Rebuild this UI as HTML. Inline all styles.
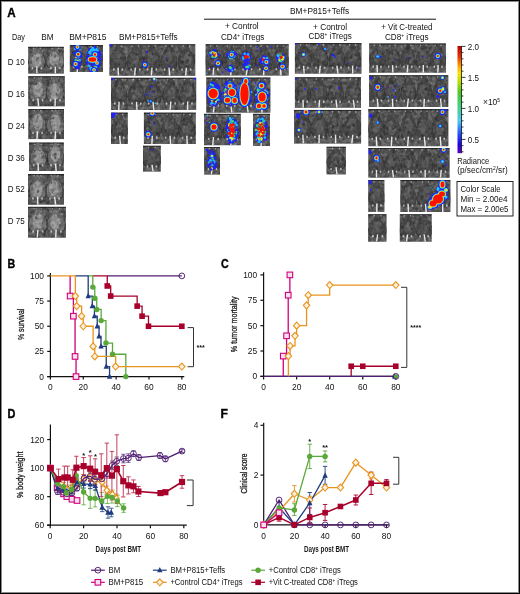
<!DOCTYPE html>
<html><head><meta charset="utf-8"><style>
html,body{margin:0;padding:0;background:#fff;}
#f{position:relative;width:520px;height:594px;overflow:hidden;}
svg{position:absolute;left:0;top:0;will-change:transform;}
#bd{position:absolute;left:0;top:0;width:520px;height:594px;box-sizing:border-box;border:1px solid #000;box-shadow:inset 0 0 0 1px rgba(0,0,0,0.45);}
</style></head><body><div id="f">
<svg width="520" height="594" viewBox="0 0 520 594" font-family="Liberation Sans, sans-serif">
<text x="7.20" y="17.30" font-size="12" textLength="8.40" lengthAdjust="spacingAndGlyphs" font-weight="bold" fill="#000" stroke="#000" stroke-width="0.35">A</text>
<text x="11.90" y="39.50" font-size="8.4" textLength="12.90" lengthAdjust="spacingAndGlyphs" fill="#111" >Day</text>
<text x="41.30" y="39.50" font-size="8.4" textLength="12.30" lengthAdjust="spacingAndGlyphs" fill="#111" >BM</text>
<text x="69.20" y="39.60" font-size="8.4" textLength="37.20" lengthAdjust="spacingAndGlyphs" fill="#111" >BM+P815</text>
<text x="118.90" y="39.50" font-size="8.4" textLength="58.80" lengthAdjust="spacingAndGlyphs" fill="#111" >BM+P815+Teffs</text>
<text x="290.00" y="14.40" font-size="8.4" textLength="59.20" lengthAdjust="spacingAndGlyphs" fill="#111" >BM+P815+Teffs</text>
<line x1="204" y1="19.2" x2="436" y2="19.2" stroke="#111" stroke-width="1"/>
<text x="225.00" y="29.40" font-size="8.4" textLength="33.70" lengthAdjust="spacingAndGlyphs" fill="#111" >+ Control</text>
<text x="221.00" y="39.50" font-size="8.4" textLength="43.40" lengthAdjust="spacingAndGlyphs" fill="#111" >CD4<tspan font-size="5" dy="-3">+</tspan><tspan dy="3"> iTregs</tspan></text>
<text x="313.00" y="29.60" font-size="8.4" textLength="34.00" lengthAdjust="spacingAndGlyphs" fill="#111" >+ Control</text>
<text x="308.50" y="39.40" font-size="8.4" textLength="43.20" lengthAdjust="spacingAndGlyphs" fill="#111" >CD8<tspan font-size="5" dy="-3">+</tspan><tspan dy="3"> iTregs</tspan></text>
<text x="381.20" y="29.80" font-size="8.4" textLength="51.30" lengthAdjust="spacingAndGlyphs" fill="#111" >+ Vit C-treated</text>
<text x="385.00" y="39.70" font-size="8.4" textLength="43.60" lengthAdjust="spacingAndGlyphs" fill="#111" >CD8<tspan font-size="5" dy="-3">+</tspan><tspan dy="3"> iTregs</tspan></text>
<text x="7.70" y="64.90" font-size="8.4" textLength="17.00" lengthAdjust="spacingAndGlyphs" fill="#111" >D 10</text>
<text x="7.70" y="96.70" font-size="8.4" textLength="17.00" lengthAdjust="spacingAndGlyphs" fill="#111" >D 16</text>
<text x="7.70" y="128.70" font-size="8.4" textLength="17.00" lengthAdjust="spacingAndGlyphs" fill="#111" >D 24</text>
<text x="7.70" y="160.90" font-size="8.4" textLength="17.00" lengthAdjust="spacingAndGlyphs" fill="#111" >D 36</text>
<text x="7.70" y="192.40" font-size="8.4" textLength="17.00" lengthAdjust="spacingAndGlyphs" fill="#111" >D 52</text>
<text x="7.70" y="224.20" font-size="8.4" textLength="17.00" lengthAdjust="spacingAndGlyphs" fill="#111" >D 75</text>
<defs><filter id="bl" color-interpolation-filters="sRGB" x="-20%" y="-20%" width="140%" height="140%"><feGaussianBlur stdDeviation="0.55"/></filter><filter id="noise" color-interpolation-filters="sRGB" x="0" y="0" width="100%" height="100%"><feTurbulence type="fractalNoise" baseFrequency="0.28" numOctaves="3" seed="4"/><feColorMatrix type="matrix" values="1.5 0 0 0 -0.25  1.5 0 0 0 -0.25  1.5 0 0 0 -0.25  0 0 0 0 0.25"/></filter><filter id="bl2" color-interpolation-filters="sRGB" x="-50%" y="-50%" width="200%" height="200%"><feGaussianBlur stdDeviation="0.7"/></filter><linearGradient id="cbar" x1="0" y1="0" x2="0" y2="1"><stop offset="0" stop-color="#b80000"/><stop offset="0.1" stop-color="#e83000"/><stop offset="0.2" stop-color="#ffb000"/><stop offset="0.25" stop-color="#f8e000"/><stop offset="0.33" stop-color="#b8e000"/><stop offset="0.43" stop-color="#50c820"/><stop offset="0.58" stop-color="#40d090"/><stop offset="0.7" stop-color="#50c8f0"/><stop offset="0.82" stop-color="#2050ff"/><stop offset="0.92" stop-color="#2000e8"/><stop offset="1" stop-color="#6000c0"/></linearGradient></defs>
<g><rect x="28.2" y="46.8" width="35.6" height="26.8" fill="#464646"/>
<clipPath id="cp0"><rect x="28.2" y="46.8" width="35.6" height="26.8"/></clipPath>
<g clip-path="url(#cp0)"><g filter="url(#bl)">
<rect x="28.2" y="46.8" width="35.6" height="1.2" fill="#2a2a2a"/>
<path d="M36.9,47.8 L38.7,48.4 L39.7,50.0 L40.7,52.1 L43.1,54.8 L44.7,58.0 L45.9,62.0 L45.1,65.3 L44.2,67.7 L41.2,68.7 L38.2,69.0 L35.6,69.0 L32.6,68.7 L29.6,67.7 L28.7,65.3 L27.9,62.0 L29.0,58.0 L30.7,54.8 L33.1,52.1 L34.1,50.0 L35.1,48.4 L36.9,47.8 Z" fill="#363636"/>
<path d="M36.9,47.3 L38.6,47.9 L39.5,49.5 L40.3,51.6 L42.5,54.3 L44.0,57.5 L45.1,61.5 L44.3,64.8 L43.5,67.2 L40.8,68.2 L38.1,68.5 L35.7,68.5 L33.0,68.2 L30.2,67.2 L29.5,64.8 L28.7,61.5 L29.8,57.5 L31.2,54.3 L33.4,51.6 L34.3,49.5 L35.2,47.9 L36.9,47.3 Z" fill="#6a6a6a"/>
<ellipse cx="36.7" cy="60.0" rx="4.9" ry="7.2" fill="#989898" opacity="0.85"/>
<ellipse cx="32.6" cy="53.4" rx="1.1" ry="1.3" fill="#5c5c5c"/>
<ellipse cx="42.3" cy="50.3" rx="0.9" ry="1.0" fill="#626262"/>
<ellipse cx="32.5" cy="54.9" rx="0.7" ry="1.5" fill="#626262"/>
<ellipse cx="33.3" cy="51.2" rx="1.1" ry="1.5" fill="#5c5c5c"/>
<ellipse cx="36.8" cy="58.7" rx="1.0" ry="1.9" fill="#767676"/>
<ellipse cx="35.3" cy="53.8" rx="1.2" ry="1.1" fill="#626262"/>
<ellipse cx="37.7" cy="58.6" rx="1.3" ry="1.1" fill="#767676"/>
<ellipse cx="42.4" cy="51.5" rx="0.7" ry="1.2" fill="#7c7c7c"/>
<ellipse cx="41.9" cy="56.8" rx="1.3" ry="1.5" fill="#5c5c5c"/>
<ellipse cx="41.2" cy="54.9" rx="1.1" ry="1.5" fill="#767676"/>
<circle cx="33.6" cy="48.4" r="0.8" fill="#9a9a9a"/>
<ellipse cx="32.4" cy="68.2" rx="0.9" ry="1.2" fill="#b8b8b8"/>
<circle cx="40.2" cy="48.4" r="0.8" fill="#9a9a9a"/>
<ellipse cx="41.4" cy="68.2" rx="0.9" ry="1.2" fill="#b8b8b8"/>
<line x1="36.9" y1="66.6" x2="36.8" y2="73.6" stroke="#e8e8e8" stroke-width="1.4"/>
<path d="M55.3,47.8 L57.1,48.4 L58.3,50.0 L58.9,52.1 L61.8,54.8 L63.7,58.0 L64.8,62.0 L64.3,65.3 L62.5,67.7 L59.7,68.7 L56.7,69.0 L53.9,69.0 L50.9,68.7 L48.1,67.7 L46.3,65.3 L45.8,62.0 L46.9,58.0 L48.9,54.8 L51.7,52.1 L52.3,50.0 L53.5,48.4 L55.3,47.8 Z" fill="#363636"/>
<path d="M55.3,47.3 L56.9,47.9 L58.1,49.5 L58.6,51.6 L61.2,54.3 L63.0,57.5 L64.0,61.5 L63.5,64.8 L61.8,67.2 L59.3,68.2 L56.6,68.5 L54.1,68.5 L51.3,68.2 L48.8,67.2 L47.1,64.8 L46.6,61.5 L47.6,57.5 L49.4,54.3 L52.1,51.6 L52.6,49.5 L53.7,47.9 L55.3,47.3 Z" fill="#6a6a6a"/>
<ellipse cx="54.2" cy="59.0" rx="4.9" ry="7.2" fill="#989898" opacity="0.85"/>
<ellipse cx="51.5" cy="51.5" rx="0.8" ry="1.1" fill="#5c5c5c"/>
<ellipse cx="58.0" cy="56.4" rx="0.7" ry="1.3" fill="#7c7c7c"/>
<ellipse cx="55.9" cy="64.9" rx="1.4" ry="1.1" fill="#7c7c7c"/>
<ellipse cx="54.3" cy="55.7" rx="1.5" ry="1.0" fill="#7c7c7c"/>
<ellipse cx="51.6" cy="53.5" rx="0.6" ry="1.8" fill="#626262"/>
<ellipse cx="51.7" cy="54.4" rx="1.0" ry="1.2" fill="#626262"/>
<ellipse cx="56.1" cy="66.1" rx="1.0" ry="1.8" fill="#5c5c5c"/>
<ellipse cx="60.5" cy="61.3" rx="1.0" ry="1.3" fill="#7c7c7c"/>
<ellipse cx="55.1" cy="56.5" rx="0.7" ry="1.1" fill="#626262"/>
<ellipse cx="51.4" cy="55.4" rx="0.7" ry="1.5" fill="#5c5c5c"/>
<circle cx="52.0" cy="48.4" r="0.8" fill="#9a9a9a"/>
<ellipse cx="50.8" cy="68.2" rx="0.9" ry="1.2" fill="#b8b8b8"/>
<circle cx="58.6" cy="48.4" r="0.8" fill="#9a9a9a"/>
<ellipse cx="59.8" cy="68.2" rx="0.9" ry="1.2" fill="#b8b8b8"/>
<line x1="55.3" y1="66.6" x2="55.4" y2="73.6" stroke="#e8e8e8" stroke-width="1.4"/>
</g>
<rect x="28.2" y="46.8" width="35.6" height="26.8" filter="url(#noise)" style="mix-blend-mode:overlay"/>
</g></g>
<g><rect x="28.2" y="76.2" width="36.6" height="30.1" fill="#464646"/>
<clipPath id="cp1"><rect x="28.2" y="76.2" width="36.6" height="30.1"/></clipPath>
<g clip-path="url(#cp1)"><g filter="url(#bl)">
<rect x="28.2" y="76.2" width="36.6" height="1.2" fill="#2a2a2a"/>
<path d="M37.9,77.3 L39.6,77.9 L40.8,79.7 L41.7,82.1 L44.5,85.1 L46.9,88.7 L47.3,93.3 L46.8,96.9 L45.1,99.6 L42.5,100.8 L39.4,101.1 L36.4,101.1 L33.3,100.8 L30.6,99.6 L29.0,96.9 L28.5,93.3 L28.9,88.7 L31.3,85.1 L34.1,82.1 L34.9,79.7 L36.1,77.9 L37.9,77.3 Z" fill="#363636"/>
<path d="M37.9,76.8 L39.5,77.4 L40.6,79.2 L41.4,81.6 L43.9,84.6 L46.1,88.2 L46.4,92.8 L45.9,96.4 L44.5,99.1 L42.1,100.3 L39.2,100.6 L36.6,100.6 L33.7,100.3 L31.3,99.1 L29.8,96.4 L29.4,92.8 L29.7,88.2 L31.9,84.6 L34.4,81.6 L35.2,79.2 L36.3,77.4 L37.9,76.8 Z" fill="#6a6a6a"/>
<ellipse cx="37.8" cy="89.5" rx="5.1" ry="8.1" fill="#989898" opacity="0.85"/>
<ellipse cx="33.7" cy="93.9" rx="1.0" ry="1.6" fill="#767676"/>
<ellipse cx="38.1" cy="83.2" rx="0.7" ry="1.5" fill="#767676"/>
<ellipse cx="32.3" cy="89.5" rx="1.2" ry="1.1" fill="#5c5c5c"/>
<ellipse cx="36.3" cy="82.5" rx="1.1" ry="1.7" fill="#626262"/>
<ellipse cx="35.9" cy="83.6" rx="1.3" ry="1.8" fill="#626262"/>
<ellipse cx="40.7" cy="83.6" rx="0.9" ry="0.8" fill="#7c7c7c"/>
<ellipse cx="32.3" cy="84.7" rx="0.8" ry="1.5" fill="#767676"/>
<ellipse cx="36.1" cy="95.0" rx="1.5" ry="1.2" fill="#767676"/>
<ellipse cx="34.6" cy="83.6" rx="0.9" ry="1.4" fill="#626262"/>
<ellipse cx="43.6" cy="91.1" rx="1.0" ry="1.6" fill="#5c5c5c"/>
<circle cx="34.5" cy="78.0" r="0.8" fill="#9a9a9a"/>
<ellipse cx="33.3" cy="100.3" rx="0.9" ry="1.2" fill="#b8b8b8"/>
<circle cx="41.3" cy="78.0" r="0.8" fill="#9a9a9a"/>
<ellipse cx="42.5" cy="100.3" rx="0.9" ry="1.2" fill="#b8b8b8"/>
<line x1="37.9" y1="98.5" x2="38.6" y2="106.3" stroke="#e8e8e8" stroke-width="1.4"/>
<path d="M55.2,77.3 L57.1,77.9 L58.3,79.7 L59.2,82.1 L61.6,85.1 L63.3,88.7 L64.7,93.3 L63.9,96.9 L63.0,99.6 L60.0,100.8 L56.5,101.1 L53.8,101.1 L50.3,100.8 L47.3,99.6 L46.4,96.9 L45.6,93.3 L47.0,88.7 L48.7,85.1 L51.1,82.1 L52.0,79.7 L53.2,77.9 L55.2,77.3 Z" fill="#363636"/>
<path d="M55.2,76.8 L56.9,77.4 L58.0,79.2 L58.8,81.6 L61.0,84.6 L62.6,88.2 L63.9,92.8 L63.1,96.4 L62.3,99.1 L59.6,100.3 L56.4,100.6 L53.9,100.6 L50.7,100.3 L48.0,99.1 L47.2,96.4 L46.4,92.8 L47.7,88.2 L49.3,84.6 L51.5,81.6 L52.3,79.2 L53.4,77.4 L55.2,76.8 Z" fill="#6a6a6a"/>
<ellipse cx="54.9" cy="91.4" rx="5.1" ry="8.1" fill="#989898" opacity="0.85"/>
<ellipse cx="57.8" cy="82.5" rx="0.6" ry="1.5" fill="#626262"/>
<ellipse cx="54.7" cy="92.0" rx="1.2" ry="1.2" fill="#7c7c7c"/>
<ellipse cx="55.7" cy="81.8" rx="1.3" ry="1.7" fill="#5c5c5c"/>
<ellipse cx="50.5" cy="93.9" rx="1.0" ry="1.8" fill="#626262"/>
<ellipse cx="59.0" cy="83.3" rx="0.8" ry="1.4" fill="#767676"/>
<ellipse cx="58.3" cy="85.6" rx="1.4" ry="0.9" fill="#7c7c7c"/>
<ellipse cx="58.0" cy="96.8" rx="1.3" ry="1.9" fill="#7c7c7c"/>
<ellipse cx="50.8" cy="82.2" rx="1.4" ry="1.7" fill="#5c5c5c"/>
<ellipse cx="56.4" cy="94.4" rx="0.8" ry="1.4" fill="#626262"/>
<ellipse cx="57.8" cy="90.1" rx="1.2" ry="1.4" fill="#767676"/>
<circle cx="51.8" cy="78.0" r="0.8" fill="#9a9a9a"/>
<ellipse cx="50.5" cy="100.3" rx="0.9" ry="1.2" fill="#b8b8b8"/>
<circle cx="58.5" cy="78.0" r="0.8" fill="#9a9a9a"/>
<ellipse cx="59.8" cy="100.3" rx="0.9" ry="1.2" fill="#b8b8b8"/>
<line x1="55.2" y1="98.5" x2="55.1" y2="106.3" stroke="#e8e8e8" stroke-width="1.4"/>
</g>
<rect x="28.2" y="76.2" width="36.6" height="30.1" filter="url(#noise)" style="mix-blend-mode:overlay"/>
</g></g>
<g><rect x="28.3" y="109.0" width="35.7" height="30.1" fill="#464646"/>
<clipPath id="cp2"><rect x="28.3" y="109.0" width="35.7" height="30.1"/></clipPath>
<g clip-path="url(#cp2)"><g filter="url(#bl)">
<rect x="28.3" y="109.0" width="35.7" height="1.2" fill="#2a2a2a"/>
<path d="M37.6,110.1 L39.3,110.7 L40.4,112.5 L41.1,114.9 L43.6,117.9 L45.8,121.5 L46.1,126.1 L46.6,129.7 L44.6,132.4 L42.0,133.6 L39.0,133.9 L36.1,133.9 L33.1,133.6 L30.5,132.4 L28.5,129.7 L29.0,126.1 L29.3,121.5 L31.5,117.9 L34.0,114.9 L34.7,112.5 L35.8,110.7 L37.6,110.1 Z" fill="#363636"/>
<path d="M37.6,109.6 L39.1,110.2 L40.2,112.0 L40.8,114.4 L43.0,117.4 L45.1,121.0 L45.3,125.6 L45.8,129.2 L43.9,131.9 L41.6,133.1 L38.9,133.4 L36.3,133.4 L33.5,133.1 L31.2,131.9 L29.3,129.2 L29.8,125.6 L30.0,121.0 L32.1,117.4 L34.3,114.4 L34.9,112.0 L36.0,110.2 L37.6,109.6 Z" fill="#6a6a6a"/>
<ellipse cx="37.8" cy="121.9" rx="4.9" ry="8.1" fill="#989898" opacity="0.85"/>
<ellipse cx="35.0" cy="122.0" rx="1.1" ry="1.1" fill="#7c7c7c"/>
<ellipse cx="37.8" cy="129.1" rx="1.4" ry="1.9" fill="#767676"/>
<ellipse cx="34.1" cy="120.8" rx="0.7" ry="1.3" fill="#7c7c7c"/>
<ellipse cx="32.6" cy="116.7" rx="0.8" ry="1.2" fill="#5c5c5c"/>
<ellipse cx="33.2" cy="127.2" rx="0.7" ry="1.9" fill="#767676"/>
<ellipse cx="42.9" cy="116.3" rx="1.0" ry="1.4" fill="#5c5c5c"/>
<ellipse cx="43.2" cy="128.3" rx="1.2" ry="2.0" fill="#626262"/>
<ellipse cx="36.5" cy="120.3" rx="0.9" ry="1.7" fill="#767676"/>
<ellipse cx="32.0" cy="122.8" rx="1.2" ry="1.3" fill="#7c7c7c"/>
<ellipse cx="37.8" cy="117.8" rx="0.7" ry="1.9" fill="#5c5c5c"/>
<circle cx="34.3" cy="110.8" r="0.8" fill="#9a9a9a"/>
<ellipse cx="33.0" cy="133.1" rx="0.9" ry="1.2" fill="#b8b8b8"/>
<circle cx="40.8" cy="110.8" r="0.8" fill="#9a9a9a"/>
<ellipse cx="42.1" cy="133.1" rx="0.9" ry="1.2" fill="#b8b8b8"/>
<line x1="37.6" y1="131.3" x2="36.9" y2="139.1" stroke="#e8e8e8" stroke-width="1.4"/>
<path d="M55.5,110.1 L57.3,110.7 L58.7,112.5 L59.2,114.9 L62.0,117.9 L64.2,121.5 L64.9,126.1 L64.4,129.7 L63.3,132.4 L60.0,133.6 L56.9,133.9 L54.2,133.9 L51.1,133.6 L47.7,132.4 L46.7,129.7 L46.1,126.1 L46.9,121.5 L49.0,117.9 L51.9,114.9 L52.4,112.5 L53.8,110.7 L55.5,110.1 Z" fill="#363636"/>
<path d="M55.5,109.6 L57.1,110.2 L58.4,112.0 L58.8,114.4 L61.5,117.4 L63.4,121.0 L64.1,125.6 L63.6,129.2 L62.6,131.9 L59.6,133.1 L56.8,133.4 L54.3,133.4 L51.5,133.1 L48.4,131.9 L47.5,129.2 L47.0,125.6 L47.7,121.0 L49.6,117.4 L52.2,114.4 L52.7,112.0 L53.9,110.2 L55.5,109.6 Z" fill="#6a6a6a"/>
<ellipse cx="55.6" cy="122.8" rx="4.9" ry="8.1" fill="#989898" opacity="0.85"/>
<ellipse cx="53.5" cy="117.5" rx="1.0" ry="0.9" fill="#626262"/>
<ellipse cx="60.6" cy="124.4" rx="0.7" ry="1.8" fill="#767676"/>
<ellipse cx="50.5" cy="128.9" rx="0.6" ry="2.0" fill="#7c7c7c"/>
<ellipse cx="54.6" cy="129.9" rx="0.6" ry="1.7" fill="#626262"/>
<ellipse cx="60.6" cy="131.0" rx="0.6" ry="1.0" fill="#767676"/>
<ellipse cx="53.4" cy="118.0" rx="0.9" ry="1.4" fill="#626262"/>
<ellipse cx="51.8" cy="118.8" rx="1.5" ry="0.8" fill="#5c5c5c"/>
<ellipse cx="50.0" cy="121.9" rx="1.1" ry="1.1" fill="#626262"/>
<ellipse cx="54.9" cy="124.9" rx="1.2" ry="1.5" fill="#7c7c7c"/>
<ellipse cx="60.0" cy="131.0" rx="1.2" ry="2.0" fill="#767676"/>
<circle cx="52.2" cy="110.8" r="0.8" fill="#9a9a9a"/>
<ellipse cx="51.0" cy="133.1" rx="0.9" ry="1.2" fill="#b8b8b8"/>
<circle cx="58.8" cy="110.8" r="0.8" fill="#9a9a9a"/>
<ellipse cx="60.0" cy="133.1" rx="0.9" ry="1.2" fill="#b8b8b8"/>
<line x1="55.5" y1="131.3" x2="55.1" y2="139.1" stroke="#e8e8e8" stroke-width="1.4"/>
</g>
<rect x="28.3" y="109.0" width="35.7" height="30.1" filter="url(#noise)" style="mix-blend-mode:overlay"/>
</g></g>
<g><rect x="29.0" y="142.5" width="34.8" height="28.5" fill="#464646"/>
<clipPath id="cp3"><rect x="29.0" y="142.5" width="34.8" height="28.5"/></clipPath>
<g clip-path="url(#cp3)"><g filter="url(#bl)">
<rect x="29.0" y="142.5" width="34.8" height="1.2" fill="#2a2a2a"/>
<path d="M38.1,143.6 L39.9,144.1 L41.0,145.8 L41.7,148.1 L43.9,151.0 L45.8,154.4 L46.4,158.7 L46.8,162.1 L45.1,164.7 L42.3,165.8 L39.4,166.1 L36.8,166.1 L33.9,165.8 L31.1,164.7 L29.4,162.1 L29.7,158.7 L30.4,154.4 L32.3,151.0 L34.5,148.1 L35.2,145.8 L36.3,144.1 L38.1,143.6 Z" fill="#363636"/>
<path d="M38.1,143.1 L39.7,143.6 L40.7,145.3 L41.4,147.6 L43.4,150.5 L45.1,153.9 L45.7,158.2 L46.0,161.6 L44.5,164.2 L41.9,165.3 L39.2,165.6 L37.0,165.6 L34.3,165.3 L31.7,164.2 L30.2,161.6 L30.5,158.2 L31.1,153.9 L32.8,150.5 L34.8,147.6 L35.5,145.3 L36.5,143.6 L38.1,143.1 Z" fill="#6a6a6a"/>
<ellipse cx="38.9" cy="156.7" rx="4.8" ry="7.7" fill="#989898" opacity="0.85"/>
<ellipse cx="40.0" cy="150.6" rx="1.2" ry="0.9" fill="#626262"/>
<ellipse cx="34.6" cy="150.3" rx="0.8" ry="2.0" fill="#5c5c5c"/>
<ellipse cx="43.4" cy="155.5" rx="0.6" ry="1.9" fill="#626262"/>
<ellipse cx="34.9" cy="148.7" rx="0.9" ry="1.4" fill="#767676"/>
<ellipse cx="38.1" cy="149.1" rx="0.7" ry="1.8" fill="#5c5c5c"/>
<ellipse cx="34.1" cy="156.2" rx="0.6" ry="1.2" fill="#7c7c7c"/>
<ellipse cx="35.1" cy="156.2" rx="1.2" ry="1.7" fill="#626262"/>
<ellipse cx="42.3" cy="152.6" rx="1.2" ry="1.4" fill="#767676"/>
<ellipse cx="35.7" cy="156.8" rx="0.6" ry="1.8" fill="#626262"/>
<ellipse cx="42.5" cy="157.0" rx="1.4" ry="1.7" fill="#626262"/>
<circle cx="34.9" cy="144.2" r="0.8" fill="#9a9a9a"/>
<ellipse cx="33.7" cy="165.3" rx="0.9" ry="1.2" fill="#b8b8b8"/>
<circle cx="41.3" cy="144.2" r="0.8" fill="#9a9a9a"/>
<ellipse cx="42.5" cy="165.3" rx="0.9" ry="1.2" fill="#b8b8b8"/>
<line x1="38.1" y1="163.6" x2="38.3" y2="171.0" stroke="#e8e8e8" stroke-width="1.4"/>
<path d="M55.5,143.6 L57.3,144.1 L58.5,145.8 L59.3,148.1 L62.0,151.0 L63.7,154.4 L63.8,158.7 L63.5,162.1 L62.8,164.7 L60.1,165.8 L56.8,166.1 L54.2,166.1 L50.8,165.8 L48.1,164.7 L47.5,162.1 L47.1,158.7 L47.2,154.4 L49.0,151.0 L51.7,148.1 L52.5,145.8 L53.7,144.1 L55.5,143.6 Z" fill="#363636"/>
<path d="M55.5,143.1 L57.1,143.6 L58.2,145.3 L58.9,147.6 L61.4,150.5 L63.0,153.9 L63.1,158.2 L62.7,161.6 L62.1,164.2 L59.7,165.3 L56.7,165.6 L54.3,165.6 L51.3,165.3 L48.8,164.2 L48.2,161.6 L47.9,158.2 L48.0,153.9 L49.6,150.5 L52.0,147.6 L52.7,145.3 L53.8,143.6 L55.5,143.1 Z" fill="#6a6a6a"/>
<ellipse cx="55.4" cy="154.3" rx="4.8" ry="7.7" fill="#989898" opacity="0.85"/>
<ellipse cx="50.1" cy="155.2" rx="1.0" ry="0.8" fill="#626262"/>
<ellipse cx="58.8" cy="159.2" rx="1.2" ry="0.9" fill="#5c5c5c"/>
<ellipse cx="58.1" cy="150.0" rx="1.4" ry="1.1" fill="#5c5c5c"/>
<ellipse cx="58.3" cy="149.6" rx="1.0" ry="1.3" fill="#7c7c7c"/>
<ellipse cx="55.2" cy="158.0" rx="1.2" ry="1.6" fill="#5c5c5c"/>
<ellipse cx="50.7" cy="148.1" rx="1.2" ry="1.6" fill="#767676"/>
<ellipse cx="56.8" cy="147.8" rx="0.7" ry="1.1" fill="#7c7c7c"/>
<ellipse cx="57.4" cy="158.2" rx="0.9" ry="1.4" fill="#7c7c7c"/>
<ellipse cx="55.1" cy="154.0" rx="1.5" ry="1.5" fill="#5c5c5c"/>
<ellipse cx="53.4" cy="146.9" rx="0.6" ry="1.4" fill="#7c7c7c"/>
<circle cx="52.3" cy="144.2" r="0.8" fill="#9a9a9a"/>
<ellipse cx="51.1" cy="165.3" rx="0.9" ry="1.2" fill="#b8b8b8"/>
<circle cx="58.7" cy="144.2" r="0.8" fill="#9a9a9a"/>
<ellipse cx="59.9" cy="165.3" rx="0.9" ry="1.2" fill="#b8b8b8"/>
<line x1="55.5" y1="163.6" x2="56.2" y2="171.0" stroke="#e8e8e8" stroke-width="1.4"/>
</g>
<rect x="29.0" y="142.5" width="34.8" height="28.5" filter="url(#noise)" style="mix-blend-mode:overlay"/>
</g></g>
<g><rect x="28.0" y="174.0" width="36.0" height="30.7" fill="#464646"/>
<clipPath id="cp4"><rect x="28.0" y="174.0" width="36.0" height="30.7"/></clipPath>
<g clip-path="url(#cp4)"><g filter="url(#bl)">
<rect x="28.0" y="174.0" width="36.0" height="1.2" fill="#2a2a2a"/>
<path d="M37.6,175.1 L39.3,175.7 L40.5,177.6 L41.6,180.0 L43.7,183.1 L46.0,186.8 L46.3,191.4 L46.3,195.1 L45.4,197.8 L41.9,199.1 L39.0,199.4 L36.1,199.4 L33.2,199.1 L29.7,197.8 L28.8,195.1 L28.8,191.4 L29.1,186.8 L31.4,183.1 L33.5,180.0 L34.7,177.6 L35.8,175.7 L37.6,175.1 Z" fill="#363636"/>
<path d="M37.6,174.6 L39.2,175.2 L40.2,177.1 L41.2,179.5 L43.2,182.6 L45.3,186.3 L45.5,190.9 L45.5,194.6 L44.7,197.3 L41.5,198.6 L38.9,198.9 L36.3,198.9 L33.6,198.6 L30.4,197.3 L29.6,194.6 L29.6,190.9 L29.9,186.3 L32.0,182.6 L33.9,179.5 L34.9,177.1 L36.0,175.2 L37.6,174.6 Z" fill="#6a6a6a"/>
<ellipse cx="37.6" cy="189.3" rx="5.0" ry="8.3" fill="#989898" opacity="0.85"/>
<ellipse cx="39.9" cy="181.7" rx="1.0" ry="1.0" fill="#7c7c7c"/>
<ellipse cx="42.8" cy="190.7" rx="0.9" ry="1.0" fill="#7c7c7c"/>
<ellipse cx="35.8" cy="183.4" rx="0.6" ry="1.7" fill="#767676"/>
<ellipse cx="41.5" cy="179.5" rx="1.2" ry="1.9" fill="#626262"/>
<ellipse cx="35.1" cy="184.5" rx="1.0" ry="1.8" fill="#7c7c7c"/>
<ellipse cx="32.7" cy="195.5" rx="1.4" ry="1.1" fill="#767676"/>
<ellipse cx="32.4" cy="190.3" rx="0.8" ry="1.1" fill="#626262"/>
<ellipse cx="37.7" cy="180.9" rx="1.3" ry="1.3" fill="#767676"/>
<ellipse cx="32.1" cy="192.3" rx="1.4" ry="1.9" fill="#7c7c7c"/>
<ellipse cx="38.1" cy="191.4" rx="1.4" ry="1.3" fill="#5c5c5c"/>
<circle cx="34.2" cy="175.8" r="0.8" fill="#9a9a9a"/>
<ellipse cx="33.0" cy="198.6" rx="0.9" ry="1.2" fill="#b8b8b8"/>
<circle cx="40.9" cy="175.8" r="0.8" fill="#9a9a9a"/>
<ellipse cx="42.1" cy="198.6" rx="0.9" ry="1.2" fill="#b8b8b8"/>
<line x1="37.6" y1="196.7" x2="37.8" y2="204.7" stroke="#e8e8e8" stroke-width="1.4"/>
<path d="M54.6,175.1 L56.4,175.7 L57.7,177.6 L58.4,180.0 L60.7,183.1 L62.9,186.8 L63.4,191.4 L63.1,195.1 L62.2,197.8 L59.2,199.1 L55.9,199.4 L53.2,199.4 L49.9,199.1 L46.9,197.8 L46.1,195.1 L45.7,191.4 L46.3,186.8 L48.4,183.1 L50.7,180.0 L51.4,177.6 L52.7,175.7 L54.6,175.1 Z" fill="#363636"/>
<path d="M54.6,174.6 L56.2,175.2 L57.4,177.1 L58.1,179.5 L60.1,182.6 L62.1,186.3 L62.6,190.9 L62.3,194.6 L61.6,197.3 L58.8,198.6 L55.8,198.9 L53.3,198.9 L50.4,198.6 L47.6,197.3 L46.9,194.6 L46.5,190.9 L47.0,186.3 L49.0,182.6 L51.1,179.5 L51.7,177.1 L52.9,175.2 L54.6,174.6 Z" fill="#6a6a6a"/>
<ellipse cx="53.9" cy="188.1" rx="5.0" ry="8.3" fill="#989898" opacity="0.85"/>
<ellipse cx="56.5" cy="179.5" rx="0.7" ry="1.4" fill="#626262"/>
<ellipse cx="58.2" cy="188.1" rx="1.4" ry="2.0" fill="#7c7c7c"/>
<ellipse cx="54.0" cy="179.9" rx="0.8" ry="1.0" fill="#626262"/>
<ellipse cx="55.2" cy="183.4" rx="0.8" ry="1.5" fill="#767676"/>
<ellipse cx="59.1" cy="192.0" rx="0.9" ry="1.7" fill="#7c7c7c"/>
<ellipse cx="51.2" cy="182.5" rx="1.0" ry="1.5" fill="#5c5c5c"/>
<ellipse cx="52.9" cy="190.8" rx="0.7" ry="1.9" fill="#626262"/>
<ellipse cx="53.2" cy="190.0" rx="1.5" ry="1.8" fill="#7c7c7c"/>
<ellipse cx="58.9" cy="177.5" rx="1.0" ry="1.7" fill="#5c5c5c"/>
<ellipse cx="58.1" cy="196.4" rx="0.6" ry="1.3" fill="#7c7c7c"/>
<circle cx="51.3" cy="175.8" r="0.8" fill="#9a9a9a"/>
<ellipse cx="50.0" cy="198.6" rx="0.9" ry="1.2" fill="#b8b8b8"/>
<circle cx="57.9" cy="175.8" r="0.8" fill="#9a9a9a"/>
<ellipse cx="59.1" cy="198.6" rx="0.9" ry="1.2" fill="#b8b8b8"/>
<line x1="54.6" y1="196.7" x2="55.6" y2="204.7" stroke="#e8e8e8" stroke-width="1.4"/>
</g>
<rect x="28.0" y="174.0" width="36.0" height="30.7" filter="url(#noise)" style="mix-blend-mode:overlay"/>
</g></g>
<g><rect x="28.0" y="206.8" width="37.9" height="30.9" fill="#464646"/>
<clipPath id="cp5"><rect x="28.0" y="206.8" width="37.9" height="30.9"/></clipPath>
<g clip-path="url(#cp5)"><g filter="url(#bl)">
<rect x="28.0" y="206.8" width="37.9" height="1.2" fill="#2a2a2a"/>
<path d="M37.9,207.9 L39.9,208.5 L40.9,210.4 L41.7,212.9 L44.3,216.0 L46.7,219.7 L47.7,224.3 L47.6,228.0 L45.9,230.8 L42.7,232.0 L39.3,232.3 L36.4,232.3 L33.0,232.0 L29.8,230.8 L28.2,228.0 L28.1,224.3 L29.0,219.7 L31.4,216.0 L34.0,212.9 L34.8,210.4 L35.8,208.5 L37.9,207.9 Z" fill="#363636"/>
<path d="M37.9,207.4 L39.7,208.0 L40.7,209.9 L41.4,212.4 L43.7,215.5 L45.9,219.2 L46.8,223.8 L46.7,227.5 L45.2,230.3 L42.3,231.5 L39.2,231.8 L36.5,231.8 L33.4,231.5 L30.5,230.3 L29.1,227.5 L29.0,223.8 L29.8,219.2 L32.0,215.5 L34.4,212.4 L35.1,209.9 L36.0,208.0 L37.9,207.4 Z" fill="#6a6a6a"/>
<ellipse cx="37.8" cy="221.2" rx="5.2" ry="8.3" fill="#989898" opacity="0.85"/>
<ellipse cx="32.2" cy="225.6" rx="1.1" ry="0.8" fill="#626262"/>
<ellipse cx="40.5" cy="229.2" rx="1.1" ry="1.3" fill="#767676"/>
<ellipse cx="41.1" cy="211.9" rx="1.1" ry="1.5" fill="#767676"/>
<ellipse cx="36.5" cy="214.4" rx="0.6" ry="1.2" fill="#5c5c5c"/>
<ellipse cx="37.4" cy="229.2" rx="1.0" ry="1.1" fill="#626262"/>
<ellipse cx="34.8" cy="229.2" rx="0.6" ry="1.0" fill="#767676"/>
<ellipse cx="42.6" cy="222.9" rx="0.8" ry="1.6" fill="#5c5c5c"/>
<ellipse cx="43.1" cy="214.4" rx="1.2" ry="1.7" fill="#5c5c5c"/>
<ellipse cx="36.2" cy="217.9" rx="1.3" ry="1.7" fill="#5c5c5c"/>
<ellipse cx="37.9" cy="214.0" rx="0.9" ry="1.8" fill="#626262"/>
<circle cx="34.4" cy="208.7" r="0.8" fill="#9a9a9a"/>
<ellipse cx="33.1" cy="231.5" rx="0.9" ry="1.2" fill="#b8b8b8"/>
<circle cx="41.4" cy="208.7" r="0.8" fill="#9a9a9a"/>
<ellipse cx="42.7" cy="231.5" rx="0.9" ry="1.2" fill="#b8b8b8"/>
<line x1="37.9" y1="229.7" x2="37.2" y2="237.7" stroke="#e8e8e8" stroke-width="1.4"/>
<path d="M56.1,207.9 L58.0,208.5 L59.4,210.4 L60.1,212.9 L62.6,216.0 L64.6,219.7 L65.6,224.3 L65.5,228.0 L64.4,230.8 L60.7,232.0 L57.5,232.3 L54.7,232.3 L51.5,232.0 L47.8,230.8 L46.7,228.0 L46.6,224.3 L47.6,219.7 L49.6,216.0 L52.1,212.9 L52.8,210.4 L54.2,208.5 L56.1,207.9 Z" fill="#363636"/>
<path d="M56.1,207.4 L57.8,208.0 L59.1,209.9 L59.8,212.4 L62.0,215.5 L63.8,219.2 L64.7,223.8 L64.6,227.5 L63.6,230.3 L60.3,231.5 L57.4,231.8 L54.8,231.8 L51.9,231.5 L48.6,230.3 L47.6,227.5 L47.5,223.8 L48.3,219.2 L50.2,215.5 L52.4,212.4 L53.1,209.9 L54.4,208.0 L56.1,207.4 Z" fill="#6a6a6a"/>
<ellipse cx="55.4" cy="222.5" rx="5.2" ry="8.3" fill="#989898" opacity="0.85"/>
<ellipse cx="51.7" cy="210.9" rx="0.8" ry="1.3" fill="#5c5c5c"/>
<ellipse cx="58.7" cy="216.2" rx="1.5" ry="1.9" fill="#5c5c5c"/>
<ellipse cx="54.0" cy="213.6" rx="0.6" ry="1.6" fill="#7c7c7c"/>
<ellipse cx="54.6" cy="217.4" rx="1.0" ry="0.9" fill="#767676"/>
<ellipse cx="50.9" cy="211.5" rx="1.5" ry="0.9" fill="#7c7c7c"/>
<ellipse cx="61.8" cy="214.1" rx="1.3" ry="1.2" fill="#767676"/>
<ellipse cx="59.8" cy="211.7" rx="0.8" ry="1.4" fill="#7c7c7c"/>
<ellipse cx="55.4" cy="216.4" rx="0.6" ry="1.3" fill="#7c7c7c"/>
<ellipse cx="59.9" cy="225.3" rx="0.9" ry="1.4" fill="#5c5c5c"/>
<ellipse cx="59.8" cy="211.1" rx="1.3" ry="1.9" fill="#626262"/>
<circle cx="52.6" cy="208.7" r="0.8" fill="#9a9a9a"/>
<ellipse cx="51.3" cy="231.5" rx="0.9" ry="1.2" fill="#b8b8b8"/>
<circle cx="59.6" cy="208.7" r="0.8" fill="#9a9a9a"/>
<ellipse cx="60.9" cy="231.5" rx="0.9" ry="1.2" fill="#b8b8b8"/>
<line x1="56.1" y1="229.7" x2="55.7" y2="237.7" stroke="#e8e8e8" stroke-width="1.4"/>
</g>
<rect x="28.0" y="206.8" width="37.9" height="30.9" filter="url(#noise)" style="mix-blend-mode:overlay"/>
</g></g>
<g><rect x="69.8" y="45.1" width="33.2" height="26.9" fill="#4c4c4c"/>
<clipPath id="cp6"><rect x="69.8" y="45.1" width="33.2" height="26.9"/></clipPath>
<g clip-path="url(#cp6)"><g filter="url(#bl)">
<rect x="69.8" y="45.1" width="33.2" height="1.2" fill="#2a2a2a"/>
<path d="M77.8,46.1 L79.5,46.7 L80.5,48.3 L81.4,50.4 L83.6,53.1 L85.3,56.4 L85.7,60.4 L86.1,63.6 L85.1,66.0 L82.1,67.1 L79.2,67.4 L76.5,67.4 L73.6,67.1 L70.6,66.0 L69.5,63.6 L69.9,60.4 L70.3,56.4 L72.1,53.1 L74.2,50.4 L75.1,48.3 L76.1,46.7 L77.8,46.1 Z" fill="#363636"/>
<path d="M77.8,45.6 L79.4,46.2 L80.3,47.8 L81.1,49.9 L83.1,52.6 L84.7,55.9 L85.0,59.9 L85.4,63.1 L84.4,65.5 L81.7,66.6 L79.0,66.9 L76.6,66.9 L73.9,66.6 L71.3,65.5 L70.3,63.1 L70.6,59.9 L71.0,55.9 L72.6,52.6 L74.5,49.9 L75.4,47.8 L76.3,46.2 L77.8,45.6 Z" fill="#474747"/>
<ellipse cx="76.7" cy="56.8" rx="4.2" ry="5.4" fill="#5c5c5c" opacity="0.85"/>
<ellipse cx="77.6" cy="64.5" rx="1.3" ry="1.9" fill="#595959"/>
<ellipse cx="81.2" cy="50.1" rx="0.8" ry="1.8" fill="#595959"/>
<ellipse cx="80.4" cy="62.2" rx="1.1" ry="1.2" fill="#3f3f3f"/>
<ellipse cx="75.9" cy="54.1" rx="1.1" ry="1.3" fill="#393939"/>
<ellipse cx="74.2" cy="54.9" rx="1.0" ry="1.5" fill="#393939"/>
<ellipse cx="74.2" cy="55.2" rx="1.5" ry="1.1" fill="#393939"/>
<ellipse cx="73.4" cy="49.5" rx="1.5" ry="2.0" fill="#595959"/>
<ellipse cx="74.3" cy="50.1" rx="1.2" ry="1.6" fill="#595959"/>
<ellipse cx="80.5" cy="62.6" rx="1.3" ry="1.2" fill="#393939"/>
<ellipse cx="75.5" cy="52.5" rx="1.3" ry="1.0" fill="#535353"/>
<circle cx="74.8" cy="46.7" r="0.8" fill="#9a9a9a"/>
<ellipse cx="73.6" cy="66.6" rx="0.9" ry="1.2" fill="#b8b8b8"/>
<circle cx="80.9" cy="46.7" r="0.8" fill="#9a9a9a"/>
<ellipse cx="82.0" cy="66.6" rx="0.9" ry="1.2" fill="#b8b8b8"/>
<line x1="77.8" y1="65.0" x2="77.2" y2="72.0" stroke="#e8e8e8" stroke-width="1.4"/>
<path d="M94.4,46.1 L96.2,46.7 L97.2,48.3 L97.8,50.4 L100.2,53.1 L102.6,56.4 L102.8,60.4 L102.2,63.6 L101.5,66.0 L98.7,67.1 L95.7,67.4 L93.1,67.4 L90.1,67.1 L87.3,66.0 L86.6,63.6 L86.0,60.4 L86.2,56.4 L88.6,53.1 L90.9,50.4 L91.6,48.3 L92.6,46.7 L94.4,46.1 Z" fill="#363636"/>
<path d="M94.4,45.6 L96.0,46.2 L96.9,47.8 L97.5,49.9 L99.7,52.6 L101.8,55.9 L102.0,59.9 L101.5,63.1 L100.9,65.5 L98.3,66.6 L95.6,66.9 L93.2,66.9 L90.5,66.6 L87.9,65.5 L87.3,63.1 L86.8,59.9 L87.0,55.9 L89.1,52.6 L91.3,49.9 L91.9,47.8 L92.8,46.2 L94.4,45.6 Z" fill="#474747"/>
<ellipse cx="93.4" cy="57.4" rx="4.2" ry="5.4" fill="#5c5c5c" opacity="0.85"/>
<ellipse cx="97.8" cy="62.5" rx="0.6" ry="1.2" fill="#535353"/>
<ellipse cx="90.3" cy="51.1" rx="1.4" ry="1.2" fill="#3f3f3f"/>
<ellipse cx="98.3" cy="55.6" rx="1.3" ry="1.6" fill="#535353"/>
<ellipse cx="89.1" cy="58.9" rx="0.8" ry="1.2" fill="#535353"/>
<ellipse cx="90.6" cy="51.4" rx="0.6" ry="1.7" fill="#535353"/>
<ellipse cx="98.8" cy="62.0" rx="1.0" ry="1.2" fill="#535353"/>
<ellipse cx="95.7" cy="49.2" rx="1.3" ry="1.5" fill="#393939"/>
<ellipse cx="89.7" cy="49.6" rx="1.2" ry="1.0" fill="#595959"/>
<ellipse cx="94.8" cy="59.2" rx="1.2" ry="1.3" fill="#595959"/>
<ellipse cx="92.1" cy="53.2" rx="0.9" ry="1.5" fill="#393939"/>
<circle cx="91.3" cy="46.7" r="0.8" fill="#9a9a9a"/>
<ellipse cx="90.2" cy="66.6" rx="0.9" ry="1.2" fill="#b8b8b8"/>
<circle cx="97.4" cy="46.7" r="0.8" fill="#9a9a9a"/>
<ellipse cx="98.6" cy="66.6" rx="0.9" ry="1.2" fill="#b8b8b8"/>
<line x1="94.4" y1="65.0" x2="94.1" y2="72.0" stroke="#e8e8e8" stroke-width="1.4"/>
</g>
<rect x="69.8" y="45.1" width="33.2" height="26.9" filter="url(#noise)" style="mix-blend-mode:overlay"/>
<g filter="url(#bl2)">
<circle cx="75.4" cy="47.7" r="1.4" fill="#2222f8"/>
<circle cx="80.9" cy="56.6" r="1.4" fill="#2222f8"/>
<circle cx="74.2" cy="60.3" r="1.3" fill="#2222f8"/>
<circle cx="89.5" cy="49.9" r="0.7" fill="#2222f8"/>
<circle cx="76.0" cy="47.4" r="1.3" fill="#2222f8"/>
<circle cx="76.6" cy="67.8" r="1.4" fill="#2222f8"/>
<circle cx="90.6" cy="69.3" r="1.3" fill="#2222f8"/>
<circle cx="89.5" cy="68.4" r="1.4" fill="#2222f8"/>
<circle cx="98.3" cy="50.0" r="0.9" fill="#2222f8"/>
<circle cx="75.2" cy="62.8" r="1.4" fill="#2222f8"/>
<circle cx="94.4" cy="47.0" r="1.3" fill="#2222f8"/>
<circle cx="80.6" cy="53.3" r="0.7" fill="#2222f8"/>
<circle cx="80.0" cy="64.9" r="0.9" fill="#2222f8"/>
<circle cx="99.3" cy="55.0" r="1.1" fill="#2222f8"/>
<circle cx="78.5" cy="68.2" r="1.4" fill="#2222f8"/>
<circle cx="77.9" cy="67.6" r="0.9" fill="#2222f8"/>
<circle cx="99.7" cy="53.4" r="1.3" fill="#2222f8"/>
<circle cx="91.3" cy="49.6" r="1.4" fill="#2222f8"/>
<circle cx="87.3" cy="58.1" r="1.1" fill="#2222f8"/>
<circle cx="89.6" cy="50.7" r="0.9" fill="#2222f8"/>
<circle cx="87.0" cy="62.7" r="1.2" fill="#2222f8"/>
<circle cx="75.1" cy="63.9" r="1.0" fill="#2222f8"/>
<circle cx="99.8" cy="63.1" r="0.8" fill="#2222f8"/>
<circle cx="87.9" cy="64.2" r="0.7" fill="#2222f8"/>
<circle cx="88.9" cy="52.2" r="1.2" fill="#2222f8"/>
<circle cx="75.9" cy="64.6" r="1.1" fill="#2222f8"/>
<circle cx="75.5" cy="60.7" r="0.7" fill="#2222f8"/>
<circle cx="80.3" cy="56.1" r="0.7" fill="#2222f8"/>
<circle cx="99.0" cy="63.4" r="1.1" fill="#2222f8"/>
<circle cx="88.2" cy="56.5" r="1.2" fill="#2222f8"/>
<circle cx="75.3" cy="62.5" r="0.7" fill="#2222f8"/>
<circle cx="87.3" cy="53.1" r="0.7" fill="#2222f8"/>
<circle cx="95.6" cy="67.3" r="0.9" fill="#2222f8"/>
<circle cx="80.0" cy="62.1" r="1.1" fill="#2222f8"/>
<circle cx="78.7" cy="52.5" r="0.7" fill="#2222f8"/>
<circle cx="79.5" cy="57.3" r="1.1" fill="#2222f8"/>
<circle cx="77.9" cy="63.2" r="1.4" fill="#2222f8"/>
<circle cx="89.4" cy="56.1" r="1.0" fill="#2222f8"/>
<circle cx="95.2" cy="46.8" r="1.0" fill="#2222f8"/>
<circle cx="76.3" cy="66.1" r="0.9" fill="#2222f8"/>
<circle cx="90.2" cy="52.1" r="1.1" fill="#2222f8"/>
<circle cx="76.5" cy="47.6" r="0.9" fill="#2222f8"/>
<circle cx="77.2" cy="50.4" r="0.9" fill="#2222f8"/>
<circle cx="98.1" cy="55.5" r="1.0" fill="#2222f8"/>
<circle cx="96.9" cy="69.6" r="1.2" fill="#2222f8"/>
<circle cx="94.7" cy="51.3" r="1.3" fill="#2222f8"/>
<circle cx="99.3" cy="63.0" r="1.4" fill="#2222f8"/>
<circle cx="75.2" cy="52.4" r="0.7" fill="#2222f8"/>
<circle cx="76.4" cy="63.1" r="1.4" fill="#2222f8"/>
<circle cx="91.0" cy="71.1" r="1.4" fill="#2222f8"/>
<circle cx="89.8" cy="51.0" r="1.3" fill="#2222f8"/>
<circle cx="87.4" cy="61.5" r="0.8" fill="#2222f8"/>
<circle cx="100.2" cy="59.3" r="1.4" fill="#2222f8"/>
<circle cx="89.9" cy="65.1" r="0.7" fill="#2222f8"/>
<circle cx="99.6" cy="56.1" r="1.4" fill="#2222f8"/>
<circle cx="98.9" cy="52.1" r="1.1" fill="#2222f8"/>
<circle cx="91.5" cy="68.1" r="1.0" fill="#2222f8"/>
<circle cx="90.3" cy="67.8" r="0.8" fill="#2222f8"/>
<circle cx="79.6" cy="47.8" r="1.2" fill="#2222f8"/>
<circle cx="79.5" cy="56.0" r="1.1" fill="#2222f8"/>
<circle cx="97.3" cy="64.5" r="0.8" fill="#2222f8"/>
<circle cx="98.7" cy="52.9" r="0.8" fill="#2222f8"/>
<circle cx="93.2" cy="68.7" r="0.8" fill="#2222f8"/>
<circle cx="91.0" cy="52.7" r="1.1" fill="#2222f8"/>
<circle cx="87.3" cy="64.6" r="0.8" fill="#2222f8"/>
<circle cx="76.7" cy="64.1" r="1.5" fill="#2222f8"/>
<circle cx="77.0" cy="47.2" r="1.1" fill="#2222f8"/>
<circle cx="79.2" cy="46.6" r="1.0" fill="#2222f8"/>
<circle cx="90.2" cy="69.4" r="1.0" fill="#2222f8"/>
<circle cx="80.0" cy="62.9" r="1.3" fill="#2222f8"/>
<circle cx="95.3" cy="48.5" r="1.3" fill="#2222f8"/>
<circle cx="90.5" cy="52.7" r="1.0" fill="#2222f8"/>
<circle cx="89.6" cy="60.9" r="0.8" fill="#2222f8"/>
<circle cx="94.6" cy="69.9" r="0.7" fill="#2222f8"/>
<circle cx="74.2" cy="61.6" r="1.3" fill="#2222f8"/>
<circle cx="92.9" cy="65.8" r="0.8" fill="#2222f8"/>
<circle cx="92.2" cy="64.8" r="1.3" fill="#2222f8"/>
<circle cx="96.9" cy="50.4" r="1.3" fill="#2222f8"/>
<circle cx="75.0" cy="59.8" r="1.1" fill="#2222f8"/>
<circle cx="87.5" cy="57.3" r="0.7" fill="#2222f8"/>
<circle cx="98.1" cy="61.6" r="1.0" fill="#2222f8"/>
<circle cx="90.6" cy="67.5" r="1.1" fill="#2222f8"/>
<circle cx="87.7" cy="61.8" r="0.9" fill="#2222f8"/>
<circle cx="88.7" cy="61.5" r="1.1" fill="#2222f8"/>
<circle cx="87.3" cy="55.6" r="1.1" fill="#2222f8"/>
<circle cx="96.6" cy="53.3" r="0.9" fill="#2222f8"/>
<circle cx="96.6" cy="69.0" r="0.7" fill="#2222f8"/>
<circle cx="100.0" cy="55.2" r="1.4" fill="#2222f8"/>
<circle cx="75.4" cy="52.7" r="0.7" fill="#2222f8"/>
<circle cx="97.6" cy="54.6" r="0.9" fill="#2222f8"/>
<circle cx="97.9" cy="58.2" r="1.1" fill="#2222f8"/>
<circle cx="94.5" cy="65.4" r="1.4" fill="#2222f8"/>
<circle cx="76.5" cy="66.0" r="1.2" fill="#2222f8"/>
<circle cx="74.7" cy="59.4" r="1.2" fill="#2222f8"/>
<circle cx="97.5" cy="60.6" r="0.9" fill="#2222f8"/>
<circle cx="94.6" cy="49.3" r="1.4" fill="#2222f8"/>
<circle cx="80.3" cy="63.8" r="0.7" fill="#2222f8"/>
<circle cx="98.3" cy="55.7" r="1.5" fill="#2222f8"/>
<circle cx="90.0" cy="57.1" r="0.7" fill="#2222f8"/>
<circle cx="76.7" cy="66.7" r="1.4" fill="#2222f8"/>
<circle cx="74.2" cy="53.1" r="1.3" fill="#2222f8"/>
<circle cx="97.5" cy="60.7" r="0.7" fill="#2222f8"/>
<circle cx="87.6" cy="62.6" r="0.7" fill="#2222f8"/>
<circle cx="97.0" cy="57.0" r="1.3" fill="#2222f8"/>
<circle cx="75.8" cy="57.1" r="0.7" fill="#2222f8"/>
<circle cx="91.2" cy="52.2" r="1.0" fill="#2222f8"/>
<circle cx="98.8" cy="66.1" r="1.4" fill="#2222f8"/>
<circle cx="88.2" cy="58.8" r="0.9" fill="#2222f8"/>
<circle cx="95.7" cy="66.2" r="1.1" fill="#2222f8"/>
<circle cx="98.2" cy="51.1" r="1.1" fill="#2222f8"/>
<circle cx="80.4" cy="60.1" r="1.2" fill="#2222f8"/>
<circle cx="93.8" cy="48.6" r="1.1" fill="#2222f8"/>
<circle cx="91.9" cy="71.6" r="1.3" fill="#2222f8"/>
<circle cx="96.5" cy="62.4" r="1.0" fill="#2222f8"/>
<circle cx="77.1" cy="67.5" r="0.9" fill="#2222f8"/>
<circle cx="91.7" cy="48.8" r="1.3" fill="#2222f8"/>
<circle cx="89.2" cy="50.7" r="1.0" fill="#2222f8"/>
<circle cx="97.6" cy="64.0" r="1.2" fill="#2222f8"/>
<circle cx="89.5" cy="49.4" r="1.3" fill="#2222f8"/>
<circle cx="93.9" cy="50.8" r="1.4" fill="#2222f8"/>
<circle cx="80.9" cy="56.3" r="1.3" fill="#2222f8"/>
<circle cx="87.7" cy="62.3" r="1.1" fill="#2222f8"/>
<circle cx="78.1" cy="59.1" r="1.2" fill="#2222f8"/>
<circle cx="77.0" cy="63.9" r="0.9" fill="#2222f8"/>
<circle cx="94.8" cy="63.7" r="1.2" fill="#2222f8"/>
<circle cx="92.5" cy="70.6" r="1.4" fill="#2222f8"/>
<circle cx="76.1" cy="50.1" r="0.8" fill="#2222f8"/>
<circle cx="93.5" cy="48.9" r="0.8" fill="#2222f8"/>
<circle cx="91.1" cy="59.6" r="1.0" fill="#2222f8"/>
<circle cx="98.9" cy="55.8" r="1.2" fill="#2222f8"/>
<circle cx="78.4" cy="56.7" r="1.3" fill="#2222f8"/>
<circle cx="88.5" cy="52.1" r="1.0" fill="#2222f8"/>
<circle cx="98.1" cy="54.6" r="1.5" fill="#2222f8"/>
<circle cx="98.3" cy="58.2" r="1.2" fill="#2222f8"/>
<circle cx="93.0" cy="49.7" r="1.0" fill="#2222f8"/>
<circle cx="97.7" cy="51.2" r="1.4" fill="#2222f8"/>
<circle cx="97.5" cy="49.7" r="1.2" fill="#2222f8"/>
<circle cx="77.7" cy="54.7" r="0.7" fill="#2222f8"/>
<circle cx="78.5" cy="58.5" r="1.2" fill="#2222f8"/>
<circle cx="78.5" cy="65.9" r="1.0" fill="#2222f8"/>
<circle cx="80.1" cy="55.5" r="1.2" fill="#2222f8"/>
<circle cx="79.8" cy="64.7" r="0.8" fill="#2222f8"/>
<circle cx="80.4" cy="55.2" r="1.0" fill="#2222f8"/>
<circle cx="97.1" cy="65.6" r="1.0" fill="#2222f8"/>
<circle cx="98.2" cy="67.1" r="1.2" fill="#2222f8"/>
<circle cx="91.6" cy="70.1" r="0.7" fill="#2222f8"/>
<circle cx="93.2" cy="62.3" r="0.9" fill="#2222f8"/>
<circle cx="99.6" cy="52.6" r="1.3" fill="#2222f8"/>
<circle cx="75.2" cy="48.9" r="1.2" fill="#20c0ff"/>
<circle cx="87.2" cy="60.5" r="1.1" fill="#20c0ff"/>
<circle cx="90.3" cy="68.1" r="1.2" fill="#20c0ff"/>
<circle cx="90.0" cy="59.5" r="1.5" fill="#20c0ff"/>
<circle cx="92.9" cy="48.3" r="1.3" fill="#20c0ff"/>
<circle cx="92.0" cy="57.7" r="1.5" fill="#20c0ff"/>
<circle cx="75.1" cy="63.9" r="0.8" fill="#20c0ff"/>
<circle cx="78.6" cy="55.7" r="0.7" fill="#20c0ff"/>
<circle cx="89.4" cy="52.6" r="1.3" fill="#20c0ff"/>
<circle cx="93.2" cy="56.7" r="1.2" fill="#20c0ff"/>
<circle cx="97.6" cy="50.4" r="1.2" fill="#20c0ff"/>
<circle cx="93.7" cy="70.9" r="0.9" fill="#20c0ff"/>
<circle cx="96.0" cy="49.8" r="1.0" fill="#20c0ff"/>
<circle cx="90.2" cy="51.8" r="1.5" fill="#20c0ff"/>
<circle cx="96.7" cy="48.6" r="0.8" fill="#20c0ff"/>
<circle cx="96.0" cy="62.7" r="1.0" fill="#20c0ff"/>
<circle cx="78.4" cy="53.9" r="0.8" fill="#20c0ff"/>
<circle cx="92.6" cy="51.1" r="0.8" fill="#20c0ff"/>
<circle cx="91.4" cy="69.5" r="1.4" fill="#20c0ff"/>
<circle cx="79.8" cy="49.6" r="1.1" fill="#20c0ff"/>
<circle cx="96.7" cy="50.3" r="1.1" fill="#20c0ff"/>
<circle cx="76.8" cy="57.4" r="0.8" fill="#20c0ff"/>
<circle cx="88.5" cy="65.6" r="1.2" fill="#20c0ff"/>
<circle cx="76.1" cy="55.1" r="1.0" fill="#20c0ff"/>
<circle cx="79.7" cy="60.2" r="1.2" fill="#20c0ff"/>
<circle cx="91.1" cy="50.0" r="1.2" fill="#20c0ff"/>
<circle cx="95.5" cy="62.4" r="1.0" fill="#20c0ff"/>
<circle cx="90.1" cy="53.3" r="1.0" fill="#20c0ff"/>
<circle cx="92.4" cy="54.3" r="1.2" fill="#20c0ff"/>
<circle cx="91.5" cy="56.4" r="1.4" fill="#20c0ff"/>
<circle cx="90.5" cy="53.9" r="0.8" fill="#20c0ff"/>
<circle cx="89.4" cy="61.9" r="1.3" fill="#20c0ff"/>
<circle cx="97.3" cy="55.0" r="1.1" fill="#20c0ff"/>
<circle cx="97.5" cy="64.1" r="1.2" fill="#20c0ff"/>
<circle cx="96.5" cy="67.2" r="1.0" fill="#20c0ff"/>
<circle cx="91.2" cy="67.9" r="1.1" fill="#20c0ff"/>
<circle cx="94.1" cy="50.2" r="1.5" fill="#20c0ff"/>
<circle cx="92.4" cy="62.4" r="1.1" fill="#20c0ff"/>
<circle cx="92.8" cy="48.5" r="1.4" fill="#20c0ff"/>
<circle cx="96.1" cy="49.2" r="0.8" fill="#20c0ff"/>
<circle cx="90.2" cy="57.0" r="1.4" fill="#20c0ff"/>
<circle cx="95.3" cy="57.8" r="1.4" fill="#20c0ff"/>
<circle cx="77.3" cy="48.2" r="0.9" fill="#20c0ff"/>
<circle cx="89.8" cy="61.8" r="1.1" fill="#20c0ff"/>
<circle cx="75.7" cy="62.4" r="0.7" fill="#20c0ff"/>
<circle cx="75.6" cy="62.9" r="1.3" fill="#20c0ff"/>
<circle cx="97.3" cy="64.6" r="1.3" fill="#20c0ff"/>
<circle cx="76.9" cy="65.7" r="1.0" fill="#20c0ff"/>
<circle cx="89.3" cy="65.8" r="0.7" fill="#20c0ff"/>
<circle cx="93.3" cy="60.7" r="1.3" fill="#40e060"/>
<circle cx="92.9" cy="62.2" r="1.2" fill="#40e060"/>
<circle cx="95.4" cy="67.0" r="1.4" fill="#40e060"/>
<circle cx="96.5" cy="59.3" r="1.4" fill="#40e060"/>
<circle cx="97.4" cy="63.4" r="1.3" fill="#40e060"/>
<circle cx="93.9" cy="51.7" r="1.0" fill="#40e060"/>
<circle cx="77.4" cy="64.3" r="0.9" fill="#40e060"/>
<circle cx="78.3" cy="57.2" r="1.4" fill="#40e060"/>
<circle cx="96.5" cy="55.9" r="0.7" fill="#40e060"/>
<circle cx="75.7" cy="60.3" r="1.2" fill="#40e060"/>
<circle cx="78.1" cy="53.6" r="1.1" fill="#40e060"/>
<circle cx="94.9" cy="61.0" r="1.3" fill="#40e060"/>
<circle cx="95.4" cy="58.2" r="0.9" fill="#40e060"/>
<circle cx="94.4" cy="56.5" r="0.8" fill="#40e060"/>
<circle cx="90.7" cy="61.4" r="0.8" fill="#f0e820"/>
<circle cx="95.1" cy="62.0" r="1.3" fill="#f0e820"/>
<circle cx="89.8" cy="61.1" r="1.4" fill="#f0e820"/>
<circle cx="96.1" cy="56.2" r="0.8" fill="#f0e820"/>
<circle cx="75.9" cy="57.5" r="0.8" fill="#f0e820"/>
<circle cx="96.9" cy="57.4" r="1.1" fill="#f0e820"/>
<circle cx="92.6" cy="57.0" r="1.4" fill="#f0e820"/>
<circle cx="95.0" cy="63.1" r="1.4" fill="#f0e820"/>
<circle cx="93.8" cy="57.6" r="0.8" fill="#f0e820"/>
<circle cx="77.9" cy="60.4" r="0.8" fill="#f0e820"/>
<circle cx="95.3" cy="54.8" r="1.0" fill="#f0e820"/>
<circle cx="90.3" cy="60.1" r="1.2" fill="#f0e820"/>
<circle cx="96.4" cy="62.8" r="0.7" fill="#f0e820"/>
<circle cx="94.7" cy="62.5" r="0.7" fill="#ff1000"/>
<circle cx="92.4" cy="56.9" r="1.0" fill="#ff1000"/>
<circle cx="95.0" cy="63.7" r="1.0" fill="#ff1000"/>
<circle cx="90.3" cy="59.2" r="1.2" fill="#ff1000"/>
<circle cx="93.2" cy="57.1" r="1.2" fill="#ff1000"/>
<circle cx="93.4" cy="55.0" r="0.9" fill="#ff1000"/>
<circle cx="93.4" cy="54.3" r="0.8" fill="#ff1000"/>
<circle cx="93.4" cy="59.3" r="1.1" fill="#ff1000"/>
<circle cx="93.8" cy="58.4" r="0.9" fill="#ff1000"/>
<circle cx="94.4" cy="62.7" r="1.2" fill="#ff1000"/>
<circle cx="91.9" cy="61.4" r="1.5" fill="#ff1000"/>
<circle cx="93.1" cy="59.7" r="0.9" fill="#ff1000"/>
<circle cx="93.9" cy="56.3" r="1.3" fill="#ff1000"/>
<circle cx="93.8" cy="56.7" r="0.9" fill="#ff1000"/>
<circle cx="93.4" cy="58.8" r="0.8" fill="#ff1000"/>
<circle cx="93.5" cy="60.0" r="0.7" fill="#ff1000"/>
<ellipse cx="77.5" cy="47.0" rx="3.0" ry="3.0" fill="#2222f8"/>
<ellipse cx="78.2" cy="54.3" rx="3.4" ry="3.4" fill="#2222f8"/>
<ellipse cx="75.6" cy="64.0" rx="3.3" ry="3.3" fill="#2222f8"/>
<ellipse cx="92.5" cy="59.5" rx="6.0" ry="4.4" fill="#2222f8"/>
<ellipse cx="95.0" cy="54.5" rx="3.4" ry="3.4" fill="#2222f8"/>
<ellipse cx="94.0" cy="70.0" rx="3.0" ry="3.0" fill="#2222f8"/>
<ellipse cx="97.0" cy="63.0" rx="3.0" ry="3.0" fill="#2222f8"/>
<ellipse cx="77.5" cy="47.0" rx="2.0" ry="2.0" fill="#20d0ff"/>
<ellipse cx="78.2" cy="54.3" rx="2.4" ry="2.4" fill="#20d0ff"/>
<ellipse cx="75.6" cy="64.0" rx="2.3" ry="2.3" fill="#20d0ff"/>
<ellipse cx="92.5" cy="59.5" rx="5.0" ry="3.4" fill="#20d0ff"/>
<ellipse cx="95.0" cy="54.5" rx="2.4" ry="2.4" fill="#20d0ff"/>
<ellipse cx="94.0" cy="70.0" rx="2.0" ry="2.0" fill="#20d0ff"/>
<ellipse cx="97.0" cy="63.0" rx="2.0" ry="2.0" fill="#20d0ff"/>
<ellipse cx="77.5" cy="47.0" rx="1.4" ry="1.4" fill="#f0e820"/>
<ellipse cx="78.2" cy="54.3" rx="1.8" ry="1.8" fill="#f0e820"/>
<ellipse cx="75.6" cy="64.0" rx="1.7" ry="1.7" fill="#f0e820"/>
<ellipse cx="92.5" cy="59.5" rx="4.4" ry="2.8" fill="#f0e820"/>
<ellipse cx="95.0" cy="54.5" rx="1.8" ry="1.8" fill="#f0e820"/>
<ellipse cx="94.0" cy="70.0" rx="1.4" ry="1.4" fill="#f0e820"/>
<ellipse cx="97.0" cy="63.0" rx="1.4" ry="1.4" fill="#f0e820"/>
<ellipse cx="77.5" cy="47.0" rx="0.8" ry="0.8" fill="#ff1000"/>
<ellipse cx="78.2" cy="54.3" rx="1.2" ry="1.2" fill="#ff1000"/>
<ellipse cx="75.6" cy="64.0" rx="1.1" ry="1.1" fill="#ff1000"/>
<ellipse cx="92.5" cy="59.5" rx="3.8" ry="2.2" fill="#ff1000"/>
<ellipse cx="95.0" cy="54.5" rx="1.2" ry="1.2" fill="#ff1000"/>
<ellipse cx="94.0" cy="70.0" rx="0.8" ry="0.8" fill="#ff1000"/>
<ellipse cx="97.0" cy="63.0" rx="0.8" ry="0.8" fill="#ff1000"/>
</g>
</g></g>
<g><rect x="109.4" y="44.2" width="85.9" height="31.6" fill="#4c4c4c"/>
<clipPath id="cp7"><rect x="109.4" y="44.2" width="85.9" height="31.6"/></clipPath>
<g clip-path="url(#cp7)"><g filter="url(#bl)">
<rect x="109.4" y="44.2" width="85.9" height="1.2" fill="#2a2a2a"/>
<path d="M118.1,45.3 L119.8,46.0 L120.9,47.9 L121.7,50.4 L124.2,53.5 L125.8,57.3 L126.4,62.1 L126.1,65.9 L125.1,68.7 L122.4,70.0 L119.4,70.3 L116.8,70.3 L113.8,70.0 L111.2,68.7 L110.1,65.9 L109.8,62.1 L110.4,57.3 L112.0,53.5 L114.5,50.4 L115.3,47.9 L116.4,46.0 L118.1,45.3 Z" fill="#363636"/>
<path d="M118.1,44.8 L119.7,45.5 L120.6,47.4 L121.4,49.9 L123.7,53.0 L125.1,56.8 L125.6,61.6 L125.4,65.4 L124.4,68.2 L122.0,69.5 L119.3,69.8 L116.9,69.8 L114.2,69.5 L111.8,68.2 L110.9,65.4 L110.6,61.6 L111.1,56.8 L112.5,53.0 L114.8,49.9 L115.6,47.4 L116.5,45.5 L118.1,44.8 Z" fill="#474747"/>
<ellipse cx="117.5" cy="57.4" rx="4.3" ry="6.3" fill="#5c5c5c" opacity="0.85"/>
<ellipse cx="118.6" cy="64.6" rx="1.2" ry="1.0" fill="#3f3f3f"/>
<ellipse cx="120.4" cy="56.8" rx="1.2" ry="1.4" fill="#535353"/>
<ellipse cx="116.0" cy="52.3" rx="0.8" ry="1.5" fill="#3f3f3f"/>
<ellipse cx="123.3" cy="55.5" rx="0.7" ry="1.9" fill="#535353"/>
<ellipse cx="116.2" cy="54.0" rx="0.9" ry="2.0" fill="#535353"/>
<ellipse cx="115.8" cy="63.2" rx="1.1" ry="1.5" fill="#3f3f3f"/>
<ellipse cx="116.4" cy="60.9" rx="1.4" ry="1.2" fill="#595959"/>
<ellipse cx="121.0" cy="58.1" rx="1.0" ry="1.6" fill="#3f3f3f"/>
<ellipse cx="114.1" cy="51.5" rx="1.3" ry="1.4" fill="#535353"/>
<ellipse cx="120.7" cy="62.6" rx="0.8" ry="1.6" fill="#595959"/>
<circle cx="114.9" cy="46.1" r="0.8" fill="#9a9a9a"/>
<ellipse cx="113.8" cy="69.5" rx="0.9" ry="1.2" fill="#b8b8b8"/>
<circle cx="121.3" cy="46.1" r="0.8" fill="#9a9a9a"/>
<ellipse cx="122.4" cy="69.5" rx="0.9" ry="1.2" fill="#b8b8b8"/>
<line x1="118.1" y1="67.6" x2="118.4" y2="75.8" stroke="#e8e8e8" stroke-width="1.4"/>
<path d="M135.4,45.3 L137.1,46.0 L138.3,47.9 L139.1,50.4 L141.2,53.5 L143.3,57.3 L144.6,62.1 L143.4,65.9 L142.8,68.7 L139.6,70.0 L136.7,70.3 L134.1,70.3 L131.2,70.0 L128.0,68.7 L127.4,65.9 L126.2,62.1 L127.5,57.3 L129.6,53.5 L131.7,50.4 L132.6,47.9 L133.8,46.0 L135.4,45.3 Z" fill="#363636"/>
<path d="M135.4,44.8 L136.9,45.5 L138.0,47.4 L138.8,49.9 L140.7,53.0 L142.6,56.8 L143.8,61.6 L142.7,65.4 L142.2,68.2 L139.3,69.5 L136.6,69.8 L134.2,69.8 L131.6,69.5 L128.7,68.2 L128.1,65.4 L127.0,61.6 L128.2,56.8 L130.1,53.0 L132.1,49.9 L132.8,47.4 L133.9,45.5 L135.4,44.8 Z" fill="#474747"/>
<ellipse cx="134.5" cy="59.8" rx="4.3" ry="6.3" fill="#5c5c5c" opacity="0.85"/>
<ellipse cx="137.5" cy="53.3" rx="0.9" ry="1.3" fill="#535353"/>
<ellipse cx="136.0" cy="55.3" rx="0.6" ry="1.7" fill="#535353"/>
<ellipse cx="140.8" cy="55.2" rx="0.8" ry="1.2" fill="#535353"/>
<ellipse cx="131.5" cy="59.2" rx="0.7" ry="1.9" fill="#3f3f3f"/>
<ellipse cx="133.5" cy="64.7" rx="1.5" ry="1.0" fill="#3f3f3f"/>
<ellipse cx="134.6" cy="66.1" rx="0.6" ry="1.1" fill="#393939"/>
<ellipse cx="139.8" cy="53.5" rx="1.1" ry="2.0" fill="#535353"/>
<ellipse cx="135.6" cy="58.0" rx="1.0" ry="1.2" fill="#595959"/>
<ellipse cx="136.5" cy="54.6" rx="1.2" ry="1.4" fill="#393939"/>
<ellipse cx="131.0" cy="55.1" rx="1.2" ry="1.9" fill="#595959"/>
<circle cx="132.3" cy="46.1" r="0.8" fill="#9a9a9a"/>
<ellipse cx="131.1" cy="69.5" rx="0.9" ry="1.2" fill="#b8b8b8"/>
<circle cx="138.6" cy="46.1" r="0.8" fill="#9a9a9a"/>
<ellipse cx="139.8" cy="69.5" rx="0.9" ry="1.2" fill="#b8b8b8"/>
<line x1="135.4" y1="67.6" x2="134.6" y2="75.8" stroke="#e8e8e8" stroke-width="1.4"/>
<path d="M152.0,45.3 L153.7,46.0 L154.9,47.9 L155.8,50.4 L158.1,53.5 L160.2,57.3 L160.9,62.1 L159.9,65.9 L159.0,68.7 L156.3,70.0 L153.2,70.3 L150.7,70.3 L147.7,70.0 L145.0,68.7 L144.0,65.9 L143.0,62.1 L143.8,57.3 L145.8,53.5 L148.1,50.4 L149.0,47.9 L150.3,46.0 L152.0,45.3 Z" fill="#363636"/>
<path d="M152.0,44.8 L153.5,45.5 L154.7,47.4 L155.5,49.9 L157.6,53.0 L159.4,56.8 L160.1,61.6 L159.2,65.4 L158.3,68.2 L155.9,69.5 L153.1,69.8 L150.9,69.8 L148.1,69.5 L145.6,68.2 L144.8,65.4 L143.8,61.6 L144.5,56.8 L146.4,53.0 L148.5,49.9 L149.3,47.4 L150.4,45.5 L152.0,44.8 Z" fill="#474747"/>
<ellipse cx="151.5" cy="57.7" rx="4.3" ry="6.3" fill="#5c5c5c" opacity="0.85"/>
<ellipse cx="153.7" cy="53.4" rx="1.3" ry="2.0" fill="#535353"/>
<ellipse cx="156.3" cy="56.0" rx="1.1" ry="1.8" fill="#3f3f3f"/>
<ellipse cx="148.7" cy="65.7" rx="0.8" ry="1.6" fill="#595959"/>
<ellipse cx="153.1" cy="54.6" rx="1.2" ry="0.8" fill="#393939"/>
<ellipse cx="146.5" cy="62.0" rx="1.4" ry="1.3" fill="#393939"/>
<ellipse cx="147.5" cy="47.7" rx="0.8" ry="1.4" fill="#393939"/>
<ellipse cx="152.6" cy="52.8" rx="1.1" ry="1.3" fill="#3f3f3f"/>
<ellipse cx="147.8" cy="50.6" rx="0.6" ry="0.9" fill="#393939"/>
<ellipse cx="156.9" cy="57.4" rx="1.2" ry="1.8" fill="#595959"/>
<ellipse cx="147.1" cy="47.6" rx="0.7" ry="1.1" fill="#535353"/>
<circle cx="148.8" cy="46.1" r="0.8" fill="#9a9a9a"/>
<ellipse cx="147.6" cy="69.5" rx="0.9" ry="1.2" fill="#b8b8b8"/>
<circle cx="155.1" cy="46.1" r="0.8" fill="#9a9a9a"/>
<ellipse cx="156.3" cy="69.5" rx="0.9" ry="1.2" fill="#b8b8b8"/>
<line x1="152.0" y1="67.6" x2="151.4" y2="75.8" stroke="#e8e8e8" stroke-width="1.4"/>
<path d="M169.0,45.3 L170.8,46.0 L172.0,47.9 L172.4,50.4 L174.8,53.5 L177.1,57.3 L177.2,62.1 L177.0,65.9 L176.0,68.7 L173.5,70.0 L170.2,70.3 L167.7,70.3 L164.5,70.0 L161.9,68.7 L160.9,65.9 L160.8,62.1 L160.9,57.3 L163.1,53.5 L165.5,50.4 L165.9,47.9 L167.2,46.0 L169.0,45.3 Z" fill="#363636"/>
<path d="M169.0,44.8 L170.6,45.5 L171.7,47.4 L172.1,49.9 L174.3,53.0 L176.3,56.8 L176.4,61.6 L176.3,65.4 L175.4,68.2 L173.0,69.5 L170.1,69.8 L167.8,69.8 L164.9,69.5 L162.6,68.2 L161.6,65.4 L161.5,61.6 L161.6,56.8 L163.6,53.0 L165.8,49.9 L166.2,47.4 L167.3,45.5 L169.0,44.8 Z" fill="#474747"/>
<ellipse cx="167.9" cy="57.9" rx="4.3" ry="6.3" fill="#5c5c5c" opacity="0.85"/>
<ellipse cx="165.9" cy="50.6" rx="0.9" ry="1.9" fill="#3f3f3f"/>
<ellipse cx="172.5" cy="53.6" rx="1.5" ry="1.4" fill="#535353"/>
<ellipse cx="173.9" cy="52.3" rx="1.2" ry="1.5" fill="#595959"/>
<ellipse cx="168.0" cy="55.5" rx="0.6" ry="1.8" fill="#595959"/>
<ellipse cx="164.4" cy="50.9" rx="0.8" ry="2.0" fill="#595959"/>
<ellipse cx="166.7" cy="58.9" rx="0.9" ry="1.8" fill="#393939"/>
<ellipse cx="167.2" cy="60.7" rx="1.0" ry="1.9" fill="#393939"/>
<ellipse cx="169.6" cy="55.3" rx="0.9" ry="1.1" fill="#595959"/>
<ellipse cx="163.8" cy="61.0" rx="1.3" ry="1.1" fill="#535353"/>
<ellipse cx="164.9" cy="51.4" rx="1.1" ry="1.4" fill="#3f3f3f"/>
<circle cx="165.8" cy="46.1" r="0.8" fill="#9a9a9a"/>
<ellipse cx="164.6" cy="69.5" rx="0.9" ry="1.2" fill="#b8b8b8"/>
<circle cx="172.1" cy="46.1" r="0.8" fill="#9a9a9a"/>
<ellipse cx="173.3" cy="69.5" rx="0.9" ry="1.2" fill="#b8b8b8"/>
<line x1="169.0" y1="67.6" x2="169.7" y2="75.8" stroke="#e8e8e8" stroke-width="1.4"/>
<path d="M186.4,45.3 L188.1,46.0 L189.2,47.9 L190.1,50.4 L192.5,53.5 L194.2,57.3 L195.1,62.1 L194.4,65.9 L193.8,68.7 L190.8,70.0 L187.8,70.3 L185.0,70.3 L182.0,70.0 L179.0,68.7 L178.3,65.9 L177.7,62.1 L178.6,57.3 L180.3,53.5 L182.7,50.4 L183.6,47.9 L184.7,46.0 L186.4,45.3 Z" fill="#363636"/>
<path d="M186.4,44.8 L187.9,45.5 L189.0,47.4 L189.8,49.9 L192.0,53.0 L193.5,56.8 L194.3,61.6 L193.7,65.4 L193.2,68.2 L190.4,69.5 L187.6,69.8 L185.1,69.8 L182.4,69.5 L179.6,68.2 L179.1,65.4 L178.5,61.6 L179.3,56.8 L180.8,53.0 L183.0,49.9 L183.8,47.4 L184.9,45.5 L186.4,44.8 Z" fill="#474747"/>
<ellipse cx="187.6" cy="59.0" rx="4.3" ry="6.3" fill="#5c5c5c" opacity="0.85"/>
<ellipse cx="185.7" cy="67.7" rx="1.0" ry="1.4" fill="#3f3f3f"/>
<ellipse cx="182.3" cy="62.8" rx="1.1" ry="1.1" fill="#393939"/>
<ellipse cx="189.4" cy="55.3" rx="0.9" ry="1.3" fill="#3f3f3f"/>
<ellipse cx="181.8" cy="51.0" rx="0.9" ry="1.6" fill="#3f3f3f"/>
<ellipse cx="182.1" cy="58.9" rx="1.3" ry="1.7" fill="#535353"/>
<ellipse cx="183.0" cy="62.1" rx="0.8" ry="1.0" fill="#393939"/>
<ellipse cx="188.8" cy="53.2" rx="1.4" ry="1.4" fill="#595959"/>
<ellipse cx="187.8" cy="60.3" rx="1.4" ry="1.0" fill="#3f3f3f"/>
<ellipse cx="184.9" cy="63.8" rx="1.4" ry="0.8" fill="#535353"/>
<ellipse cx="188.7" cy="56.9" rx="0.9" ry="1.6" fill="#595959"/>
<circle cx="183.2" cy="46.1" r="0.8" fill="#9a9a9a"/>
<ellipse cx="182.1" cy="69.5" rx="0.9" ry="1.2" fill="#b8b8b8"/>
<circle cx="189.6" cy="46.1" r="0.8" fill="#9a9a9a"/>
<ellipse cx="190.7" cy="69.5" rx="0.9" ry="1.2" fill="#b8b8b8"/>
<line x1="186.4" y1="67.6" x2="185.6" y2="75.8" stroke="#e8e8e8" stroke-width="1.4"/>
</g>
<rect x="109.4" y="44.2" width="85.9" height="31.6" filter="url(#noise)" style="mix-blend-mode:overlay"/>
<g filter="url(#bl2)">
<ellipse cx="147.2" cy="51.8" rx="1.0" ry="1.0" fill="#2222f8"/>
<ellipse cx="144.8" cy="64.8" rx="3.0" ry="3.0" fill="#2222f8"/>
<ellipse cx="143.6" cy="60.8" rx="0.8" ry="0.8" fill="#2222f8"/>
<ellipse cx="169.6" cy="66.4" rx="0.9" ry="0.9" fill="#2222f8"/>
<ellipse cx="166.0" cy="57.7" rx="0.7" ry="0.7" fill="#2222f8"/>
<ellipse cx="110.5" cy="45.0" rx="1.5" ry="1.5" fill="#2222f8"/>
<ellipse cx="144.8" cy="64.8" rx="2.0" ry="2.0" fill="#20d0ff"/>
<ellipse cx="144.8" cy="64.8" rx="1.4" ry="1.4" fill="#f0e820"/>
<ellipse cx="144.8" cy="64.8" rx="0.8" ry="0.8" fill="#ff1000"/>
</g>
</g></g>
<g><rect x="111.0" y="77.7" width="85.2" height="32.3" fill="#4c4c4c"/>
<clipPath id="cp8"><rect x="111.0" y="77.7" width="85.2" height="32.3"/></clipPath>
<g clip-path="url(#cp8)"><g filter="url(#bl)">
<rect x="111.0" y="77.7" width="85.2" height="1.2" fill="#2a2a2a"/>
<path d="M119.1,78.8 L120.8,79.5 L122.0,81.4 L122.5,84.0 L124.8,87.2 L126.7,91.1 L127.4,96.0 L127.1,99.8 L126.0,102.7 L123.1,104.0 L120.3,104.4 L117.8,104.4 L115.0,104.0 L112.1,102.7 L111.0,99.8 L110.7,96.0 L111.4,91.1 L113.4,87.2 L115.6,84.0 L116.1,81.4 L117.3,79.5 L119.1,78.8 Z" fill="#363636"/>
<path d="M119.1,78.3 L120.7,79.0 L121.7,80.9 L122.2,83.5 L124.2,86.7 L126.0,90.6 L126.6,95.5 L126.4,99.3 L125.4,102.2 L122.8,103.5 L120.2,103.9 L117.9,103.9 L115.4,103.5 L112.7,102.2 L111.7,99.3 L111.5,95.5 L112.1,90.6 L113.9,86.7 L115.9,83.5 L116.4,80.9 L117.4,79.0 L119.1,78.3 Z" fill="#474747"/>
<ellipse cx="119.4" cy="91.5" rx="4.3" ry="6.5" fill="#5c5c5c" opacity="0.85"/>
<ellipse cx="122.8" cy="92.9" rx="1.4" ry="1.6" fill="#535353"/>
<ellipse cx="119.9" cy="100.6" rx="1.4" ry="1.7" fill="#393939"/>
<ellipse cx="116.7" cy="81.8" rx="1.5" ry="1.6" fill="#393939"/>
<ellipse cx="114.0" cy="87.6" rx="1.3" ry="0.9" fill="#535353"/>
<ellipse cx="121.2" cy="89.2" rx="0.9" ry="0.9" fill="#3f3f3f"/>
<ellipse cx="124.0" cy="89.8" rx="1.2" ry="1.7" fill="#535353"/>
<ellipse cx="122.7" cy="94.1" rx="1.1" ry="1.6" fill="#595959"/>
<ellipse cx="115.8" cy="95.1" rx="1.0" ry="1.0" fill="#3f3f3f"/>
<ellipse cx="124.0" cy="98.3" rx="0.8" ry="1.0" fill="#535353"/>
<ellipse cx="122.1" cy="85.9" rx="0.8" ry="0.9" fill="#535353"/>
<circle cx="115.9" cy="79.6" r="0.8" fill="#9a9a9a"/>
<ellipse cx="114.7" cy="103.5" rx="0.9" ry="1.2" fill="#b8b8b8"/>
<circle cx="122.2" cy="79.6" r="0.8" fill="#9a9a9a"/>
<ellipse cx="123.4" cy="103.5" rx="0.9" ry="1.2" fill="#b8b8b8"/>
<line x1="119.1" y1="101.6" x2="118.7" y2="110.0" stroke="#e8e8e8" stroke-width="1.4"/>
<path d="M136.5,78.8 L138.1,79.5 L139.2,81.4 L140.2,84.0 L142.6,87.2 L144.1,91.1 L144.8,96.0 L144.7,99.8 L143.5,102.7 L141.0,104.0 L137.7,104.4 L135.2,104.4 L131.9,104.0 L129.4,102.7 L128.2,99.8 L128.1,96.0 L128.8,91.1 L130.3,87.2 L132.7,84.0 L133.7,81.4 L134.8,79.5 L136.5,78.8 Z" fill="#363636"/>
<path d="M136.5,78.3 L138.0,79.0 L138.9,80.9 L139.8,83.5 L142.1,86.7 L143.4,90.6 L144.0,95.5 L144.0,99.3 L142.8,102.2 L140.6,103.5 L137.6,103.9 L135.3,103.9 L132.3,103.5 L130.1,102.2 L128.9,99.3 L128.9,95.5 L129.5,90.6 L130.9,86.7 L133.1,83.5 L134.0,80.9 L134.9,79.0 L136.5,78.3 Z" fill="#474747"/>
<ellipse cx="136.0" cy="93.8" rx="4.3" ry="6.5" fill="#5c5c5c" opacity="0.85"/>
<ellipse cx="132.5" cy="92.8" rx="1.2" ry="0.9" fill="#535353"/>
<ellipse cx="135.6" cy="100.7" rx="1.1" ry="1.4" fill="#3f3f3f"/>
<ellipse cx="139.4" cy="98.4" rx="1.2" ry="0.8" fill="#393939"/>
<ellipse cx="136.3" cy="81.8" rx="0.9" ry="0.9" fill="#535353"/>
<ellipse cx="134.4" cy="101.1" rx="0.9" ry="1.4" fill="#3f3f3f"/>
<ellipse cx="135.0" cy="84.5" rx="0.6" ry="1.4" fill="#393939"/>
<ellipse cx="141.7" cy="91.1" rx="1.5" ry="1.5" fill="#535353"/>
<ellipse cx="132.2" cy="91.2" rx="1.0" ry="1.7" fill="#595959"/>
<ellipse cx="134.5" cy="88.5" rx="1.2" ry="1.6" fill="#393939"/>
<ellipse cx="141.2" cy="94.6" rx="1.2" ry="0.9" fill="#535353"/>
<circle cx="133.3" cy="79.6" r="0.8" fill="#9a9a9a"/>
<ellipse cx="132.1" cy="103.5" rx="0.9" ry="1.2" fill="#b8b8b8"/>
<circle cx="139.6" cy="79.6" r="0.8" fill="#9a9a9a"/>
<ellipse cx="140.8" cy="103.5" rx="0.9" ry="1.2" fill="#b8b8b8"/>
<line x1="136.5" y1="101.6" x2="137.0" y2="110.0" stroke="#e8e8e8" stroke-width="1.4"/>
<path d="M153.0,78.8 L154.7,79.5 L155.8,81.4 L156.9,84.0 L159.1,87.2 L161.3,91.1 L161.8,96.0 L160.9,99.8 L160.3,102.7 L157.2,104.0 L154.3,104.4 L151.7,104.4 L148.8,104.0 L145.8,102.7 L145.1,99.8 L144.2,96.0 L144.7,91.1 L147.0,87.2 L149.2,84.0 L150.2,81.4 L151.4,79.5 L153.0,78.8 Z" fill="#363636"/>
<path d="M153.0,78.3 L154.5,79.0 L155.6,80.9 L156.5,83.5 L158.5,86.7 L160.6,90.6 L161.0,95.5 L160.2,99.3 L159.6,102.2 L156.9,103.5 L154.2,103.9 L151.8,103.9 L149.2,103.5 L146.4,102.2 L145.9,99.3 L145.0,95.5 L145.5,90.6 L147.5,86.7 L149.6,83.5 L150.5,80.9 L151.5,79.0 L153.0,78.3 Z" fill="#474747"/>
<ellipse cx="152.7" cy="93.0" rx="4.3" ry="6.5" fill="#5c5c5c" opacity="0.85"/>
<ellipse cx="151.5" cy="85.8" rx="1.1" ry="1.2" fill="#3f3f3f"/>
<ellipse cx="156.7" cy="86.0" rx="0.7" ry="1.8" fill="#393939"/>
<ellipse cx="157.7" cy="101.9" rx="1.4" ry="1.9" fill="#595959"/>
<ellipse cx="153.0" cy="91.4" rx="1.5" ry="1.5" fill="#3f3f3f"/>
<ellipse cx="154.4" cy="83.9" rx="0.7" ry="1.3" fill="#3f3f3f"/>
<ellipse cx="158.2" cy="82.8" rx="1.4" ry="1.4" fill="#393939"/>
<ellipse cx="149.9" cy="88.8" rx="1.4" ry="1.8" fill="#393939"/>
<ellipse cx="156.2" cy="89.9" rx="0.7" ry="0.9" fill="#535353"/>
<ellipse cx="155.3" cy="99.6" rx="1.0" ry="1.6" fill="#393939"/>
<ellipse cx="156.6" cy="99.9" rx="0.9" ry="0.8" fill="#3f3f3f"/>
<circle cx="149.9" cy="79.6" r="0.8" fill="#9a9a9a"/>
<ellipse cx="148.7" cy="103.5" rx="0.9" ry="1.2" fill="#b8b8b8"/>
<circle cx="156.2" cy="79.6" r="0.8" fill="#9a9a9a"/>
<ellipse cx="157.3" cy="103.5" rx="0.9" ry="1.2" fill="#b8b8b8"/>
<line x1="153.0" y1="101.6" x2="153.8" y2="110.0" stroke="#e8e8e8" stroke-width="1.4"/>
<path d="M170.9,78.8 L172.6,79.5 L173.7,81.4 L174.5,84.0 L176.8,87.2 L178.8,91.1 L179.6,96.0 L178.8,99.8 L177.8,102.7 L175.2,104.0 L172.1,104.4 L169.6,104.4 L166.5,104.0 L163.9,102.7 L162.9,99.8 L162.1,96.0 L162.9,91.1 L164.9,87.2 L167.2,84.0 L168.0,81.4 L169.1,79.5 L170.9,78.8 Z" fill="#363636"/>
<path d="M170.9,78.3 L172.4,79.0 L173.5,80.9 L174.1,83.5 L176.3,86.7 L178.1,90.6 L178.8,95.5 L178.1,99.3 L177.2,102.2 L174.8,103.5 L172.0,103.9 L169.7,103.9 L166.9,103.5 L164.5,102.2 L163.6,99.3 L162.9,95.5 L163.6,90.6 L165.4,86.7 L167.6,83.5 L168.3,80.9 L169.3,79.0 L170.9,78.3 Z" fill="#474747"/>
<ellipse cx="171.6" cy="93.3" rx="4.3" ry="6.5" fill="#5c5c5c" opacity="0.85"/>
<ellipse cx="169.0" cy="94.8" rx="1.5" ry="1.4" fill="#595959"/>
<ellipse cx="172.5" cy="87.2" rx="1.1" ry="1.6" fill="#535353"/>
<ellipse cx="174.7" cy="85.6" rx="1.2" ry="1.0" fill="#595959"/>
<ellipse cx="171.7" cy="92.6" rx="0.9" ry="1.1" fill="#595959"/>
<ellipse cx="170.2" cy="86.4" rx="0.8" ry="1.9" fill="#3f3f3f"/>
<ellipse cx="171.4" cy="83.3" rx="1.2" ry="1.0" fill="#535353"/>
<ellipse cx="172.7" cy="95.8" rx="1.1" ry="1.1" fill="#3f3f3f"/>
<ellipse cx="171.6" cy="83.3" rx="1.4" ry="1.6" fill="#393939"/>
<ellipse cx="174.1" cy="83.7" rx="1.2" ry="2.0" fill="#393939"/>
<ellipse cx="171.0" cy="90.6" rx="1.1" ry="2.0" fill="#595959"/>
<circle cx="167.7" cy="79.6" r="0.8" fill="#9a9a9a"/>
<ellipse cx="166.5" cy="103.5" rx="0.9" ry="1.2" fill="#b8b8b8"/>
<circle cx="174.0" cy="79.6" r="0.8" fill="#9a9a9a"/>
<ellipse cx="175.2" cy="103.5" rx="0.9" ry="1.2" fill="#b8b8b8"/>
<line x1="170.9" y1="101.6" x2="170.1" y2="110.0" stroke="#e8e8e8" stroke-width="1.4"/>
<path d="M187.7,78.8 L189.3,79.5 L190.5,81.4 L191.2,84.0 L193.4,87.2 L195.1,91.1 L196.5,96.0 L196.4,99.8 L194.7,102.7 L191.8,104.0 L188.9,104.4 L186.4,104.4 L183.5,104.0 L180.6,102.7 L178.9,99.8 L178.8,96.0 L180.2,91.1 L181.9,87.2 L184.1,84.0 L184.8,81.4 L186.0,79.5 L187.7,78.8 Z" fill="#363636"/>
<path d="M187.7,78.3 L189.2,79.0 L190.3,80.9 L190.9,83.5 L192.8,86.7 L194.5,90.6 L195.7,95.5 L195.6,99.3 L194.0,102.2 L191.4,103.5 L188.8,103.9 L186.5,103.9 L183.9,103.5 L181.3,102.2 L179.7,99.3 L179.6,95.5 L180.8,90.6 L182.5,86.7 L184.4,83.5 L185.0,80.9 L186.1,79.0 L187.7,78.3 Z" fill="#474747"/>
<ellipse cx="188.6" cy="91.2" rx="4.3" ry="6.5" fill="#5c5c5c" opacity="0.85"/>
<ellipse cx="193.0" cy="85.2" rx="1.4" ry="1.8" fill="#393939"/>
<ellipse cx="184.0" cy="96.6" rx="1.3" ry="1.7" fill="#535353"/>
<ellipse cx="182.3" cy="86.3" rx="0.9" ry="1.7" fill="#3f3f3f"/>
<ellipse cx="192.6" cy="96.1" rx="1.3" ry="1.2" fill="#393939"/>
<ellipse cx="186.1" cy="87.8" rx="0.6" ry="1.9" fill="#393939"/>
<ellipse cx="184.8" cy="88.4" rx="0.6" ry="2.0" fill="#595959"/>
<ellipse cx="187.0" cy="97.5" rx="0.7" ry="1.8" fill="#595959"/>
<ellipse cx="184.2" cy="92.6" rx="1.4" ry="1.6" fill="#535353"/>
<ellipse cx="191.3" cy="93.3" rx="1.1" ry="1.6" fill="#535353"/>
<ellipse cx="191.0" cy="100.8" rx="0.6" ry="2.0" fill="#393939"/>
<circle cx="184.5" cy="79.6" r="0.8" fill="#9a9a9a"/>
<ellipse cx="183.3" cy="103.5" rx="0.9" ry="1.2" fill="#b8b8b8"/>
<circle cx="190.8" cy="79.6" r="0.8" fill="#9a9a9a"/>
<ellipse cx="192.0" cy="103.5" rx="0.9" ry="1.2" fill="#b8b8b8"/>
<line x1="187.7" y1="101.6" x2="187.6" y2="110.0" stroke="#e8e8e8" stroke-width="1.4"/>
</g>
<rect x="111.0" y="77.7" width="85.2" height="32.3" filter="url(#noise)" style="mix-blend-mode:overlay"/>
<g filter="url(#bl2)">
<circle cx="151.3" cy="86.6" r="0.9" fill="#2a2aff"/>
<circle cx="148.0" cy="100.7" r="0.8" fill="#30b8ff"/>
<circle cx="155.3" cy="103.4" r="0.8" fill="#30b8ff"/>
<circle cx="150.3" cy="101.7" r="0.8" fill="#2a2aff"/>
<circle cx="150.0" cy="95.5" r="0.7" fill="#2a2aff"/>
<circle cx="152.5" cy="86.8" r="0.6" fill="#2a2aff"/>
<circle cx="154.0" cy="92.0" r="0.7" fill="#2a2aff"/>
<circle cx="149.5" cy="92.0" r="0.7" fill="#2a2aff"/>
<circle cx="146.2" cy="94.3" r="1.0" fill="#2a2aff"/>
<ellipse cx="154.2" cy="79.0" rx="2.1" ry="2.1" fill="#2222f8"/>
<ellipse cx="150.7" cy="101.3" rx="1.6" ry="1.6" fill="#2222f8"/>
<ellipse cx="112.0" cy="79.0" rx="1.5" ry="1.5" fill="#2222f8"/>
<ellipse cx="195.0" cy="78.5" rx="1.2" ry="1.2" fill="#2222f8"/>
<ellipse cx="154.2" cy="79.0" rx="1.5" ry="1.5" fill="#20d0ff"/>
<ellipse cx="150.7" cy="101.3" rx="1.0" ry="1.0" fill="#20d0ff"/>
<ellipse cx="154.2" cy="79.0" rx="0.9" ry="0.9" fill="#f0e820"/>
</g>
</g></g>
<g><rect x="111.0" y="112.6" width="16.8" height="31.4" fill="#4c4c4c"/>
<clipPath id="cp9"><rect x="111.0" y="112.6" width="16.8" height="31.4"/></clipPath>
<g clip-path="url(#cp9)"><g filter="url(#bl)">
<rect x="111.0" y="112.6" width="16.8" height="1.2" fill="#2a2a2a"/>
<path d="M119.6,113.7 L121.2,114.4 L122.3,116.2 L122.9,118.8 L125.9,121.9 L127.2,125.7 L128.1,130.4 L127.8,134.1 L126.2,137.0 L123.9,138.2 L120.9,138.5 L118.2,138.5 L115.2,138.2 L112.9,137.0 L111.3,134.1 L111.0,130.4 L111.9,125.7 L113.3,121.9 L116.2,118.8 L116.8,116.2 L117.9,114.4 L119.6,113.7 Z" fill="#363636"/>
<path d="M119.6,113.2 L121.0,113.9 L122.1,115.7 L122.6,118.3 L125.3,121.4 L126.5,125.2 L127.4,129.9 L127.1,133.6 L125.6,136.5 L123.5,137.7 L120.8,138.0 L118.3,138.0 L115.6,137.7 L113.5,136.5 L112.1,133.6 L111.8,129.9 L112.6,125.2 L113.8,121.4 L116.5,118.3 L117.0,115.7 L118.1,113.9 L119.6,113.2 Z" fill="#474747"/>
<ellipse cx="120.5" cy="125.8" rx="4.3" ry="6.3" fill="#5c5c5c" opacity="0.85"/>
<ellipse cx="116.3" cy="124.4" rx="0.9" ry="1.1" fill="#393939"/>
<ellipse cx="122.8" cy="133.6" rx="1.2" ry="1.2" fill="#3f3f3f"/>
<ellipse cx="122.4" cy="130.8" rx="0.9" ry="1.5" fill="#3f3f3f"/>
<ellipse cx="118.5" cy="117.0" rx="1.2" ry="1.9" fill="#535353"/>
<ellipse cx="122.6" cy="126.0" rx="1.3" ry="2.0" fill="#3f3f3f"/>
<ellipse cx="115.8" cy="119.9" rx="1.0" ry="1.3" fill="#595959"/>
<ellipse cx="122.5" cy="134.7" rx="0.7" ry="1.7" fill="#393939"/>
<ellipse cx="116.9" cy="127.4" rx="0.7" ry="1.0" fill="#535353"/>
<ellipse cx="124.2" cy="127.7" rx="1.1" ry="2.0" fill="#535353"/>
<ellipse cx="118.0" cy="131.5" rx="1.2" ry="1.9" fill="#595959"/>
<circle cx="116.5" cy="114.5" r="0.8" fill="#9a9a9a"/>
<ellipse cx="115.3" cy="137.7" rx="0.9" ry="1.2" fill="#b8b8b8"/>
<circle cx="122.6" cy="114.5" r="0.8" fill="#9a9a9a"/>
<ellipse cx="123.8" cy="137.7" rx="0.9" ry="1.2" fill="#b8b8b8"/>
<line x1="119.6" y1="135.8" x2="120.4" y2="144.0" stroke="#e8e8e8" stroke-width="1.4"/>
</g>
<rect x="111.0" y="112.6" width="16.8" height="31.4" filter="url(#noise)" style="mix-blend-mode:overlay"/>
<g filter="url(#bl2)">
<ellipse cx="113.0" cy="115.0" rx="2.0" ry="3.0" fill="#2222f8"/>
<ellipse cx="116.0" cy="113.5" rx="1.5" ry="1.0" fill="#2222f8"/>
</g>
</g></g>
<g><rect x="143.9" y="112.6" width="51.9" height="31.4" fill="#4c4c4c"/>
<clipPath id="cp10"><rect x="143.9" y="112.6" width="51.9" height="31.4"/></clipPath>
<g clip-path="url(#cp10)"><g filter="url(#bl)">
<rect x="143.9" y="112.6" width="51.9" height="1.2" fill="#2a2a2a"/>
<path d="M152.3,113.7 L154.2,114.4 L155.2,116.2 L156.1,118.8 L158.6,121.9 L160.1,125.7 L160.6,130.4 L160.3,134.1 L159.5,137.0 L156.9,138.2 L153.6,138.5 L151.1,138.5 L147.7,138.2 L145.2,137.0 L144.4,134.1 L144.1,130.4 L144.5,125.7 L146.1,121.9 L148.5,118.8 L149.4,116.2 L150.5,114.4 L152.3,113.7 Z" fill="#363636"/>
<path d="M152.3,113.2 L154.0,113.9 L155.0,115.7 L155.8,118.3 L158.0,121.4 L159.4,125.2 L159.8,129.9 L159.6,133.6 L158.8,136.5 L156.5,137.7 L153.5,138.0 L151.2,138.0 L148.2,137.7 L145.8,136.5 L145.1,133.6 L144.8,129.9 L145.2,125.2 L146.7,121.4 L148.9,118.3 L149.7,115.7 L150.7,113.9 L152.3,113.2 Z" fill="#474747"/>
<ellipse cx="152.3" cy="125.8" rx="4.4" ry="6.3" fill="#5c5c5c" opacity="0.85"/>
<ellipse cx="149.5" cy="116.9" rx="1.1" ry="0.9" fill="#3f3f3f"/>
<ellipse cx="155.8" cy="133.6" rx="1.2" ry="0.8" fill="#535353"/>
<ellipse cx="149.8" cy="128.9" rx="1.2" ry="1.9" fill="#393939"/>
<ellipse cx="149.1" cy="122.4" rx="1.2" ry="1.3" fill="#393939"/>
<ellipse cx="154.3" cy="122.6" rx="1.4" ry="1.8" fill="#393939"/>
<ellipse cx="147.7" cy="128.2" rx="1.5" ry="1.3" fill="#595959"/>
<ellipse cx="157.2" cy="133.6" rx="1.4" ry="1.5" fill="#393939"/>
<ellipse cx="157.8" cy="116.9" rx="0.7" ry="0.8" fill="#535353"/>
<ellipse cx="149.1" cy="126.5" rx="0.9" ry="1.2" fill="#393939"/>
<ellipse cx="150.6" cy="129.6" rx="1.2" ry="1.5" fill="#3f3f3f"/>
<circle cx="149.1" cy="114.5" r="0.8" fill="#9a9a9a"/>
<ellipse cx="148.0" cy="137.7" rx="0.9" ry="1.2" fill="#b8b8b8"/>
<circle cx="155.5" cy="114.5" r="0.8" fill="#9a9a9a"/>
<ellipse cx="156.7" cy="137.7" rx="0.9" ry="1.2" fill="#b8b8b8"/>
<line x1="152.3" y1="135.8" x2="151.9" y2="144.0" stroke="#e8e8e8" stroke-width="1.4"/>
<path d="M170.1,113.7 L171.9,114.4 L173.1,116.2 L173.9,118.8 L176.1,121.9 L178.5,125.7 L179.4,130.4 L178.5,134.1 L177.1,137.0 L174.5,138.2 L171.5,138.5 L168.8,138.5 L165.8,138.2 L163.2,137.0 L161.8,134.1 L160.9,130.4 L161.8,125.7 L164.2,121.9 L166.3,118.8 L167.2,116.2 L168.3,114.4 L170.1,113.7 Z" fill="#363636"/>
<path d="M170.1,113.2 L171.8,113.9 L172.8,115.7 L173.6,118.3 L175.6,121.4 L177.7,125.2 L178.6,129.9 L177.7,133.6 L176.5,136.5 L174.1,137.7 L171.4,138.0 L168.9,138.0 L166.1,137.7 L163.8,136.5 L162.5,133.6 L161.7,129.9 L162.6,125.2 L164.7,121.4 L166.7,118.3 L167.4,115.7 L168.5,113.9 L170.1,113.2 Z" fill="#474747"/>
<ellipse cx="169.3" cy="125.5" rx="4.4" ry="6.3" fill="#5c5c5c" opacity="0.85"/>
<ellipse cx="169.9" cy="129.1" rx="0.7" ry="1.6" fill="#535353"/>
<ellipse cx="169.0" cy="135.7" rx="1.2" ry="0.9" fill="#393939"/>
<ellipse cx="170.6" cy="119.9" rx="0.8" ry="1.5" fill="#3f3f3f"/>
<ellipse cx="172.8" cy="134.2" rx="1.1" ry="1.2" fill="#3f3f3f"/>
<ellipse cx="172.5" cy="124.8" rx="0.8" ry="1.9" fill="#595959"/>
<ellipse cx="174.6" cy="123.7" rx="0.9" ry="1.9" fill="#3f3f3f"/>
<ellipse cx="165.8" cy="130.7" rx="1.3" ry="1.9" fill="#393939"/>
<ellipse cx="172.1" cy="122.9" rx="1.1" ry="1.3" fill="#3f3f3f"/>
<ellipse cx="174.8" cy="135.0" rx="0.6" ry="0.8" fill="#3f3f3f"/>
<ellipse cx="172.5" cy="120.7" rx="0.8" ry="1.7" fill="#535353"/>
<circle cx="167.0" cy="114.5" r="0.8" fill="#9a9a9a"/>
<ellipse cx="165.8" cy="137.7" rx="0.9" ry="1.2" fill="#b8b8b8"/>
<circle cx="173.3" cy="114.5" r="0.8" fill="#9a9a9a"/>
<ellipse cx="174.5" cy="137.7" rx="0.9" ry="1.2" fill="#b8b8b8"/>
<line x1="170.1" y1="135.8" x2="170.5" y2="144.0" stroke="#e8e8e8" stroke-width="1.4"/>
<path d="M186.9,113.7 L188.6,114.4 L189.8,116.2 L190.4,118.8 L193.3,121.9 L195.3,125.7 L195.4,130.4 L195.6,134.1 L194.4,137.0 L191.2,138.2 L188.2,138.5 L185.6,138.5 L182.6,138.2 L179.5,137.0 L178.3,134.1 L178.4,130.4 L178.5,125.7 L180.5,121.9 L183.4,118.8 L184.0,116.2 L185.2,114.4 L186.9,113.7 Z" fill="#363636"/>
<path d="M186.9,113.2 L188.4,113.9 L189.6,115.7 L190.1,118.3 L192.7,121.4 L194.6,125.2 L194.6,129.9 L194.8,133.6 L193.7,136.5 L190.8,137.7 L188.1,138.0 L185.7,138.0 L183.0,137.7 L180.1,136.5 L179.0,133.6 L179.2,129.9 L179.3,125.2 L181.1,121.4 L183.7,118.3 L184.3,115.7 L185.4,113.9 L186.9,113.2 Z" fill="#474747"/>
<ellipse cx="186.9" cy="128.3" rx="4.4" ry="6.3" fill="#5c5c5c" opacity="0.85"/>
<ellipse cx="183.1" cy="129.7" rx="0.8" ry="0.9" fill="#595959"/>
<ellipse cx="190.1" cy="133.1" rx="0.6" ry="1.7" fill="#535353"/>
<ellipse cx="186.2" cy="124.6" rx="1.5" ry="1.2" fill="#3f3f3f"/>
<ellipse cx="181.6" cy="118.0" rx="0.7" ry="1.2" fill="#393939"/>
<ellipse cx="186.9" cy="122.9" rx="1.0" ry="1.3" fill="#3f3f3f"/>
<ellipse cx="186.0" cy="128.8" rx="1.4" ry="2.0" fill="#595959"/>
<ellipse cx="181.7" cy="120.5" rx="0.6" ry="1.4" fill="#393939"/>
<ellipse cx="183.9" cy="124.5" rx="1.3" ry="0.9" fill="#393939"/>
<ellipse cx="191.3" cy="117.1" rx="0.7" ry="1.4" fill="#393939"/>
<ellipse cx="182.9" cy="124.5" rx="0.8" ry="1.4" fill="#3f3f3f"/>
<circle cx="183.7" cy="114.5" r="0.8" fill="#9a9a9a"/>
<ellipse cx="182.5" cy="137.7" rx="0.9" ry="1.2" fill="#b8b8b8"/>
<circle cx="190.1" cy="114.5" r="0.8" fill="#9a9a9a"/>
<ellipse cx="191.3" cy="137.7" rx="0.9" ry="1.2" fill="#b8b8b8"/>
<line x1="186.9" y1="135.8" x2="187.2" y2="144.0" stroke="#e8e8e8" stroke-width="1.4"/>
</g>
<rect x="143.9" y="112.6" width="51.9" height="31.4" filter="url(#noise)" style="mix-blend-mode:overlay"/>
<g filter="url(#bl2)">
<ellipse cx="152.4" cy="113.3" rx="3.2" ry="3.2" fill="#2222f8"/>
<ellipse cx="154.2" cy="123.7" rx="0.9" ry="0.9" fill="#2222f8"/>
<ellipse cx="148.3" cy="134.3" rx="3.3" ry="3.3" fill="#2222f8"/>
<ellipse cx="146.5" cy="131.0" rx="0.8" ry="0.8" fill="#2222f8"/>
<ellipse cx="151.0" cy="120.0" rx="0.7" ry="0.7" fill="#2222f8"/>
<ellipse cx="152.4" cy="113.3" rx="2.2" ry="2.2" fill="#20d0ff"/>
<ellipse cx="148.3" cy="134.3" rx="2.3" ry="2.3" fill="#20d0ff"/>
<ellipse cx="152.4" cy="113.3" rx="1.6" ry="1.6" fill="#f0e820"/>
<ellipse cx="148.3" cy="134.3" rx="1.7" ry="1.7" fill="#f0e820"/>
<ellipse cx="152.4" cy="113.3" rx="1.0" ry="1.0" fill="#ff1000"/>
<ellipse cx="148.3" cy="134.3" rx="1.1" ry="1.1" fill="#ff1000"/>
</g>
</g></g>
<g><rect x="143.0" y="145.7" width="17.8" height="25.9" fill="#4c4c4c"/>
<clipPath id="cp11"><rect x="143.0" y="145.7" width="17.8" height="25.9"/></clipPath>
<g clip-path="url(#cp11)"><g filter="url(#bl)">
<rect x="143.0" y="145.7" width="17.8" height="1.2" fill="#2a2a2a"/>
<path d="M152.0,146.7 L153.8,147.2 L155.0,148.8 L155.9,150.9 L157.9,153.5 L160.7,156.6 L161.3,160.4 L161.1,163.6 L159.1,165.9 L156.2,166.9 L153.3,167.2 L150.6,167.2 L147.7,166.9 L144.8,165.9 L142.8,163.6 L142.6,160.4 L143.2,156.6 L146.0,153.5 L148.0,150.9 L148.9,148.8 L150.1,147.2 L152.0,146.7 Z" fill="#363636"/>
<path d="M152.0,146.2 L153.6,146.7 L154.8,148.3 L155.6,150.4 L157.4,153.0 L159.9,156.1 L160.5,159.9 L160.3,163.1 L158.4,165.4 L155.8,166.4 L153.2,166.7 L150.7,166.7 L148.1,166.4 L145.5,165.4 L143.6,163.1 L143.4,159.9 L144.0,156.1 L146.5,153.0 L148.3,150.4 L149.1,148.3 L150.3,146.7 L152.0,146.2 Z" fill="#474747"/>
<ellipse cx="150.8" cy="157.0" rx="4.5" ry="5.2" fill="#5c5c5c" opacity="0.85"/>
<ellipse cx="157.3" cy="151.6" rx="1.0" ry="1.5" fill="#393939"/>
<ellipse cx="150.4" cy="148.5" rx="1.2" ry="1.5" fill="#393939"/>
<ellipse cx="152.5" cy="159.9" rx="1.0" ry="1.2" fill="#535353"/>
<ellipse cx="151.0" cy="164.7" rx="1.3" ry="1.9" fill="#595959"/>
<ellipse cx="155.4" cy="163.4" rx="0.8" ry="1.4" fill="#393939"/>
<ellipse cx="157.6" cy="160.0" rx="1.5" ry="1.8" fill="#595959"/>
<ellipse cx="153.8" cy="149.8" rx="1.4" ry="0.9" fill="#393939"/>
<ellipse cx="154.2" cy="153.8" rx="1.1" ry="1.2" fill="#595959"/>
<ellipse cx="157.4" cy="148.3" rx="1.1" ry="1.5" fill="#595959"/>
<ellipse cx="157.6" cy="152.2" rx="0.9" ry="0.9" fill="#595959"/>
<circle cx="148.7" cy="147.3" r="0.8" fill="#9a9a9a"/>
<ellipse cx="147.5" cy="166.4" rx="0.9" ry="1.2" fill="#b8b8b8"/>
<circle cx="155.2" cy="147.3" r="0.8" fill="#9a9a9a"/>
<ellipse cx="156.5" cy="166.4" rx="0.9" ry="1.2" fill="#b8b8b8"/>
<line x1="152.0" y1="164.9" x2="153.1" y2="171.6" stroke="#e8e8e8" stroke-width="1.4"/>
</g>
<rect x="143.0" y="145.7" width="17.8" height="25.9" filter="url(#noise)" style="mix-blend-mode:overlay"/>
<g filter="url(#bl2)">
<ellipse cx="152.4" cy="149.7" rx="1.0" ry="1.0" fill="#2222f8"/>
</g>
</g></g>
<g><rect x="205.6" y="44.2" width="83.1" height="31.4" fill="#4c4c4c"/>
<clipPath id="cp12"><rect x="205.6" y="44.2" width="83.1" height="31.4"/></clipPath>
<g clip-path="url(#cp12)"><g filter="url(#bl)">
<rect x="205.6" y="44.2" width="83.1" height="1.2" fill="#2a2a2a"/>
<path d="M213.6,45.3 L215.4,46.0 L216.3,47.8 L217.3,50.4 L219.6,53.5 L221.8,57.3 L222.3,62.0 L221.5,65.7 L220.8,68.6 L218.0,69.8 L214.9,70.1 L212.4,70.1 L209.2,69.8 L206.5,68.6 L205.8,65.7 L205.0,62.0 L205.5,57.3 L207.6,53.5 L210.0,50.4 L211.0,47.8 L211.9,46.0 L213.6,45.3 Z" fill="#363636"/>
<path d="M213.6,44.8 L215.2,45.5 L216.0,47.3 L217.0,49.9 L219.1,53.0 L221.0,56.8 L221.5,61.5 L220.8,65.2 L220.2,68.1 L217.6,69.3 L214.8,69.6 L212.5,69.6 L209.6,69.3 L207.1,68.1 L206.5,65.2 L205.7,61.5 L206.2,56.8 L208.2,53.0 L210.3,49.9 L211.2,47.3 L212.0,45.5 L213.6,44.8 Z" fill="#474747"/>
<ellipse cx="213.8" cy="58.9" rx="4.2" ry="6.3" fill="#5c5c5c" opacity="0.85"/>
<ellipse cx="219.0" cy="48.7" rx="1.1" ry="1.4" fill="#535353"/>
<ellipse cx="217.0" cy="52.2" rx="0.7" ry="1.6" fill="#3f3f3f"/>
<ellipse cx="210.2" cy="66.7" rx="0.9" ry="1.2" fill="#393939"/>
<ellipse cx="217.5" cy="56.1" rx="0.7" ry="1.1" fill="#595959"/>
<ellipse cx="209.4" cy="54.6" rx="1.0" ry="0.9" fill="#535353"/>
<ellipse cx="212.5" cy="67.7" rx="1.0" ry="1.4" fill="#393939"/>
<ellipse cx="216.8" cy="62.8" rx="0.6" ry="1.0" fill="#3f3f3f"/>
<ellipse cx="213.5" cy="60.8" rx="1.1" ry="1.8" fill="#535353"/>
<ellipse cx="211.0" cy="58.7" rx="1.1" ry="0.9" fill="#393939"/>
<ellipse cx="210.2" cy="62.0" rx="1.4" ry="1.1" fill="#535353"/>
<circle cx="210.6" cy="46.1" r="0.8" fill="#9a9a9a"/>
<ellipse cx="209.4" cy="69.3" rx="0.9" ry="1.2" fill="#b8b8b8"/>
<circle cx="216.7" cy="46.1" r="0.8" fill="#9a9a9a"/>
<ellipse cx="217.8" cy="69.3" rx="0.9" ry="1.2" fill="#b8b8b8"/>
<line x1="213.6" y1="67.4" x2="213.1" y2="75.6" stroke="#e8e8e8" stroke-width="1.4"/>
<path d="M230.5,45.3 L232.1,46.0 L233.1,47.8 L233.8,50.4 L236.7,53.5 L238.0,57.3 L239.1,62.0 L238.9,65.7 L237.5,68.6 L234.6,69.8 L231.6,70.1 L229.3,70.1 L226.3,69.8 L223.4,68.6 L222.0,65.7 L221.8,62.0 L222.9,57.3 L224.2,53.5 L227.1,50.4 L227.8,47.8 L228.8,46.0 L230.5,45.3 Z" fill="#363636"/>
<path d="M230.5,44.8 L232.0,45.5 L232.9,47.3 L233.5,49.9 L236.1,53.0 L237.3,56.8 L238.4,61.5 L238.2,65.2 L236.9,68.1 L234.2,69.3 L231.5,69.6 L229.4,69.6 L226.7,69.3 L224.0,68.1 L222.7,65.2 L222.6,61.5 L223.6,56.8 L224.8,53.0 L227.4,49.9 L228.1,47.3 L228.9,45.5 L230.5,44.8 Z" fill="#474747"/>
<ellipse cx="231.1" cy="60.1" rx="4.2" ry="6.3" fill="#5c5c5c" opacity="0.85"/>
<ellipse cx="229.7" cy="59.7" rx="0.9" ry="1.3" fill="#535353"/>
<ellipse cx="231.3" cy="66.2" rx="1.5" ry="1.8" fill="#3f3f3f"/>
<ellipse cx="231.3" cy="48.6" rx="0.9" ry="0.9" fill="#3f3f3f"/>
<ellipse cx="233.2" cy="55.1" rx="1.0" ry="1.9" fill="#595959"/>
<ellipse cx="233.2" cy="47.9" rx="1.4" ry="1.6" fill="#595959"/>
<ellipse cx="229.8" cy="67.6" rx="1.4" ry="1.3" fill="#3f3f3f"/>
<ellipse cx="230.4" cy="57.8" rx="1.2" ry="1.7" fill="#393939"/>
<ellipse cx="229.4" cy="48.2" rx="1.1" ry="1.7" fill="#535353"/>
<ellipse cx="233.3" cy="49.8" rx="1.4" ry="1.5" fill="#3f3f3f"/>
<ellipse cx="225.3" cy="57.5" rx="1.1" ry="0.9" fill="#3f3f3f"/>
<circle cx="227.4" cy="46.1" r="0.8" fill="#9a9a9a"/>
<ellipse cx="226.3" cy="69.3" rx="0.9" ry="1.2" fill="#b8b8b8"/>
<circle cx="233.5" cy="46.1" r="0.8" fill="#9a9a9a"/>
<ellipse cx="234.7" cy="69.3" rx="0.9" ry="1.2" fill="#b8b8b8"/>
<line x1="230.5" y1="67.4" x2="230.9" y2="75.6" stroke="#e8e8e8" stroke-width="1.4"/>
<path d="M247.4,45.3 L249.0,46.0 L250.2,47.8 L250.9,50.4 L253.3,53.5 L255.6,57.3 L256.1,62.0 L255.8,65.7 L254.0,68.6 L251.5,69.8 L248.7,70.1 L246.1,70.1 L243.3,69.8 L240.8,68.6 L239.0,65.7 L238.7,62.0 L239.2,57.3 L241.5,53.5 L243.9,50.4 L244.6,47.8 L245.8,46.0 L247.4,45.3 Z" fill="#363636"/>
<path d="M247.4,44.8 L248.9,45.5 L250.0,47.3 L250.6,49.9 L252.8,53.0 L254.9,56.8 L255.3,61.5 L255.1,65.2 L253.4,68.1 L251.1,69.3 L248.6,69.6 L246.3,69.6 L243.7,69.3 L241.4,68.1 L239.7,65.2 L239.5,61.5 L239.9,56.8 L242.0,53.0 L244.2,49.9 L244.8,47.3 L246.0,45.5 L247.4,44.8 Z" fill="#474747"/>
<ellipse cx="246.2" cy="60.2" rx="4.2" ry="6.3" fill="#5c5c5c" opacity="0.85"/>
<ellipse cx="245.0" cy="52.7" rx="0.9" ry="1.6" fill="#535353"/>
<ellipse cx="245.2" cy="55.4" rx="1.2" ry="1.2" fill="#595959"/>
<ellipse cx="244.7" cy="55.1" rx="1.4" ry="1.1" fill="#595959"/>
<ellipse cx="244.2" cy="48.4" rx="1.4" ry="1.6" fill="#535353"/>
<ellipse cx="249.6" cy="50.2" rx="0.8" ry="1.9" fill="#535353"/>
<ellipse cx="248.0" cy="48.4" rx="0.6" ry="0.9" fill="#535353"/>
<ellipse cx="252.2" cy="64.1" rx="0.8" ry="1.8" fill="#393939"/>
<ellipse cx="245.2" cy="61.8" rx="1.0" ry="1.7" fill="#595959"/>
<ellipse cx="244.2" cy="51.5" rx="1.0" ry="1.6" fill="#3f3f3f"/>
<ellipse cx="242.6" cy="64.9" rx="1.3" ry="1.4" fill="#393939"/>
<circle cx="244.3" cy="46.1" r="0.8" fill="#9a9a9a"/>
<ellipse cx="243.2" cy="69.3" rx="0.9" ry="1.2" fill="#b8b8b8"/>
<circle cx="250.5" cy="46.1" r="0.8" fill="#9a9a9a"/>
<ellipse cx="251.6" cy="69.3" rx="0.9" ry="1.2" fill="#b8b8b8"/>
<line x1="247.4" y1="67.4" x2="246.2" y2="75.6" stroke="#e8e8e8" stroke-width="1.4"/>
<path d="M264.0,45.3 L265.6,46.0 L266.7,47.8 L267.7,50.4 L270.1,53.5 L272.1,57.3 L272.5,62.0 L271.8,65.7 L271.2,68.6 L268.3,69.8 L265.3,70.1 L262.8,70.1 L259.7,69.8 L256.9,68.6 L256.3,65.7 L255.6,62.0 L256.0,57.3 L258.0,53.5 L260.4,50.4 L261.4,47.8 L262.4,46.0 L264.0,45.3 Z" fill="#363636"/>
<path d="M264.0,44.8 L265.5,45.5 L266.5,47.3 L267.3,49.9 L269.5,53.0 L271.3,56.8 L271.7,61.5 L271.1,65.2 L270.5,68.1 L268.0,69.3 L265.2,69.6 L262.9,69.6 L260.1,69.3 L257.6,68.1 L257.0,65.2 L256.4,61.5 L256.7,56.8 L258.5,53.0 L260.7,49.9 L261.6,47.3 L262.6,45.5 L264.0,44.8 Z" fill="#474747"/>
<ellipse cx="264.0" cy="57.7" rx="4.2" ry="6.3" fill="#5c5c5c" opacity="0.85"/>
<ellipse cx="259.7" cy="48.4" rx="1.2" ry="1.1" fill="#3f3f3f"/>
<ellipse cx="268.4" cy="61.3" rx="1.4" ry="1.9" fill="#3f3f3f"/>
<ellipse cx="260.1" cy="50.6" rx="0.9" ry="1.1" fill="#595959"/>
<ellipse cx="264.9" cy="53.8" rx="0.9" ry="1.1" fill="#3f3f3f"/>
<ellipse cx="264.6" cy="51.7" rx="1.0" ry="0.8" fill="#3f3f3f"/>
<ellipse cx="262.8" cy="60.4" rx="1.2" ry="1.6" fill="#3f3f3f"/>
<ellipse cx="260.8" cy="50.4" rx="1.0" ry="1.6" fill="#3f3f3f"/>
<ellipse cx="259.9" cy="64.2" rx="1.2" ry="1.1" fill="#393939"/>
<ellipse cx="265.7" cy="58.0" rx="0.9" ry="1.2" fill="#393939"/>
<ellipse cx="266.7" cy="57.5" rx="0.8" ry="1.1" fill="#393939"/>
<circle cx="261.0" cy="46.1" r="0.8" fill="#9a9a9a"/>
<ellipse cx="259.8" cy="69.3" rx="0.9" ry="1.2" fill="#b8b8b8"/>
<circle cx="267.1" cy="46.1" r="0.8" fill="#9a9a9a"/>
<ellipse cx="268.2" cy="69.3" rx="0.9" ry="1.2" fill="#b8b8b8"/>
<line x1="264.0" y1="67.4" x2="263.6" y2="75.6" stroke="#e8e8e8" stroke-width="1.4"/>
<path d="M280.5,45.3 L282.1,46.0 L283.3,47.8 L284.1,50.4 L286.6,53.5 L288.6,57.3 L289.0,62.0 L288.4,65.7 L287.5,68.6 L284.5,69.8 L281.7,70.1 L279.3,70.1 L276.5,69.8 L273.5,68.6 L272.6,65.7 L272.0,62.0 L272.4,57.3 L274.4,53.5 L276.8,50.4 L277.7,47.8 L278.9,46.0 L280.5,45.3 Z" fill="#363636"/>
<path d="M280.5,44.8 L282.0,45.5 L283.0,47.3 L283.8,49.9 L286.0,53.0 L287.9,56.8 L288.2,61.5 L287.7,65.2 L286.8,68.1 L284.1,69.3 L281.6,69.6 L279.4,69.6 L276.9,69.3 L274.2,68.1 L273.3,65.2 L272.8,61.5 L273.1,56.8 L275.0,53.0 L277.2,49.9 L278.0,47.3 L279.0,45.5 L280.5,44.8 Z" fill="#474747"/>
<ellipse cx="279.8" cy="57.6" rx="4.2" ry="6.3" fill="#5c5c5c" opacity="0.85"/>
<ellipse cx="278.4" cy="50.9" rx="1.0" ry="1.1" fill="#535353"/>
<ellipse cx="283.1" cy="51.0" rx="1.3" ry="1.7" fill="#535353"/>
<ellipse cx="280.0" cy="62.6" rx="1.3" ry="1.5" fill="#393939"/>
<ellipse cx="280.1" cy="48.0" rx="1.0" ry="1.6" fill="#393939"/>
<ellipse cx="279.6" cy="64.4" rx="0.9" ry="1.6" fill="#393939"/>
<ellipse cx="276.9" cy="50.8" rx="0.9" ry="1.8" fill="#393939"/>
<ellipse cx="284.5" cy="57.1" rx="0.8" ry="0.9" fill="#3f3f3f"/>
<ellipse cx="277.7" cy="50.5" rx="1.1" ry="0.9" fill="#535353"/>
<ellipse cx="280.1" cy="50.7" rx="1.1" ry="1.2" fill="#393939"/>
<ellipse cx="277.3" cy="55.6" rx="1.5" ry="1.9" fill="#3f3f3f"/>
<circle cx="277.4" cy="46.1" r="0.8" fill="#9a9a9a"/>
<ellipse cx="276.3" cy="69.3" rx="0.9" ry="1.2" fill="#b8b8b8"/>
<circle cx="283.5" cy="46.1" r="0.8" fill="#9a9a9a"/>
<ellipse cx="284.7" cy="69.3" rx="0.9" ry="1.2" fill="#b8b8b8"/>
<line x1="280.5" y1="67.4" x2="281.0" y2="75.6" stroke="#e8e8e8" stroke-width="1.4"/>
</g>
<rect x="205.6" y="44.2" width="83.1" height="31.4" filter="url(#noise)" style="mix-blend-mode:overlay"/>
<g filter="url(#bl2)">
<circle cx="249.9" cy="51.4" r="0.5" fill="#2a2aff"/>
<circle cx="283.4" cy="59.1" r="0.9" fill="#7000e0"/>
<circle cx="223.3" cy="67.1" r="0.5" fill="#2a2aff"/>
<circle cx="218.6" cy="52.2" r="0.5" fill="#30b8ff"/>
<circle cx="257.2" cy="47.4" r="0.8" fill="#2a2aff"/>
<circle cx="212.9" cy="61.9" r="0.6" fill="#7000e0"/>
<circle cx="269.5" cy="59.9" r="0.9" fill="#2a2aff"/>
<circle cx="212.0" cy="54.5" r="0.5" fill="#2a2aff"/>
<circle cx="256.7" cy="65.4" r="0.9" fill="#2a2aff"/>
<circle cx="212.9" cy="67.5" r="0.8" fill="#2a2aff"/>
<circle cx="206.9" cy="73.1" r="0.7" fill="#30b8ff"/>
<circle cx="208.6" cy="68.4" r="0.6" fill="#7000e0"/>
<circle cx="261.7" cy="48.7" r="0.7" fill="#2a2aff"/>
<circle cx="222.7" cy="72.7" r="0.8" fill="#2a2aff"/>
<circle cx="287.8" cy="68.5" r="0.7" fill="#30b8ff"/>
<circle cx="249.1" cy="54.2" r="0.5" fill="#7000e0"/>
<circle cx="258.2" cy="50.2" r="0.8" fill="#2a2aff"/>
<circle cx="270.5" cy="46.9" r="0.9" fill="#2a2aff"/>
<circle cx="233.5" cy="68.6" r="1.2" fill="#2222f8"/>
<circle cx="248.7" cy="60.1" r="1.2" fill="#2222f8"/>
<circle cx="249.0" cy="68.8" r="1.0" fill="#2222f8"/>
<circle cx="248.4" cy="60.2" r="0.9" fill="#2222f8"/>
<circle cx="244.0" cy="65.1" r="1.3" fill="#2222f8"/>
<circle cx="250.3" cy="57.9" r="1.1" fill="#2222f8"/>
<circle cx="247.2" cy="62.6" r="1.1" fill="#2222f8"/>
<circle cx="244.1" cy="66.7" r="0.9" fill="#2222f8"/>
<circle cx="231.7" cy="70.4" r="1.4" fill="#2222f8"/>
<circle cx="214.1" cy="58.0" r="1.2" fill="#2222f8"/>
<circle cx="231.0" cy="65.5" r="1.0" fill="#2222f8"/>
<circle cx="249.0" cy="62.9" r="1.0" fill="#2222f8"/>
<circle cx="231.8" cy="66.1" r="1.3" fill="#2222f8"/>
<circle cx="277.1" cy="60.0" r="0.8" fill="#2222f8"/>
<circle cx="245.8" cy="68.4" r="1.1" fill="#2222f8"/>
<circle cx="229.5" cy="51.7" r="1.0" fill="#2222f8"/>
<circle cx="234.3" cy="57.8" r="1.1" fill="#2222f8"/>
<circle cx="211.3" cy="56.5" r="0.9" fill="#2222f8"/>
<circle cx="218.3" cy="55.0" r="1.3" fill="#2222f8"/>
<circle cx="283.7" cy="60.7" r="0.9" fill="#2222f8"/>
<circle cx="263.4" cy="56.5" r="0.9" fill="#2222f8"/>
<circle cx="261.9" cy="62.7" r="1.3" fill="#2222f8"/>
<circle cx="246.9" cy="68.7" r="0.9" fill="#2222f8"/>
<circle cx="243.7" cy="60.3" r="0.7" fill="#2222f8"/>
<circle cx="277.1" cy="57.8" r="0.8" fill="#2222f8"/>
<circle cx="235.3" cy="53.3" r="1.2" fill="#2222f8"/>
<circle cx="262.2" cy="62.3" r="1.3" fill="#2222f8"/>
<circle cx="228.5" cy="57.1" r="1.4" fill="#2222f8"/>
<circle cx="284.8" cy="56.1" r="0.8" fill="#2222f8"/>
<circle cx="229.8" cy="66.1" r="1.2" fill="#2222f8"/>
<circle cx="246.7" cy="63.7" r="1.2" fill="#2222f8"/>
<circle cx="245.2" cy="64.7" r="0.8" fill="#2222f8"/>
<circle cx="231.0" cy="67.4" r="1.3" fill="#2222f8"/>
<circle cx="280.2" cy="61.7" r="1.4" fill="#2222f8"/>
<circle cx="232.5" cy="51.1" r="1.0" fill="#2222f8"/>
<circle cx="244.7" cy="60.0" r="1.4" fill="#2222f8"/>
<circle cx="247.6" cy="53.7" r="1.4" fill="#2222f8"/>
<circle cx="248.0" cy="59.9" r="1.2" fill="#2222f8"/>
<circle cx="229.0" cy="57.8" r="0.8" fill="#2222f8"/>
<circle cx="232.5" cy="70.6" r="0.9" fill="#2222f8"/>
<circle cx="231.8" cy="66.9" r="0.8" fill="#2222f8"/>
<circle cx="216.3" cy="56.8" r="1.2" fill="#2222f8"/>
<circle cx="228.7" cy="68.2" r="1.3" fill="#2222f8"/>
<circle cx="209.7" cy="54.4" r="0.8" fill="#2222f8"/>
<circle cx="266.2" cy="61.3" r="1.0" fill="#2222f8"/>
<circle cx="277.2" cy="57.0" r="1.2" fill="#2222f8"/>
<circle cx="263.1" cy="63.1" r="0.7" fill="#2222f8"/>
<circle cx="263.0" cy="56.5" r="0.7" fill="#2222f8"/>
<circle cx="265.7" cy="56.8" r="1.4" fill="#2222f8"/>
<circle cx="285.2" cy="58.3" r="0.8" fill="#2222f8"/>
<circle cx="232.5" cy="69.0" r="0.9" fill="#2222f8"/>
<circle cx="212.7" cy="57.2" r="1.4" fill="#2222f8"/>
<circle cx="265.1" cy="61.5" r="1.2" fill="#2222f8"/>
<circle cx="246.1" cy="60.7" r="1.4" fill="#2222f8"/>
<circle cx="277.1" cy="57.7" r="1.3" fill="#2222f8"/>
<circle cx="246.5" cy="64.7" r="0.8" fill="#2222f8"/>
<circle cx="233.8" cy="57.7" r="1.3" fill="#2222f8"/>
<circle cx="210.6" cy="53.0" r="1.1" fill="#2222f8"/>
<circle cx="218.1" cy="55.1" r="1.5" fill="#2222f8"/>
<circle cx="246.3" cy="67.6" r="1.5" fill="#2222f8"/>
<circle cx="233.1" cy="67.6" r="0.8" fill="#2222f8"/>
<circle cx="277.6" cy="59.0" r="1.1" fill="#2222f8"/>
<circle cx="245.9" cy="53.7" r="1.0" fill="#2222f8"/>
<circle cx="214.4" cy="50.7" r="1.1" fill="#2222f8"/>
<circle cx="279.5" cy="61.4" r="1.0" fill="#2222f8"/>
<circle cx="244.1" cy="68.3" r="0.9" fill="#2222f8"/>
<circle cx="262.4" cy="58.5" r="0.8" fill="#2222f8"/>
<circle cx="216.3" cy="55.3" r="1.3" fill="#2222f8"/>
<circle cx="210.4" cy="52.0" r="1.2" fill="#2222f8"/>
<circle cx="278.4" cy="60.7" r="1.3" fill="#2222f8"/>
<circle cx="261.1" cy="62.5" r="0.8" fill="#2222f8"/>
<circle cx="214.0" cy="50.4" r="1.4" fill="#2222f8"/>
<circle cx="227.5" cy="54.0" r="1.2" fill="#2222f8"/>
<circle cx="235.8" cy="55.7" r="0.7" fill="#2222f8"/>
<circle cx="284.5" cy="57.7" r="1.5" fill="#2222f8"/>
<circle cx="278.3" cy="57.8" r="1.0" fill="#2222f8"/>
<circle cx="283.3" cy="60.7" r="0.9" fill="#2222f8"/>
<circle cx="247.8" cy="66.9" r="1.5" fill="#2222f8"/>
<circle cx="246.7" cy="64.6" r="1.0" fill="#2222f8"/>
<circle cx="262.0" cy="60.6" r="0.8" fill="#2222f8"/>
<circle cx="264.3" cy="57.4" r="1.3" fill="#2222f8"/>
<circle cx="244.6" cy="59.9" r="1.4" fill="#2222f8"/>
<circle cx="249.1" cy="57.2" r="1.0" fill="#2222f8"/>
<circle cx="245.5" cy="65.1" r="1.5" fill="#2222f8"/>
<circle cx="234.3" cy="53.1" r="1.5" fill="#2222f8"/>
<circle cx="260.1" cy="59.7" r="1.1" fill="#2222f8"/>
<circle cx="248.8" cy="69.1" r="1.0" fill="#2222f8"/>
<circle cx="243.4" cy="54.5" r="1.4" fill="#2222f8"/>
<circle cx="250.0" cy="56.5" r="1.4" fill="#2222f8"/>
<circle cx="282.8" cy="54.5" r="0.9" fill="#2222f8"/>
<circle cx="263.9" cy="56.9" r="1.1" fill="#2222f8"/>
<circle cx="242.6" cy="57.0" r="1.3" fill="#2222f8"/>
<circle cx="262.1" cy="60.5" r="1.0" fill="#2222f8"/>
<circle cx="262.9" cy="59.9" r="1.0" fill="#2222f8"/>
<circle cx="227.1" cy="55.3" r="0.9" fill="#2222f8"/>
<circle cx="247.3" cy="53.7" r="1.2" fill="#2222f8"/>
<circle cx="229.3" cy="70.1" r="1.3" fill="#2222f8"/>
<circle cx="263.6" cy="57.9" r="0.7" fill="#2222f8"/>
<circle cx="248.1" cy="58.4" r="1.4" fill="#2222f8"/>
<circle cx="226.3" cy="69.6" r="1.2" fill="#2222f8"/>
<circle cx="211.9" cy="52.4" r="1.3" fill="#2222f8"/>
<circle cx="266.8" cy="61.9" r="0.9" fill="#2222f8"/>
<circle cx="217.5" cy="53.3" r="0.9" fill="#2222f8"/>
<circle cx="235.6" cy="54.3" r="1.4" fill="#2222f8"/>
<circle cx="245.3" cy="53.2" r="1.3" fill="#2222f8"/>
<circle cx="210.9" cy="54.9" r="1.5" fill="#2222f8"/>
<circle cx="241.9" cy="58.5" r="0.9" fill="#2222f8"/>
<circle cx="229.1" cy="71.1" r="1.0" fill="#2222f8"/>
<circle cx="230.1" cy="71.1" r="1.5" fill="#2222f8"/>
<circle cx="248.1" cy="57.3" r="1.4" fill="#2222f8"/>
<circle cx="248.6" cy="67.2" r="1.4" fill="#2222f8"/>
<circle cx="266.9" cy="61.3" r="1.3" fill="#2222f8"/>
<circle cx="245.9" cy="66.4" r="1.4" fill="#2222f8"/>
<circle cx="211.4" cy="55.0" r="1.4" fill="#2222f8"/>
<circle cx="248.5" cy="54.6" r="1.4" fill="#2222f8"/>
<circle cx="232.9" cy="68.1" r="0.7" fill="#2222f8"/>
<circle cx="277.1" cy="57.6" r="1.3" fill="#2222f8"/>
<circle cx="215.7" cy="57.5" r="0.7" fill="#2222f8"/>
<circle cx="244.0" cy="59.5" r="1.3" fill="#2222f8"/>
<circle cx="260.2" cy="61.2" r="1.3" fill="#2222f8"/>
<circle cx="214.6" cy="57.0" r="1.4" fill="#2222f8"/>
<circle cx="249.2" cy="55.7" r="1.1" fill="#2222f8"/>
<circle cx="263.0" cy="59.0" r="1.1" fill="#2222f8"/>
<circle cx="229.1" cy="54.5" r="1.3" fill="#2222f8"/>
<circle cx="245.2" cy="69.3" r="1.1" fill="#2222f8"/>
<circle cx="244.0" cy="55.5" r="1.1" fill="#2222f8"/>
<circle cx="215.2" cy="50.5" r="1.3" fill="#2222f8"/>
<circle cx="213.0" cy="52.7" r="0.8" fill="#2222f8"/>
<circle cx="279.6" cy="60.1" r="1.3" fill="#2222f8"/>
<circle cx="261.1" cy="58.6" r="0.8" fill="#2222f8"/>
<circle cx="248.9" cy="67.1" r="0.9" fill="#2222f8"/>
<circle cx="263.0" cy="57.3" r="1.4" fill="#2222f8"/>
<circle cx="247.7" cy="60.3" r="1.2" fill="#2222f8"/>
<circle cx="279.1" cy="56.6" r="0.8" fill="#2222f8"/>
<circle cx="227.7" cy="54.1" r="1.0" fill="#2222f8"/>
<circle cx="210.0" cy="53.7" r="1.2" fill="#2222f8"/>
<circle cx="262.1" cy="63.4" r="1.0" fill="#2222f8"/>
<circle cx="212.7" cy="55.5" r="1.4" fill="#2222f8"/>
<circle cx="282.1" cy="60.6" r="1.0" fill="#2222f8"/>
<circle cx="244.6" cy="63.3" r="1.2" fill="#2222f8"/>
<circle cx="278.3" cy="56.0" r="1.3" fill="#2222f8"/>
<circle cx="263.4" cy="56.6" r="1.3" fill="#2222f8"/>
<circle cx="232.3" cy="70.2" r="1.2" fill="#2222f8"/>
<circle cx="245.0" cy="60.9" r="1.2" fill="#2222f8"/>
<circle cx="213.8" cy="50.1" r="0.9" fill="#2222f8"/>
<circle cx="214.7" cy="56.4" r="1.3" fill="#20c0ff"/>
<circle cx="232.3" cy="70.5" r="1.1" fill="#20c0ff"/>
<circle cx="281.1" cy="61.1" r="1.2" fill="#20c0ff"/>
<circle cx="231.4" cy="68.3" r="1.0" fill="#20c0ff"/>
<circle cx="249.9" cy="65.6" r="0.9" fill="#20c0ff"/>
<circle cx="230.5" cy="58.2" r="1.3" fill="#20c0ff"/>
<circle cx="266.8" cy="57.9" r="0.9" fill="#20c0ff"/>
<circle cx="263.8" cy="58.1" r="1.2" fill="#20c0ff"/>
<circle cx="244.7" cy="53.8" r="1.3" fill="#20c0ff"/>
<circle cx="233.4" cy="52.1" r="1.0" fill="#20c0ff"/>
<circle cx="209.8" cy="52.7" r="0.8" fill="#20c0ff"/>
<circle cx="211.0" cy="53.1" r="1.5" fill="#20c0ff"/>
<circle cx="247.1" cy="55.3" r="0.8" fill="#20c0ff"/>
<circle cx="232.2" cy="56.7" r="0.8" fill="#20c0ff"/>
<circle cx="279.8" cy="60.8" r="0.8" fill="#20c0ff"/>
<circle cx="278.1" cy="55.4" r="1.3" fill="#20c0ff"/>
<circle cx="213.3" cy="52.4" r="1.2" fill="#20c0ff"/>
<circle cx="242.8" cy="57.2" r="1.0" fill="#20c0ff"/>
<circle cx="215.5" cy="56.3" r="1.4" fill="#20c0ff"/>
<circle cx="228.6" cy="56.8" r="0.8" fill="#20c0ff"/>
<circle cx="283.6" cy="57.6" r="1.4" fill="#20c0ff"/>
<circle cx="263.3" cy="61.7" r="1.3" fill="#20c0ff"/>
<circle cx="243.4" cy="59.1" r="0.8" fill="#20c0ff"/>
<circle cx="279.5" cy="58.0" r="1.2" fill="#20c0ff"/>
<circle cx="248.0" cy="66.9" r="1.3" fill="#20c0ff"/>
<circle cx="211.8" cy="53.3" r="1.0" fill="#20c0ff"/>
<circle cx="266.8" cy="58.3" r="1.4" fill="#20c0ff"/>
<circle cx="233.1" cy="53.9" r="1.3" fill="#20c0ff"/>
<circle cx="232.6" cy="52.5" r="0.8" fill="#20c0ff"/>
<circle cx="246.7" cy="55.7" r="0.8" fill="#20c0ff"/>
<circle cx="248.2" cy="54.8" r="1.2" fill="#20c0ff"/>
<circle cx="231.1" cy="57.1" r="1.1" fill="#20c0ff"/>
<circle cx="264.1" cy="59.9" r="1.2" fill="#20c0ff"/>
<circle cx="234.1" cy="56.9" r="0.9" fill="#20c0ff"/>
<circle cx="234.5" cy="56.1" r="1.1" fill="#20c0ff"/>
<circle cx="243.4" cy="58.7" r="1.2" fill="#20c0ff"/>
<circle cx="278.2" cy="55.5" r="1.5" fill="#20c0ff"/>
<circle cx="248.0" cy="54.3" r="1.0" fill="#20c0ff"/>
<circle cx="229.3" cy="56.1" r="1.0" fill="#40e060"/>
<circle cx="230.6" cy="57.7" r="1.4" fill="#40e060"/>
<circle cx="214.1" cy="56.0" r="1.2" fill="#40e060"/>
<circle cx="264.2" cy="60.1" r="0.8" fill="#40e060"/>
<circle cx="231.8" cy="52.8" r="1.4" fill="#40e060"/>
<circle cx="230.1" cy="67.5" r="1.5" fill="#40e060"/>
<circle cx="212.7" cy="56.5" r="1.5" fill="#40e060"/>
<circle cx="231.3" cy="51.9" r="1.2" fill="#40e060"/>
<circle cx="282.9" cy="58.7" r="1.1" fill="#40e060"/>
<circle cx="245.8" cy="67.0" r="0.8" fill="#40e060"/>
<circle cx="215.0" cy="56.9" r="1.0" fill="#40e060"/>
<circle cx="264.9" cy="59.8" r="1.0" fill="#40e060"/>
<circle cx="232.4" cy="57.6" r="1.3" fill="#40e060"/>
<circle cx="281.3" cy="59.4" r="1.1" fill="#40e060"/>
<circle cx="246.8" cy="67.0" r="1.3" fill="#40e060"/>
<circle cx="248.6" cy="57.3" r="1.2" fill="#40e060"/>
<circle cx="231.7" cy="52.0" r="0.9" fill="#40e060"/>
<circle cx="213.8" cy="53.3" r="0.8" fill="#40e060"/>
<circle cx="279.9" cy="60.9" r="1.2" fill="#40e060"/>
<circle cx="234.1" cy="56.4" r="0.8" fill="#40e060"/>
<circle cx="281.1" cy="55.7" r="1.1" fill="#40e060"/>
<circle cx="214.0" cy="52.1" r="0.9" fill="#40e060"/>
<circle cx="229.8" cy="53.9" r="1.4" fill="#40e060"/>
<circle cx="231.5" cy="54.3" r="1.4" fill="#40e060"/>
<circle cx="263.8" cy="58.5" r="0.9" fill="#f0e820"/>
<circle cx="283.2" cy="57.0" r="1.0" fill="#f0e820"/>
<circle cx="215.5" cy="53.2" r="1.3" fill="#f0e820"/>
<circle cx="279.1" cy="60.0" r="1.0" fill="#f0e820"/>
<circle cx="230.4" cy="53.3" r="1.4" fill="#f0e820"/>
<circle cx="212.3" cy="52.5" r="1.3" fill="#f0e820"/>
<circle cx="282.6" cy="59.6" r="1.0" fill="#f0e820"/>
<circle cx="282.7" cy="59.4" r="1.0" fill="#f0e820"/>
<circle cx="216.1" cy="55.4" r="1.3" fill="#f0e820"/>
<circle cx="230.6" cy="55.0" r="1.4" fill="#f0e820"/>
<circle cx="215.4" cy="53.9" r="0.7" fill="#ff1000"/>
<circle cx="246.5" cy="57.6" r="0.7" fill="#ff1000"/>
<circle cx="232.0" cy="56.0" r="1.0" fill="#ff1000"/>
<circle cx="280.7" cy="57.6" r="1.1" fill="#ff1000"/>
<circle cx="281.9" cy="57.3" r="0.7" fill="#ff1000"/>
<circle cx="281.2" cy="56.5" r="1.0" fill="#ff1000"/>
<circle cx="263.2" cy="59.9" r="1.4" fill="#ff1000"/>
<circle cx="214.2" cy="55.5" r="1.2" fill="#ff1000"/>
<circle cx="212.6" cy="53.0" r="0.9" fill="#ff1000"/>
<circle cx="248.0" cy="56.8" r="1.2" fill="#ff1000"/>
<circle cx="281.0" cy="58.2" r="0.7" fill="#ff1000"/>
<circle cx="232.4" cy="55.1" r="1.4" fill="#ff1000"/>
<circle cx="247.0" cy="56.7" r="1.1" fill="#ff1000"/>
<circle cx="244.7" cy="58.3" r="0.9" fill="#ff1000"/>
<circle cx="231.8" cy="54.7" r="0.9" fill="#ff1000"/>
<circle cx="281.5" cy="57.5" r="0.9" fill="#ff1000"/>
<circle cx="263.8" cy="59.7" r="1.3" fill="#ff1000"/>
<circle cx="231.8" cy="56.3" r="1.0" fill="#ff1000"/>
<circle cx="232.4" cy="53.9" r="1.4" fill="#ff1000"/>
<circle cx="231.3" cy="56.0" r="1.0" fill="#ff1000"/>
<circle cx="280.9" cy="56.9" r="1.2" fill="#ff1000"/>
<circle cx="245.7" cy="56.2" r="1.5" fill="#ff1000"/>
<circle cx="245.7" cy="56.8" r="1.3" fill="#ff1000"/>
<ellipse cx="218.0" cy="63.2" rx="3.2" ry="3.2" fill="#2222f8"/>
<ellipse cx="231.7" cy="54.7" rx="3.2" ry="3.2" fill="#2222f8"/>
<ellipse cx="266.4" cy="62.0" rx="3.2" ry="3.2" fill="#2222f8"/>
<ellipse cx="266.0" cy="68.3" rx="3.1" ry="3.1" fill="#2222f8"/>
<ellipse cx="282.5" cy="66.6" rx="3.4" ry="3.2" fill="#2222f8"/>
<ellipse cx="218.0" cy="63.2" rx="2.2" ry="2.2" fill="#20d0ff"/>
<ellipse cx="231.7" cy="54.7" rx="2.2" ry="2.2" fill="#20d0ff"/>
<ellipse cx="266.4" cy="62.0" rx="2.2" ry="2.2" fill="#20d0ff"/>
<ellipse cx="266.0" cy="68.3" rx="2.1" ry="2.1" fill="#20d0ff"/>
<ellipse cx="282.5" cy="66.6" rx="2.4" ry="2.2" fill="#20d0ff"/>
<ellipse cx="218.0" cy="63.2" rx="1.6" ry="1.6" fill="#f0e820"/>
<ellipse cx="231.7" cy="54.7" rx="1.6" ry="1.6" fill="#f0e820"/>
<ellipse cx="266.4" cy="62.0" rx="1.6" ry="1.6" fill="#f0e820"/>
<ellipse cx="266.0" cy="68.3" rx="1.5" ry="1.5" fill="#f0e820"/>
<ellipse cx="282.5" cy="66.6" rx="1.8" ry="1.6" fill="#f0e820"/>
<ellipse cx="218.0" cy="63.2" rx="1.0" ry="1.0" fill="#ff1000"/>
<ellipse cx="231.7" cy="54.7" rx="1.0" ry="1.0" fill="#ff1000"/>
<ellipse cx="266.4" cy="62.0" rx="1.0" ry="1.0" fill="#ff1000"/>
<ellipse cx="266.0" cy="68.3" rx="0.9" ry="0.9" fill="#ff1000"/>
<ellipse cx="282.5" cy="66.6" rx="1.2" ry="1.0" fill="#ff1000"/>
</g>
</g></g>
<g><rect x="206.2" y="77.5" width="64.2" height="35.2" fill="#4c4c4c"/>
<clipPath id="cp13"><rect x="206.2" y="77.5" width="64.2" height="35.2"/></clipPath>
<g clip-path="url(#cp13)"><g filter="url(#bl)">
<rect x="206.2" y="77.5" width="64.2" height="1.2" fill="#2a2a2a"/>
<path d="M214.4,78.7 L216.0,79.4 L217.2,81.5 L217.8,84.3 L220.2,87.9 L221.4,92.1 L222.0,97.4 L221.9,101.6 L220.9,104.8 L218.6,106.2 L215.5,106.5 L213.2,106.5 L210.2,106.2 L207.8,104.8 L206.8,101.6 L206.7,97.4 L207.3,92.1 L208.6,87.9 L210.9,84.3 L211.6,81.5 L212.7,79.4 L214.4,78.7 Z" fill="#363636"/>
<path d="M214.4,78.2 L215.9,78.9 L216.9,81.0 L217.5,83.8 L219.6,87.4 L220.8,91.6 L221.3,96.9 L221.2,101.1 L220.3,104.3 L218.2,105.7 L215.4,106.0 L213.3,106.0 L210.5,105.7 L208.4,104.3 L207.5,101.1 L207.4,96.9 L207.9,91.6 L209.1,87.4 L211.2,83.8 L211.8,81.0 L212.8,78.9 L214.4,78.2 Z" fill="#474747"/>
<ellipse cx="213.3" cy="92.1" rx="4.1" ry="7.0" fill="#5c5c5c" opacity="0.85"/>
<ellipse cx="219.5" cy="86.2" rx="1.3" ry="1.1" fill="#535353"/>
<ellipse cx="213.0" cy="89.6" rx="1.0" ry="1.1" fill="#535353"/>
<ellipse cx="218.9" cy="81.3" rx="1.3" ry="1.7" fill="#595959"/>
<ellipse cx="215.1" cy="101.9" rx="1.5" ry="1.7" fill="#393939"/>
<ellipse cx="217.0" cy="99.6" rx="1.1" ry="1.2" fill="#535353"/>
<ellipse cx="213.7" cy="88.0" rx="1.1" ry="1.2" fill="#3f3f3f"/>
<ellipse cx="217.7" cy="88.9" rx="1.4" ry="1.9" fill="#3f3f3f"/>
<ellipse cx="210.6" cy="102.5" rx="1.3" ry="1.8" fill="#393939"/>
<ellipse cx="219.3" cy="102.7" rx="1.3" ry="1.7" fill="#595959"/>
<ellipse cx="218.2" cy="85.9" rx="0.9" ry="0.9" fill="#535353"/>
<circle cx="211.4" cy="79.6" r="0.8" fill="#9a9a9a"/>
<ellipse cx="210.3" cy="105.7" rx="0.9" ry="1.2" fill="#b8b8b8"/>
<circle cx="217.3" cy="79.6" r="0.8" fill="#9a9a9a"/>
<ellipse cx="218.4" cy="105.7" rx="0.9" ry="1.2" fill="#b8b8b8"/>
<line x1="214.4" y1="103.5" x2="213.4" y2="112.7" stroke="#e8e8e8" stroke-width="1.4"/>
<path d="M230.7,78.7 L232.3,79.4 L233.4,81.5 L234.2,84.3 L236.4,87.9 L237.8,92.1 L239.2,97.4 L238.7,101.6 L237.2,104.8 L234.8,106.2 L231.9,106.5 L229.5,106.5 L226.7,106.2 L224.2,104.8 L222.8,101.6 L222.3,97.4 L223.7,92.1 L225.1,87.9 L227.3,84.3 L228.1,81.5 L229.2,79.4 L230.7,78.7 Z" fill="#363636"/>
<path d="M230.7,78.2 L232.1,78.9 L233.1,81.0 L233.9,83.8 L235.9,87.4 L237.2,91.6 L238.4,96.9 L237.9,101.1 L236.7,104.3 L234.4,105.7 L231.8,106.0 L229.6,106.0 L227.1,105.7 L224.8,104.3 L223.5,101.1 L223.0,96.9 L224.3,91.6 L225.6,87.4 L227.6,83.8 L228.3,81.0 L229.3,78.9 L230.7,78.2 Z" fill="#474747"/>
<ellipse cx="231.1" cy="95.1" rx="4.1" ry="7.0" fill="#5c5c5c" opacity="0.85"/>
<ellipse cx="231.5" cy="88.3" rx="1.3" ry="1.2" fill="#535353"/>
<ellipse cx="234.6" cy="94.1" rx="1.1" ry="2.0" fill="#393939"/>
<ellipse cx="234.8" cy="82.6" rx="1.0" ry="1.9" fill="#595959"/>
<ellipse cx="232.4" cy="85.8" rx="1.1" ry="1.9" fill="#535353"/>
<ellipse cx="232.4" cy="100.8" rx="1.0" ry="1.5" fill="#393939"/>
<ellipse cx="225.8" cy="84.0" rx="0.8" ry="1.1" fill="#393939"/>
<ellipse cx="230.9" cy="98.1" rx="0.8" ry="1.7" fill="#393939"/>
<ellipse cx="233.9" cy="86.0" rx="0.7" ry="1.6" fill="#595959"/>
<ellipse cx="226.4" cy="90.6" rx="0.9" ry="1.2" fill="#535353"/>
<ellipse cx="233.1" cy="85.3" rx="1.2" ry="1.0" fill="#393939"/>
<circle cx="227.8" cy="79.6" r="0.8" fill="#9a9a9a"/>
<ellipse cx="226.7" cy="105.7" rx="0.9" ry="1.2" fill="#b8b8b8"/>
<circle cx="233.7" cy="79.6" r="0.8" fill="#9a9a9a"/>
<ellipse cx="234.8" cy="105.7" rx="0.9" ry="1.2" fill="#b8b8b8"/>
<line x1="230.7" y1="103.5" x2="231.8" y2="112.7" stroke="#e8e8e8" stroke-width="1.4"/>
<path d="M246.9,78.7 L248.6,79.4 L249.5,81.5 L250.5,84.3 L252.6,87.9 L254.6,92.1 L255.4,97.4 L254.6,101.6 L253.9,104.8 L250.8,106.2 L248.1,106.5 L245.8,106.5 L243.0,106.2 L239.9,104.8 L239.3,101.6 L238.4,97.4 L239.2,92.1 L241.2,87.9 L243.3,84.3 L244.3,81.5 L245.2,79.4 L246.9,78.7 Z" fill="#363636"/>
<path d="M246.9,78.2 L248.5,78.9 L249.3,81.0 L250.2,83.8 L252.1,87.4 L253.9,91.6 L254.6,96.9 L253.9,101.1 L253.3,104.3 L250.5,105.7 L248.0,106.0 L245.9,106.0 L243.4,105.7 L240.6,104.3 L240.0,101.1 L239.2,96.9 L239.9,91.6 L241.7,87.4 L243.7,83.8 L244.6,81.0 L245.4,78.9 L246.9,78.2 Z" fill="#474747"/>
<ellipse cx="246.9" cy="95.1" rx="4.1" ry="7.0" fill="#5c5c5c" opacity="0.85"/>
<ellipse cx="251.1" cy="102.9" rx="1.4" ry="1.5" fill="#595959"/>
<ellipse cx="243.2" cy="95.5" rx="1.0" ry="1.5" fill="#393939"/>
<ellipse cx="244.4" cy="87.3" rx="0.8" ry="1.6" fill="#595959"/>
<ellipse cx="242.3" cy="98.7" rx="1.4" ry="1.0" fill="#535353"/>
<ellipse cx="249.8" cy="93.3" rx="1.1" ry="1.0" fill="#3f3f3f"/>
<ellipse cx="248.0" cy="101.7" rx="1.5" ry="1.7" fill="#3f3f3f"/>
<ellipse cx="242.9" cy="91.6" rx="0.8" ry="1.8" fill="#3f3f3f"/>
<ellipse cx="251.3" cy="82.2" rx="1.0" ry="0.9" fill="#393939"/>
<ellipse cx="242.5" cy="99.3" rx="0.7" ry="1.4" fill="#595959"/>
<ellipse cx="248.4" cy="103.8" rx="1.0" ry="1.7" fill="#535353"/>
<circle cx="244.0" cy="79.6" r="0.8" fill="#9a9a9a"/>
<ellipse cx="242.9" cy="105.7" rx="0.9" ry="1.2" fill="#b8b8b8"/>
<circle cx="249.9" cy="79.6" r="0.8" fill="#9a9a9a"/>
<ellipse cx="251.0" cy="105.7" rx="0.9" ry="1.2" fill="#b8b8b8"/>
<line x1="246.9" y1="103.5" x2="248.1" y2="112.7" stroke="#e8e8e8" stroke-width="1.4"/>
<path d="M262.0,78.7 L263.6,79.4 L264.7,81.5 L265.4,84.3 L267.8,87.9 L269.5,92.1 L269.8,97.4 L269.9,101.6 L268.4,104.8 L266.0,106.2 L263.3,106.5 L260.8,106.5 L258.1,106.2 L255.7,104.8 L254.2,101.6 L254.3,97.4 L254.6,92.1 L256.3,87.9 L258.7,84.3 L259.4,81.5 L260.5,79.4 L262.0,78.7 Z" fill="#363636"/>
<path d="M262.0,78.2 L263.5,78.9 L264.5,81.0 L265.1,83.8 L267.3,87.4 L268.8,91.6 L269.1,96.9 L269.2,101.1 L267.8,104.3 L265.6,105.7 L263.1,106.0 L261.0,106.0 L258.4,105.7 L256.3,104.3 L254.9,101.1 L255.0,96.9 L255.3,91.6 L256.8,87.4 L259.0,83.8 L259.6,81.0 L260.6,78.9 L262.0,78.2 Z" fill="#474747"/>
<ellipse cx="262.9" cy="94.6" rx="4.1" ry="7.0" fill="#5c5c5c" opacity="0.85"/>
<ellipse cx="263.0" cy="91.8" rx="1.0" ry="1.0" fill="#535353"/>
<ellipse cx="263.0" cy="84.3" rx="0.8" ry="1.2" fill="#3f3f3f"/>
<ellipse cx="260.8" cy="82.6" rx="0.9" ry="1.3" fill="#393939"/>
<ellipse cx="260.5" cy="96.8" rx="1.2" ry="1.4" fill="#595959"/>
<ellipse cx="265.5" cy="93.6" rx="1.4" ry="1.7" fill="#393939"/>
<ellipse cx="260.5" cy="95.4" rx="1.5" ry="1.5" fill="#595959"/>
<ellipse cx="258.5" cy="95.9" rx="1.5" ry="1.0" fill="#393939"/>
<ellipse cx="260.7" cy="100.5" rx="1.1" ry="1.6" fill="#535353"/>
<ellipse cx="260.4" cy="102.6" rx="1.2" ry="1.1" fill="#595959"/>
<ellipse cx="258.3" cy="101.7" rx="1.2" ry="1.8" fill="#393939"/>
<circle cx="259.1" cy="79.6" r="0.8" fill="#9a9a9a"/>
<ellipse cx="258.0" cy="105.7" rx="0.9" ry="1.2" fill="#b8b8b8"/>
<circle cx="265.0" cy="79.6" r="0.8" fill="#9a9a9a"/>
<ellipse cx="266.1" cy="105.7" rx="0.9" ry="1.2" fill="#b8b8b8"/>
<line x1="262.0" y1="103.5" x2="261.9" y2="112.7" stroke="#e8e8e8" stroke-width="1.4"/>
</g>
<rect x="206.2" y="77.5" width="64.2" height="35.2" filter="url(#noise)" style="mix-blend-mode:overlay"/>
<g filter="url(#bl2)">
<circle cx="223.6" cy="95.7" r="0.5" fill="#7000e0"/>
<circle cx="240.0" cy="109.6" r="0.8" fill="#30b8ff"/>
<circle cx="213.4" cy="86.7" r="0.8" fill="#7000e0"/>
<circle cx="256.3" cy="86.9" r="0.7" fill="#30b8ff"/>
<circle cx="210.3" cy="105.6" r="0.8" fill="#2a2aff"/>
<circle cx="223.7" cy="89.3" r="0.9" fill="#2a2aff"/>
<circle cx="266.1" cy="90.8" r="0.5" fill="#2a2aff"/>
<circle cx="209.8" cy="105.4" r="0.6" fill="#2a2aff"/>
<circle cx="220.0" cy="92.8" r="0.6" fill="#2a2aff"/>
<circle cx="266.6" cy="96.7" r="1.0" fill="#2a2aff"/>
<circle cx="255.5" cy="83.1" r="0.9" fill="#2a2aff"/>
<circle cx="253.9" cy="107.2" r="0.7" fill="#2a2aff"/>
<circle cx="246.3" cy="102.1" r="0.6" fill="#2a2aff"/>
<circle cx="268.5" cy="79.3" r="0.5" fill="#2a2aff"/>
<circle cx="235.2" cy="85.8" r="1.5" fill="#2222f8"/>
<circle cx="267.6" cy="89.2" r="0.8" fill="#2222f8"/>
<circle cx="236.4" cy="93.2" r="1.2" fill="#2222f8"/>
<circle cx="208.7" cy="87.3" r="1.4" fill="#2222f8"/>
<circle cx="239.1" cy="88.6" r="1.0" fill="#2222f8"/>
<circle cx="225.4" cy="101.0" r="1.4" fill="#2222f8"/>
<circle cx="224.6" cy="97.8" r="1.1" fill="#2222f8"/>
<circle cx="239.3" cy="95.1" r="1.4" fill="#2222f8"/>
<circle cx="250.2" cy="100.3" r="1.3" fill="#2222f8"/>
<circle cx="241.5" cy="82.9" r="1.0" fill="#2222f8"/>
<circle cx="267.6" cy="91.5" r="1.4" fill="#2222f8"/>
<circle cx="257.2" cy="100.1" r="1.0" fill="#2222f8"/>
<circle cx="234.2" cy="85.5" r="0.9" fill="#2222f8"/>
<circle cx="242.5" cy="104.3" r="1.4" fill="#2222f8"/>
<circle cx="268.1" cy="95.2" r="1.4" fill="#2222f8"/>
<circle cx="256.7" cy="88.0" r="0.7" fill="#2222f8"/>
<circle cx="239.3" cy="91.5" r="0.7" fill="#2222f8"/>
<circle cx="213.1" cy="104.4" r="1.1" fill="#2222f8"/>
<circle cx="216.1" cy="85.1" r="1.0" fill="#2222f8"/>
<circle cx="235.2" cy="91.2" r="0.9" fill="#2222f8"/>
<circle cx="211.4" cy="83.6" r="1.3" fill="#2222f8"/>
<circle cx="241.9" cy="104.2" r="1.1" fill="#2222f8"/>
<circle cx="211.2" cy="84.4" r="1.2" fill="#2222f8"/>
<circle cx="266.1" cy="103.6" r="0.8" fill="#2222f8"/>
<circle cx="217.8" cy="101.0" r="1.3" fill="#2222f8"/>
<circle cx="231.2" cy="104.4" r="1.0" fill="#2222f8"/>
<circle cx="208.7" cy="91.1" r="1.5" fill="#2222f8"/>
<circle cx="214.6" cy="103.2" r="1.1" fill="#2222f8"/>
<circle cx="256.1" cy="96.4" r="1.0" fill="#2222f8"/>
<circle cx="225.7" cy="83.9" r="1.4" fill="#2222f8"/>
<circle cx="267.1" cy="96.4" r="1.0" fill="#2222f8"/>
<circle cx="211.3" cy="101.9" r="0.9" fill="#2222f8"/>
<circle cx="230.8" cy="105.4" r="1.2" fill="#2222f8"/>
<circle cx="258.2" cy="104.4" r="0.7" fill="#2222f8"/>
<circle cx="242.4" cy="81.2" r="1.1" fill="#2222f8"/>
<circle cx="210.4" cy="102.6" r="0.9" fill="#2222f8"/>
<circle cx="235.6" cy="90.4" r="1.2" fill="#2222f8"/>
<circle cx="225.0" cy="88.3" r="0.7" fill="#2222f8"/>
<circle cx="243.7" cy="79.6" r="1.4" fill="#2222f8"/>
<circle cx="217.9" cy="85.0" r="1.2" fill="#2222f8"/>
<circle cx="235.5" cy="89.9" r="1.1" fill="#2222f8"/>
<circle cx="215.3" cy="83.0" r="0.8" fill="#2222f8"/>
<circle cx="223.8" cy="91.9" r="1.1" fill="#2222f8"/>
<circle cx="240.5" cy="98.5" r="1.4" fill="#2222f8"/>
<circle cx="263.7" cy="83.7" r="1.1" fill="#2222f8"/>
<circle cx="225.4" cy="90.2" r="0.9" fill="#2222f8"/>
<circle cx="267.4" cy="96.0" r="0.9" fill="#2222f8"/>
<circle cx="214.0" cy="105.4" r="1.0" fill="#2222f8"/>
<circle cx="217.1" cy="86.5" r="0.9" fill="#2222f8"/>
<circle cx="218.4" cy="88.2" r="1.4" fill="#2222f8"/>
<circle cx="249.1" cy="100.4" r="0.9" fill="#2222f8"/>
<circle cx="218.4" cy="101.5" r="1.2" fill="#2222f8"/>
<circle cx="219.9" cy="98.2" r="1.5" fill="#2222f8"/>
<circle cx="268.0" cy="95.4" r="1.2" fill="#2222f8"/>
<circle cx="250.3" cy="90.2" r="1.1" fill="#2222f8"/>
<circle cx="239.6" cy="90.0" r="1.0" fill="#2222f8"/>
<circle cx="211.3" cy="85.7" r="1.2" fill="#2222f8"/>
<circle cx="264.0" cy="103.8" r="0.7" fill="#2222f8"/>
<circle cx="211.8" cy="82.9" r="1.4" fill="#2222f8"/>
<circle cx="257.8" cy="103.3" r="1.4" fill="#2222f8"/>
<circle cx="256.6" cy="92.4" r="1.2" fill="#2222f8"/>
<circle cx="219.9" cy="92.9" r="1.3" fill="#2222f8"/>
<circle cx="264.3" cy="106.8" r="1.2" fill="#2222f8"/>
<circle cx="225.7" cy="97.5" r="1.5" fill="#2222f8"/>
<circle cx="213.5" cy="84.6" r="1.0" fill="#2222f8"/>
<circle cx="209.7" cy="101.9" r="1.4" fill="#2222f8"/>
<circle cx="262.8" cy="85.9" r="1.3" fill="#2222f8"/>
<circle cx="224.7" cy="92.0" r="1.1" fill="#2222f8"/>
<circle cx="225.7" cy="98.3" r="1.4" fill="#2222f8"/>
<circle cx="241.1" cy="87.6" r="1.0" fill="#2222f8"/>
<circle cx="217.0" cy="85.0" r="1.1" fill="#2222f8"/>
<circle cx="219.7" cy="98.7" r="1.4" fill="#2222f8"/>
<circle cx="261.3" cy="85.0" r="1.3" fill="#2222f8"/>
<circle cx="257.3" cy="90.4" r="1.0" fill="#2222f8"/>
<circle cx="248.5" cy="102.7" r="1.2" fill="#2222f8"/>
<circle cx="259.1" cy="85.2" r="1.2" fill="#2222f8"/>
<circle cx="263.7" cy="104.5" r="1.1" fill="#2222f8"/>
<circle cx="209.8" cy="100.5" r="1.1" fill="#2222f8"/>
<circle cx="262.1" cy="107.6" r="1.2" fill="#2222f8"/>
<circle cx="226.7" cy="102.8" r="1.3" fill="#2222f8"/>
<circle cx="241.0" cy="83.1" r="0.9" fill="#2222f8"/>
<circle cx="267.3" cy="101.0" r="0.8" fill="#2222f8"/>
<circle cx="256.2" cy="100.5" r="1.2" fill="#2222f8"/>
<circle cx="247.5" cy="83.9" r="1.3" fill="#2222f8"/>
<circle cx="250.0" cy="92.6" r="1.0" fill="#2222f8"/>
<circle cx="245.0" cy="104.5" r="0.9" fill="#2222f8"/>
<circle cx="248.0" cy="83.8" r="0.8" fill="#2222f8"/>
<circle cx="217.0" cy="87.7" r="1.4" fill="#2222f8"/>
<circle cx="216.1" cy="86.2" r="0.9" fill="#2222f8"/>
<circle cx="238.8" cy="92.8" r="0.9" fill="#2222f8"/>
<circle cx="234.7" cy="97.6" r="1.2" fill="#2222f8"/>
<circle cx="229.4" cy="103.9" r="1.0" fill="#2222f8"/>
<circle cx="267.4" cy="99.8" r="1.3" fill="#2222f8"/>
<circle cx="216.1" cy="84.4" r="1.1" fill="#2222f8"/>
<circle cx="214.6" cy="85.9" r="0.8" fill="#2222f8"/>
<circle cx="229.2" cy="102.0" r="0.8" fill="#2222f8"/>
<circle cx="228.4" cy="103.1" r="1.0" fill="#2222f8"/>
<circle cx="242.4" cy="104.2" r="0.8" fill="#2222f8"/>
<circle cx="227.4" cy="100.8" r="1.2" fill="#2222f8"/>
<circle cx="256.9" cy="96.1" r="1.2" fill="#2222f8"/>
<circle cx="209.6" cy="92.5" r="0.8" fill="#2222f8"/>
<circle cx="230.6" cy="84.6" r="1.4" fill="#2222f8"/>
<circle cx="213.1" cy="84.0" r="0.9" fill="#2222f8"/>
<circle cx="233.9" cy="83.5" r="0.8" fill="#2222f8"/>
<circle cx="258.2" cy="104.5" r="0.8" fill="#2222f8"/>
<circle cx="213.0" cy="87.0" r="1.1" fill="#2222f8"/>
<circle cx="219.1" cy="101.0" r="1.2" fill="#2222f8"/>
<circle cx="210.2" cy="84.9" r="1.3" fill="#2222f8"/>
<circle cx="239.3" cy="91.4" r="1.1" fill="#2222f8"/>
<circle cx="225.6" cy="95.2" r="1.2" fill="#2222f8"/>
<circle cx="261.9" cy="86.5" r="0.7" fill="#2222f8"/>
<circle cx="219.0" cy="87.2" r="1.4" fill="#2222f8"/>
<circle cx="239.0" cy="93.0" r="1.2" fill="#2222f8"/>
<circle cx="224.9" cy="87.1" r="1.5" fill="#2222f8"/>
<circle cx="207.8" cy="97.2" r="1.1" fill="#2222f8"/>
<circle cx="247.2" cy="81.5" r="0.9" fill="#2222f8"/>
<circle cx="242.6" cy="105.8" r="1.0" fill="#2222f8"/>
<circle cx="219.6" cy="96.1" r="1.5" fill="#2222f8"/>
<circle cx="236.1" cy="91.5" r="1.0" fill="#2222f8"/>
<circle cx="232.8" cy="82.6" r="0.8" fill="#2222f8"/>
<circle cx="229.8" cy="84.1" r="1.4" fill="#2222f8"/>
<circle cx="260.2" cy="105.3" r="1.3" fill="#2222f8"/>
<circle cx="245.1" cy="84.3" r="1.4" fill="#2222f8"/>
<circle cx="225.9" cy="101.1" r="1.3" fill="#2222f8"/>
<circle cx="250.0" cy="99.8" r="0.8" fill="#2222f8"/>
<circle cx="256.9" cy="89.7" r="1.2" fill="#2222f8"/>
<circle cx="251.0" cy="93.0" r="0.8" fill="#2222f8"/>
<circle cx="209.2" cy="90.1" r="1.5" fill="#2222f8"/>
<circle cx="265.0" cy="83.7" r="1.1" fill="#2222f8"/>
<circle cx="208.6" cy="89.3" r="1.4" fill="#2222f8"/>
<circle cx="229.6" cy="80.4" r="1.1" fill="#2222f8"/>
<circle cx="208.0" cy="89.9" r="0.8" fill="#2222f8"/>
<circle cx="250.7" cy="97.5" r="1.2" fill="#2222f8"/>
<circle cx="262.2" cy="85.8" r="0.9" fill="#2222f8"/>
<circle cx="230.1" cy="83.5" r="0.7" fill="#2222f8"/>
<circle cx="231.5" cy="86.0" r="1.4" fill="#2222f8"/>
<circle cx="267.6" cy="97.1" r="1.1" fill="#2222f8"/>
<circle cx="250.0" cy="101.4" r="1.0" fill="#2222f8"/>
<circle cx="250.1" cy="92.0" r="0.8" fill="#2222f8"/>
<circle cx="244.7" cy="104.1" r="1.1" fill="#2222f8"/>
<circle cx="216.1" cy="88.3" r="1.3" fill="#2222f8"/>
<circle cx="223.9" cy="93.1" r="1.4" fill="#2222f8"/>
<circle cx="265.4" cy="90.8" r="0.9" fill="#2222f8"/>
<circle cx="208.7" cy="93.9" r="1.3" fill="#2222f8"/>
<circle cx="216.7" cy="86.5" r="1.2" fill="#2222f8"/>
<circle cx="207.8" cy="96.3" r="1.0" fill="#2222f8"/>
<circle cx="249.8" cy="100.7" r="1.2" fill="#2222f8"/>
<circle cx="213.6" cy="104.4" r="0.8" fill="#2222f8"/>
<circle cx="258.6" cy="88.2" r="1.0" fill="#2222f8"/>
<circle cx="216.8" cy="90.5" r="1.2" fill="#2222f8"/>
<circle cx="246.6" cy="82.3" r="0.9" fill="#2222f8"/>
<circle cx="239.8" cy="97.4" r="1.0" fill="#2222f8"/>
<circle cx="216.7" cy="102.9" r="1.1" fill="#2222f8"/>
<circle cx="248.1" cy="104.8" r="1.3" fill="#2222f8"/>
<circle cx="213.3" cy="83.5" r="1.4" fill="#2222f8"/>
<circle cx="259.5" cy="100.4" r="1.0" fill="#2222f8"/>
<circle cx="218.4" cy="94.8" r="0.9" fill="#2222f8"/>
<circle cx="226.5" cy="82.6" r="1.4" fill="#2222f8"/>
<circle cx="231.2" cy="101.9" r="1.3" fill="#2222f8"/>
<circle cx="257.4" cy="99.7" r="1.1" fill="#2222f8"/>
<circle cx="240.2" cy="84.2" r="1.0" fill="#2222f8"/>
<circle cx="256.6" cy="91.9" r="1.2" fill="#2222f8"/>
<circle cx="250.1" cy="100.4" r="1.4" fill="#2222f8"/>
<circle cx="246.6" cy="83.9" r="1.1" fill="#2222f8"/>
<circle cx="226.9" cy="89.1" r="0.9" fill="#2222f8"/>
<circle cx="240.3" cy="88.1" r="0.8" fill="#2222f8"/>
<circle cx="216.1" cy="100.1" r="0.8" fill="#2222f8"/>
<circle cx="219.9" cy="97.5" r="1.2" fill="#2222f8"/>
<circle cx="245.0" cy="106.2" r="1.1" fill="#2222f8"/>
<circle cx="227.1" cy="87.8" r="1.5" fill="#2222f8"/>
<circle cx="212.8" cy="87.5" r="0.9" fill="#2222f8"/>
<circle cx="217.1" cy="88.1" r="0.7" fill="#2222f8"/>
<circle cx="211.1" cy="103.5" r="1.1" fill="#2222f8"/>
<circle cx="241.1" cy="93.7" r="1.2" fill="#2222f8"/>
<circle cx="233.9" cy="98.4" r="0.8" fill="#2222f8"/>
<circle cx="240.4" cy="97.9" r="1.3" fill="#2222f8"/>
<circle cx="232.0" cy="87.9" r="0.8" fill="#2222f8"/>
<circle cx="249.5" cy="87.0" r="0.8" fill="#2222f8"/>
<circle cx="265.2" cy="84.5" r="1.1" fill="#2222f8"/>
<circle cx="210.0" cy="88.2" r="0.8" fill="#2222f8"/>
<circle cx="247.6" cy="100.4" r="1.4" fill="#2222f8"/>
<circle cx="245.1" cy="79.7" r="1.1" fill="#2222f8"/>
<circle cx="235.2" cy="88.3" r="1.0" fill="#2222f8"/>
<circle cx="214.1" cy="98.9" r="1.2" fill="#2222f8"/>
<circle cx="263.0" cy="86.3" r="0.8" fill="#2222f8"/>
<circle cx="227.1" cy="82.6" r="1.4" fill="#2222f8"/>
<circle cx="220.4" cy="93.8" r="0.7" fill="#2222f8"/>
<circle cx="247.2" cy="84.3" r="1.3" fill="#2222f8"/>
<circle cx="209.5" cy="97.5" r="1.4" fill="#2222f8"/>
<circle cx="266.0" cy="94.0" r="1.0" fill="#2222f8"/>
<circle cx="259.3" cy="100.2" r="1.2" fill="#2222f8"/>
<circle cx="248.6" cy="98.5" r="1.3" fill="#2222f8"/>
<circle cx="247.5" cy="85.6" r="0.9" fill="#2222f8"/>
<circle cx="225.1" cy="94.9" r="1.4" fill="#2222f8"/>
<circle cx="224.6" cy="96.0" r="1.3" fill="#2222f8"/>
<circle cx="244.9" cy="103.1" r="0.7" fill="#2222f8"/>
<circle cx="257.1" cy="95.7" r="1.5" fill="#2222f8"/>
<circle cx="233.4" cy="91.1" r="1.5" fill="#2222f8"/>
<circle cx="208.1" cy="94.5" r="0.9" fill="#2222f8"/>
<circle cx="267.5" cy="93.9" r="0.7" fill="#2222f8"/>
<circle cx="216.6" cy="104.5" r="1.0" fill="#2222f8"/>
<circle cx="211.9" cy="83.9" r="0.8" fill="#2222f8"/>
<circle cx="226.4" cy="89.1" r="1.0" fill="#2222f8"/>
<circle cx="216.7" cy="92.9" r="1.0" fill="#2222f8"/>
<circle cx="229.4" cy="86.2" r="1.0" fill="#2222f8"/>
<circle cx="247.6" cy="98.1" r="1.2" fill="#2222f8"/>
<circle cx="265.8" cy="91.5" r="1.4" fill="#2222f8"/>
<circle cx="262.5" cy="105.9" r="0.9" fill="#2222f8"/>
<circle cx="263.7" cy="104.6" r="1.2" fill="#2222f8"/>
<circle cx="249.4" cy="102.9" r="1.1" fill="#2222f8"/>
<circle cx="239.8" cy="96.6" r="0.7" fill="#2222f8"/>
<circle cx="227.3" cy="88.0" r="1.4" fill="#2222f8"/>
<circle cx="260.2" cy="83.3" r="1.2" fill="#2222f8"/>
<circle cx="215.0" cy="105.7" r="0.9" fill="#2222f8"/>
<circle cx="208.5" cy="89.0" r="1.2" fill="#2222f8"/>
<circle cx="226.8" cy="98.3" r="1.3" fill="#2222f8"/>
<circle cx="261.7" cy="103.5" r="1.2" fill="#2222f8"/>
<circle cx="255.8" cy="96.7" r="0.8" fill="#2222f8"/>
<circle cx="250.0" cy="96.8" r="0.8" fill="#2222f8"/>
<circle cx="224.0" cy="94.2" r="1.1" fill="#2222f8"/>
<circle cx="262.0" cy="103.9" r="1.0" fill="#2222f8"/>
<circle cx="217.8" cy="90.2" r="1.3" fill="#20c0ff"/>
<circle cx="248.7" cy="97.6" r="1.0" fill="#20c0ff"/>
<circle cx="227.5" cy="102.7" r="0.8" fill="#20c0ff"/>
<circle cx="245.9" cy="85.2" r="1.2" fill="#20c0ff"/>
<circle cx="211.2" cy="90.7" r="1.2" fill="#20c0ff"/>
<circle cx="244.7" cy="101.0" r="1.3" fill="#20c0ff"/>
<circle cx="213.2" cy="97.8" r="0.8" fill="#20c0ff"/>
<circle cx="242.3" cy="97.7" r="1.3" fill="#20c0ff"/>
<circle cx="226.1" cy="93.8" r="0.9" fill="#20c0ff"/>
<circle cx="251.3" cy="92.1" r="1.0" fill="#20c0ff"/>
<circle cx="229.3" cy="103.1" r="0.8" fill="#20c0ff"/>
<circle cx="248.7" cy="81.6" r="1.0" fill="#20c0ff"/>
<circle cx="234.5" cy="95.7" r="0.9" fill="#20c0ff"/>
<circle cx="248.9" cy="86.7" r="1.1" fill="#20c0ff"/>
<circle cx="261.2" cy="85.3" r="0.8" fill="#20c0ff"/>
<circle cx="232.8" cy="85.4" r="1.2" fill="#20c0ff"/>
<circle cx="259.1" cy="97.9" r="1.3" fill="#20c0ff"/>
<circle cx="210.8" cy="84.4" r="1.2" fill="#20c0ff"/>
<circle cx="255.9" cy="94.8" r="1.1" fill="#20c0ff"/>
<circle cx="234.9" cy="91.3" r="1.4" fill="#20c0ff"/>
<circle cx="240.3" cy="100.2" r="1.2" fill="#20c0ff"/>
<circle cx="242.5" cy="82.2" r="1.3" fill="#20c0ff"/>
<circle cx="247.3" cy="98.8" r="0.9" fill="#20c0ff"/>
<circle cx="260.9" cy="105.9" r="1.0" fill="#20c0ff"/>
<circle cx="231.8" cy="83.6" r="0.8" fill="#20c0ff"/>
<circle cx="244.8" cy="80.3" r="1.4" fill="#20c0ff"/>
<circle cx="258.6" cy="99.4" r="1.4" fill="#20c0ff"/>
<circle cx="217.9" cy="90.1" r="1.1" fill="#20c0ff"/>
<circle cx="232.6" cy="97.5" r="1.3" fill="#20c0ff"/>
<circle cx="235.3" cy="91.4" r="0.8" fill="#20c0ff"/>
<circle cx="242.4" cy="96.4" r="0.8" fill="#20c0ff"/>
<circle cx="266.8" cy="98.3" r="1.2" fill="#20c0ff"/>
<circle cx="239.5" cy="88.1" r="1.0" fill="#20c0ff"/>
<circle cx="241.9" cy="86.7" r="1.1" fill="#20c0ff"/>
<circle cx="234.8" cy="87.9" r="0.8" fill="#20c0ff"/>
<circle cx="261.1" cy="83.0" r="0.9" fill="#20c0ff"/>
<circle cx="210.9" cy="97.1" r="1.2" fill="#20c0ff"/>
<circle cx="262.6" cy="103.0" r="1.4" fill="#20c0ff"/>
<circle cx="265.0" cy="101.8" r="1.2" fill="#20c0ff"/>
<circle cx="267.6" cy="91.8" r="0.8" fill="#20c0ff"/>
<circle cx="236.0" cy="95.7" r="1.1" fill="#20c0ff"/>
<circle cx="261.7" cy="104.6" r="1.4" fill="#20c0ff"/>
<circle cx="240.6" cy="86.4" r="1.4" fill="#20c0ff"/>
<circle cx="213.3" cy="90.8" r="1.4" fill="#20c0ff"/>
<circle cx="243.2" cy="86.7" r="1.3" fill="#20c0ff"/>
<circle cx="224.3" cy="94.9" r="0.9" fill="#20c0ff"/>
<circle cx="244.1" cy="79.6" r="1.3" fill="#20c0ff"/>
<circle cx="224.7" cy="91.4" r="1.1" fill="#20c0ff"/>
<circle cx="228.6" cy="97.8" r="1.2" fill="#20c0ff"/>
<circle cx="262.5" cy="86.8" r="0.8" fill="#20c0ff"/>
<circle cx="236.0" cy="94.6" r="1.1" fill="#20c0ff"/>
<circle cx="233.9" cy="90.5" r="1.4" fill="#20c0ff"/>
<circle cx="210.2" cy="94.2" r="1.1" fill="#20c0ff"/>
<circle cx="243.9" cy="87.2" r="1.0" fill="#20c0ff"/>
<circle cx="210.2" cy="97.9" r="0.7" fill="#20c0ff"/>
<circle cx="258.2" cy="91.0" r="0.9" fill="#20c0ff"/>
<circle cx="231.3" cy="84.6" r="1.1" fill="#20c0ff"/>
<circle cx="258.6" cy="87.9" r="1.3" fill="#20c0ff"/>
<circle cx="210.1" cy="88.2" r="1.3" fill="#20c0ff"/>
<circle cx="258.5" cy="90.2" r="1.3" fill="#20c0ff"/>
<circle cx="227.3" cy="94.1" r="1.0" fill="#20c0ff"/>
<circle cx="217.7" cy="94.4" r="1.3" fill="#20c0ff"/>
<circle cx="211.6" cy="103.3" r="1.4" fill="#20c0ff"/>
<circle cx="263.0" cy="85.9" r="0.7" fill="#20c0ff"/>
<circle cx="218.7" cy="99.7" r="1.0" fill="#20c0ff"/>
<circle cx="266.6" cy="97.7" r="1.0" fill="#20c0ff"/>
<circle cx="227.3" cy="100.7" r="0.8" fill="#20c0ff"/>
<circle cx="267.7" cy="93.0" r="0.9" fill="#20c0ff"/>
<circle cx="213.2" cy="103.2" r="0.8" fill="#20c0ff"/>
<circle cx="263.8" cy="99.5" r="1.1" fill="#20c0ff"/>
<circle cx="217.5" cy="98.6" r="0.9" fill="#20c0ff"/>
<circle cx="234.3" cy="97.5" r="1.0" fill="#20c0ff"/>
<circle cx="234.3" cy="95.2" r="0.9" fill="#20c0ff"/>
<circle cx="215.4" cy="103.4" r="0.9" fill="#20c0ff"/>
<circle cx="214.0" cy="88.8" r="1.2" fill="#20c0ff"/>
<circle cx="213.4" cy="87.8" r="1.3" fill="#20c0ff"/>
<circle cx="239.4" cy="89.6" r="1.1" fill="#20c0ff"/>
<circle cx="265.2" cy="90.7" r="1.5" fill="#20c0ff"/>
<circle cx="241.0" cy="87.1" r="0.7" fill="#20c0ff"/>
<circle cx="231.7" cy="95.7" r="1.0" fill="#20c0ff"/>
<circle cx="263.5" cy="104.0" r="1.1" fill="#20c0ff"/>
<circle cx="260.8" cy="85.5" r="0.8" fill="#20c0ff"/>
<circle cx="240.2" cy="88.1" r="0.9" fill="#20c0ff"/>
<circle cx="247.1" cy="85.5" r="1.1" fill="#20c0ff"/>
<circle cx="249.4" cy="98.1" r="1.0" fill="#40e060"/>
<circle cx="240.8" cy="84.8" r="0.7" fill="#40e060"/>
<circle cx="210.9" cy="94.2" r="0.7" fill="#40e060"/>
<circle cx="241.4" cy="85.4" r="1.3" fill="#40e060"/>
<circle cx="266.8" cy="99.5" r="1.4" fill="#40e060"/>
<circle cx="213.0" cy="85.7" r="1.1" fill="#40e060"/>
<circle cx="209.2" cy="91.0" r="1.2" fill="#40e060"/>
<circle cx="226.2" cy="86.6" r="0.9" fill="#40e060"/>
<circle cx="265.7" cy="99.6" r="0.7" fill="#40e060"/>
<circle cx="231.8" cy="93.2" r="1.1" fill="#40e060"/>
<circle cx="232.0" cy="86.5" r="1.4" fill="#40e060"/>
<circle cx="230.0" cy="103.7" r="0.8" fill="#40e060"/>
<circle cx="224.7" cy="96.7" r="0.9" fill="#40e060"/>
<circle cx="246.4" cy="84.1" r="1.0" fill="#40e060"/>
<circle cx="241.4" cy="92.1" r="1.2" fill="#40e060"/>
<circle cx="249.8" cy="95.1" r="1.2" fill="#40e060"/>
<circle cx="257.5" cy="90.5" r="0.7" fill="#40e060"/>
<circle cx="257.9" cy="89.9" r="1.4" fill="#40e060"/>
<circle cx="227.9" cy="89.6" r="1.4" fill="#40e060"/>
<circle cx="212.1" cy="99.0" r="0.8" fill="#40e060"/>
<circle cx="244.1" cy="81.4" r="1.1" fill="#40e060"/>
<circle cx="227.8" cy="86.3" r="1.1" fill="#40e060"/>
<circle cx="225.7" cy="89.3" r="1.4" fill="#40e060"/>
<circle cx="212.3" cy="85.2" r="1.0" fill="#40e060"/>
<circle cx="239.8" cy="91.3" r="1.5" fill="#40e060"/>
<circle cx="233.2" cy="91.8" r="0.7" fill="#40e060"/>
<circle cx="230.7" cy="95.7" r="0.9" fill="#40e060"/>
<circle cx="263.0" cy="92.9" r="1.0" fill="#40e060"/>
<circle cx="241.6" cy="96.6" r="1.5" fill="#40e060"/>
<circle cx="265.8" cy="95.8" r="1.1" fill="#40e060"/>
<circle cx="241.6" cy="95.6" r="1.0" fill="#40e060"/>
<circle cx="246.5" cy="83.0" r="1.4" fill="#40e060"/>
<circle cx="213.1" cy="93.4" r="1.5" fill="#40e060"/>
<circle cx="249.6" cy="91.9" r="1.1" fill="#40e060"/>
<circle cx="231.5" cy="101.0" r="1.2" fill="#40e060"/>
<circle cx="217.1" cy="99.8" r="1.3" fill="#40e060"/>
<circle cx="232.0" cy="93.9" r="1.0" fill="#40e060"/>
<circle cx="210.6" cy="87.3" r="0.9" fill="#40e060"/>
<circle cx="263.3" cy="99.2" r="1.2" fill="#40e060"/>
<circle cx="229.8" cy="82.6" r="1.4" fill="#40e060"/>
<circle cx="241.1" cy="89.4" r="1.2" fill="#40e060"/>
<circle cx="228.5" cy="98.7" r="0.9" fill="#40e060"/>
<circle cx="240.5" cy="93.8" r="1.0" fill="#40e060"/>
<circle cx="211.3" cy="99.0" r="1.2" fill="#40e060"/>
<circle cx="234.0" cy="89.5" r="0.8" fill="#40e060"/>
<circle cx="259.9" cy="89.0" r="1.4" fill="#40e060"/>
<circle cx="228.6" cy="84.8" r="1.3" fill="#40e060"/>
<circle cx="217.6" cy="92.7" r="0.8" fill="#40e060"/>
<circle cx="232.8" cy="89.8" r="1.1" fill="#40e060"/>
<circle cx="211.7" cy="91.8" r="1.1" fill="#40e060"/>
<circle cx="243.2" cy="102.8" r="0.8" fill="#40e060"/>
<circle cx="244.6" cy="83.5" r="1.5" fill="#40e060"/>
<circle cx="242.4" cy="95.3" r="0.8" fill="#f0e820"/>
<circle cx="263.9" cy="96.1" r="0.8" fill="#f0e820"/>
<circle cx="258.2" cy="92.6" r="1.2" fill="#f0e820"/>
<circle cx="259.7" cy="98.5" r="0.7" fill="#f0e820"/>
<circle cx="261.0" cy="87.6" r="1.1" fill="#f0e820"/>
<circle cx="212.5" cy="97.7" r="1.1" fill="#f0e820"/>
<circle cx="214.6" cy="90.2" r="1.0" fill="#f0e820"/>
<circle cx="262.2" cy="85.5" r="1.0" fill="#f0e820"/>
<circle cx="257.7" cy="93.8" r="1.0" fill="#f0e820"/>
<circle cx="262.2" cy="97.5" r="1.2" fill="#f0e820"/>
<circle cx="233.4" cy="96.1" r="1.4" fill="#f0e820"/>
<circle cx="264.7" cy="102.4" r="1.5" fill="#f0e820"/>
<circle cx="233.4" cy="99.4" r="1.4" fill="#f0e820"/>
<circle cx="216.0" cy="101.8" r="1.0" fill="#f0e820"/>
<circle cx="240.5" cy="91.6" r="1.5" fill="#f0e820"/>
<circle cx="212.1" cy="100.6" r="1.2" fill="#f0e820"/>
<circle cx="230.7" cy="87.9" r="1.3" fill="#f0e820"/>
<circle cx="227.5" cy="86.6" r="1.3" fill="#f0e820"/>
<circle cx="258.9" cy="99.5" r="0.8" fill="#f0e820"/>
<circle cx="244.9" cy="89.5" r="1.0" fill="#f0e820"/>
<circle cx="248.4" cy="95.5" r="1.2" fill="#f0e820"/>
<circle cx="215.7" cy="92.7" r="1.1" fill="#f0e820"/>
<circle cx="225.4" cy="94.3" r="1.3" fill="#f0e820"/>
<circle cx="242.3" cy="89.4" r="1.3" fill="#f0e820"/>
<circle cx="265.2" cy="96.7" r="1.2" fill="#f0e820"/>
<circle cx="243.2" cy="96.9" r="1.1" fill="#f0e820"/>
<circle cx="228.6" cy="95.8" r="1.2" fill="#f0e820"/>
<circle cx="262.8" cy="98.7" r="0.8" fill="#f0e820"/>
<circle cx="211.7" cy="98.4" r="1.4" fill="#f0e820"/>
<circle cx="246.7" cy="93.5" r="1.0" fill="#f0e820"/>
<circle cx="229.2" cy="102.1" r="1.2" fill="#f0e820"/>
<circle cx="214.6" cy="92.3" r="1.4" fill="#f0e820"/>
<circle cx="264.7" cy="96.3" r="0.7" fill="#f0e820"/>
<circle cx="229.1" cy="94.9" r="1.4" fill="#f0e820"/>
<circle cx="242.5" cy="85.6" r="1.0" fill="#f0e820"/>
<circle cx="265.5" cy="92.3" r="1.3" fill="#f0e820"/>
<circle cx="248.4" cy="90.6" r="1.1" fill="#f0e820"/>
<circle cx="242.9" cy="96.7" r="0.7" fill="#f0e820"/>
<circle cx="233.5" cy="97.1" r="0.9" fill="#f0e820"/>
<circle cx="243.6" cy="85.5" r="1.2" fill="#f0e820"/>
<circle cx="215.9" cy="89.6" r="1.3" fill="#f0e820"/>
<circle cx="232.7" cy="96.0" r="1.3" fill="#f0e820"/>
<circle cx="261.8" cy="104.1" r="0.9" fill="#f0e820"/>
<circle cx="263.4" cy="93.5" r="0.8" fill="#f0e820"/>
<circle cx="228.7" cy="90.3" r="0.8" fill="#f0e820"/>
<circle cx="259.8" cy="87.4" r="1.4" fill="#f0e820"/>
<circle cx="261.3" cy="93.6" r="0.9" fill="#f0e820"/>
<circle cx="241.9" cy="88.6" r="1.2" fill="#f0e820"/>
<circle cx="212.9" cy="93.3" r="0.7" fill="#f0e820"/>
<circle cx="244.0" cy="96.4" r="0.8" fill="#ff1000"/>
<circle cx="226.6" cy="92.3" r="1.4" fill="#ff1000"/>
<circle cx="265.6" cy="92.5" r="1.1" fill="#ff1000"/>
<circle cx="244.3" cy="84.3" r="1.3" fill="#ff1000"/>
<circle cx="215.0" cy="89.8" r="1.1" fill="#ff1000"/>
<circle cx="211.8" cy="93.5" r="1.5" fill="#ff1000"/>
<circle cx="261.2" cy="87.7" r="0.8" fill="#ff1000"/>
<circle cx="229.9" cy="94.3" r="0.7" fill="#ff1000"/>
<circle cx="264.1" cy="88.6" r="1.0" fill="#ff1000"/>
<circle cx="263.0" cy="102.5" r="1.3" fill="#ff1000"/>
<circle cx="243.0" cy="97.0" r="1.3" fill="#ff1000"/>
<circle cx="216.2" cy="88.4" r="0.8" fill="#ff1000"/>
<circle cx="247.5" cy="96.7" r="1.1" fill="#ff1000"/>
<circle cx="262.9" cy="95.7" r="1.1" fill="#ff1000"/>
<circle cx="245.5" cy="91.4" r="1.0" fill="#ff1000"/>
<circle cx="227.8" cy="90.4" r="1.0" fill="#ff1000"/>
<circle cx="248.2" cy="99.1" r="1.3" fill="#ff1000"/>
<circle cx="263.9" cy="93.6" r="1.4" fill="#ff1000"/>
<circle cx="213.1" cy="94.8" r="1.0" fill="#ff1000"/>
<circle cx="230.2" cy="88.8" r="0.7" fill="#ff1000"/>
<circle cx="248.0" cy="87.5" r="0.7" fill="#ff1000"/>
<circle cx="244.1" cy="96.7" r="1.1" fill="#ff1000"/>
<circle cx="230.4" cy="98.6" r="0.8" fill="#ff1000"/>
<circle cx="227.2" cy="88.0" r="1.2" fill="#ff1000"/>
<circle cx="229.5" cy="88.6" r="1.5" fill="#ff1000"/>
<circle cx="262.7" cy="100.4" r="1.5" fill="#ff1000"/>
<circle cx="217.2" cy="95.4" r="1.1" fill="#ff1000"/>
<circle cx="260.1" cy="96.4" r="1.1" fill="#ff1000"/>
<circle cx="245.3" cy="101.6" r="1.5" fill="#ff1000"/>
<circle cx="265.4" cy="97.0" r="1.3" fill="#ff1000"/>
<circle cx="228.0" cy="92.6" r="1.3" fill="#ff1000"/>
<circle cx="261.1" cy="92.7" r="1.3" fill="#ff1000"/>
<circle cx="246.1" cy="91.2" r="1.1" fill="#ff1000"/>
<circle cx="244.1" cy="85.2" r="0.7" fill="#ff1000"/>
<circle cx="245.0" cy="93.2" r="0.9" fill="#ff1000"/>
<circle cx="231.6" cy="95.4" r="1.1" fill="#ff1000"/>
<circle cx="244.2" cy="97.2" r="0.9" fill="#ff1000"/>
<circle cx="247.9" cy="89.4" r="0.9" fill="#ff1000"/>
<circle cx="230.2" cy="95.5" r="0.9" fill="#ff1000"/>
<circle cx="244.4" cy="91.1" r="0.9" fill="#ff1000"/>
<circle cx="229.5" cy="92.7" r="0.8" fill="#ff1000"/>
<circle cx="262.0" cy="100.7" r="1.2" fill="#ff1000"/>
<circle cx="245.8" cy="92.4" r="1.3" fill="#ff1000"/>
<circle cx="212.5" cy="97.0" r="0.9" fill="#ff1000"/>
<circle cx="245.7" cy="89.7" r="1.0" fill="#ff1000"/>
<circle cx="242.2" cy="93.4" r="0.8" fill="#ff1000"/>
<circle cx="230.6" cy="89.8" r="1.4" fill="#ff1000"/>
<circle cx="243.0" cy="97.4" r="1.3" fill="#ff1000"/>
<circle cx="213.3" cy="96.9" r="1.3" fill="#ff1000"/>
<circle cx="244.0" cy="95.7" r="0.7" fill="#ff1000"/>
<circle cx="231.1" cy="93.8" r="0.9" fill="#ff1000"/>
<circle cx="242.8" cy="89.8" r="1.3" fill="#ff1000"/>
<circle cx="263.1" cy="93.5" r="1.3" fill="#ff1000"/>
<circle cx="214.2" cy="92.3" r="0.7" fill="#ff1000"/>
<circle cx="243.3" cy="93.5" r="0.7" fill="#ff1000"/>
<circle cx="244.3" cy="92.1" r="1.4" fill="#ff1000"/>
<circle cx="229.8" cy="95.6" r="1.0" fill="#ff1000"/>
<circle cx="229.2" cy="92.1" r="1.3" fill="#ff1000"/>
<circle cx="243.4" cy="95.5" r="0.9" fill="#ff1000"/>
<circle cx="230.4" cy="90.9" r="1.5" fill="#ff1000"/>
<circle cx="230.7" cy="94.6" r="1.3" fill="#ff1000"/>
<circle cx="229.1" cy="92.1" r="1.4" fill="#ff1000"/>
<circle cx="230.4" cy="92.4" r="1.1" fill="#ff1000"/>
<circle cx="244.8" cy="93.4" r="1.5" fill="#ff1000"/>
<ellipse cx="213.2" cy="93.6" rx="6.8" ry="7.0" fill="#2222f8"/>
<ellipse cx="232.0" cy="92.5" rx="5.4" ry="5.7" fill="#2222f8"/>
<ellipse cx="230.0" cy="86.0" rx="3.7" ry="3.7" fill="#2222f8"/>
<ellipse cx="227.5" cy="100.2" rx="4.8" ry="4.6" fill="#2222f8"/>
<ellipse cx="234.7" cy="100.5" rx="4.4" ry="4.6" fill="#2222f8"/>
<ellipse cx="244.5" cy="94.0" rx="6.4" ry="13.2" fill="#2222f8"/>
<ellipse cx="245.8" cy="81.2" rx="3.8" ry="4.4" fill="#2222f8"/>
<ellipse cx="262.2" cy="97.0" rx="5.8" ry="6.8" fill="#2222f8"/>
<ellipse cx="261.5" cy="85.8" rx="4.0" ry="4.0" fill="#2222f8"/>
<ellipse cx="259.0" cy="106.0" rx="4.4" ry="4.4" fill="#2222f8"/>
<ellipse cx="264.1" cy="106.0" rx="4.0" ry="4.0" fill="#2222f8"/>
<ellipse cx="213.2" cy="93.6" rx="5.8" ry="6.0" fill="#20d0ff"/>
<ellipse cx="232.0" cy="92.5" rx="4.4" ry="4.7" fill="#20d0ff"/>
<ellipse cx="230.0" cy="86.0" rx="2.7" ry="2.7" fill="#20d0ff"/>
<ellipse cx="227.5" cy="100.2" rx="3.8" ry="3.6" fill="#20d0ff"/>
<ellipse cx="234.7" cy="100.5" rx="3.4" ry="3.6" fill="#20d0ff"/>
<ellipse cx="244.5" cy="94.0" rx="5.4" ry="12.2" fill="#20d0ff"/>
<ellipse cx="245.8" cy="81.2" rx="2.8" ry="3.4" fill="#20d0ff"/>
<ellipse cx="262.2" cy="97.0" rx="4.8" ry="5.8" fill="#20d0ff"/>
<ellipse cx="261.5" cy="85.8" rx="3.0" ry="3.0" fill="#20d0ff"/>
<ellipse cx="259.0" cy="106.0" rx="3.4" ry="3.4" fill="#20d0ff"/>
<ellipse cx="264.1" cy="106.0" rx="3.0" ry="3.0" fill="#20d0ff"/>
<ellipse cx="213.2" cy="93.6" rx="5.2" ry="5.4" fill="#f0e820"/>
<ellipse cx="232.0" cy="92.5" rx="3.8" ry="4.1" fill="#f0e820"/>
<ellipse cx="230.0" cy="86.0" rx="2.1" ry="2.1" fill="#f0e820"/>
<ellipse cx="227.5" cy="100.2" rx="3.2" ry="3.0" fill="#f0e820"/>
<ellipse cx="234.7" cy="100.5" rx="2.8" ry="3.0" fill="#f0e820"/>
<ellipse cx="244.5" cy="94.0" rx="4.8" ry="11.6" fill="#f0e820"/>
<ellipse cx="245.8" cy="81.2" rx="2.2" ry="2.8" fill="#f0e820"/>
<ellipse cx="262.2" cy="97.0" rx="4.2" ry="5.2" fill="#f0e820"/>
<ellipse cx="261.5" cy="85.8" rx="2.4" ry="2.4" fill="#f0e820"/>
<ellipse cx="259.0" cy="106.0" rx="2.8" ry="2.8" fill="#f0e820"/>
<ellipse cx="264.1" cy="106.0" rx="2.4" ry="2.4" fill="#f0e820"/>
<ellipse cx="213.2" cy="93.6" rx="4.6" ry="4.8" fill="#ff1000"/>
<ellipse cx="232.0" cy="92.5" rx="3.2" ry="3.5" fill="#ff1000"/>
<ellipse cx="230.0" cy="86.0" rx="1.5" ry="1.5" fill="#ff1000"/>
<ellipse cx="227.5" cy="100.2" rx="2.6" ry="2.4" fill="#ff1000"/>
<ellipse cx="234.7" cy="100.5" rx="2.2" ry="2.4" fill="#ff1000"/>
<ellipse cx="244.5" cy="94.0" rx="4.2" ry="11.0" fill="#ff1000"/>
<ellipse cx="245.8" cy="81.2" rx="1.6" ry="2.2" fill="#ff1000"/>
<ellipse cx="262.2" cy="97.0" rx="3.6" ry="4.6" fill="#ff1000"/>
<ellipse cx="261.5" cy="85.8" rx="1.8" ry="1.8" fill="#ff1000"/>
<ellipse cx="259.0" cy="106.0" rx="2.2" ry="2.2" fill="#ff1000"/>
<ellipse cx="264.1" cy="106.0" rx="1.8" ry="1.8" fill="#ff1000"/>
</g>
</g></g>
<g><rect x="204.0" y="113.8" width="36.8" height="31.4" fill="#4c4c4c"/>
<clipPath id="cp14"><rect x="204.0" y="113.8" width="36.8" height="31.4"/></clipPath>
<g clip-path="url(#cp14)"><g filter="url(#bl)">
<rect x="204.0" y="113.8" width="36.8" height="1.2" fill="#2a2a2a"/>
<path d="M213.5,114.9 L215.4,115.6 L216.4,117.4 L217.3,120.0 L220.1,123.1 L222.1,126.9 L222.6,131.6 L222.5,135.3 L221.5,138.2 L218.1,139.4 L214.9,139.7 L212.0,139.7 L208.9,139.4 L205.5,138.2 L204.4,135.3 L204.3,131.6 L204.8,126.9 L206.9,123.1 L209.6,120.0 L210.5,117.4 L211.5,115.6 L213.5,114.9 Z" fill="#363636"/>
<path d="M213.5,114.4 L215.2,115.1 L216.2,116.9 L217.0,119.5 L219.5,122.6 L221.3,126.4 L221.8,131.1 L221.7,134.8 L220.8,137.7 L217.6,138.9 L214.8,139.2 L212.2,139.2 L209.3,138.9 L206.2,137.7 L205.3,134.8 L205.2,131.1 L205.6,126.4 L207.5,122.6 L210.0,119.5 L210.8,116.9 L211.7,115.1 L213.5,114.4 Z" fill="#474747"/>
<ellipse cx="214.5" cy="129.4" rx="4.7" ry="6.3" fill="#5c5c5c" opacity="0.85"/>
<ellipse cx="211.5" cy="131.6" rx="0.7" ry="1.7" fill="#535353"/>
<ellipse cx="207.8" cy="134.2" rx="1.0" ry="2.0" fill="#393939"/>
<ellipse cx="211.3" cy="121.4" rx="0.6" ry="1.1" fill="#393939"/>
<ellipse cx="212.4" cy="122.2" rx="0.8" ry="0.8" fill="#535353"/>
<ellipse cx="218.8" cy="122.3" rx="0.7" ry="1.5" fill="#535353"/>
<ellipse cx="216.0" cy="124.7" rx="1.4" ry="1.7" fill="#535353"/>
<ellipse cx="211.6" cy="117.4" rx="0.8" ry="1.2" fill="#535353"/>
<ellipse cx="214.4" cy="121.8" rx="0.7" ry="1.9" fill="#595959"/>
<ellipse cx="208.4" cy="131.2" rx="0.7" ry="1.9" fill="#535353"/>
<ellipse cx="216.3" cy="132.9" rx="1.0" ry="1.1" fill="#595959"/>
<circle cx="210.1" cy="115.7" r="0.8" fill="#9a9a9a"/>
<ellipse cx="208.8" cy="138.9" rx="0.9" ry="1.2" fill="#b8b8b8"/>
<circle cx="216.9" cy="115.7" r="0.8" fill="#9a9a9a"/>
<ellipse cx="218.1" cy="138.9" rx="0.9" ry="1.2" fill="#b8b8b8"/>
<line x1="213.5" y1="137.0" x2="212.7" y2="145.2" stroke="#e8e8e8" stroke-width="1.4"/>
<path d="M231.9,114.9 L233.8,115.6 L234.9,117.4 L235.9,120.0 L238.4,123.1 L240.7,126.9 L240.9,131.6 L240.9,135.3 L239.6,138.2 L236.7,139.4 L233.2,139.7 L230.5,139.7 L227.0,139.4 L224.2,138.2 L222.8,135.3 L222.8,131.6 L223.0,126.9 L225.4,123.1 L227.8,120.0 L228.8,117.4 L229.9,115.6 L231.9,114.9 Z" fill="#363636"/>
<path d="M231.9,114.4 L233.6,115.1 L234.6,116.9 L235.5,119.5 L237.8,122.6 L239.9,126.4 L240.1,131.1 L240.1,134.8 L238.9,137.7 L236.3,138.9 L233.1,139.2 L230.7,139.2 L227.5,138.9 L224.9,137.7 L223.6,134.8 L223.6,131.1 L223.8,126.4 L226.0,122.6 L228.2,119.5 L229.1,116.9 L230.1,115.1 L231.9,114.4 Z" fill="#474747"/>
<ellipse cx="233.0" cy="128.4" rx="4.7" ry="6.3" fill="#5c5c5c" opacity="0.85"/>
<ellipse cx="236.1" cy="118.1" rx="0.9" ry="1.3" fill="#595959"/>
<ellipse cx="236.0" cy="123.0" rx="0.6" ry="0.9" fill="#3f3f3f"/>
<ellipse cx="234.4" cy="119.6" rx="1.0" ry="1.5" fill="#535353"/>
<ellipse cx="234.0" cy="131.6" rx="1.5" ry="0.8" fill="#393939"/>
<ellipse cx="236.0" cy="123.5" rx="1.0" ry="1.1" fill="#393939"/>
<ellipse cx="232.9" cy="137.0" rx="1.4" ry="1.6" fill="#3f3f3f"/>
<ellipse cx="228.7" cy="121.6" rx="1.0" ry="2.0" fill="#393939"/>
<ellipse cx="229.8" cy="123.4" rx="1.4" ry="1.8" fill="#595959"/>
<ellipse cx="231.5" cy="120.2" rx="1.3" ry="1.0" fill="#595959"/>
<ellipse cx="227.1" cy="129.7" rx="1.1" ry="1.4" fill="#595959"/>
<circle cx="228.5" cy="115.7" r="0.8" fill="#9a9a9a"/>
<ellipse cx="227.2" cy="138.9" rx="0.9" ry="1.2" fill="#b8b8b8"/>
<circle cx="235.2" cy="115.7" r="0.8" fill="#9a9a9a"/>
<ellipse cx="236.5" cy="138.9" rx="0.9" ry="1.2" fill="#b8b8b8"/>
<line x1="231.9" y1="137.0" x2="230.8" y2="145.2" stroke="#e8e8e8" stroke-width="1.4"/>
</g>
<rect x="204.0" y="113.8" width="36.8" height="31.4" filter="url(#noise)" style="mix-blend-mode:overlay"/>
<g filter="url(#bl2)">
<circle cx="206.7" cy="122.8" r="0.9" fill="#2a2aff"/>
<circle cx="209.3" cy="122.3" r="0.7" fill="#30b8ff"/>
<circle cx="207.6" cy="115.5" r="0.9" fill="#30b8ff"/>
<circle cx="206.3" cy="119.1" r="0.8" fill="#7000e0"/>
<circle cx="212.0" cy="120.1" r="0.7" fill="#2a2aff"/>
<circle cx="234.3" cy="138.8" r="0.6" fill="#30b8ff"/>
<circle cx="235.7" cy="144.0" r="0.7" fill="#30b8ff"/>
<circle cx="232.1" cy="134.3" r="0.9" fill="#2a2aff"/>
<circle cx="229.2" cy="139.4" r="0.7" fill="#2a2aff"/>
<circle cx="230.3" cy="129.3" r="0.9" fill="#30b8ff"/>
<circle cx="226.0" cy="118.0" r="0.5" fill="#30b8ff"/>
<circle cx="228.6" cy="143.6" r="1.0" fill="#2a2aff"/>
<circle cx="228.8" cy="140.0" r="0.7" fill="#2a2aff"/>
<circle cx="231.8" cy="142.5" r="0.9" fill="#2222f8"/>
<circle cx="235.5" cy="120.3" r="0.9" fill="#2222f8"/>
<circle cx="234.9" cy="140.5" r="1.1" fill="#2222f8"/>
<circle cx="227.4" cy="125.4" r="1.5" fill="#2222f8"/>
<circle cx="236.4" cy="135.3" r="0.8" fill="#2222f8"/>
<circle cx="237.1" cy="130.8" r="1.0" fill="#2222f8"/>
<circle cx="227.0" cy="136.5" r="1.0" fill="#2222f8"/>
<circle cx="227.2" cy="125.1" r="0.7" fill="#2222f8"/>
<circle cx="226.7" cy="128.3" r="1.5" fill="#2222f8"/>
<circle cx="233.9" cy="120.4" r="1.1" fill="#2222f8"/>
<circle cx="228.7" cy="139.8" r="0.7" fill="#2222f8"/>
<circle cx="237.6" cy="132.1" r="1.2" fill="#2222f8"/>
<circle cx="228.2" cy="120.5" r="1.2" fill="#2222f8"/>
<circle cx="234.3" cy="120.1" r="0.7" fill="#2222f8"/>
<circle cx="229.3" cy="140.2" r="0.9" fill="#2222f8"/>
<circle cx="230.7" cy="120.5" r="1.1" fill="#2222f8"/>
<circle cx="235.5" cy="137.6" r="0.7" fill="#2222f8"/>
<circle cx="230.7" cy="142.3" r="1.3" fill="#2222f8"/>
<circle cx="227.6" cy="122.4" r="1.0" fill="#2222f8"/>
<circle cx="230.1" cy="141.6" r="1.0" fill="#2222f8"/>
<circle cx="227.1" cy="136.5" r="1.4" fill="#2222f8"/>
<circle cx="230.6" cy="142.1" r="1.2" fill="#2222f8"/>
<circle cx="235.4" cy="121.8" r="1.5" fill="#2222f8"/>
<circle cx="228.8" cy="140.4" r="0.9" fill="#2222f8"/>
<circle cx="233.2" cy="120.1" r="0.8" fill="#2222f8"/>
<circle cx="230.6" cy="122.3" r="0.9" fill="#2222f8"/>
<circle cx="235.2" cy="121.5" r="0.9" fill="#2222f8"/>
<circle cx="237.1" cy="135.8" r="1.2" fill="#2222f8"/>
<circle cx="237.2" cy="123.8" r="1.2" fill="#2222f8"/>
<circle cx="235.5" cy="140.3" r="1.2" fill="#2222f8"/>
<circle cx="226.8" cy="127.1" r="0.9" fill="#2222f8"/>
<circle cx="233.3" cy="138.0" r="1.3" fill="#2222f8"/>
<circle cx="229.0" cy="118.9" r="0.7" fill="#2222f8"/>
<circle cx="228.7" cy="134.0" r="0.8" fill="#2222f8"/>
<circle cx="237.6" cy="133.7" r="1.4" fill="#2222f8"/>
<circle cx="226.4" cy="130.4" r="0.8" fill="#2222f8"/>
<circle cx="236.3" cy="134.7" r="1.1" fill="#2222f8"/>
<circle cx="228.9" cy="120.6" r="1.2" fill="#2222f8"/>
<circle cx="231.6" cy="141.4" r="0.7" fill="#2222f8"/>
<circle cx="234.2" cy="121.2" r="1.3" fill="#2222f8"/>
<circle cx="228.8" cy="126.9" r="1.3" fill="#2222f8"/>
<circle cx="232.7" cy="141.8" r="1.4" fill="#2222f8"/>
<circle cx="236.0" cy="130.4" r="1.4" fill="#2222f8"/>
<circle cx="236.0" cy="136.2" r="0.7" fill="#2222f8"/>
<circle cx="237.0" cy="136.1" r="0.8" fill="#2222f8"/>
<circle cx="237.0" cy="129.2" r="0.9" fill="#2222f8"/>
<circle cx="231.4" cy="119.7" r="1.1" fill="#2222f8"/>
<circle cx="235.5" cy="136.8" r="1.5" fill="#2222f8"/>
<circle cx="236.3" cy="126.6" r="1.2" fill="#2222f8"/>
<circle cx="228.5" cy="130.9" r="0.9" fill="#2222f8"/>
<circle cx="228.2" cy="132.1" r="1.1" fill="#2222f8"/>
<circle cx="229.2" cy="130.2" r="0.9" fill="#2222f8"/>
<circle cx="227.1" cy="131.7" r="0.8" fill="#2222f8"/>
<circle cx="236.3" cy="138.3" r="1.0" fill="#2222f8"/>
<circle cx="229.0" cy="137.7" r="1.0" fill="#2222f8"/>
<circle cx="236.1" cy="139.5" r="0.8" fill="#2222f8"/>
<circle cx="231.6" cy="138.1" r="0.8" fill="#2222f8"/>
<circle cx="230.2" cy="140.0" r="0.8" fill="#2222f8"/>
<circle cx="233.0" cy="118.7" r="1.0" fill="#2222f8"/>
<circle cx="227.5" cy="130.0" r="0.8" fill="#20c0ff"/>
<circle cx="231.7" cy="123.7" r="1.1" fill="#20c0ff"/>
<circle cx="234.7" cy="138.5" r="0.9" fill="#20c0ff"/>
<circle cx="230.3" cy="138.2" r="1.4" fill="#20c0ff"/>
<circle cx="235.3" cy="123.2" r="1.1" fill="#20c0ff"/>
<circle cx="230.0" cy="117.9" r="1.1" fill="#20c0ff"/>
<circle cx="231.7" cy="141.1" r="0.8" fill="#20c0ff"/>
<circle cx="228.9" cy="125.4" r="1.0" fill="#20c0ff"/>
<circle cx="233.1" cy="118.3" r="0.8" fill="#20c0ff"/>
<circle cx="234.2" cy="132.2" r="0.9" fill="#20c0ff"/>
<circle cx="235.4" cy="122.7" r="1.1" fill="#20c0ff"/>
<circle cx="232.4" cy="125.0" r="1.1" fill="#20c0ff"/>
<circle cx="231.0" cy="119.9" r="1.3" fill="#20c0ff"/>
<circle cx="236.7" cy="125.0" r="1.3" fill="#20c0ff"/>
<circle cx="233.4" cy="126.8" r="0.7" fill="#20c0ff"/>
<circle cx="228.6" cy="131.8" r="0.9" fill="#20c0ff"/>
<circle cx="231.4" cy="126.3" r="1.1" fill="#20c0ff"/>
<circle cx="231.4" cy="138.7" r="0.7" fill="#20c0ff"/>
<circle cx="230.2" cy="118.8" r="1.4" fill="#20c0ff"/>
<circle cx="230.2" cy="122.1" r="1.1" fill="#20c0ff"/>
<circle cx="236.4" cy="133.8" r="0.8" fill="#20c0ff"/>
<circle cx="229.2" cy="134.4" r="1.5" fill="#20c0ff"/>
<circle cx="233.4" cy="137.0" r="0.8" fill="#20c0ff"/>
<circle cx="228.6" cy="132.4" r="0.7" fill="#20c0ff"/>
<circle cx="234.6" cy="136.0" r="0.9" fill="#40e060"/>
<circle cx="234.1" cy="133.4" r="0.9" fill="#40e060"/>
<circle cx="232.5" cy="121.3" r="1.4" fill="#40e060"/>
<circle cx="236.5" cy="131.9" r="0.8" fill="#40e060"/>
<circle cx="236.4" cy="133.4" r="0.8" fill="#40e060"/>
<circle cx="231.0" cy="137.4" r="1.3" fill="#f0e820"/>
<circle cx="232.0" cy="126.2" r="1.4" fill="#f0e820"/>
<circle cx="229.1" cy="123.9" r="0.8" fill="#f0e820"/>
<circle cx="231.6" cy="133.4" r="0.9" fill="#f0e820"/>
<circle cx="232.8" cy="127.3" r="0.8" fill="#f0e820"/>
<circle cx="232.0" cy="135.2" r="1.3" fill="#f0e820"/>
<circle cx="231.0" cy="137.0" r="1.2" fill="#f0e820"/>
<circle cx="229.0" cy="125.3" r="1.1" fill="#f0e820"/>
<circle cx="232.5" cy="138.8" r="1.3" fill="#f0e820"/>
<circle cx="233.2" cy="134.0" r="0.7" fill="#f0e820"/>
<circle cx="232.5" cy="135.6" r="1.5" fill="#ff1000"/>
<circle cx="230.3" cy="133.1" r="0.9" fill="#ff1000"/>
<circle cx="231.5" cy="129.2" r="1.3" fill="#ff1000"/>
<circle cx="231.8" cy="129.2" r="0.9" fill="#ff1000"/>
<circle cx="231.3" cy="126.1" r="1.1" fill="#ff1000"/>
<circle cx="229.8" cy="133.1" r="1.2" fill="#ff1000"/>
<circle cx="230.2" cy="125.3" r="1.1" fill="#ff1000"/>
<circle cx="232.1" cy="125.2" r="1.4" fill="#ff1000"/>
<circle cx="233.0" cy="128.6" r="1.4" fill="#ff1000"/>
<circle cx="231.1" cy="135.4" r="1.5" fill="#ff1000"/>
<circle cx="230.7" cy="130.6" r="1.1" fill="#ff1000"/>
<circle cx="232.1" cy="130.8" r="1.3" fill="#ff1000"/>
<circle cx="233.7" cy="124.4" r="1.0" fill="#ff1000"/>
<circle cx="229.2" cy="133.6" r="1.5" fill="#ff1000"/>
<circle cx="230.0" cy="127.7" r="1.3" fill="#ff1000"/>
<circle cx="232.9" cy="127.6" r="0.8" fill="#ff1000"/>
<circle cx="232.5" cy="125.0" r="1.5" fill="#ff1000"/>
<circle cx="233.7" cy="132.2" r="1.0" fill="#ff1000"/>
<circle cx="233.3" cy="133.2" r="0.7" fill="#ff1000"/>
<circle cx="233.6" cy="130.6" r="1.3" fill="#ff1000"/>
<circle cx="233.7" cy="131.9" r="1.1" fill="#ff1000"/>
<circle cx="232.5" cy="129.5" r="1.2" fill="#ff1000"/>
<ellipse cx="214.0" cy="127.0" rx="4.8" ry="4.8" fill="#2222f8"/>
<ellipse cx="214.0" cy="127.0" rx="3.8" ry="3.8" fill="#20d0ff"/>
<ellipse cx="214.0" cy="127.0" rx="3.2" ry="3.2" fill="#f0e820"/>
<ellipse cx="214.0" cy="127.0" rx="2.6" ry="2.6" fill="#ff1000"/>
</g>
</g></g>
<g><rect x="253.0" y="113.8" width="17.0" height="32.2" fill="#4c4c4c"/>
<clipPath id="cp15"><rect x="253.0" y="113.8" width="17.0" height="32.2"/></clipPath>
<g clip-path="url(#cp15)"><g filter="url(#bl)">
<rect x="253.0" y="113.8" width="17.0" height="1.2" fill="#2a2a2a"/>
<path d="M261.0,114.9 L262.7,115.6 L263.8,117.5 L264.5,120.1 L267.0,123.3 L268.5,127.2 L269.8,132.0 L269.4,135.9 L268.4,138.8 L265.5,140.1 L262.3,140.4 L259.8,140.4 L256.6,140.1 L253.6,138.8 L252.6,135.9 L252.3,132.0 L253.5,127.2 L255.0,123.3 L257.6,120.1 L258.2,117.5 L259.4,115.6 L261.0,114.9 Z" fill="#363636"/>
<path d="M261.0,114.4 L262.5,115.1 L263.6,117.0 L264.2,119.6 L266.5,122.8 L267.8,126.7 L269.0,131.5 L268.7,135.4 L267.8,138.3 L265.1,139.6 L262.1,139.9 L259.9,139.9 L257.0,139.6 L254.3,138.3 L253.4,135.4 L253.1,131.5 L254.2,126.7 L255.6,122.8 L257.9,119.6 L258.5,117.0 L259.5,115.1 L261.0,114.4 Z" fill="#474747"/>
<ellipse cx="261.9" cy="128.8" rx="4.3" ry="6.4" fill="#5c5c5c" opacity="0.85"/>
<ellipse cx="265.8" cy="127.3" rx="0.9" ry="1.9" fill="#393939"/>
<ellipse cx="264.2" cy="134.5" rx="1.0" ry="1.2" fill="#3f3f3f"/>
<ellipse cx="262.8" cy="131.9" rx="1.1" ry="1.9" fill="#595959"/>
<ellipse cx="258.9" cy="128.3" rx="0.7" ry="1.4" fill="#3f3f3f"/>
<ellipse cx="262.8" cy="118.4" rx="1.0" ry="0.9" fill="#535353"/>
<ellipse cx="265.1" cy="130.3" rx="0.7" ry="1.4" fill="#393939"/>
<ellipse cx="265.1" cy="133.3" rx="1.5" ry="1.9" fill="#393939"/>
<ellipse cx="260.2" cy="133.8" rx="1.1" ry="1.0" fill="#3f3f3f"/>
<ellipse cx="263.2" cy="119.7" rx="0.9" ry="0.9" fill="#535353"/>
<ellipse cx="264.5" cy="134.5" rx="1.0" ry="1.3" fill="#595959"/>
<circle cx="257.9" cy="115.7" r="0.8" fill="#9a9a9a"/>
<ellipse cx="256.7" cy="139.6" rx="0.9" ry="1.2" fill="#b8b8b8"/>
<circle cx="264.2" cy="115.7" r="0.8" fill="#9a9a9a"/>
<ellipse cx="265.3" cy="139.6" rx="0.9" ry="1.2" fill="#b8b8b8"/>
<line x1="261.0" y1="137.6" x2="261.2" y2="146.0" stroke="#e8e8e8" stroke-width="1.4"/>
</g>
<rect x="253.0" y="113.8" width="17.0" height="32.2" filter="url(#noise)" style="mix-blend-mode:overlay"/>
<g filter="url(#bl2)">
<circle cx="255.3" cy="125.8" r="0.5" fill="#7000e0"/>
<circle cx="267.7" cy="134.3" r="0.6" fill="#2a2aff"/>
<circle cx="259.0" cy="138.5" r="0.8" fill="#7000e0"/>
<circle cx="268.8" cy="134.3" r="0.6" fill="#7000e0"/>
<circle cx="266.7" cy="139.7" r="0.6" fill="#2a2aff"/>
<circle cx="260.7" cy="126.1" r="0.5" fill="#7000e0"/>
<circle cx="265.1" cy="139.3" r="1.5" fill="#2222f8"/>
<circle cx="262.6" cy="117.8" r="1.3" fill="#2222f8"/>
<circle cx="266.5" cy="134.6" r="1.3" fill="#2222f8"/>
<circle cx="265.6" cy="122.9" r="1.3" fill="#2222f8"/>
<circle cx="256.9" cy="136.6" r="0.8" fill="#2222f8"/>
<circle cx="256.8" cy="121.8" r="1.2" fill="#2222f8"/>
<circle cx="266.2" cy="133.4" r="1.1" fill="#2222f8"/>
<circle cx="260.3" cy="142.2" r="1.1" fill="#2222f8"/>
<circle cx="261.5" cy="141.9" r="0.8" fill="#2222f8"/>
<circle cx="255.5" cy="134.6" r="1.4" fill="#2222f8"/>
<circle cx="265.3" cy="137.3" r="1.5" fill="#2222f8"/>
<circle cx="259.1" cy="140.6" r="0.9" fill="#2222f8"/>
<circle cx="257.8" cy="140.3" r="1.4" fill="#2222f8"/>
<circle cx="259.4" cy="141.6" r="1.2" fill="#2222f8"/>
<circle cx="260.9" cy="139.3" r="1.4" fill="#2222f8"/>
<circle cx="257.0" cy="131.7" r="0.7" fill="#2222f8"/>
<circle cx="258.6" cy="136.6" r="1.2" fill="#2222f8"/>
<circle cx="257.3" cy="133.5" r="1.1" fill="#2222f8"/>
<circle cx="265.1" cy="137.9" r="1.0" fill="#2222f8"/>
<circle cx="266.2" cy="126.7" r="1.5" fill="#2222f8"/>
<circle cx="262.8" cy="120.8" r="1.0" fill="#2222f8"/>
<circle cx="259.3" cy="119.2" r="1.0" fill="#2222f8"/>
<circle cx="266.4" cy="130.2" r="1.1" fill="#2222f8"/>
<circle cx="262.3" cy="121.8" r="1.3" fill="#2222f8"/>
<circle cx="265.8" cy="126.5" r="1.5" fill="#2222f8"/>
<circle cx="265.1" cy="139.0" r="1.3" fill="#2222f8"/>
<circle cx="256.7" cy="131.3" r="0.8" fill="#2222f8"/>
<circle cx="258.9" cy="122.7" r="1.2" fill="#2222f8"/>
<circle cx="257.2" cy="120.8" r="1.2" fill="#2222f8"/>
<circle cx="256.6" cy="131.3" r="1.3" fill="#2222f8"/>
<circle cx="263.0" cy="121.6" r="1.0" fill="#2222f8"/>
<circle cx="256.5" cy="134.9" r="1.5" fill="#2222f8"/>
<circle cx="264.0" cy="138.0" r="1.4" fill="#2222f8"/>
<circle cx="261.0" cy="119.9" r="1.5" fill="#2222f8"/>
<circle cx="255.8" cy="126.3" r="1.1" fill="#2222f8"/>
<circle cx="265.7" cy="131.7" r="0.8" fill="#2222f8"/>
<circle cx="255.9" cy="123.6" r="0.7" fill="#2222f8"/>
<circle cx="264.9" cy="136.9" r="0.9" fill="#2222f8"/>
<circle cx="261.1" cy="121.5" r="1.4" fill="#2222f8"/>
<circle cx="260.7" cy="136.5" r="1.1" fill="#2222f8"/>
<circle cx="256.1" cy="137.1" r="1.0" fill="#2222f8"/>
<circle cx="266.4" cy="125.8" r="1.2" fill="#2222f8"/>
<circle cx="259.7" cy="139.2" r="1.2" fill="#20c0ff"/>
<circle cx="258.2" cy="119.7" r="0.9" fill="#20c0ff"/>
<circle cx="257.2" cy="125.7" r="1.3" fill="#20c0ff"/>
<circle cx="257.5" cy="121.0" r="1.1" fill="#20c0ff"/>
<circle cx="262.5" cy="118.9" r="1.4" fill="#20c0ff"/>
<circle cx="258.3" cy="130.4" r="1.0" fill="#20c0ff"/>
<circle cx="262.8" cy="134.0" r="0.8" fill="#20c0ff"/>
<circle cx="258.0" cy="138.1" r="1.0" fill="#20c0ff"/>
<circle cx="259.1" cy="141.4" r="1.5" fill="#20c0ff"/>
<circle cx="263.9" cy="121.1" r="1.5" fill="#20c0ff"/>
<circle cx="258.0" cy="137.8" r="1.1" fill="#20c0ff"/>
<circle cx="257.0" cy="134.0" r="1.5" fill="#20c0ff"/>
<circle cx="258.1" cy="132.3" r="0.9" fill="#20c0ff"/>
<circle cx="259.9" cy="134.9" r="1.3" fill="#20c0ff"/>
<circle cx="261.0" cy="123.7" r="1.2" fill="#20c0ff"/>
<circle cx="264.5" cy="134.0" r="1.4" fill="#20c0ff"/>
<circle cx="261.1" cy="137.8" r="0.7" fill="#20c0ff"/>
<circle cx="258.9" cy="119.0" r="1.0" fill="#20c0ff"/>
<circle cx="258.8" cy="130.7" r="1.4" fill="#20c0ff"/>
<circle cx="260.7" cy="122.6" r="0.8" fill="#20c0ff"/>
<circle cx="263.8" cy="124.0" r="0.7" fill="#20c0ff"/>
<circle cx="262.9" cy="130.6" r="1.5" fill="#20c0ff"/>
<circle cx="264.6" cy="137.7" r="0.9" fill="#20c0ff"/>
<circle cx="261.5" cy="134.7" r="0.7" fill="#20c0ff"/>
<circle cx="258.5" cy="134.8" r="1.4" fill="#20c0ff"/>
<circle cx="258.4" cy="134.4" r="1.3" fill="#20c0ff"/>
<circle cx="264.9" cy="137.6" r="1.3" fill="#20c0ff"/>
<circle cx="260.6" cy="119.5" r="0.8" fill="#20c0ff"/>
<circle cx="258.9" cy="137.0" r="1.4" fill="#20c0ff"/>
<circle cx="262.8" cy="128.2" r="0.8" fill="#40e060"/>
<circle cx="260.0" cy="122.8" r="1.3" fill="#40e060"/>
<circle cx="264.1" cy="128.3" r="1.0" fill="#40e060"/>
<circle cx="255.9" cy="130.0" r="1.3" fill="#40e060"/>
<circle cx="261.5" cy="126.2" r="0.8" fill="#40e060"/>
<circle cx="257.2" cy="124.9" r="0.9" fill="#40e060"/>
<circle cx="261.2" cy="133.8" r="1.1" fill="#40e060"/>
<circle cx="258.7" cy="136.4" r="1.4" fill="#40e060"/>
<circle cx="261.5" cy="135.6" r="1.1" fill="#40e060"/>
<circle cx="261.5" cy="139.9" r="0.8" fill="#40e060"/>
<circle cx="258.6" cy="128.3" r="1.1" fill="#40e060"/>
<circle cx="263.0" cy="121.4" r="0.8" fill="#40e060"/>
<circle cx="265.4" cy="131.9" r="0.9" fill="#40e060"/>
<circle cx="261.3" cy="139.6" r="1.0" fill="#f0e820"/>
<circle cx="258.8" cy="139.1" r="1.0" fill="#f0e820"/>
<circle cx="260.0" cy="124.4" r="1.4" fill="#f0e820"/>
<circle cx="260.3" cy="123.1" r="0.8" fill="#f0e820"/>
<circle cx="262.0" cy="126.0" r="0.8" fill="#f0e820"/>
<circle cx="260.9" cy="134.4" r="1.4" fill="#f0e820"/>
<circle cx="261.6" cy="138.4" r="1.2" fill="#f0e820"/>
<circle cx="262.0" cy="122.7" r="0.8" fill="#f0e820"/>
<circle cx="259.3" cy="134.2" r="0.7" fill="#f0e820"/>
<circle cx="259.9" cy="135.8" r="0.8" fill="#f0e820"/>
<circle cx="261.1" cy="133.4" r="1.3" fill="#f0e820"/>
<circle cx="262.8" cy="131.4" r="0.8" fill="#f0e820"/>
<circle cx="262.3" cy="134.1" r="0.8" fill="#f0e820"/>
<circle cx="262.8" cy="127.1" r="1.2" fill="#f0e820"/>
<circle cx="259.5" cy="130.3" r="0.9" fill="#f0e820"/>
<circle cx="258.5" cy="128.9" r="1.3" fill="#ff1000"/>
<circle cx="261.9" cy="136.1" r="1.0" fill="#ff1000"/>
<circle cx="262.4" cy="133.1" r="1.0" fill="#ff1000"/>
<circle cx="262.4" cy="126.8" r="1.1" fill="#ff1000"/>
<circle cx="258.7" cy="135.5" r="1.4" fill="#ff1000"/>
<circle cx="263.2" cy="129.7" r="1.4" fill="#ff1000"/>
<circle cx="261.7" cy="136.3" r="0.9" fill="#ff1000"/>
<circle cx="263.1" cy="127.7" r="1.1" fill="#ff1000"/>
<circle cx="263.3" cy="133.1" r="1.5" fill="#ff1000"/>
<circle cx="259.7" cy="131.5" r="1.1" fill="#ff1000"/>
<circle cx="261.3" cy="129.4" r="0.8" fill="#ff1000"/>
<circle cx="259.5" cy="132.7" r="0.9" fill="#ff1000"/>
<circle cx="261.9" cy="124.2" r="0.9" fill="#ff1000"/>
<circle cx="259.4" cy="124.2" r="0.7" fill="#ff1000"/>
<circle cx="261.0" cy="130.2" r="0.9" fill="#ff1000"/>
<circle cx="263.9" cy="129.8" r="1.4" fill="#ff1000"/>
<circle cx="260.4" cy="124.9" r="1.0" fill="#ff1000"/>
<circle cx="261.2" cy="124.3" r="0.9" fill="#ff1000"/>
<circle cx="261.1" cy="131.9" r="0.7" fill="#ff1000"/>
<circle cx="260.3" cy="129.0" r="0.9" fill="#ff1000"/>
<circle cx="260.8" cy="130.6" r="0.9" fill="#ff1000"/>
</g>
</g></g>
<g><rect x="204.0" y="147.0" width="16.0" height="27.6" fill="#4c4c4c"/>
<clipPath id="cp16"><rect x="204.0" y="147.0" width="16.0" height="27.6"/></clipPath>
<g clip-path="url(#cp16)"><g filter="url(#bl)">
<rect x="204.0" y="147.0" width="16.0" height="1.2" fill="#2a2a2a"/>
<path d="M212.3,148.1 L214.0,148.6 L215.0,150.3 L215.6,152.5 L217.9,155.2 L220.0,158.5 L220.5,162.7 L219.8,166.0 L218.8,168.5 L216.4,169.6 L213.5,169.9 L211.2,169.9 L208.3,169.6 L205.9,168.5 L204.9,166.0 L204.2,162.7 L204.7,158.5 L206.8,155.2 L209.1,152.5 L209.7,150.3 L210.7,148.6 L212.3,148.1 Z" fill="#363636"/>
<path d="M212.3,147.6 L213.9,148.1 L214.7,149.8 L215.3,152.0 L217.4,154.7 L219.3,158.0 L219.8,162.2 L219.1,165.5 L218.2,168.0 L216.0,169.1 L213.4,169.4 L211.3,169.4 L208.7,169.1 L206.5,168.0 L205.6,165.5 L204.9,162.2 L205.4,158.0 L207.3,154.7 L209.4,152.0 L210.0,149.8 L210.8,148.1 L212.3,147.6 Z" fill="#474747"/>
<ellipse cx="211.3" cy="159.6" rx="4.0" ry="5.5" fill="#5c5c5c" opacity="0.85"/>
<ellipse cx="208.6" cy="165.7" rx="0.9" ry="1.7" fill="#3f3f3f"/>
<ellipse cx="216.0" cy="163.3" rx="1.2" ry="1.3" fill="#393939"/>
<ellipse cx="217.2" cy="154.4" rx="1.2" ry="1.8" fill="#535353"/>
<ellipse cx="217.2" cy="165.7" rx="0.8" ry="2.0" fill="#393939"/>
<ellipse cx="214.6" cy="158.8" rx="0.9" ry="1.2" fill="#393939"/>
<ellipse cx="214.7" cy="156.2" rx="0.7" ry="1.9" fill="#393939"/>
<ellipse cx="213.1" cy="166.9" rx="1.0" ry="1.4" fill="#535353"/>
<ellipse cx="213.3" cy="165.7" rx="0.9" ry="1.9" fill="#535353"/>
<ellipse cx="213.8" cy="159.4" rx="1.4" ry="1.0" fill="#393939"/>
<ellipse cx="210.9" cy="166.0" rx="1.5" ry="1.2" fill="#535353"/>
<circle cx="209.4" cy="148.7" r="0.8" fill="#9a9a9a"/>
<ellipse cx="208.3" cy="169.1" rx="0.9" ry="1.2" fill="#b8b8b8"/>
<circle cx="215.3" cy="148.7" r="0.8" fill="#9a9a9a"/>
<ellipse cx="216.4" cy="169.1" rx="0.9" ry="1.2" fill="#b8b8b8"/>
<line x1="212.3" y1="167.4" x2="211.3" y2="174.6" stroke="#e8e8e8" stroke-width="1.4"/>
</g>
<rect x="204.0" y="147.0" width="16.0" height="27.6" filter="url(#noise)" style="mix-blend-mode:overlay"/>
<g filter="url(#bl2)">
<circle cx="216.2" cy="165.1" r="0.8" fill="#2222f8"/>
<circle cx="215.0" cy="167.6" r="1.3" fill="#2222f8"/>
<circle cx="210.4" cy="150.8" r="1.3" fill="#2222f8"/>
<circle cx="211.2" cy="169.6" r="1.2" fill="#2222f8"/>
<circle cx="210.3" cy="151.8" r="0.8" fill="#2222f8"/>
<circle cx="208.8" cy="157.4" r="0.9" fill="#2222f8"/>
<circle cx="213.8" cy="153.9" r="1.2" fill="#2222f8"/>
<circle cx="212.5" cy="151.6" r="0.8" fill="#2222f8"/>
<circle cx="212.2" cy="154.3" r="1.1" fill="#2222f8"/>
<circle cx="215.7" cy="164.4" r="1.1" fill="#2222f8"/>
<circle cx="213.0" cy="153.8" r="1.3" fill="#2222f8"/>
<circle cx="215.8" cy="166.1" r="0.8" fill="#2222f8"/>
<circle cx="209.5" cy="160.0" r="0.9" fill="#2222f8"/>
<circle cx="213.8" cy="152.4" r="1.0" fill="#2222f8"/>
<circle cx="208.6" cy="152.8" r="1.3" fill="#2222f8"/>
<circle cx="209.6" cy="163.9" r="1.5" fill="#2222f8"/>
<circle cx="207.3" cy="160.9" r="1.0" fill="#2222f8"/>
<circle cx="215.4" cy="163.0" r="1.4" fill="#2222f8"/>
<circle cx="213.5" cy="161.0" r="0.9" fill="#2222f8"/>
<circle cx="212.1" cy="165.3" r="0.9" fill="#2222f8"/>
<circle cx="209.3" cy="159.5" r="1.4" fill="#2222f8"/>
<circle cx="215.9" cy="165.6" r="1.2" fill="#2222f8"/>
<circle cx="208.0" cy="165.8" r="1.3" fill="#2222f8"/>
<circle cx="214.3" cy="163.3" r="1.1" fill="#2222f8"/>
<circle cx="211.7" cy="163.6" r="0.8" fill="#2222f8"/>
<circle cx="210.9" cy="154.4" r="1.3" fill="#2222f8"/>
<circle cx="215.1" cy="158.3" r="1.1" fill="#2222f8"/>
<circle cx="213.9" cy="167.6" r="1.3" fill="#2222f8"/>
<circle cx="210.4" cy="153.5" r="0.8" fill="#2222f8"/>
<circle cx="213.5" cy="158.2" r="1.2" fill="#2222f8"/>
<circle cx="209.1" cy="167.0" r="0.8" fill="#2222f8"/>
<circle cx="213.1" cy="163.1" r="0.8" fill="#2222f8"/>
<circle cx="210.5" cy="159.8" r="1.5" fill="#2222f8"/>
<circle cx="213.5" cy="152.9" r="1.2" fill="#2222f8"/>
<circle cx="211.9" cy="165.1" r="0.9" fill="#2222f8"/>
<circle cx="214.5" cy="166.2" r="0.8" fill="#2222f8"/>
<circle cx="214.3" cy="167.9" r="1.3" fill="#2222f8"/>
<circle cx="215.4" cy="165.1" r="0.9" fill="#2222f8"/>
<circle cx="212.8" cy="161.6" r="1.1" fill="#2222f8"/>
<circle cx="213.3" cy="163.8" r="0.7" fill="#2222f8"/>
<circle cx="215.9" cy="159.1" r="0.8" fill="#2222f8"/>
<circle cx="214.3" cy="157.4" r="1.4" fill="#2222f8"/>
<circle cx="214.6" cy="161.4" r="0.8" fill="#20c0ff"/>
<circle cx="211.7" cy="155.1" r="1.3" fill="#20c0ff"/>
<circle cx="212.2" cy="164.9" r="1.0" fill="#20c0ff"/>
<circle cx="210.6" cy="160.4" r="1.4" fill="#20c0ff"/>
<circle cx="208.6" cy="162.6" r="1.0" fill="#20c0ff"/>
<circle cx="214.7" cy="162.8" r="0.8" fill="#20c0ff"/>
<circle cx="213.5" cy="160.3" r="1.1" fill="#20c0ff"/>
<circle cx="212.7" cy="158.1" r="1.2" fill="#40e060"/>
<ellipse cx="207.0" cy="150.0" rx="1.2" ry="1.2" fill="#2222f8"/>
<ellipse cx="212.0" cy="156.0" rx="2.2" ry="2.2" fill="#2222f8"/>
<ellipse cx="212.0" cy="156.0" rx="1.6" ry="1.6" fill="#20d0ff"/>
<ellipse cx="212.0" cy="156.0" rx="1.0" ry="1.0" fill="#f0e820"/>
</g>
</g></g>
<g><rect x="294.9" y="43.1" width="66.6" height="30.6" fill="#4c4c4c"/>
<clipPath id="cp17"><rect x="294.9" y="43.1" width="66.6" height="30.6"/></clipPath>
<g clip-path="url(#cp17)"><g filter="url(#bl)">
<rect x="294.9" y="43.1" width="66.6" height="1.2" fill="#2a2a2a"/>
<path d="M303.6,44.2 L305.3,44.8 L306.3,46.7 L306.9,49.1 L309.4,52.2 L311.5,55.8 L312.4,60.4 L311.2,64.1 L310.5,66.9 L307.9,68.1 L304.8,68.4 L302.3,68.4 L299.2,68.1 L296.6,66.9 L295.9,64.1 L294.8,60.4 L295.6,55.8 L297.7,52.2 L300.2,49.1 L300.8,46.7 L301.8,44.8 L303.6,44.2 Z" fill="#363636"/>
<path d="M303.6,43.7 L305.1,44.3 L306.1,46.2 L306.6,48.6 L308.9,51.7 L310.7,55.3 L311.6,59.9 L310.5,63.6 L309.8,66.4 L307.5,67.6 L304.7,67.9 L302.5,67.9 L299.6,67.6 L297.3,66.4 L296.6,63.6 L295.6,59.9 L296.4,55.3 L298.2,51.7 L300.5,48.6 L301.0,46.2 L302.0,44.3 L303.6,43.7 Z" fill="#474747"/>
<ellipse cx="304.5" cy="58.5" rx="4.2" ry="6.1" fill="#5c5c5c" opacity="0.85"/>
<ellipse cx="301.9" cy="50.3" rx="0.8" ry="1.8" fill="#3f3f3f"/>
<ellipse cx="299.7" cy="53.1" rx="1.5" ry="1.3" fill="#3f3f3f"/>
<ellipse cx="305.2" cy="46.2" rx="0.7" ry="0.9" fill="#595959"/>
<ellipse cx="308.2" cy="49.9" rx="1.1" ry="1.2" fill="#535353"/>
<ellipse cx="300.8" cy="56.5" rx="1.2" ry="1.3" fill="#3f3f3f"/>
<ellipse cx="299.2" cy="55.7" rx="1.3" ry="1.8" fill="#535353"/>
<ellipse cx="304.7" cy="47.7" rx="1.3" ry="0.9" fill="#393939"/>
<ellipse cx="304.0" cy="53.3" rx="1.2" ry="1.5" fill="#535353"/>
<ellipse cx="300.9" cy="54.8" rx="0.7" ry="1.3" fill="#595959"/>
<ellipse cx="307.1" cy="48.8" rx="1.0" ry="1.4" fill="#393939"/>
<circle cx="300.5" cy="44.9" r="0.8" fill="#9a9a9a"/>
<ellipse cx="299.3" cy="67.6" rx="0.9" ry="1.2" fill="#b8b8b8"/>
<circle cx="306.6" cy="44.9" r="0.8" fill="#9a9a9a"/>
<ellipse cx="307.8" cy="67.6" rx="0.9" ry="1.2" fill="#b8b8b8"/>
<line x1="303.6" y1="65.7" x2="304.2" y2="73.7" stroke="#e8e8e8" stroke-width="1.4"/>
<path d="M320.2,44.2 L321.9,44.8 L323.1,46.7 L323.7,49.1 L326.2,52.2 L327.6,55.8 L328.4,60.4 L328.0,64.1 L327.0,66.9 L324.6,68.1 L321.4,68.4 L319.1,68.4 L315.9,68.1 L313.5,66.9 L312.5,64.1 L312.1,60.4 L312.9,55.8 L314.3,52.2 L316.8,49.1 L317.4,46.7 L318.6,44.8 L320.2,44.2 Z" fill="#363636"/>
<path d="M320.2,43.7 L321.8,44.3 L322.8,46.2 L323.4,48.6 L325.7,51.7 L326.9,55.3 L327.6,59.9 L327.3,63.6 L326.4,66.4 L324.2,67.6 L321.3,67.9 L319.2,67.9 L316.3,67.6 L314.1,66.4 L313.2,63.6 L312.9,59.9 L313.6,55.3 L314.8,51.7 L317.1,48.6 L317.7,46.2 L318.7,44.3 L320.2,43.7 Z" fill="#474747"/>
<ellipse cx="321.2" cy="55.9" rx="4.2" ry="6.1" fill="#5c5c5c" opacity="0.85"/>
<ellipse cx="325.1" cy="65.0" rx="1.4" ry="1.3" fill="#393939"/>
<ellipse cx="324.1" cy="46.9" rx="1.3" ry="1.0" fill="#535353"/>
<ellipse cx="315.8" cy="56.6" rx="0.8" ry="1.5" fill="#595959"/>
<ellipse cx="325.3" cy="51.2" rx="1.5" ry="1.6" fill="#535353"/>
<ellipse cx="319.6" cy="54.5" rx="1.2" ry="1.1" fill="#595959"/>
<ellipse cx="321.0" cy="61.7" rx="0.9" ry="1.9" fill="#595959"/>
<ellipse cx="320.9" cy="64.0" rx="1.0" ry="0.8" fill="#595959"/>
<ellipse cx="324.5" cy="50.2" rx="1.0" ry="1.9" fill="#393939"/>
<ellipse cx="317.7" cy="60.8" rx="1.5" ry="2.0" fill="#3f3f3f"/>
<ellipse cx="318.7" cy="65.2" rx="1.1" ry="1.5" fill="#3f3f3f"/>
<circle cx="317.2" cy="44.9" r="0.8" fill="#9a9a9a"/>
<ellipse cx="316.0" cy="67.6" rx="0.9" ry="1.2" fill="#b8b8b8"/>
<circle cx="323.3" cy="44.9" r="0.8" fill="#9a9a9a"/>
<ellipse cx="324.5" cy="67.6" rx="0.9" ry="1.2" fill="#b8b8b8"/>
<line x1="320.2" y1="65.7" x2="319.5" y2="73.7" stroke="#e8e8e8" stroke-width="1.4"/>
<path d="M336.9,44.2 L338.6,44.8 L339.8,46.7 L340.5,49.1 L342.9,52.2 L344.7,55.8 L344.9,60.4 L344.9,64.1 L343.4,66.9 L340.9,68.1 L338.2,68.4 L335.5,68.4 L332.8,68.1 L330.3,66.9 L328.8,64.1 L328.8,60.4 L329.1,55.8 L330.8,52.2 L333.3,49.1 L334.0,46.7 L335.1,44.8 L336.9,44.2 Z" fill="#363636"/>
<path d="M336.9,43.7 L338.5,44.3 L339.5,46.2 L340.1,48.6 L342.4,51.7 L344.0,55.3 L344.2,59.9 L344.2,63.6 L342.8,66.4 L340.6,67.6 L338.1,67.9 L335.7,67.9 L333.2,67.6 L330.9,66.4 L329.6,63.6 L329.6,59.9 L329.8,55.3 L331.4,51.7 L333.6,48.6 L334.2,46.2 L335.3,44.3 L336.9,43.7 Z" fill="#474747"/>
<ellipse cx="336.6" cy="56.1" rx="4.2" ry="6.1" fill="#5c5c5c" opacity="0.85"/>
<ellipse cx="336.2" cy="47.4" rx="0.8" ry="1.1" fill="#535353"/>
<ellipse cx="338.3" cy="64.6" rx="1.1" ry="1.8" fill="#393939"/>
<ellipse cx="332.6" cy="61.3" rx="0.6" ry="1.2" fill="#535353"/>
<ellipse cx="337.1" cy="52.8" rx="1.2" ry="1.0" fill="#535353"/>
<ellipse cx="334.0" cy="52.5" rx="1.0" ry="1.8" fill="#535353"/>
<ellipse cx="332.8" cy="50.6" rx="1.2" ry="0.9" fill="#393939"/>
<ellipse cx="338.3" cy="58.1" rx="1.1" ry="0.9" fill="#595959"/>
<ellipse cx="339.0" cy="53.3" rx="1.2" ry="1.9" fill="#3f3f3f"/>
<ellipse cx="336.2" cy="51.6" rx="1.5" ry="1.0" fill="#535353"/>
<ellipse cx="334.4" cy="61.9" rx="1.1" ry="1.2" fill="#535353"/>
<circle cx="333.8" cy="44.9" r="0.8" fill="#9a9a9a"/>
<ellipse cx="332.7" cy="67.6" rx="0.9" ry="1.2" fill="#b8b8b8"/>
<circle cx="339.9" cy="44.9" r="0.8" fill="#9a9a9a"/>
<ellipse cx="341.1" cy="67.6" rx="0.9" ry="1.2" fill="#b8b8b8"/>
<line x1="336.9" y1="65.7" x2="338.0" y2="73.7" stroke="#e8e8e8" stroke-width="1.4"/>
<path d="M352.7,44.2 L354.3,44.8 L355.4,46.7 L356.2,49.1 L358.8,52.2 L360.2,55.8 L361.4,60.4 L361.0,64.1 L359.5,66.9 L356.7,68.1 L353.9,68.4 L351.4,68.4 L348.6,68.1 L345.8,66.9 L344.3,64.1 L344.0,60.4 L345.2,55.8 L346.6,52.2 L349.1,49.1 L350.0,46.7 L351.0,44.8 L352.7,44.2 Z" fill="#363636"/>
<path d="M352.7,43.7 L354.2,44.3 L355.1,46.2 L355.9,48.6 L358.2,51.7 L359.5,55.3 L360.6,59.9 L360.3,63.6 L358.9,66.4 L356.4,67.6 L353.8,67.9 L351.5,67.9 L349.0,67.6 L346.5,66.4 L345.1,63.6 L344.7,59.9 L345.8,55.3 L347.1,51.7 L349.4,48.6 L350.2,46.2 L351.2,44.3 L352.7,43.7 Z" fill="#474747"/>
<ellipse cx="352.5" cy="58.2" rx="4.2" ry="6.1" fill="#5c5c5c" opacity="0.85"/>
<ellipse cx="353.6" cy="48.0" rx="0.7" ry="1.9" fill="#3f3f3f"/>
<ellipse cx="355.4" cy="55.6" rx="1.5" ry="1.0" fill="#3f3f3f"/>
<ellipse cx="350.0" cy="50.0" rx="1.1" ry="1.4" fill="#595959"/>
<ellipse cx="355.6" cy="56.7" rx="1.4" ry="1.9" fill="#535353"/>
<ellipse cx="347.4" cy="63.7" rx="0.7" ry="1.7" fill="#393939"/>
<ellipse cx="351.9" cy="62.8" rx="1.5" ry="1.5" fill="#535353"/>
<ellipse cx="353.7" cy="65.5" rx="0.9" ry="1.1" fill="#535353"/>
<ellipse cx="351.0" cy="56.9" rx="1.2" ry="1.9" fill="#393939"/>
<ellipse cx="353.8" cy="61.0" rx="0.8" ry="0.9" fill="#535353"/>
<ellipse cx="355.3" cy="55.1" rx="0.6" ry="0.9" fill="#393939"/>
<circle cx="349.6" cy="44.9" r="0.8" fill="#9a9a9a"/>
<ellipse cx="348.5" cy="67.6" rx="0.9" ry="1.2" fill="#b8b8b8"/>
<circle cx="355.7" cy="44.9" r="0.8" fill="#9a9a9a"/>
<ellipse cx="356.9" cy="67.6" rx="0.9" ry="1.2" fill="#b8b8b8"/>
<line x1="352.7" y1="65.7" x2="352.6" y2="73.7" stroke="#e8e8e8" stroke-width="1.4"/>
</g>
<rect x="294.9" y="43.1" width="66.6" height="30.6" filter="url(#noise)" style="mix-blend-mode:overlay"/>
<g filter="url(#bl2)">
<ellipse cx="303.5" cy="54.5" rx="2.2" ry="2.2" fill="#2222f8"/>
<ellipse cx="303.5" cy="54.5" rx="2.1" ry="1.8" fill="#2222f8"/>
<ellipse cx="325.0" cy="49.0" rx="1.6" ry="1.6" fill="#2222f8"/>
<ellipse cx="333.0" cy="55.0" rx="1.5" ry="1.2" fill="#2222f8"/>
<ellipse cx="335.0" cy="57.0" rx="1.0" ry="1.0" fill="#2222f8"/>
<ellipse cx="348.0" cy="63.0" rx="0.8" ry="0.8" fill="#2222f8"/>
<ellipse cx="358.0" cy="68.0" rx="0.8" ry="0.8" fill="#2222f8"/>
<ellipse cx="296.0" cy="44.0" rx="1.0" ry="1.0" fill="#2222f8"/>
<ellipse cx="319.0" cy="44.0" rx="1.0" ry="1.0" fill="#2222f8"/>
<ellipse cx="303.5" cy="54.5" rx="1.6" ry="1.6" fill="#20d0ff"/>
<ellipse cx="303.5" cy="54.5" rx="1.5" ry="1.2" fill="#20d0ff"/>
<ellipse cx="325.0" cy="49.0" rx="1.0" ry="1.0" fill="#20d0ff"/>
<ellipse cx="303.5" cy="54.5" rx="1.0" ry="1.0" fill="#f0e820"/>
</g>
</g></g>
<g><rect x="294.9" y="77.2" width="66.1" height="30.6" fill="#4c4c4c"/>
<clipPath id="cp18"><rect x="294.9" y="77.2" width="66.1" height="30.6"/></clipPath>
<g clip-path="url(#cp18)"><g filter="url(#bl)">
<rect x="294.9" y="77.2" width="66.1" height="1.2" fill="#2a2a2a"/>
<path d="M303.0,78.3 L304.7,78.9 L305.8,80.8 L306.5,83.2 L308.7,86.3 L310.9,89.9 L311.1,94.5 L310.8,98.2 L309.5,101.0 L307.1,102.2 L304.3,102.5 L301.7,102.5 L298.8,102.2 L296.5,101.0 L295.1,98.2 L294.9,94.5 L295.1,89.9 L297.3,86.3 L299.4,83.2 L300.1,80.8 L301.3,78.9 L303.0,78.3 Z" fill="#363636"/>
<path d="M303.0,77.8 L304.5,78.4 L305.6,80.3 L306.2,82.7 L308.1,85.8 L310.1,89.4 L310.3,94.0 L310.1,97.7 L308.9,100.5 L306.7,101.7 L304.1,102.0 L301.8,102.0 L299.2,101.7 L297.1,100.5 L295.8,97.7 L295.6,94.0 L295.8,89.4 L297.8,85.8 L299.8,82.7 L300.4,80.3 L301.4,78.4 L303.0,77.8 Z" fill="#474747"/>
<ellipse cx="303.4" cy="90.4" rx="4.2" ry="6.1" fill="#5c5c5c" opacity="0.85"/>
<ellipse cx="299.5" cy="85.7" rx="0.9" ry="2.0" fill="#3f3f3f"/>
<ellipse cx="305.3" cy="86.6" rx="1.0" ry="1.0" fill="#3f3f3f"/>
<ellipse cx="308.1" cy="93.2" rx="1.1" ry="1.2" fill="#3f3f3f"/>
<ellipse cx="298.3" cy="92.8" rx="1.0" ry="1.8" fill="#393939"/>
<ellipse cx="297.8" cy="82.8" rx="0.8" ry="1.1" fill="#393939"/>
<ellipse cx="299.5" cy="99.5" rx="0.6" ry="0.8" fill="#595959"/>
<ellipse cx="307.9" cy="97.9" rx="1.0" ry="1.5" fill="#393939"/>
<ellipse cx="301.2" cy="84.9" rx="1.2" ry="1.9" fill="#3f3f3f"/>
<ellipse cx="298.9" cy="96.6" rx="0.8" ry="1.3" fill="#535353"/>
<ellipse cx="308.1" cy="94.1" rx="0.6" ry="1.1" fill="#595959"/>
<circle cx="299.9" cy="79.0" r="0.8" fill="#9a9a9a"/>
<ellipse cx="298.8" cy="101.7" rx="0.9" ry="1.2" fill="#b8b8b8"/>
<circle cx="306.0" cy="79.0" r="0.8" fill="#9a9a9a"/>
<ellipse cx="307.2" cy="101.7" rx="0.9" ry="1.2" fill="#b8b8b8"/>
<line x1="303.0" y1="99.8" x2="303.3" y2="107.8" stroke="#e8e8e8" stroke-width="1.4"/>
<path d="M319.5,78.3 L321.1,78.9 L322.4,80.8 L323.0,83.2 L325.5,86.3 L327.0,89.9 L327.6,94.5 L327.7,98.2 L325.9,101.0 L323.5,102.2 L320.7,102.5 L318.2,102.5 L315.5,102.2 L313.0,101.0 L311.3,98.2 L311.3,94.5 L311.9,89.9 L313.5,86.3 L315.9,83.2 L316.6,80.8 L317.9,78.9 L319.5,78.3 Z" fill="#363636"/>
<path d="M319.5,77.8 L320.9,78.4 L322.1,80.3 L322.7,82.7 L324.9,85.8 L326.3,89.4 L326.9,94.0 L326.9,97.7 L325.3,100.5 L323.1,101.7 L320.6,102.0 L318.3,102.0 L315.8,101.7 L313.6,100.5 L312.0,97.7 L312.1,94.0 L312.6,89.4 L314.0,85.8 L316.3,82.7 L316.9,80.3 L318.0,78.4 L319.5,77.8 Z" fill="#474747"/>
<ellipse cx="319.2" cy="92.1" rx="4.2" ry="6.1" fill="#5c5c5c" opacity="0.85"/>
<ellipse cx="322.2" cy="88.1" rx="0.7" ry="2.0" fill="#595959"/>
<ellipse cx="319.5" cy="94.8" rx="1.4" ry="1.1" fill="#595959"/>
<ellipse cx="320.9" cy="96.5" rx="1.5" ry="1.5" fill="#535353"/>
<ellipse cx="319.0" cy="80.8" rx="1.2" ry="1.9" fill="#3f3f3f"/>
<ellipse cx="315.7" cy="84.8" rx="0.8" ry="1.5" fill="#3f3f3f"/>
<ellipse cx="321.5" cy="90.6" rx="1.2" ry="0.9" fill="#535353"/>
<ellipse cx="321.1" cy="89.9" rx="1.4" ry="1.2" fill="#535353"/>
<ellipse cx="323.2" cy="84.8" rx="1.0" ry="1.0" fill="#393939"/>
<ellipse cx="320.4" cy="94.6" rx="0.7" ry="1.4" fill="#535353"/>
<ellipse cx="316.4" cy="86.8" rx="0.8" ry="1.9" fill="#535353"/>
<circle cx="316.4" cy="79.0" r="0.8" fill="#9a9a9a"/>
<ellipse cx="315.3" cy="101.7" rx="0.9" ry="1.2" fill="#b8b8b8"/>
<circle cx="322.5" cy="79.0" r="0.8" fill="#9a9a9a"/>
<ellipse cx="323.7" cy="101.7" rx="0.9" ry="1.2" fill="#b8b8b8"/>
<line x1="319.5" y1="99.8" x2="319.0" y2="107.8" stroke="#e8e8e8" stroke-width="1.4"/>
<path d="M336.0,78.3 L337.6,78.9 L338.9,80.8 L339.7,83.2 L341.6,86.3 L343.4,89.9 L344.0,94.5 L343.9,98.2 L342.6,101.0 L340.2,102.2 L337.3,102.5 L334.7,102.5 L331.7,102.2 L329.3,101.0 L328.0,98.2 L327.9,94.5 L328.5,89.9 L330.4,86.3 L332.2,83.2 L333.1,80.8 L334.3,78.9 L336.0,78.3 Z" fill="#363636"/>
<path d="M336.0,77.8 L337.5,78.4 L338.6,80.3 L339.3,82.7 L341.0,85.8 L342.7,89.4 L343.3,94.0 L343.2,97.7 L342.0,100.5 L339.8,101.7 L337.2,102.0 L334.8,102.0 L332.1,101.7 L329.9,100.5 L328.7,97.7 L328.7,94.0 L329.2,89.4 L330.9,85.8 L332.6,82.7 L333.3,80.3 L334.5,78.4 L336.0,77.8 Z" fill="#474747"/>
<ellipse cx="334.9" cy="89.8" rx="4.2" ry="6.1" fill="#5c5c5c" opacity="0.85"/>
<ellipse cx="331.8" cy="86.4" rx="0.7" ry="1.1" fill="#3f3f3f"/>
<ellipse cx="335.6" cy="94.3" rx="1.0" ry="1.6" fill="#393939"/>
<ellipse cx="332.1" cy="92.4" rx="1.4" ry="1.0" fill="#393939"/>
<ellipse cx="332.4" cy="98.2" rx="1.3" ry="0.9" fill="#393939"/>
<ellipse cx="337.2" cy="80.7" rx="1.3" ry="1.2" fill="#535353"/>
<ellipse cx="330.7" cy="94.8" rx="0.9" ry="1.2" fill="#535353"/>
<ellipse cx="339.3" cy="99.5" rx="1.3" ry="1.0" fill="#535353"/>
<ellipse cx="338.3" cy="92.0" rx="0.9" ry="1.7" fill="#595959"/>
<ellipse cx="341.1" cy="89.6" rx="1.0" ry="1.3" fill="#393939"/>
<ellipse cx="339.2" cy="99.6" rx="1.2" ry="1.8" fill="#535353"/>
<circle cx="332.9" cy="79.0" r="0.8" fill="#9a9a9a"/>
<ellipse cx="331.8" cy="101.7" rx="0.9" ry="1.2" fill="#b8b8b8"/>
<circle cx="339.0" cy="79.0" r="0.8" fill="#9a9a9a"/>
<ellipse cx="340.1" cy="101.7" rx="0.9" ry="1.2" fill="#b8b8b8"/>
<line x1="336.0" y1="99.8" x2="337.0" y2="107.8" stroke="#e8e8e8" stroke-width="1.4"/>
<path d="M353.3,78.3 L354.9,78.9 L355.9,80.8 L356.8,83.2 L359.0,86.3 L360.5,89.9 L362.1,94.5 L361.1,98.2 L360.5,101.0 L357.2,102.2 L354.5,102.5 L352.0,102.5 L349.3,102.2 L346.1,101.0 L345.4,98.2 L344.4,94.5 L346.1,89.9 L347.5,86.3 L349.8,83.2 L350.7,80.8 L351.6,78.9 L353.3,78.3 Z" fill="#363636"/>
<path d="M353.3,77.8 L354.8,78.4 L355.6,80.3 L356.5,82.7 L358.5,85.8 L359.9,89.4 L361.3,94.0 L360.4,97.7 L359.8,100.5 L356.9,101.7 L354.4,102.0 L352.2,102.0 L349.7,101.7 L346.7,100.5 L346.2,97.7 L345.2,94.0 L346.7,89.4 L348.1,85.8 L350.1,82.7 L350.9,80.3 L351.8,78.4 L353.3,77.8 Z" fill="#474747"/>
<ellipse cx="354.0" cy="91.8" rx="4.2" ry="6.1" fill="#5c5c5c" opacity="0.85"/>
<ellipse cx="355.1" cy="90.0" rx="0.7" ry="1.5" fill="#393939"/>
<ellipse cx="355.3" cy="95.3" rx="1.3" ry="1.4" fill="#3f3f3f"/>
<ellipse cx="353.0" cy="89.9" rx="0.9" ry="1.7" fill="#595959"/>
<ellipse cx="352.0" cy="93.7" rx="0.6" ry="1.6" fill="#595959"/>
<ellipse cx="355.9" cy="82.4" rx="1.4" ry="1.9" fill="#535353"/>
<ellipse cx="354.0" cy="95.3" rx="1.4" ry="0.9" fill="#535353"/>
<ellipse cx="357.4" cy="91.6" rx="1.3" ry="1.7" fill="#535353"/>
<ellipse cx="356.0" cy="88.6" rx="0.8" ry="1.5" fill="#393939"/>
<ellipse cx="349.6" cy="97.5" rx="1.0" ry="2.0" fill="#595959"/>
<ellipse cx="356.3" cy="96.3" rx="1.5" ry="1.6" fill="#595959"/>
<circle cx="350.2" cy="79.0" r="0.8" fill="#9a9a9a"/>
<ellipse cx="349.1" cy="101.7" rx="0.9" ry="1.2" fill="#b8b8b8"/>
<circle cx="356.3" cy="79.0" r="0.8" fill="#9a9a9a"/>
<ellipse cx="357.5" cy="101.7" rx="0.9" ry="1.2" fill="#b8b8b8"/>
<line x1="353.3" y1="99.8" x2="354.4" y2="107.8" stroke="#e8e8e8" stroke-width="1.4"/>
</g>
<rect x="294.9" y="77.2" width="66.1" height="30.6" filter="url(#noise)" style="mix-blend-mode:overlay"/>
<g filter="url(#bl2)">
<ellipse cx="305.0" cy="89.0" rx="0.9" ry="0.9" fill="#2222f8"/>
<ellipse cx="316.0" cy="89.0" rx="0.9" ry="0.9" fill="#2222f8"/>
<ellipse cx="339.0" cy="88.0" rx="1.0" ry="1.2" fill="#2222f8"/>
<ellipse cx="296.0" cy="79.0" rx="1.0" ry="1.0" fill="#2222f8"/>
</g>
</g></g>
<g><rect x="294.0" y="109.9" width="67.1" height="33.7" fill="#4c4c4c"/>
<clipPath id="cp19"><rect x="294.0" y="109.9" width="67.1" height="33.7"/></clipPath>
<g clip-path="url(#cp19)"><g filter="url(#bl)">
<rect x="294.0" y="109.9" width="67.1" height="1.2" fill="#2a2a2a"/>
<path d="M302.9,111.1 L304.6,111.7 L305.6,113.8 L306.5,116.5 L308.9,119.8 L310.9,123.9 L311.2,128.9 L311.2,133.0 L309.7,136.0 L307.3,137.4 L304.1,137.7 L301.6,137.7 L298.5,137.4 L296.0,136.0 L294.6,133.0 L294.6,128.9 L294.8,123.9 L296.9,119.8 L299.3,116.5 L300.1,113.8 L301.1,111.7 L302.9,111.1 Z" fill="#363636"/>
<path d="M302.9,110.6 L304.5,111.2 L305.4,113.3 L306.2,116.0 L308.3,119.3 L310.2,123.4 L310.4,128.4 L310.4,132.5 L309.1,135.5 L306.9,136.9 L304.0,137.2 L301.7,137.2 L298.9,136.9 L296.6,135.5 L295.3,132.5 L295.3,128.4 L295.6,123.4 L297.4,119.3 L299.6,116.0 L300.4,113.3 L301.3,111.2 L302.9,110.6 Z" fill="#474747"/>
<ellipse cx="303.2" cy="127.1" rx="4.2" ry="6.7" fill="#5c5c5c" opacity="0.85"/>
<ellipse cx="300.5" cy="113.4" rx="1.1" ry="1.6" fill="#393939"/>
<ellipse cx="306.4" cy="132.8" rx="1.0" ry="1.3" fill="#595959"/>
<ellipse cx="302.3" cy="133.9" rx="0.9" ry="1.3" fill="#3f3f3f"/>
<ellipse cx="301.4" cy="120.8" rx="0.8" ry="1.6" fill="#595959"/>
<ellipse cx="299.4" cy="115.0" rx="1.4" ry="1.0" fill="#535353"/>
<ellipse cx="306.2" cy="133.1" rx="1.3" ry="0.9" fill="#3f3f3f"/>
<ellipse cx="303.2" cy="124.2" rx="1.5" ry="1.7" fill="#3f3f3f"/>
<ellipse cx="305.1" cy="119.4" rx="1.1" ry="1.2" fill="#393939"/>
<ellipse cx="300.3" cy="129.5" rx="1.4" ry="1.0" fill="#535353"/>
<ellipse cx="304.4" cy="117.6" rx="1.1" ry="1.5" fill="#393939"/>
<circle cx="299.8" cy="111.9" r="0.8" fill="#9a9a9a"/>
<ellipse cx="298.6" cy="136.9" rx="0.9" ry="1.2" fill="#b8b8b8"/>
<circle cx="306.0" cy="111.9" r="0.8" fill="#9a9a9a"/>
<ellipse cx="307.1" cy="136.9" rx="0.9" ry="1.2" fill="#b8b8b8"/>
<line x1="302.9" y1="134.8" x2="303.3" y2="143.6" stroke="#e8e8e8" stroke-width="1.4"/>
<path d="M319.2,111.1 L320.8,111.7 L322.2,113.8 L322.8,116.5 L325.1,119.8 L327.4,123.9 L328.1,128.9 L327.5,133.0 L325.8,136.0 L323.5,137.4 L320.5,137.7 L318.0,137.7 L314.9,137.4 L312.7,136.0 L311.0,133.0 L310.3,128.9 L311.0,123.9 L313.3,119.8 L315.6,116.5 L316.3,113.8 L317.6,111.7 L319.2,111.1 Z" fill="#363636"/>
<path d="M319.2,110.6 L320.7,111.2 L321.9,113.3 L322.5,116.0 L324.6,119.3 L326.7,123.4 L327.3,128.4 L326.7,132.5 L325.2,135.5 L323.1,136.9 L320.4,137.2 L318.1,137.2 L315.3,136.9 L313.3,135.5 L311.7,132.5 L311.1,128.4 L311.8,123.4 L313.9,119.3 L315.9,116.0 L316.5,113.3 L317.8,111.2 L319.2,110.6 Z" fill="#474747"/>
<ellipse cx="319.4" cy="126.5" rx="4.2" ry="6.7" fill="#5c5c5c" opacity="0.85"/>
<ellipse cx="315.2" cy="131.8" rx="0.8" ry="0.9" fill="#535353"/>
<ellipse cx="322.4" cy="119.9" rx="1.1" ry="1.9" fill="#535353"/>
<ellipse cx="315.7" cy="119.6" rx="0.7" ry="1.2" fill="#535353"/>
<ellipse cx="322.3" cy="125.0" rx="0.6" ry="1.5" fill="#535353"/>
<ellipse cx="321.6" cy="116.2" rx="0.9" ry="1.2" fill="#393939"/>
<ellipse cx="316.8" cy="116.7" rx="0.7" ry="1.3" fill="#393939"/>
<ellipse cx="314.4" cy="115.2" rx="1.4" ry="0.8" fill="#535353"/>
<ellipse cx="323.9" cy="134.5" rx="1.1" ry="1.4" fill="#595959"/>
<ellipse cx="320.9" cy="124.1" rx="1.4" ry="1.8" fill="#595959"/>
<ellipse cx="323.5" cy="125.6" rx="0.9" ry="1.3" fill="#535353"/>
<circle cx="316.1" cy="111.9" r="0.8" fill="#9a9a9a"/>
<ellipse cx="315.0" cy="136.9" rx="0.9" ry="1.2" fill="#b8b8b8"/>
<circle cx="322.3" cy="111.9" r="0.8" fill="#9a9a9a"/>
<ellipse cx="323.5" cy="136.9" rx="0.9" ry="1.2" fill="#b8b8b8"/>
<line x1="319.2" y1="134.8" x2="319.0" y2="143.6" stroke="#e8e8e8" stroke-width="1.4"/>
<path d="M335.6,111.1 L337.3,111.7 L338.3,113.8 L339.1,116.5 L341.4,119.8 L343.5,123.9 L344.4,128.9 L343.4,133.0 L342.5,136.0 L339.7,137.4 L336.9,137.7 L334.3,137.7 L331.5,137.4 L328.6,136.0 L327.8,133.0 L326.8,128.9 L327.7,123.9 L329.8,119.8 L332.0,116.5 L332.9,113.8 L333.8,111.7 L335.6,111.1 Z" fill="#363636"/>
<path d="M335.6,110.6 L337.2,111.2 L338.0,113.3 L338.8,116.0 L340.9,119.3 L342.8,123.4 L343.6,128.4 L342.7,132.5 L341.9,135.5 L339.3,136.9 L336.8,137.2 L334.4,137.2 L331.9,136.9 L329.3,135.5 L328.5,132.5 L327.6,128.4 L328.4,123.4 L330.3,119.3 L332.4,116.0 L333.1,113.3 L334.0,111.2 L335.6,110.6 Z" fill="#474747"/>
<ellipse cx="336.0" cy="124.5" rx="4.2" ry="6.7" fill="#5c5c5c" opacity="0.85"/>
<ellipse cx="332.7" cy="119.9" rx="1.5" ry="1.8" fill="#535353"/>
<ellipse cx="340.4" cy="119.4" rx="1.2" ry="1.7" fill="#595959"/>
<ellipse cx="336.9" cy="124.0" rx="1.1" ry="1.7" fill="#595959"/>
<ellipse cx="337.7" cy="124.8" rx="0.8" ry="1.6" fill="#393939"/>
<ellipse cx="334.5" cy="134.7" rx="1.3" ry="1.1" fill="#595959"/>
<ellipse cx="332.9" cy="126.4" rx="1.5" ry="1.9" fill="#393939"/>
<ellipse cx="332.9" cy="132.3" rx="1.5" ry="1.9" fill="#393939"/>
<ellipse cx="331.0" cy="126.3" rx="1.3" ry="1.3" fill="#595959"/>
<ellipse cx="340.8" cy="115.5" rx="0.8" ry="1.8" fill="#535353"/>
<ellipse cx="331.1" cy="132.4" rx="1.3" ry="1.1" fill="#393939"/>
<circle cx="332.5" cy="111.9" r="0.8" fill="#9a9a9a"/>
<ellipse cx="331.3" cy="136.9" rx="0.9" ry="1.2" fill="#b8b8b8"/>
<circle cx="338.7" cy="111.9" r="0.8" fill="#9a9a9a"/>
<ellipse cx="339.8" cy="136.9" rx="0.9" ry="1.2" fill="#b8b8b8"/>
<line x1="335.6" y1="134.8" x2="335.6" y2="143.6" stroke="#e8e8e8" stroke-width="1.4"/>
<path d="M352.8,111.1 L354.4,111.7 L355.7,113.8 L356.3,116.5 L358.5,119.8 L360.9,123.9 L361.3,128.9 L361.1,133.0 L359.9,136.0 L357.1,137.4 L354.1,137.7 L351.4,137.7 L348.5,137.4 L345.6,136.0 L344.4,133.0 L344.2,128.9 L344.6,123.9 L347.1,119.8 L349.2,116.5 L349.9,113.8 L351.2,111.7 L352.8,111.1 Z" fill="#363636"/>
<path d="M352.8,110.6 L354.2,111.2 L355.4,113.3 L356.0,116.0 L357.9,119.3 L360.2,123.4 L360.5,128.4 L360.4,132.5 L359.3,135.5 L356.7,136.9 L354.0,137.2 L351.5,137.2 L348.8,136.9 L346.3,135.5 L345.1,132.5 L345.0,128.4 L345.4,123.4 L347.6,119.3 L349.5,116.0 L350.1,113.3 L351.3,111.2 L352.8,110.6 Z" fill="#474747"/>
<ellipse cx="351.7" cy="124.8" rx="4.2" ry="6.7" fill="#5c5c5c" opacity="0.85"/>
<ellipse cx="349.1" cy="127.2" rx="1.3" ry="0.9" fill="#3f3f3f"/>
<ellipse cx="356.6" cy="134.7" rx="1.0" ry="1.4" fill="#535353"/>
<ellipse cx="347.5" cy="124.8" rx="0.9" ry="1.8" fill="#535353"/>
<ellipse cx="347.4" cy="131.8" rx="1.5" ry="1.8" fill="#3f3f3f"/>
<ellipse cx="348.6" cy="124.5" rx="1.2" ry="1.9" fill="#535353"/>
<ellipse cx="357.7" cy="116.3" rx="1.5" ry="2.0" fill="#595959"/>
<ellipse cx="353.8" cy="125.4" rx="1.4" ry="1.8" fill="#393939"/>
<ellipse cx="352.1" cy="124.5" rx="0.9" ry="1.1" fill="#3f3f3f"/>
<ellipse cx="347.7" cy="117.7" rx="1.4" ry="1.0" fill="#3f3f3f"/>
<ellipse cx="349.6" cy="127.7" rx="1.2" ry="1.3" fill="#3f3f3f"/>
<circle cx="349.7" cy="111.9" r="0.8" fill="#9a9a9a"/>
<ellipse cx="348.5" cy="136.9" rx="0.9" ry="1.2" fill="#b8b8b8"/>
<circle cx="355.9" cy="111.9" r="0.8" fill="#9a9a9a"/>
<ellipse cx="357.0" cy="136.9" rx="0.9" ry="1.2" fill="#b8b8b8"/>
<line x1="352.8" y1="134.8" x2="351.8" y2="143.6" stroke="#e8e8e8" stroke-width="1.4"/>
</g>
<rect x="294.0" y="109.9" width="67.1" height="33.7" filter="url(#noise)" style="mix-blend-mode:overlay"/>
<g filter="url(#bl2)">
<ellipse cx="306.0" cy="112.0" rx="3.6" ry="3.6" fill="#2222f8"/>
<ellipse cx="319.0" cy="112.0" rx="2.2" ry="2.2" fill="#2222f8"/>
<ellipse cx="299.0" cy="130.0" rx="2.2" ry="2.2" fill="#2222f8"/>
<ellipse cx="298.0" cy="116.0" rx="2.0" ry="3.0" fill="#2222f8"/>
<ellipse cx="303.0" cy="122.0" rx="0.8" ry="0.8" fill="#2222f8"/>
<ellipse cx="306.0" cy="112.0" rx="2.6" ry="2.6" fill="#20d0ff"/>
<ellipse cx="319.0" cy="112.0" rx="1.6" ry="1.6" fill="#20d0ff"/>
<ellipse cx="299.0" cy="130.0" rx="1.6" ry="1.6" fill="#20d0ff"/>
<ellipse cx="306.0" cy="112.0" rx="2.0" ry="2.0" fill="#f0e820"/>
<ellipse cx="319.0" cy="112.0" rx="1.0" ry="1.0" fill="#f0e820"/>
<ellipse cx="299.0" cy="130.0" rx="1.0" ry="1.0" fill="#f0e820"/>
<ellipse cx="306.0" cy="112.0" rx="1.4" ry="1.4" fill="#ff1000"/>
</g>
</g></g>
<g><rect x="326.5" y="146.7" width="19.4" height="27.7" fill="#4c4c4c"/>
<clipPath id="cp20"><rect x="326.5" y="146.7" width="19.4" height="27.7"/></clipPath>
<g clip-path="url(#cp20)"><g filter="url(#bl)">
<rect x="326.5" y="146.7" width="19.4" height="1.2" fill="#2a2a2a"/>
<path d="M336.0,147.8 L338.1,148.3 L339.2,150.0 L340.4,152.2 L342.7,155.0 L344.6,158.3 L346.3,162.4 L345.0,165.8 L344.4,168.3 L341.0,169.4 L337.5,169.6 L334.6,169.6 L331.1,169.4 L327.7,168.3 L327.1,165.8 L325.8,162.4 L327.5,158.3 L329.4,155.0 L331.7,152.2 L332.8,150.0 L334.0,148.3 L336.0,147.8 Z" fill="#363636"/>
<path d="M336.0,147.3 L337.9,147.8 L339.0,149.5 L340.0,151.7 L342.1,154.5 L343.8,157.8 L345.4,161.9 L344.2,165.3 L343.6,167.8 L340.6,168.9 L337.3,169.1 L334.7,169.1 L331.5,168.9 L328.5,167.8 L327.9,165.3 L326.7,161.9 L328.3,157.8 L330.0,154.5 L332.1,151.7 L333.1,149.5 L334.2,147.8 L336.0,147.3 Z" fill="#474747"/>
<ellipse cx="336.8" cy="159.2" rx="4.9" ry="5.5" fill="#5c5c5c" opacity="0.85"/>
<ellipse cx="342.1" cy="159.5" rx="1.4" ry="1.3" fill="#393939"/>
<ellipse cx="338.4" cy="162.6" rx="1.4" ry="1.3" fill="#393939"/>
<ellipse cx="332.0" cy="163.9" rx="0.7" ry="1.5" fill="#595959"/>
<ellipse cx="331.1" cy="164.7" rx="0.8" ry="1.7" fill="#595959"/>
<ellipse cx="340.6" cy="149.8" rx="1.4" ry="1.5" fill="#595959"/>
<ellipse cx="334.1" cy="160.3" rx="0.6" ry="1.6" fill="#393939"/>
<ellipse cx="338.4" cy="161.1" rx="1.2" ry="1.8" fill="#3f3f3f"/>
<ellipse cx="331.4" cy="166.5" rx="0.9" ry="1.8" fill="#393939"/>
<ellipse cx="330.9" cy="165.7" rx="1.0" ry="1.5" fill="#535353"/>
<ellipse cx="335.5" cy="150.4" rx="1.1" ry="1.9" fill="#595959"/>
<circle cx="332.5" cy="148.4" r="0.8" fill="#9a9a9a"/>
<ellipse cx="331.1" cy="168.9" rx="0.9" ry="1.2" fill="#b8b8b8"/>
<circle cx="339.6" cy="148.4" r="0.8" fill="#9a9a9a"/>
<ellipse cx="340.9" cy="168.9" rx="0.9" ry="1.2" fill="#b8b8b8"/>
<line x1="336.0" y1="167.2" x2="337.0" y2="174.4" stroke="#e8e8e8" stroke-width="1.4"/>
</g>
<rect x="326.5" y="146.7" width="19.4" height="27.7" filter="url(#noise)" style="mix-blend-mode:overlay"/>
<g filter="url(#bl2)">
</g>
</g></g>
<g><rect x="369.1" y="43.4" width="76.8" height="29.3" fill="#4c4c4c"/>
<clipPath id="cp21"><rect x="369.1" y="43.4" width="76.8" height="29.3"/></clipPath>
<g clip-path="url(#cp21)"><g filter="url(#bl)">
<rect x="369.1" y="43.4" width="76.8" height="1.2" fill="#2a2a2a"/>
<path d="M377.1,44.5 L378.5,45.1 L379.6,46.8 L380.4,49.2 L382.3,52.1 L384.4,55.6 L384.7,60.0 L384.4,63.5 L383.7,66.2 L381.1,67.3 L378.3,67.6 L375.9,67.6 L373.0,67.3 L370.5,66.2 L369.7,63.5 L369.4,60.0 L369.8,55.6 L371.9,52.1 L373.8,49.2 L374.6,46.8 L375.6,45.1 L377.1,44.5 Z" fill="#363636"/>
<path d="M377.1,44.0 L378.4,44.6 L379.3,46.3 L380.1,48.7 L381.8,51.6 L383.7,55.1 L384.0,59.5 L383.8,63.0 L383.1,65.7 L380.8,66.8 L378.2,67.1 L376.0,67.1 L373.4,66.8 L371.1,65.7 L370.4,63.0 L370.1,59.5 L370.5,55.1 L372.4,51.6 L374.1,48.7 L374.8,46.3 L375.7,44.6 L377.1,44.0 Z" fill="#474747"/>
<ellipse cx="377.0" cy="57.0" rx="3.9" ry="5.9" fill="#5c5c5c" opacity="0.85"/>
<ellipse cx="381.9" cy="64.0" rx="1.1" ry="1.7" fill="#393939"/>
<ellipse cx="379.4" cy="60.0" rx="0.8" ry="1.7" fill="#535353"/>
<ellipse cx="378.9" cy="49.5" rx="1.0" ry="1.8" fill="#535353"/>
<ellipse cx="381.4" cy="59.6" rx="1.1" ry="1.3" fill="#393939"/>
<ellipse cx="373.4" cy="47.8" rx="1.5" ry="1.5" fill="#595959"/>
<ellipse cx="377.5" cy="52.7" rx="0.8" ry="1.9" fill="#393939"/>
<ellipse cx="373.2" cy="58.4" rx="0.8" ry="1.6" fill="#3f3f3f"/>
<ellipse cx="377.6" cy="58.1" rx="1.2" ry="1.3" fill="#3f3f3f"/>
<ellipse cx="380.7" cy="59.3" rx="1.0" ry="1.8" fill="#535353"/>
<ellipse cx="378.0" cy="56.3" rx="1.5" ry="1.9" fill="#595959"/>
<circle cx="374.3" cy="45.2" r="0.8" fill="#9a9a9a"/>
<ellipse cx="373.2" cy="66.8" rx="0.9" ry="1.2" fill="#b8b8b8"/>
<circle cx="379.9" cy="45.2" r="0.8" fill="#9a9a9a"/>
<ellipse cx="381.0" cy="66.8" rx="0.9" ry="1.2" fill="#b8b8b8"/>
<line x1="377.1" y1="65.1" x2="377.4" y2="72.7" stroke="#e8e8e8" stroke-width="1.4"/>
<path d="M392.5,44.5 L394.0,45.1 L395.0,46.8 L395.7,49.2 L398.2,52.1 L399.5,55.6 L400.1,60.0 L400.2,63.5 L398.6,66.2 L396.3,67.3 L393.6,67.6 L391.3,67.6 L388.7,67.3 L386.4,66.2 L384.8,63.5 L384.9,60.0 L385.4,55.6 L386.8,52.1 L389.2,49.2 L389.9,46.8 L390.9,45.1 L392.5,44.5 Z" fill="#363636"/>
<path d="M392.5,44.0 L393.9,44.6 L394.8,46.3 L395.4,48.7 L397.7,51.6 L398.9,55.1 L399.4,59.5 L399.5,63.0 L398.0,65.7 L395.9,66.8 L393.5,67.1 L391.4,67.1 L389.0,66.8 L386.9,65.7 L385.5,63.0 L385.6,59.5 L386.1,55.1 L387.3,51.6 L389.5,48.7 L390.1,46.3 L391.1,44.6 L392.5,44.0 Z" fill="#474747"/>
<ellipse cx="393.7" cy="56.9" rx="3.9" ry="5.9" fill="#5c5c5c" opacity="0.85"/>
<ellipse cx="389.5" cy="52.5" rx="1.1" ry="1.6" fill="#393939"/>
<ellipse cx="392.4" cy="53.8" rx="1.1" ry="1.7" fill="#393939"/>
<ellipse cx="390.3" cy="49.9" rx="0.7" ry="1.2" fill="#535353"/>
<ellipse cx="391.2" cy="60.4" rx="1.2" ry="1.0" fill="#535353"/>
<ellipse cx="392.1" cy="63.8" rx="0.7" ry="2.0" fill="#3f3f3f"/>
<ellipse cx="396.6" cy="59.8" rx="1.2" ry="1.4" fill="#535353"/>
<ellipse cx="392.8" cy="62.3" rx="1.4" ry="1.3" fill="#393939"/>
<ellipse cx="391.7" cy="57.4" rx="1.0" ry="1.0" fill="#595959"/>
<ellipse cx="395.1" cy="59.7" rx="1.3" ry="1.9" fill="#3f3f3f"/>
<ellipse cx="389.9" cy="59.5" rx="1.3" ry="1.7" fill="#535353"/>
<circle cx="389.7" cy="45.2" r="0.8" fill="#9a9a9a"/>
<ellipse cx="388.6" cy="66.8" rx="0.9" ry="1.2" fill="#b8b8b8"/>
<circle cx="395.3" cy="45.2" r="0.8" fill="#9a9a9a"/>
<ellipse cx="396.4" cy="66.8" rx="0.9" ry="1.2" fill="#b8b8b8"/>
<line x1="392.5" y1="65.1" x2="392.9" y2="72.7" stroke="#e8e8e8" stroke-width="1.4"/>
<path d="M407.9,44.5 L409.5,45.1 L410.5,46.8 L411.3,49.2 L413.2,52.1 L414.9,55.6 L415.5,60.0 L415.8,63.5 L414.0,66.2 L411.7,67.3 L409.1,67.6 L406.8,67.6 L404.2,67.3 L401.8,66.2 L400.1,63.5 L400.4,60.0 L400.9,55.6 L402.6,52.1 L404.6,49.2 L405.3,46.8 L406.3,45.1 L407.9,44.5 Z" fill="#363636"/>
<path d="M407.9,44.0 L409.4,44.6 L410.3,46.3 L411.0,48.7 L412.7,51.6 L414.3,55.1 L414.8,59.5 L415.0,63.0 L413.5,65.7 L411.3,66.8 L409.0,67.1 L406.9,67.1 L404.5,66.8 L402.4,65.7 L400.8,63.0 L401.1,59.5 L401.6,55.1 L403.1,51.6 L404.9,48.7 L405.6,46.3 L406.5,44.6 L407.9,44.0 Z" fill="#474747"/>
<ellipse cx="408.8" cy="58.3" rx="3.9" ry="5.9" fill="#5c5c5c" opacity="0.85"/>
<ellipse cx="404.7" cy="46.6" rx="1.0" ry="1.8" fill="#595959"/>
<ellipse cx="408.4" cy="59.3" rx="1.0" ry="1.9" fill="#393939"/>
<ellipse cx="410.6" cy="56.9" rx="0.7" ry="1.5" fill="#535353"/>
<ellipse cx="406.7" cy="59.1" rx="1.5" ry="2.0" fill="#393939"/>
<ellipse cx="406.9" cy="65.1" rx="0.9" ry="1.2" fill="#595959"/>
<ellipse cx="408.2" cy="62.4" rx="0.8" ry="1.5" fill="#393939"/>
<ellipse cx="404.1" cy="46.5" rx="1.2" ry="2.0" fill="#595959"/>
<ellipse cx="407.4" cy="48.2" rx="1.5" ry="1.2" fill="#393939"/>
<ellipse cx="406.0" cy="49.1" rx="1.0" ry="1.1" fill="#393939"/>
<ellipse cx="403.1" cy="54.5" rx="0.7" ry="1.5" fill="#393939"/>
<circle cx="405.1" cy="45.2" r="0.8" fill="#9a9a9a"/>
<ellipse cx="404.0" cy="66.8" rx="0.9" ry="1.2" fill="#b8b8b8"/>
<circle cx="410.8" cy="45.2" r="0.8" fill="#9a9a9a"/>
<ellipse cx="411.8" cy="66.8" rx="0.9" ry="1.2" fill="#b8b8b8"/>
<line x1="407.9" y1="65.1" x2="407.2" y2="72.7" stroke="#e8e8e8" stroke-width="1.4"/>
<path d="M423.3,44.5 L424.9,45.1 L425.8,46.8 L426.6,49.2 L428.6,52.1 L430.6,55.6 L431.1,60.0 L431.0,63.5 L429.9,66.2 L427.1,67.3 L424.5,67.6 L422.1,67.6 L419.6,67.3 L416.8,66.2 L415.7,63.5 L415.6,60.0 L416.1,55.6 L418.1,52.1 L420.0,49.2 L420.9,46.8 L421.8,45.1 L423.3,44.5 Z" fill="#363636"/>
<path d="M423.3,44.0 L424.7,44.6 L425.6,46.3 L426.3,48.7 L428.1,51.6 L430.0,55.1 L430.4,59.5 L430.3,63.0 L429.3,65.7 L426.8,66.8 L424.4,67.1 L422.3,67.1 L419.9,66.8 L417.4,65.7 L416.4,63.0 L416.3,59.5 L416.7,55.1 L418.6,51.6 L420.3,48.7 L421.1,46.3 L421.9,44.6 L423.3,44.0 Z" fill="#474747"/>
<ellipse cx="422.6" cy="55.9" rx="3.9" ry="5.9" fill="#5c5c5c" opacity="0.85"/>
<ellipse cx="427.4" cy="47.2" rx="1.0" ry="0.8" fill="#595959"/>
<ellipse cx="419.6" cy="59.8" rx="0.7" ry="1.9" fill="#3f3f3f"/>
<ellipse cx="419.3" cy="56.9" rx="1.0" ry="1.6" fill="#3f3f3f"/>
<ellipse cx="427.1" cy="52.4" rx="0.9" ry="0.9" fill="#393939"/>
<ellipse cx="428.2" cy="58.9" rx="1.0" ry="1.2" fill="#535353"/>
<ellipse cx="425.2" cy="57.1" rx="0.7" ry="1.2" fill="#535353"/>
<ellipse cx="425.2" cy="63.6" rx="1.1" ry="1.3" fill="#595959"/>
<ellipse cx="426.6" cy="60.3" rx="1.2" ry="1.2" fill="#595959"/>
<ellipse cx="420.2" cy="51.5" rx="1.2" ry="1.9" fill="#595959"/>
<ellipse cx="422.5" cy="47.6" rx="0.8" ry="1.7" fill="#3f3f3f"/>
<circle cx="420.5" cy="45.2" r="0.8" fill="#9a9a9a"/>
<ellipse cx="419.5" cy="66.8" rx="0.9" ry="1.2" fill="#b8b8b8"/>
<circle cx="426.2" cy="45.2" r="0.8" fill="#9a9a9a"/>
<ellipse cx="427.2" cy="66.8" rx="0.9" ry="1.2" fill="#b8b8b8"/>
<line x1="423.3" y1="65.1" x2="423.3" y2="72.7" stroke="#e8e8e8" stroke-width="1.4"/>
<path d="M438.2,44.5 L439.7,45.1 L440.8,46.8 L441.4,49.2 L443.8,52.1 L445.6,55.6 L446.0,60.0 L446.0,63.5 L444.1,66.2 L442.0,67.3 L439.3,67.6 L437.0,67.6 L434.3,67.3 L432.2,66.2 L430.3,63.5 L430.3,60.0 L430.7,55.6 L432.5,52.1 L434.9,49.2 L435.5,46.8 L436.6,45.1 L438.2,44.5 Z" fill="#363636"/>
<path d="M438.2,44.0 L439.5,44.6 L440.6,46.3 L441.1,48.7 L443.3,51.6 L444.9,55.1 L445.2,59.5 L445.3,63.0 L443.6,65.7 L441.6,66.8 L439.2,67.1 L437.1,67.1 L434.7,66.8 L432.7,65.7 L431.0,63.0 L431.1,59.5 L431.4,55.1 L433.0,51.6 L435.2,48.7 L435.8,46.3 L436.8,44.6 L438.2,44.0 Z" fill="#474747"/>
<ellipse cx="437.1" cy="58.0" rx="3.9" ry="5.9" fill="#5c5c5c" opacity="0.85"/>
<ellipse cx="434.7" cy="57.4" rx="1.1" ry="1.7" fill="#535353"/>
<ellipse cx="441.6" cy="54.7" rx="1.2" ry="1.6" fill="#595959"/>
<ellipse cx="434.0" cy="64.9" rx="1.4" ry="0.8" fill="#393939"/>
<ellipse cx="433.2" cy="60.5" rx="0.7" ry="1.5" fill="#535353"/>
<ellipse cx="439.4" cy="51.2" rx="0.7" ry="1.3" fill="#535353"/>
<ellipse cx="440.5" cy="48.2" rx="0.7" ry="1.2" fill="#535353"/>
<ellipse cx="441.3" cy="54.6" rx="1.3" ry="0.9" fill="#595959"/>
<ellipse cx="441.4" cy="48.8" rx="0.8" ry="1.6" fill="#393939"/>
<ellipse cx="436.4" cy="47.1" rx="0.9" ry="1.5" fill="#535353"/>
<ellipse cx="437.1" cy="52.9" rx="0.9" ry="1.4" fill="#595959"/>
<circle cx="435.3" cy="45.2" r="0.8" fill="#9a9a9a"/>
<ellipse cx="434.3" cy="66.8" rx="0.9" ry="1.2" fill="#b8b8b8"/>
<circle cx="441.0" cy="45.2" r="0.8" fill="#9a9a9a"/>
<ellipse cx="442.0" cy="66.8" rx="0.9" ry="1.2" fill="#b8b8b8"/>
<line x1="438.2" y1="65.1" x2="437.8" y2="72.7" stroke="#e8e8e8" stroke-width="1.4"/>
</g>
<rect x="369.1" y="43.4" width="76.8" height="29.3" filter="url(#noise)" style="mix-blend-mode:overlay"/>
<g filter="url(#bl2)">
<ellipse cx="377.7" cy="56.5" rx="2.1" ry="1.8" fill="#2222f8"/>
<ellipse cx="381.0" cy="57.0" rx="1.0" ry="1.0" fill="#2222f8"/>
<ellipse cx="437.8" cy="56.0" rx="3.2" ry="3.2" fill="#2222f8"/>
<ellipse cx="409.5" cy="57.7" rx="0.8" ry="0.8" fill="#2222f8"/>
<ellipse cx="422.5" cy="56.5" rx="0.8" ry="0.8" fill="#2222f8"/>
<ellipse cx="395.0" cy="60.0" rx="0.7" ry="0.7" fill="#2222f8"/>
<ellipse cx="377.7" cy="56.5" rx="1.5" ry="1.2" fill="#20d0ff"/>
<ellipse cx="437.8" cy="56.0" rx="2.2" ry="2.2" fill="#20d0ff"/>
<ellipse cx="437.8" cy="56.0" rx="1.6" ry="1.6" fill="#f0e820"/>
<ellipse cx="437.8" cy="56.0" rx="1.0" ry="1.0" fill="#ff1000"/>
</g>
</g></g>
<g><rect x="369.0" y="75.2" width="79.3" height="31.8" fill="#4c4c4c"/>
<clipPath id="cp22"><rect x="369.0" y="75.2" width="79.3" height="31.8"/></clipPath>
<g clip-path="url(#cp22)"><g filter="url(#bl)">
<rect x="369.0" y="75.2" width="79.3" height="1.2" fill="#2a2a2a"/>
<path d="M377.4,76.3 L379.0,77.0 L379.9,78.9 L380.8,81.4 L382.8,84.6 L385.1,88.4 L385.3,93.2 L385.5,97.0 L384.0,99.9 L381.3,101.1 L378.6,101.5 L376.2,101.5 L373.4,101.1 L370.7,99.9 L369.2,97.0 L369.5,93.2 L369.6,88.4 L371.9,84.6 L374.0,81.4 L374.8,78.9 L375.7,77.0 L377.4,76.3 Z" fill="#363636"/>
<path d="M377.4,75.8 L378.9,76.5 L379.7,78.4 L380.5,80.9 L382.3,84.1 L384.4,87.9 L384.5,92.7 L384.8,96.5 L383.4,99.4 L380.9,100.6 L378.5,101.0 L376.3,101.0 L373.8,100.6 L371.3,99.4 L370.0,96.5 L370.2,92.7 L370.3,87.9 L372.4,84.1 L374.3,80.9 L375.1,78.4 L375.9,76.5 L377.4,75.8 Z" fill="#474747"/>
<ellipse cx="378.4" cy="90.4" rx="4.0" ry="6.4" fill="#5c5c5c" opacity="0.85"/>
<ellipse cx="380.7" cy="90.1" rx="0.7" ry="1.8" fill="#3f3f3f"/>
<ellipse cx="378.8" cy="91.8" rx="1.0" ry="1.1" fill="#535353"/>
<ellipse cx="379.5" cy="86.0" rx="1.4" ry="1.6" fill="#393939"/>
<ellipse cx="376.2" cy="98.1" rx="1.2" ry="1.3" fill="#595959"/>
<ellipse cx="377.4" cy="79.3" rx="1.3" ry="1.5" fill="#3f3f3f"/>
<ellipse cx="377.0" cy="95.0" rx="1.0" ry="2.0" fill="#393939"/>
<ellipse cx="376.7" cy="91.1" rx="1.1" ry="1.9" fill="#535353"/>
<ellipse cx="376.5" cy="80.8" rx="1.0" ry="1.4" fill="#393939"/>
<ellipse cx="378.7" cy="84.4" rx="1.2" ry="1.4" fill="#393939"/>
<ellipse cx="380.0" cy="88.5" rx="0.7" ry="1.4" fill="#595959"/>
<circle cx="374.5" cy="77.1" r="0.8" fill="#9a9a9a"/>
<ellipse cx="373.4" cy="100.6" rx="0.9" ry="1.2" fill="#b8b8b8"/>
<circle cx="380.3" cy="77.1" r="0.8" fill="#9a9a9a"/>
<ellipse cx="381.4" cy="100.6" rx="0.9" ry="1.2" fill="#b8b8b8"/>
<line x1="377.4" y1="98.7" x2="378.0" y2="107.0" stroke="#e8e8e8" stroke-width="1.4"/>
<path d="M392.5,76.3 L394.1,77.0 L395.4,78.9 L396.0,81.4 L398.1,84.6 L399.7,88.4 L400.9,93.2 L400.4,97.0 L399.0,99.9 L396.8,101.1 L393.7,101.5 L391.3,101.5 L388.3,101.1 L386.1,99.9 L384.7,97.0 L384.2,93.2 L385.4,88.4 L387.0,84.6 L389.1,81.4 L389.7,78.9 L391.0,77.0 L392.5,76.3 Z" fill="#363636"/>
<path d="M392.5,75.8 L394.0,76.5 L395.1,78.4 L395.7,80.9 L397.6,84.1 L399.0,87.9 L400.1,92.7 L399.7,96.5 L398.4,99.4 L396.4,100.6 L393.6,101.0 L391.5,101.0 L388.7,100.6 L386.7,99.4 L385.4,96.5 L385.0,92.7 L386.1,87.9 L387.5,84.1 L389.4,80.9 L390.0,78.4 L391.1,76.5 L392.5,75.8 Z" fill="#474747"/>
<ellipse cx="391.8" cy="90.6" rx="4.0" ry="6.4" fill="#5c5c5c" opacity="0.85"/>
<ellipse cx="394.3" cy="79.5" rx="1.2" ry="1.5" fill="#595959"/>
<ellipse cx="391.8" cy="95.4" rx="0.9" ry="1.4" fill="#393939"/>
<ellipse cx="392.3" cy="82.2" rx="1.4" ry="1.6" fill="#393939"/>
<ellipse cx="387.5" cy="86.8" rx="0.7" ry="1.4" fill="#595959"/>
<ellipse cx="394.4" cy="89.4" rx="0.7" ry="1.8" fill="#535353"/>
<ellipse cx="389.3" cy="96.6" rx="1.1" ry="1.7" fill="#393939"/>
<ellipse cx="388.6" cy="98.5" rx="1.4" ry="1.0" fill="#535353"/>
<ellipse cx="394.8" cy="86.2" rx="1.2" ry="1.3" fill="#393939"/>
<ellipse cx="397.1" cy="87.4" rx="0.7" ry="1.8" fill="#595959"/>
<ellipse cx="394.9" cy="85.9" rx="0.7" ry="0.9" fill="#3f3f3f"/>
<circle cx="389.6" cy="77.1" r="0.8" fill="#9a9a9a"/>
<ellipse cx="388.5" cy="100.6" rx="0.9" ry="1.2" fill="#b8b8b8"/>
<circle cx="395.5" cy="77.1" r="0.8" fill="#9a9a9a"/>
<ellipse cx="396.6" cy="100.6" rx="0.9" ry="1.2" fill="#b8b8b8"/>
<line x1="392.5" y1="98.7" x2="392.8" y2="107.0" stroke="#e8e8e8" stroke-width="1.4"/>
<path d="M408.3,76.3 L409.9,77.0 L411.1,78.9 L411.8,81.4 L414.1,84.6 L415.4,88.4 L415.9,93.2 L416.1,97.0 L414.6,99.9 L412.5,101.1 L409.5,101.5 L407.1,101.5 L404.2,101.1 L402.1,99.9 L400.6,97.0 L400.7,93.2 L401.3,88.4 L402.6,84.6 L404.9,81.4 L405.6,78.9 L406.8,77.0 L408.3,76.3 Z" fill="#363636"/>
<path d="M408.3,75.8 L409.7,76.5 L410.8,78.4 L411.5,80.9 L413.6,84.1 L414.8,87.9 L415.2,92.7 L415.4,96.5 L414.0,99.4 L412.1,100.6 L409.4,101.0 L407.2,101.0 L404.6,100.6 L402.7,99.4 L401.3,96.5 L401.4,92.7 L401.9,87.9 L403.1,84.1 L405.2,80.9 L405.9,78.4 L406.9,76.5 L408.3,75.8 Z" fill="#474747"/>
<ellipse cx="409.4" cy="90.8" rx="4.0" ry="6.4" fill="#5c5c5c" opacity="0.85"/>
<ellipse cx="409.9" cy="95.5" rx="0.9" ry="0.9" fill="#3f3f3f"/>
<ellipse cx="410.4" cy="92.1" rx="1.0" ry="1.9" fill="#393939"/>
<ellipse cx="407.1" cy="81.3" rx="1.5" ry="1.3" fill="#535353"/>
<ellipse cx="404.8" cy="88.6" rx="1.3" ry="1.9" fill="#595959"/>
<ellipse cx="406.2" cy="87.4" rx="0.8" ry="1.3" fill="#3f3f3f"/>
<ellipse cx="409.6" cy="84.8" rx="1.1" ry="1.2" fill="#535353"/>
<ellipse cx="413.2" cy="85.0" rx="1.4" ry="1.0" fill="#535353"/>
<ellipse cx="403.5" cy="87.5" rx="1.2" ry="1.1" fill="#3f3f3f"/>
<ellipse cx="407.3" cy="79.7" rx="1.0" ry="1.2" fill="#595959"/>
<ellipse cx="412.7" cy="98.9" rx="1.4" ry="1.6" fill="#595959"/>
<circle cx="405.4" cy="77.1" r="0.8" fill="#9a9a9a"/>
<ellipse cx="404.3" cy="100.6" rx="0.9" ry="1.2" fill="#b8b8b8"/>
<circle cx="411.3" cy="77.1" r="0.8" fill="#9a9a9a"/>
<ellipse cx="412.4" cy="100.6" rx="0.9" ry="1.2" fill="#b8b8b8"/>
<line x1="408.3" y1="98.7" x2="407.4" y2="107.0" stroke="#e8e8e8" stroke-width="1.4"/>
<path d="M424.4,76.3 L426.1,77.0 L427.1,78.9 L427.8,81.4 L430.3,84.6 L431.6,88.4 L432.4,93.2 L432.6,97.0 L430.9,99.9 L428.5,101.1 L425.7,101.5 L423.2,101.5 L420.4,101.1 L418.0,99.9 L416.3,97.0 L416.5,93.2 L417.2,88.4 L418.6,84.6 L421.1,81.4 L421.8,78.9 L422.8,77.0 L424.4,76.3 Z" fill="#363636"/>
<path d="M424.4,75.8 L425.9,76.5 L426.8,78.4 L427.5,80.9 L429.8,84.1 L431.0,87.9 L431.7,92.7 L431.8,96.5 L430.3,99.4 L428.1,100.6 L425.5,101.0 L423.3,101.0 L420.8,100.6 L418.6,99.4 L417.0,96.5 L417.2,92.7 L417.9,87.9 L419.1,84.1 L421.4,80.9 L422.0,78.4 L422.9,76.5 L424.4,75.8 Z" fill="#474747"/>
<ellipse cx="424.0" cy="90.2" rx="4.0" ry="6.4" fill="#5c5c5c" opacity="0.85"/>
<ellipse cx="423.6" cy="95.6" rx="1.3" ry="1.5" fill="#595959"/>
<ellipse cx="426.4" cy="86.4" rx="0.9" ry="1.3" fill="#3f3f3f"/>
<ellipse cx="426.5" cy="87.9" rx="1.1" ry="1.4" fill="#595959"/>
<ellipse cx="426.5" cy="79.8" rx="1.1" ry="1.4" fill="#3f3f3f"/>
<ellipse cx="426.8" cy="87.6" rx="1.5" ry="1.8" fill="#595959"/>
<ellipse cx="423.5" cy="85.5" rx="0.9" ry="1.1" fill="#595959"/>
<ellipse cx="425.7" cy="89.1" rx="1.3" ry="1.4" fill="#393939"/>
<ellipse cx="426.9" cy="88.6" rx="1.0" ry="1.9" fill="#3f3f3f"/>
<ellipse cx="429.4" cy="90.1" rx="1.3" ry="1.6" fill="#393939"/>
<ellipse cx="428.3" cy="94.1" rx="0.8" ry="1.7" fill="#3f3f3f"/>
<circle cx="421.5" cy="77.1" r="0.8" fill="#9a9a9a"/>
<ellipse cx="420.4" cy="100.6" rx="0.9" ry="1.2" fill="#b8b8b8"/>
<circle cx="427.3" cy="77.1" r="0.8" fill="#9a9a9a"/>
<ellipse cx="428.4" cy="100.6" rx="0.9" ry="1.2" fill="#b8b8b8"/>
<line x1="424.4" y1="98.7" x2="423.9" y2="107.0" stroke="#e8e8e8" stroke-width="1.4"/>
<path d="M440.5,76.3 L442.0,77.0 L443.2,78.9 L443.9,81.4 L445.9,84.6 L447.7,88.4 L448.6,93.2 L448.4,97.0 L446.8,99.9 L444.3,101.1 L441.6,101.5 L439.3,101.5 L436.7,101.1 L434.2,99.9 L432.6,97.0 L432.4,93.2 L433.3,88.4 L435.0,84.6 L437.1,81.4 L437.7,78.9 L439.0,77.0 L440.5,76.3 Z" fill="#363636"/>
<path d="M440.5,75.8 L441.9,76.5 L443.0,78.4 L443.6,80.9 L445.4,84.1 L447.0,87.9 L447.8,92.7 L447.7,96.5 L446.2,99.4 L443.9,100.6 L441.5,101.0 L439.4,101.0 L437.0,100.6 L434.7,99.4 L433.3,96.5 L433.1,92.7 L433.9,87.9 L435.5,84.1 L437.4,80.9 L438.0,78.4 L439.1,76.5 L440.5,75.8 Z" fill="#474747"/>
<ellipse cx="440.8" cy="89.5" rx="4.0" ry="6.4" fill="#5c5c5c" opacity="0.85"/>
<ellipse cx="443.2" cy="93.4" rx="1.2" ry="1.0" fill="#535353"/>
<ellipse cx="439.7" cy="83.1" rx="0.8" ry="1.6" fill="#535353"/>
<ellipse cx="436.8" cy="98.5" rx="1.4" ry="1.6" fill="#3f3f3f"/>
<ellipse cx="437.6" cy="93.5" rx="0.7" ry="1.8" fill="#595959"/>
<ellipse cx="441.1" cy="92.0" rx="1.0" ry="1.9" fill="#535353"/>
<ellipse cx="445.5" cy="85.5" rx="1.1" ry="1.0" fill="#3f3f3f"/>
<ellipse cx="439.9" cy="84.3" rx="1.3" ry="0.8" fill="#393939"/>
<ellipse cx="441.6" cy="86.8" rx="0.8" ry="1.4" fill="#595959"/>
<ellipse cx="437.6" cy="78.7" rx="0.9" ry="1.2" fill="#535353"/>
<ellipse cx="444.9" cy="86.0" rx="0.7" ry="1.3" fill="#3f3f3f"/>
<circle cx="437.6" cy="77.1" r="0.8" fill="#9a9a9a"/>
<ellipse cx="436.5" cy="100.6" rx="0.9" ry="1.2" fill="#b8b8b8"/>
<circle cx="443.4" cy="77.1" r="0.8" fill="#9a9a9a"/>
<ellipse cx="444.5" cy="100.6" rx="0.9" ry="1.2" fill="#b8b8b8"/>
<line x1="440.5" y1="98.7" x2="441.4" y2="107.0" stroke="#e8e8e8" stroke-width="1.4"/>
</g>
<rect x="369.0" y="75.2" width="79.3" height="31.8" filter="url(#noise)" style="mix-blend-mode:overlay"/>
<g filter="url(#bl2)">
<circle cx="395.1" cy="97.1" r="1.0" fill="#2a2aff"/>
<circle cx="388.1" cy="87.6" r="0.7" fill="#7000e0"/>
<circle cx="391.8" cy="87.6" r="0.5" fill="#7000e0"/>
<circle cx="392.7" cy="90.7" r="0.6" fill="#2a2aff"/>
<circle cx="388.0" cy="96.8" r="0.9" fill="#30b8ff"/>
<circle cx="396.1" cy="84.9" r="0.8" fill="#2a2aff"/>
<circle cx="393.7" cy="89.9" r="0.8" fill="#2a2aff"/>
<circle cx="395.4" cy="90.6" r="0.6" fill="#30b8ff"/>
<ellipse cx="377.7" cy="87.2" rx="3.4" ry="3.8" fill="#2222f8"/>
<ellipse cx="440.2" cy="90.7" rx="3.4" ry="3.4" fill="#2222f8"/>
<ellipse cx="443.0" cy="89.0" rx="2.2" ry="2.7" fill="#2222f8"/>
<ellipse cx="442.5" cy="77.7" rx="2.2" ry="2.2" fill="#2222f8"/>
<ellipse cx="437.8" cy="96.6" rx="1.5" ry="1.5" fill="#2222f8"/>
<ellipse cx="445.0" cy="92.0" rx="1.6" ry="1.6" fill="#2222f8"/>
<ellipse cx="371.0" cy="78.0" rx="1.5" ry="1.5" fill="#2222f8"/>
<ellipse cx="377.7" cy="87.2" rx="2.4" ry="2.8" fill="#20d0ff"/>
<ellipse cx="440.2" cy="90.7" rx="2.4" ry="2.4" fill="#20d0ff"/>
<ellipse cx="443.0" cy="89.0" rx="1.6" ry="2.1" fill="#20d0ff"/>
<ellipse cx="442.5" cy="77.7" rx="1.6" ry="1.6" fill="#20d0ff"/>
<ellipse cx="445.0" cy="92.0" rx="1.0" ry="1.0" fill="#20d0ff"/>
<ellipse cx="377.7" cy="87.2" rx="1.8" ry="2.2" fill="#f0e820"/>
<ellipse cx="440.2" cy="90.7" rx="1.8" ry="1.8" fill="#f0e820"/>
<ellipse cx="443.0" cy="89.0" rx="1.0" ry="1.5" fill="#f0e820"/>
<ellipse cx="442.5" cy="77.7" rx="1.0" ry="1.0" fill="#f0e820"/>
<ellipse cx="377.7" cy="87.2" rx="1.2" ry="1.6" fill="#ff1000"/>
<ellipse cx="440.2" cy="90.7" rx="1.2" ry="1.2" fill="#ff1000"/>
</g>
</g></g>
<g><rect x="368.3" y="109.1" width="80.1" height="37.1" fill="#4c4c4c"/>
<clipPath id="cp23"><rect x="368.3" y="109.1" width="80.1" height="37.1"/></clipPath>
<g clip-path="url(#cp23)"><g filter="url(#bl)">
<rect x="368.3" y="109.1" width="80.1" height="1.2" fill="#2a2a2a"/>
<path d="M376.2,110.3 L377.9,111.1 L378.8,113.3 L379.5,116.3 L381.7,120.0 L383.7,124.4 L384.6,130.0 L383.6,134.5 L383.2,137.8 L380.4,139.3 L377.5,139.7 L375.0,139.7 L372.1,139.3 L369.2,137.8 L368.9,134.5 L367.9,130.0 L368.7,124.4 L370.8,120.0 L372.9,116.3 L373.7,113.3 L374.5,111.1 L376.2,110.3 Z" fill="#363636"/>
<path d="M376.2,109.8 L377.8,110.6 L378.6,112.8 L379.2,115.8 L381.2,119.5 L383.1,123.9 L383.8,129.5 L382.9,134.0 L382.6,137.3 L380.0,138.8 L377.4,139.2 L375.1,139.2 L372.5,138.8 L369.9,137.3 L369.6,134.0 L368.6,129.5 L369.4,123.9 L371.3,119.5 L373.2,115.8 L373.9,112.8 L374.7,110.6 L376.2,109.8 Z" fill="#474747"/>
<ellipse cx="376.0" cy="125.9" rx="4.1" ry="7.4" fill="#5c5c5c" opacity="0.85"/>
<ellipse cx="372.0" cy="119.1" rx="0.9" ry="1.9" fill="#3f3f3f"/>
<ellipse cx="379.7" cy="135.0" rx="1.4" ry="1.0" fill="#3f3f3f"/>
<ellipse cx="378.9" cy="119.3" rx="1.1" ry="1.7" fill="#393939"/>
<ellipse cx="372.1" cy="122.9" rx="0.8" ry="1.7" fill="#535353"/>
<ellipse cx="380.1" cy="122.9" rx="1.0" ry="1.6" fill="#3f3f3f"/>
<ellipse cx="378.2" cy="114.8" rx="0.8" ry="1.1" fill="#595959"/>
<ellipse cx="378.5" cy="134.9" rx="1.1" ry="1.6" fill="#535353"/>
<ellipse cx="381.0" cy="135.8" rx="0.9" ry="1.5" fill="#393939"/>
<ellipse cx="376.7" cy="113.9" rx="0.9" ry="1.8" fill="#393939"/>
<ellipse cx="378.5" cy="124.8" rx="1.4" ry="1.5" fill="#535353"/>
<circle cx="373.3" cy="111.3" r="0.8" fill="#9a9a9a"/>
<ellipse cx="372.2" cy="138.8" rx="0.9" ry="1.2" fill="#b8b8b8"/>
<circle cx="379.2" cy="111.3" r="0.8" fill="#9a9a9a"/>
<ellipse cx="380.3" cy="138.8" rx="0.9" ry="1.2" fill="#b8b8b8"/>
<line x1="376.2" y1="136.6" x2="376.9" y2="146.2" stroke="#e8e8e8" stroke-width="1.4"/>
<path d="M391.9,110.3 L393.6,111.1 L394.6,113.3 L395.4,116.3 L397.6,120.0 L399.3,124.4 L399.6,130.0 L399.6,134.5 L398.7,137.8 L396.1,139.3 L393.1,139.7 L390.6,139.7 L387.7,139.3 L385.1,137.8 L384.1,134.5 L384.1,130.0 L384.5,124.4 L386.2,120.0 L388.3,116.3 L389.2,113.3 L390.2,111.1 L391.9,110.3 Z" fill="#363636"/>
<path d="M391.9,109.8 L393.4,110.6 L394.3,112.8 L395.1,115.8 L397.1,119.5 L398.6,123.9 L398.9,129.5 L398.9,134.0 L398.1,137.3 L395.7,138.8 L393.0,139.2 L390.7,139.2 L388.1,138.8 L385.7,137.3 L384.8,134.0 L384.8,129.5 L385.1,123.9 L386.7,119.5 L388.7,115.8 L389.4,112.8 L390.3,110.6 L391.9,109.8 Z" fill="#474747"/>
<ellipse cx="391.9" cy="127.8" rx="4.1" ry="7.4" fill="#5c5c5c" opacity="0.85"/>
<ellipse cx="390.5" cy="113.3" rx="1.2" ry="1.3" fill="#595959"/>
<ellipse cx="395.1" cy="125.0" rx="1.3" ry="1.0" fill="#595959"/>
<ellipse cx="395.5" cy="126.5" rx="0.9" ry="1.4" fill="#3f3f3f"/>
<ellipse cx="397.0" cy="134.1" rx="0.7" ry="1.0" fill="#595959"/>
<ellipse cx="392.8" cy="129.1" rx="1.4" ry="1.0" fill="#3f3f3f"/>
<ellipse cx="387.2" cy="125.8" rx="1.2" ry="1.5" fill="#535353"/>
<ellipse cx="396.4" cy="121.4" rx="0.9" ry="1.9" fill="#535353"/>
<ellipse cx="389.3" cy="120.1" rx="1.0" ry="1.9" fill="#3f3f3f"/>
<ellipse cx="386.9" cy="128.2" rx="1.1" ry="1.2" fill="#393939"/>
<ellipse cx="392.4" cy="128.6" rx="0.7" ry="1.2" fill="#393939"/>
<circle cx="388.9" cy="111.3" r="0.8" fill="#9a9a9a"/>
<ellipse cx="387.8" cy="138.8" rx="0.9" ry="1.2" fill="#b8b8b8"/>
<circle cx="394.8" cy="111.3" r="0.8" fill="#9a9a9a"/>
<ellipse cx="395.9" cy="138.8" rx="0.9" ry="1.2" fill="#b8b8b8"/>
<line x1="391.9" y1="136.6" x2="391.3" y2="146.2" stroke="#e8e8e8" stroke-width="1.4"/>
<path d="M408.4,110.3 L410.0,111.1 L411.0,113.3 L411.6,116.3 L414.3,120.0 L415.8,124.4 L416.9,130.0 L415.7,134.5 L415.3,137.8 L412.5,139.3 L409.6,139.7 L407.1,139.7 L404.2,139.3 L401.4,137.8 L401.0,134.5 L399.9,130.0 L400.9,124.4 L402.4,120.0 L405.1,116.3 L405.7,113.3 L406.7,111.1 L408.4,110.3 Z" fill="#363636"/>
<path d="M408.4,109.8 L409.9,110.6 L410.8,112.8 L411.3,115.8 L413.7,119.5 L415.1,123.9 L416.1,129.5 L415.0,134.0 L414.7,137.3 L412.1,138.8 L409.5,139.2 L407.3,139.2 L404.6,138.8 L402.0,137.3 L401.7,134.0 L400.6,129.5 L401.6,123.9 L403.0,119.5 L405.4,115.8 L405.9,112.8 L406.9,110.6 L408.4,109.8 Z" fill="#474747"/>
<ellipse cx="408.4" cy="125.7" rx="4.1" ry="7.4" fill="#5c5c5c" opacity="0.85"/>
<ellipse cx="405.8" cy="127.1" rx="0.8" ry="1.7" fill="#393939"/>
<ellipse cx="412.7" cy="118.0" rx="1.0" ry="1.7" fill="#595959"/>
<ellipse cx="406.7" cy="136.8" rx="1.0" ry="1.0" fill="#535353"/>
<ellipse cx="406.0" cy="133.9" rx="0.8" ry="1.8" fill="#535353"/>
<ellipse cx="403.9" cy="123.3" rx="0.6" ry="0.9" fill="#535353"/>
<ellipse cx="411.7" cy="135.9" rx="0.9" ry="1.9" fill="#393939"/>
<ellipse cx="407.7" cy="121.7" rx="1.3" ry="1.6" fill="#535353"/>
<ellipse cx="406.1" cy="115.4" rx="0.7" ry="1.6" fill="#3f3f3f"/>
<ellipse cx="413.0" cy="122.5" rx="1.4" ry="1.8" fill="#3f3f3f"/>
<ellipse cx="408.8" cy="132.2" rx="0.8" ry="1.3" fill="#393939"/>
<circle cx="405.4" cy="111.3" r="0.8" fill="#9a9a9a"/>
<ellipse cx="404.3" cy="138.8" rx="0.9" ry="1.2" fill="#b8b8b8"/>
<circle cx="411.3" cy="111.3" r="0.8" fill="#9a9a9a"/>
<ellipse cx="412.4" cy="138.8" rx="0.9" ry="1.2" fill="#b8b8b8"/>
<line x1="408.4" y1="136.6" x2="407.6" y2="146.2" stroke="#e8e8e8" stroke-width="1.4"/>
<path d="M424.2,110.3 L425.8,111.1 L426.8,113.3 L427.5,116.3 L429.6,120.0 L431.2,124.4 L432.7,130.0 L431.9,134.5 L430.5,137.8 L428.1,139.3 L425.4,139.7 L422.9,139.7 L420.2,139.3 L417.8,137.8 L416.4,134.5 L415.6,130.0 L417.1,124.4 L418.7,120.0 L420.8,116.3 L421.5,113.3 L422.5,111.1 L424.2,110.3 Z" fill="#363636"/>
<path d="M424.2,109.8 L425.6,110.6 L426.6,112.8 L427.2,115.8 L429.1,119.5 L430.6,123.9 L432.0,129.5 L431.2,134.0 L429.9,137.3 L427.7,138.8 L425.3,139.2 L423.0,139.2 L420.6,138.8 L418.4,137.3 L417.1,134.0 L416.4,129.5 L417.8,123.9 L419.2,119.5 L421.1,115.8 L421.7,112.8 L422.7,110.6 L424.2,109.8 Z" fill="#474747"/>
<ellipse cx="423.2" cy="126.8" rx="4.1" ry="7.4" fill="#5c5c5c" opacity="0.85"/>
<ellipse cx="422.3" cy="135.1" rx="1.5" ry="1.2" fill="#3f3f3f"/>
<ellipse cx="419.0" cy="122.2" rx="1.3" ry="1.1" fill="#393939"/>
<ellipse cx="428.6" cy="119.3" rx="1.5" ry="2.0" fill="#595959"/>
<ellipse cx="424.8" cy="121.0" rx="1.3" ry="1.6" fill="#535353"/>
<ellipse cx="426.0" cy="122.1" rx="0.9" ry="1.1" fill="#595959"/>
<ellipse cx="420.0" cy="126.2" rx="0.9" ry="1.1" fill="#3f3f3f"/>
<ellipse cx="419.7" cy="125.6" rx="1.1" ry="1.5" fill="#595959"/>
<ellipse cx="423.1" cy="126.0" rx="0.7" ry="1.6" fill="#535353"/>
<ellipse cx="420.4" cy="114.5" rx="0.6" ry="1.3" fill="#393939"/>
<ellipse cx="424.9" cy="115.6" rx="0.9" ry="0.8" fill="#595959"/>
<circle cx="421.2" cy="111.3" r="0.8" fill="#9a9a9a"/>
<ellipse cx="420.1" cy="138.8" rx="0.9" ry="1.2" fill="#b8b8b8"/>
<circle cx="427.1" cy="111.3" r="0.8" fill="#9a9a9a"/>
<ellipse cx="428.2" cy="138.8" rx="0.9" ry="1.2" fill="#b8b8b8"/>
<line x1="424.2" y1="136.6" x2="425.2" y2="146.2" stroke="#e8e8e8" stroke-width="1.4"/>
<path d="M440.2,110.3 L441.9,111.1 L442.9,113.3 L443.4,116.3 L445.8,120.0 L448.0,124.4 L448.1,130.0 L448.1,134.5 L446.8,137.8 L444.3,139.3 L441.4,139.7 L438.9,139.7 L436.0,139.3 L433.6,137.8 L432.2,134.5 L432.2,130.0 L432.3,124.4 L434.6,120.0 L436.9,116.3 L437.4,113.3 L438.5,111.1 L440.2,110.3 Z" fill="#363636"/>
<path d="M440.2,109.8 L441.7,110.6 L442.7,112.8 L443.1,115.8 L445.2,119.5 L447.3,123.9 L447.4,129.5 L447.4,134.0 L446.2,137.3 L444.0,138.8 L441.3,139.2 L439.0,139.2 L436.4,138.8 L434.2,137.3 L432.9,134.0 L432.9,129.5 L433.0,123.9 L435.1,119.5 L437.2,115.8 L437.6,112.8 L438.6,110.6 L440.2,109.8 Z" fill="#474747"/>
<ellipse cx="439.9" cy="127.5" rx="4.1" ry="7.4" fill="#5c5c5c" opacity="0.85"/>
<ellipse cx="438.1" cy="120.5" rx="1.5" ry="1.2" fill="#3f3f3f"/>
<ellipse cx="435.9" cy="118.0" rx="1.1" ry="1.5" fill="#393939"/>
<ellipse cx="436.5" cy="116.6" rx="0.8" ry="1.9" fill="#3f3f3f"/>
<ellipse cx="441.1" cy="122.4" rx="0.7" ry="1.7" fill="#393939"/>
<ellipse cx="443.4" cy="127.0" rx="0.9" ry="0.8" fill="#393939"/>
<ellipse cx="441.1" cy="121.1" rx="1.0" ry="1.2" fill="#595959"/>
<ellipse cx="441.5" cy="123.9" rx="1.1" ry="1.6" fill="#393939"/>
<ellipse cx="440.0" cy="124.7" rx="1.5" ry="1.2" fill="#3f3f3f"/>
<ellipse cx="440.1" cy="136.3" rx="1.1" ry="1.2" fill="#3f3f3f"/>
<ellipse cx="436.8" cy="122.8" rx="0.8" ry="1.0" fill="#595959"/>
<circle cx="437.2" cy="111.3" r="0.8" fill="#9a9a9a"/>
<ellipse cx="436.1" cy="138.8" rx="0.9" ry="1.2" fill="#b8b8b8"/>
<circle cx="443.1" cy="111.3" r="0.8" fill="#9a9a9a"/>
<ellipse cx="444.2" cy="138.8" rx="0.9" ry="1.2" fill="#b8b8b8"/>
<line x1="440.2" y1="136.6" x2="440.9" y2="146.2" stroke="#e8e8e8" stroke-width="1.4"/>
</g>
<rect x="368.3" y="109.1" width="80.1" height="37.1" filter="url(#noise)" style="mix-blend-mode:overlay"/>
<g filter="url(#bl2)">
<ellipse cx="377.7" cy="122.5" rx="1.6" ry="1.8" fill="#2222f8"/>
<ellipse cx="370.6" cy="115.5" rx="1.5" ry="2.5" fill="#2222f8"/>
<ellipse cx="442.5" cy="112.0" rx="3.1" ry="3.1" fill="#2222f8"/>
<ellipse cx="440.2" cy="126.0" rx="1.8" ry="1.8" fill="#2222f8"/>
<ellipse cx="446.0" cy="110.0" rx="1.0" ry="1.0" fill="#2222f8"/>
<ellipse cx="377.7" cy="122.5" rx="1.0" ry="1.2" fill="#20d0ff"/>
<ellipse cx="442.5" cy="112.0" rx="2.1" ry="2.1" fill="#20d0ff"/>
<ellipse cx="440.2" cy="126.0" rx="1.2" ry="1.2" fill="#20d0ff"/>
<ellipse cx="442.5" cy="112.0" rx="1.5" ry="1.5" fill="#f0e820"/>
<ellipse cx="442.5" cy="112.0" rx="0.9" ry="0.9" fill="#ff1000"/>
</g>
</g></g>
<g><rect x="368.3" y="148.0" width="81.3" height="29.7" fill="#4c4c4c"/>
<clipPath id="cp24"><rect x="368.3" y="148.0" width="81.3" height="29.7"/></clipPath>
<g clip-path="url(#cp24)"><g filter="url(#bl)">
<rect x="368.3" y="148.0" width="81.3" height="1.2" fill="#2a2a2a"/>
<path d="M376.5,149.1 L378.2,149.7 L379.3,151.5 L380.1,153.8 L382.4,156.8 L383.7,160.4 L384.4,164.8 L384.0,168.4 L383.3,171.1 L380.4,172.3 L377.7,172.6 L375.3,172.6 L372.6,172.3 L369.8,171.1 L369.0,168.4 L368.6,164.8 L369.3,160.4 L370.6,156.8 L372.9,153.8 L373.7,151.5 L374.8,149.7 L376.5,149.1 Z" fill="#363636"/>
<path d="M376.5,148.6 L378.1,149.2 L379.1,151.0 L379.7,153.3 L381.9,156.3 L383.0,159.9 L383.7,164.3 L383.3,167.9 L382.6,170.6 L380.0,171.8 L377.6,172.1 L375.4,172.1 L373.0,171.8 L370.4,170.6 L369.7,167.9 L369.3,164.3 L370.0,159.9 L371.1,156.3 L373.3,153.3 L374.0,151.0 L374.9,149.2 L376.5,148.6 Z" fill="#474747"/>
<ellipse cx="377.6" cy="160.6" rx="4.1" ry="5.9" fill="#5c5c5c" opacity="0.85"/>
<ellipse cx="379.7" cy="161.9" rx="1.2" ry="1.3" fill="#535353"/>
<ellipse cx="374.0" cy="153.5" rx="0.9" ry="1.2" fill="#595959"/>
<ellipse cx="373.6" cy="159.1" rx="1.0" ry="1.9" fill="#393939"/>
<ellipse cx="375.3" cy="151.4" rx="1.0" ry="1.4" fill="#3f3f3f"/>
<ellipse cx="373.7" cy="158.7" rx="1.4" ry="1.2" fill="#595959"/>
<ellipse cx="371.7" cy="154.2" rx="0.8" ry="0.8" fill="#595959"/>
<ellipse cx="377.2" cy="169.0" rx="0.8" ry="1.1" fill="#393939"/>
<ellipse cx="378.6" cy="162.9" rx="0.7" ry="1.8" fill="#535353"/>
<ellipse cx="378.3" cy="156.7" rx="1.2" ry="2.0" fill="#595959"/>
<ellipse cx="371.4" cy="153.3" rx="1.5" ry="1.3" fill="#393939"/>
<circle cx="373.5" cy="149.8" r="0.8" fill="#9a9a9a"/>
<ellipse cx="372.4" cy="171.8" rx="0.9" ry="1.2" fill="#b8b8b8"/>
<circle cx="379.5" cy="149.8" r="0.8" fill="#9a9a9a"/>
<ellipse cx="380.6" cy="171.8" rx="0.9" ry="1.2" fill="#b8b8b8"/>
<line x1="376.5" y1="170.0" x2="376.5" y2="177.7" stroke="#e8e8e8" stroke-width="1.4"/>
<path d="M392.5,149.1 L394.2,149.7 L395.3,151.5 L396.1,153.8 L398.5,156.8 L400.0,160.4 L400.9,164.8 L400.8,168.4 L399.2,171.1 L396.8,172.3 L393.8,172.6 L391.2,172.6 L388.2,172.3 L385.8,171.1 L384.2,168.4 L384.1,164.8 L384.9,160.4 L386.4,156.8 L388.8,153.8 L389.6,151.5 L390.7,149.7 L392.5,149.1 Z" fill="#363636"/>
<path d="M392.5,148.6 L394.1,149.2 L395.1,151.0 L395.8,153.3 L398.0,156.3 L399.3,159.9 L400.1,164.3 L400.0,167.9 L398.6,170.6 L396.4,171.8 L393.6,172.1 L391.3,172.1 L388.5,171.8 L386.4,170.6 L384.9,167.9 L384.9,164.3 L385.6,159.9 L387.0,156.3 L389.1,153.3 L389.9,151.0 L390.9,149.2 L392.5,148.6 Z" fill="#474747"/>
<ellipse cx="392.0" cy="161.2" rx="4.1" ry="5.9" fill="#5c5c5c" opacity="0.85"/>
<ellipse cx="394.5" cy="154.1" rx="1.3" ry="0.9" fill="#535353"/>
<ellipse cx="394.0" cy="156.6" rx="1.1" ry="1.7" fill="#535353"/>
<ellipse cx="394.4" cy="159.5" rx="0.9" ry="2.0" fill="#3f3f3f"/>
<ellipse cx="388.6" cy="167.9" rx="0.8" ry="1.1" fill="#535353"/>
<ellipse cx="396.4" cy="166.1" rx="1.3" ry="1.0" fill="#3f3f3f"/>
<ellipse cx="392.3" cy="167.1" rx="0.8" ry="1.4" fill="#393939"/>
<ellipse cx="393.4" cy="151.2" rx="1.0" ry="1.6" fill="#3f3f3f"/>
<ellipse cx="393.0" cy="156.3" rx="1.1" ry="1.2" fill="#3f3f3f"/>
<ellipse cx="388.1" cy="165.3" rx="1.0" ry="1.7" fill="#535353"/>
<ellipse cx="395.9" cy="164.3" rx="1.5" ry="0.8" fill="#3f3f3f"/>
<circle cx="389.5" cy="149.8" r="0.8" fill="#9a9a9a"/>
<ellipse cx="388.4" cy="171.8" rx="0.9" ry="1.2" fill="#b8b8b8"/>
<circle cx="395.5" cy="149.8" r="0.8" fill="#9a9a9a"/>
<ellipse cx="396.6" cy="171.8" rx="0.9" ry="1.2" fill="#b8b8b8"/>
<line x1="392.5" y1="170.0" x2="393.5" y2="177.7" stroke="#e8e8e8" stroke-width="1.4"/>
<path d="M408.9,149.1 L410.6,149.7 L411.5,151.5 L412.4,153.8 L414.4,156.8 L416.7,160.4 L417.0,164.8 L416.7,168.4 L415.5,171.1 L413.2,172.3 L410.1,172.6 L407.6,172.6 L404.6,172.3 L402.3,171.1 L401.1,168.4 L400.8,164.8 L401.1,160.4 L403.4,156.8 L405.4,153.8 L406.3,151.5 L407.2,149.7 L408.9,149.1 Z" fill="#363636"/>
<path d="M408.9,148.6 L410.4,149.2 L411.2,151.0 L412.1,153.3 L413.9,156.3 L416.0,159.9 L416.2,164.3 L416.0,167.9 L414.9,170.6 L412.8,171.8 L410.0,172.1 L407.8,172.1 L405.0,171.8 L402.9,170.6 L401.8,167.9 L401.6,164.3 L401.8,159.9 L403.9,156.3 L405.7,153.3 L406.5,151.0 L407.4,149.2 L408.9,148.6 Z" fill="#474747"/>
<ellipse cx="408.4" cy="162.4" rx="4.1" ry="5.9" fill="#5c5c5c" opacity="0.85"/>
<ellipse cx="405.6" cy="166.5" rx="1.3" ry="1.5" fill="#393939"/>
<ellipse cx="414.0" cy="164.4" rx="1.0" ry="2.0" fill="#595959"/>
<ellipse cx="412.7" cy="153.6" rx="1.5" ry="1.6" fill="#393939"/>
<ellipse cx="408.9" cy="158.6" rx="1.4" ry="1.7" fill="#3f3f3f"/>
<ellipse cx="407.7" cy="156.3" rx="1.4" ry="1.2" fill="#393939"/>
<ellipse cx="403.9" cy="153.9" rx="1.4" ry="0.8" fill="#595959"/>
<ellipse cx="404.6" cy="157.0" rx="1.1" ry="1.1" fill="#595959"/>
<ellipse cx="410.7" cy="162.3" rx="0.9" ry="1.9" fill="#595959"/>
<ellipse cx="410.2" cy="157.6" rx="0.7" ry="1.0" fill="#595959"/>
<ellipse cx="412.9" cy="159.9" rx="1.2" ry="1.8" fill="#3f3f3f"/>
<circle cx="405.9" cy="149.8" r="0.8" fill="#9a9a9a"/>
<ellipse cx="404.8" cy="171.8" rx="0.9" ry="1.2" fill="#b8b8b8"/>
<circle cx="411.9" cy="149.8" r="0.8" fill="#9a9a9a"/>
<ellipse cx="413.0" cy="171.8" rx="0.9" ry="1.2" fill="#b8b8b8"/>
<line x1="408.9" y1="170.0" x2="409.5" y2="177.7" stroke="#e8e8e8" stroke-width="1.4"/>
<path d="M425.1,149.1 L426.8,149.7 L427.9,151.5 L428.6,153.8 L430.7,156.8 L432.4,160.4 L433.1,164.8 L433.1,168.4 L432.0,171.1 L429.1,172.3 L426.3,172.6 L423.9,172.6 L421.1,172.3 L418.2,171.1 L417.1,168.4 L417.1,164.8 L417.8,160.4 L419.5,156.8 L421.7,153.8 L422.4,151.5 L423.4,149.7 L425.1,149.1 Z" fill="#363636"/>
<path d="M425.1,148.6 L426.6,149.2 L427.6,151.0 L428.2,153.3 L430.2,156.3 L431.7,159.9 L432.3,164.3 L432.4,167.9 L431.4,170.6 L428.7,171.8 L426.2,172.1 L424.0,172.1 L421.5,171.8 L418.8,170.6 L417.8,167.9 L417.9,164.3 L418.5,159.9 L420.0,156.3 L422.0,153.3 L422.6,151.0 L423.6,149.2 L425.1,148.6 Z" fill="#474747"/>
<ellipse cx="425.4" cy="162.1" rx="4.1" ry="5.9" fill="#5c5c5c" opacity="0.85"/>
<ellipse cx="424.4" cy="157.5" rx="0.8" ry="1.6" fill="#595959"/>
<ellipse cx="424.7" cy="155.2" rx="1.5" ry="0.9" fill="#393939"/>
<ellipse cx="425.6" cy="160.7" rx="1.2" ry="1.7" fill="#535353"/>
<ellipse cx="424.1" cy="158.4" rx="1.0" ry="1.9" fill="#393939"/>
<ellipse cx="423.5" cy="163.1" rx="1.4" ry="1.2" fill="#595959"/>
<ellipse cx="425.5" cy="164.0" rx="1.2" ry="1.9" fill="#535353"/>
<ellipse cx="424.7" cy="162.8" rx="1.1" ry="0.9" fill="#595959"/>
<ellipse cx="424.8" cy="156.7" rx="0.7" ry="1.6" fill="#3f3f3f"/>
<ellipse cx="425.3" cy="170.1" rx="1.2" ry="1.3" fill="#595959"/>
<ellipse cx="430.2" cy="155.1" rx="1.2" ry="2.0" fill="#393939"/>
<circle cx="422.1" cy="149.8" r="0.8" fill="#9a9a9a"/>
<ellipse cx="421.0" cy="171.8" rx="0.9" ry="1.2" fill="#b8b8b8"/>
<circle cx="428.1" cy="149.8" r="0.8" fill="#9a9a9a"/>
<ellipse cx="429.2" cy="171.8" rx="0.9" ry="1.2" fill="#b8b8b8"/>
<line x1="425.1" y1="170.0" x2="425.2" y2="177.7" stroke="#e8e8e8" stroke-width="1.4"/>
<path d="M441.3,149.1 L442.9,149.7 L443.9,151.5 L444.7,153.8 L446.7,156.8 L448.8,160.4 L449.5,164.8 L448.7,168.4 L448.1,171.1 L445.5,172.3 L442.5,172.6 L440.1,172.6 L437.1,172.3 L434.5,171.1 L433.9,168.4 L433.1,164.8 L433.8,160.4 L435.9,156.8 L437.9,153.8 L438.7,151.5 L439.7,149.7 L441.3,149.1 Z" fill="#363636"/>
<path d="M441.3,148.6 L442.8,149.2 L443.6,151.0 L444.4,153.3 L446.2,156.3 L448.1,159.9 L448.7,164.3 L448.1,167.9 L447.5,170.6 L445.1,171.8 L442.4,172.1 L440.2,172.1 L437.5,171.8 L435.1,170.6 L434.5,167.9 L433.9,164.3 L434.5,159.9 L436.4,156.3 L438.2,153.3 L439.0,151.0 L439.9,149.2 L441.3,148.6 Z" fill="#474747"/>
<ellipse cx="440.9" cy="161.3" rx="4.1" ry="5.9" fill="#5c5c5c" opacity="0.85"/>
<ellipse cx="445.8" cy="157.6" rx="1.3" ry="0.9" fill="#535353"/>
<ellipse cx="443.3" cy="154.4" rx="0.6" ry="0.9" fill="#535353"/>
<ellipse cx="445.2" cy="160.9" rx="1.3" ry="1.7" fill="#595959"/>
<ellipse cx="442.4" cy="153.6" rx="0.9" ry="1.4" fill="#393939"/>
<ellipse cx="439.3" cy="155.4" rx="0.9" ry="1.9" fill="#535353"/>
<ellipse cx="439.3" cy="156.7" rx="1.3" ry="1.6" fill="#393939"/>
<ellipse cx="437.7" cy="169.4" rx="0.9" ry="1.8" fill="#595959"/>
<ellipse cx="442.8" cy="151.6" rx="1.2" ry="1.0" fill="#595959"/>
<ellipse cx="443.1" cy="166.6" rx="1.4" ry="2.0" fill="#393939"/>
<ellipse cx="439.7" cy="168.5" rx="1.4" ry="1.0" fill="#393939"/>
<circle cx="438.3" cy="149.8" r="0.8" fill="#9a9a9a"/>
<ellipse cx="437.2" cy="171.8" rx="0.9" ry="1.2" fill="#b8b8b8"/>
<circle cx="444.3" cy="149.8" r="0.8" fill="#9a9a9a"/>
<ellipse cx="445.4" cy="171.8" rx="0.9" ry="1.2" fill="#b8b8b8"/>
<line x1="441.3" y1="170.0" x2="440.4" y2="177.7" stroke="#e8e8e8" stroke-width="1.4"/>
</g>
<rect x="368.3" y="148.0" width="81.3" height="29.7" filter="url(#noise)" style="mix-blend-mode:overlay"/>
<g filter="url(#bl2)">
<ellipse cx="376.5" cy="158.0" rx="3.4" ry="3.6" fill="#2222f8"/>
<ellipse cx="378.0" cy="161.0" rx="1.6" ry="1.6" fill="#2222f8"/>
<ellipse cx="442.5" cy="161.5" rx="2.1" ry="2.1" fill="#2222f8"/>
<ellipse cx="443.7" cy="149.7" rx="3.1" ry="3.1" fill="#2222f8"/>
<ellipse cx="370.0" cy="152.0" rx="1.5" ry="2.5" fill="#2222f8"/>
<ellipse cx="446.0" cy="165.0" rx="1.0" ry="1.0" fill="#2222f8"/>
<ellipse cx="376.5" cy="158.0" rx="2.4" ry="2.6" fill="#20d0ff"/>
<ellipse cx="378.0" cy="161.0" rx="1.0" ry="1.0" fill="#20d0ff"/>
<ellipse cx="442.5" cy="161.5" rx="1.5" ry="1.5" fill="#20d0ff"/>
<ellipse cx="443.7" cy="149.7" rx="2.1" ry="2.1" fill="#20d0ff"/>
<ellipse cx="376.5" cy="158.0" rx="1.8" ry="2.0" fill="#f0e820"/>
<ellipse cx="443.7" cy="149.7" rx="1.5" ry="1.5" fill="#f0e820"/>
<ellipse cx="376.5" cy="158.0" rx="1.2" ry="1.4" fill="#ff1000"/>
<ellipse cx="443.7" cy="149.7" rx="0.9" ry="0.9" fill="#ff1000"/>
</g>
</g></g>
<g><rect x="368.2" y="180.0" width="16.2" height="31.9" fill="#4c4c4c"/>
<clipPath id="cp25"><rect x="368.2" y="180.0" width="16.2" height="31.9"/></clipPath>
<g clip-path="url(#cp25)"><g filter="url(#bl)">
<rect x="368.2" y="180.0" width="16.2" height="1.2" fill="#2a2a2a"/>
<path d="M376.9,181.1 L378.6,181.8 L379.6,183.7 L380.3,186.2 L382.3,189.4 L384.5,193.3 L385.5,198.0 L384.7,201.9 L383.8,204.7 L380.9,206.0 L378.2,206.3 L375.6,206.3 L372.9,206.0 L370.0,204.7 L369.1,201.9 L368.2,198.0 L369.3,193.3 L371.5,189.4 L373.5,186.2 L374.2,183.7 L375.2,181.8 L376.9,181.1 Z" fill="#363636"/>
<path d="M376.9,180.6 L378.5,181.3 L379.3,183.2 L380.0,185.7 L381.8,188.9 L383.8,192.8 L384.8,197.5 L384.0,201.4 L383.2,204.2 L380.5,205.5 L378.1,205.8 L375.7,205.8 L373.3,205.5 L370.6,204.2 L369.8,201.4 L369.0,197.5 L370.0,192.8 L372.0,188.9 L373.8,185.7 L374.4,183.2 L375.3,181.3 L376.9,180.6 Z" fill="#474747"/>
<ellipse cx="376.0" cy="194.0" rx="4.1" ry="6.4" fill="#5c5c5c" opacity="0.85"/>
<ellipse cx="378.0" cy="196.9" rx="0.9" ry="1.6" fill="#595959"/>
<ellipse cx="372.0" cy="184.5" rx="1.3" ry="1.3" fill="#535353"/>
<ellipse cx="381.9" cy="193.6" rx="0.9" ry="1.0" fill="#3f3f3f"/>
<ellipse cx="374.2" cy="201.1" rx="1.2" ry="1.1" fill="#535353"/>
<ellipse cx="377.0" cy="190.1" rx="0.7" ry="1.5" fill="#595959"/>
<ellipse cx="371.7" cy="202.3" rx="0.9" ry="1.1" fill="#3f3f3f"/>
<ellipse cx="377.1" cy="183.3" rx="1.3" ry="1.8" fill="#3f3f3f"/>
<ellipse cx="381.8" cy="192.6" rx="0.9" ry="1.1" fill="#595959"/>
<ellipse cx="377.0" cy="203.4" rx="1.1" ry="1.3" fill="#393939"/>
<ellipse cx="373.0" cy="192.5" rx="1.0" ry="1.2" fill="#393939"/>
<circle cx="373.9" cy="181.9" r="0.8" fill="#9a9a9a"/>
<ellipse cx="372.8" cy="205.5" rx="0.9" ry="1.2" fill="#b8b8b8"/>
<circle cx="379.9" cy="181.9" r="0.8" fill="#9a9a9a"/>
<ellipse cx="381.0" cy="205.5" rx="0.9" ry="1.2" fill="#b8b8b8"/>
<line x1="376.9" y1="203.6" x2="376.8" y2="211.9" stroke="#e8e8e8" stroke-width="1.4"/>
</g>
<rect x="368.2" y="180.0" width="16.2" height="31.9" filter="url(#noise)" style="mix-blend-mode:overlay"/>
<g filter="url(#bl2)">
<ellipse cx="370.0" cy="182.0" rx="1.5" ry="2.5" fill="#2222f8"/>
<ellipse cx="371.0" cy="190.0" rx="1.0" ry="1.0" fill="#2222f8"/>
</g>
</g></g>
<g><rect x="400.4" y="180.0" width="50.0" height="32.0" fill="#4c4c4c"/>
<clipPath id="cp26"><rect x="400.4" y="180.0" width="50.0" height="32.0"/></clipPath>
<g clip-path="url(#cp26)"><g filter="url(#bl)">
<rect x="400.4" y="180.0" width="50.0" height="1.2" fill="#2a2a2a"/>
<path d="M408.1,181.1 L409.9,181.8 L410.8,183.7 L411.6,186.3 L414.2,189.5 L415.5,193.3 L417.0,198.1 L415.9,201.9 L415.4,204.8 L412.3,206.1 L409.4,206.4 L406.9,206.4 L404.0,206.1 L400.8,204.8 L400.3,201.9 L399.3,198.1 L400.8,193.3 L402.1,189.5 L404.6,186.3 L405.5,183.7 L406.4,181.8 L408.1,181.1 Z" fill="#363636"/>
<path d="M408.1,180.6 L409.7,181.3 L410.5,183.2 L411.3,185.8 L413.6,189.0 L414.8,192.8 L416.2,197.6 L415.2,201.4 L414.8,204.3 L411.9,205.6 L409.3,205.9 L407.0,205.9 L404.3,205.6 L401.5,204.3 L401.0,201.4 L400.1,197.6 L401.5,192.8 L402.7,189.0 L405.0,185.8 L405.7,183.2 L406.5,181.3 L408.1,180.6 Z" fill="#474747"/>
<ellipse cx="408.4" cy="193.4" rx="4.2" ry="6.4" fill="#5c5c5c" opacity="0.85"/>
<ellipse cx="408.2" cy="198.8" rx="0.8" ry="1.1" fill="#3f3f3f"/>
<ellipse cx="411.2" cy="184.4" rx="0.7" ry="1.5" fill="#393939"/>
<ellipse cx="405.6" cy="186.6" rx="1.2" ry="1.7" fill="#393939"/>
<ellipse cx="409.3" cy="194.9" rx="0.7" ry="1.3" fill="#595959"/>
<ellipse cx="405.1" cy="195.6" rx="1.2" ry="1.6" fill="#595959"/>
<ellipse cx="409.9" cy="186.6" rx="1.3" ry="0.9" fill="#595959"/>
<ellipse cx="410.5" cy="192.9" rx="0.8" ry="1.8" fill="#3f3f3f"/>
<ellipse cx="403.6" cy="202.2" rx="0.6" ry="1.0" fill="#535353"/>
<ellipse cx="412.6" cy="200.2" rx="0.7" ry="1.3" fill="#535353"/>
<ellipse cx="405.4" cy="188.0" rx="0.8" ry="1.3" fill="#595959"/>
<circle cx="405.1" cy="181.9" r="0.8" fill="#9a9a9a"/>
<ellipse cx="403.9" cy="205.6" rx="0.9" ry="1.2" fill="#b8b8b8"/>
<circle cx="411.2" cy="181.9" r="0.8" fill="#9a9a9a"/>
<ellipse cx="412.4" cy="205.6" rx="0.9" ry="1.2" fill="#b8b8b8"/>
<line x1="408.1" y1="203.7" x2="408.4" y2="212.0" stroke="#e8e8e8" stroke-width="1.4"/>
<path d="M425.5,181.1 L427.2,181.8 L428.3,183.7 L429.0,186.3 L431.5,189.5 L433.5,193.3 L433.7,198.1 L433.7,201.9 L432.3,204.8 L429.6,206.1 L426.8,206.4 L424.2,206.4 L421.5,206.1 L418.8,204.8 L417.4,201.9 L417.4,198.1 L417.6,193.3 L419.6,189.5 L422.1,186.3 L422.8,183.7 L423.9,181.8 L425.5,181.1 Z" fill="#363636"/>
<path d="M425.5,180.6 L427.0,181.3 L428.0,183.2 L428.7,185.8 L430.9,189.0 L432.8,192.8 L433.0,197.6 L433.0,201.4 L431.7,204.3 L429.2,205.6 L426.7,205.9 L424.4,205.9 L421.9,205.6 L419.4,204.3 L418.1,201.4 L418.1,197.6 L418.3,192.8 L420.2,189.0 L422.4,185.8 L423.1,183.2 L424.1,181.3 L425.5,180.6 Z" fill="#474747"/>
<ellipse cx="426.2" cy="193.5" rx="4.2" ry="6.4" fill="#5c5c5c" opacity="0.85"/>
<ellipse cx="420.6" cy="201.3" rx="1.1" ry="1.5" fill="#3f3f3f"/>
<ellipse cx="422.2" cy="183.4" rx="1.4" ry="1.6" fill="#535353"/>
<ellipse cx="421.0" cy="201.9" rx="1.3" ry="1.9" fill="#535353"/>
<ellipse cx="430.7" cy="202.0" rx="0.9" ry="1.4" fill="#3f3f3f"/>
<ellipse cx="430.6" cy="201.9" rx="1.1" ry="1.9" fill="#595959"/>
<ellipse cx="421.6" cy="198.5" rx="0.9" ry="1.4" fill="#393939"/>
<ellipse cx="428.9" cy="188.5" rx="1.1" ry="1.8" fill="#535353"/>
<ellipse cx="422.7" cy="196.6" rx="1.3" ry="1.3" fill="#393939"/>
<ellipse cx="422.7" cy="191.2" rx="0.6" ry="1.1" fill="#3f3f3f"/>
<ellipse cx="424.8" cy="203.6" rx="1.2" ry="1.1" fill="#3f3f3f"/>
<circle cx="422.5" cy="181.9" r="0.8" fill="#9a9a9a"/>
<ellipse cx="421.3" cy="205.6" rx="0.9" ry="1.2" fill="#b8b8b8"/>
<circle cx="428.6" cy="181.9" r="0.8" fill="#9a9a9a"/>
<ellipse cx="429.8" cy="205.6" rx="0.9" ry="1.2" fill="#b8b8b8"/>
<line x1="425.5" y1="203.7" x2="426.2" y2="212.0" stroke="#e8e8e8" stroke-width="1.4"/>
<path d="M442.7,181.1 L444.3,181.8 L445.4,183.7 L446.3,186.3 L448.6,189.5 L450.3,193.3 L450.8,198.1 L450.7,201.9 L449.6,204.8 L446.9,206.1 L443.9,206.4 L441.4,206.4 L438.4,206.1 L435.7,204.8 L434.6,201.9 L434.5,198.1 L435.1,193.3 L436.8,189.5 L439.0,186.3 L439.9,183.7 L441.0,181.8 L442.7,181.1 Z" fill="#363636"/>
<path d="M442.7,180.6 L444.2,181.3 L445.2,183.2 L446.0,185.8 L448.0,189.0 L449.6,192.8 L450.1,197.6 L450.0,201.4 L449.0,204.3 L446.6,205.6 L443.8,205.9 L441.6,205.9 L438.8,205.6 L436.4,204.3 L435.3,201.4 L435.3,197.6 L435.8,192.8 L437.3,189.0 L439.4,185.8 L440.2,183.2 L441.2,181.3 L442.7,180.6 Z" fill="#474747"/>
<ellipse cx="442.6" cy="194.1" rx="4.2" ry="6.4" fill="#5c5c5c" opacity="0.85"/>
<ellipse cx="440.9" cy="195.2" rx="0.7" ry="1.4" fill="#3f3f3f"/>
<ellipse cx="446.3" cy="195.5" rx="1.1" ry="1.4" fill="#3f3f3f"/>
<ellipse cx="438.2" cy="202.3" rx="1.1" ry="1.0" fill="#535353"/>
<ellipse cx="440.3" cy="185.7" rx="0.7" ry="1.6" fill="#3f3f3f"/>
<ellipse cx="446.0" cy="192.5" rx="0.9" ry="1.8" fill="#393939"/>
<ellipse cx="444.7" cy="184.8" rx="1.4" ry="1.2" fill="#3f3f3f"/>
<ellipse cx="445.3" cy="194.1" rx="0.7" ry="0.9" fill="#535353"/>
<ellipse cx="447.5" cy="189.0" rx="1.3" ry="1.6" fill="#595959"/>
<ellipse cx="447.5" cy="203.1" rx="1.3" ry="1.0" fill="#595959"/>
<ellipse cx="440.1" cy="198.0" rx="1.4" ry="0.8" fill="#535353"/>
<circle cx="439.6" cy="181.9" r="0.8" fill="#9a9a9a"/>
<ellipse cx="438.4" cy="205.6" rx="0.9" ry="1.2" fill="#b8b8b8"/>
<circle cx="445.7" cy="181.9" r="0.8" fill="#9a9a9a"/>
<ellipse cx="446.9" cy="205.6" rx="0.9" ry="1.2" fill="#b8b8b8"/>
<line x1="442.7" y1="203.7" x2="442.7" y2="212.0" stroke="#e8e8e8" stroke-width="1.4"/>
</g>
<rect x="400.4" y="180.0" width="50.0" height="32.0" filter="url(#noise)" style="mix-blend-mode:overlay"/>
<g filter="url(#bl2)">
<circle cx="439.9" cy="196.2" r="0.9" fill="#2a2aff"/>
<circle cx="441.6" cy="183.7" r="0.9" fill="#2a2aff"/>
<circle cx="448.0" cy="199.2" r="0.8" fill="#2a2aff"/>
<circle cx="444.4" cy="199.8" r="0.5" fill="#2a2aff"/>
<circle cx="430.0" cy="197.4" r="1.0" fill="#2a2aff"/>
<circle cx="432.6" cy="194.4" r="0.9" fill="#2a2aff"/>
<circle cx="430.9" cy="187.6" r="0.6" fill="#30b8ff"/>
<circle cx="433.5" cy="206.9" r="0.7" fill="#2a2aff"/>
<circle cx="440.9" cy="194.1" r="0.7" fill="#7000e0"/>
<circle cx="428.5" cy="193.7" r="0.7" fill="#2a2aff"/>
<circle cx="447.6" cy="198.2" r="0.9" fill="#2a2aff"/>
<circle cx="437.3" cy="206.4" r="1.0" fill="#7000e0"/>
<ellipse cx="438.0" cy="199.0" rx="7.2" ry="6.7" fill="#2222f8"/>
<ellipse cx="433.0" cy="203.5" rx="5.7" ry="5.2" fill="#2222f8"/>
<ellipse cx="442.0" cy="194.0" rx="5.2" ry="4.7" fill="#2222f8"/>
<ellipse cx="442.5" cy="184.5" rx="4.2" ry="5.2" fill="#2222f8"/>
<ellipse cx="446.0" cy="190.0" rx="2.7" ry="2.7" fill="#2222f8"/>
<ellipse cx="438.0" cy="189.0" rx="2.1" ry="2.6" fill="#2222f8"/>
<ellipse cx="446.0" cy="197.0" rx="2.1" ry="2.1" fill="#2222f8"/>
<ellipse cx="430.0" cy="207.0" rx="3.2" ry="2.7" fill="#2222f8"/>
<ellipse cx="438.0" cy="199.0" rx="6.2" ry="5.7" fill="#20d0ff"/>
<ellipse cx="433.0" cy="203.5" rx="4.7" ry="4.2" fill="#20d0ff"/>
<ellipse cx="442.0" cy="194.0" rx="4.2" ry="3.7" fill="#20d0ff"/>
<ellipse cx="442.5" cy="184.5" rx="3.2" ry="4.2" fill="#20d0ff"/>
<ellipse cx="446.0" cy="190.0" rx="2.1" ry="2.1" fill="#20d0ff"/>
<ellipse cx="438.0" cy="189.0" rx="1.5" ry="2.0" fill="#20d0ff"/>
<ellipse cx="446.0" cy="197.0" rx="1.5" ry="1.5" fill="#20d0ff"/>
<ellipse cx="430.0" cy="207.0" rx="2.6" ry="2.1" fill="#20d0ff"/>
<ellipse cx="438.0" cy="199.0" rx="5.6" ry="5.1" fill="#f0e820"/>
<ellipse cx="433.0" cy="203.5" rx="4.1" ry="3.6" fill="#f0e820"/>
<ellipse cx="442.0" cy="194.0" rx="3.6" ry="3.1" fill="#f0e820"/>
<ellipse cx="442.5" cy="184.5" rx="2.6" ry="3.6" fill="#f0e820"/>
<ellipse cx="446.0" cy="190.0" rx="1.5" ry="1.5" fill="#f0e820"/>
<ellipse cx="430.0" cy="207.0" rx="2.0" ry="1.5" fill="#f0e820"/>
<ellipse cx="438.0" cy="199.0" rx="5.0" ry="4.5" fill="#ff1000"/>
<ellipse cx="433.0" cy="203.5" rx="3.5" ry="3.0" fill="#ff1000"/>
<ellipse cx="442.0" cy="194.0" rx="3.0" ry="2.5" fill="#ff1000"/>
<ellipse cx="442.5" cy="184.5" rx="2.0" ry="3.0" fill="#ff1000"/>
</g>
</g></g>
<g><rect x="368.2" y="214.2" width="18.3" height="27.5" fill="#4c4c4c"/>
<clipPath id="cp27"><rect x="368.2" y="214.2" width="18.3" height="27.5"/></clipPath>
<g clip-path="url(#cp27)"><g filter="url(#bl)">
<rect x="368.2" y="214.2" width="18.3" height="1.2" fill="#2a2a2a"/>
<path d="M377.6,215.2 L379.5,215.8 L380.8,217.4 L381.6,219.6 L384.5,222.4 L385.8,225.7 L387.3,229.8 L386.8,233.1 L385.2,235.6 L382.4,236.7 L379.0,237.0 L376.3,237.0 L372.8,236.7 L370.1,235.6 L368.5,233.1 L367.9,229.8 L369.4,225.7 L370.8,222.4 L373.7,219.6 L374.5,217.4 L375.8,215.8 L377.6,215.2 Z" fill="#363636"/>
<path d="M377.6,214.8 L379.3,215.3 L380.5,216.9 L381.2,219.1 L383.8,221.9 L385.1,225.2 L386.4,229.3 L386.0,232.6 L384.5,235.1 L382.0,236.2 L378.9,236.5 L376.4,236.5 L373.2,236.2 L370.8,235.1 L369.3,232.6 L368.8,229.3 L370.2,225.2 L371.4,221.9 L374.0,219.1 L374.8,216.9 L375.9,215.3 L377.6,214.8 Z" fill="#474747"/>
<ellipse cx="377.4" cy="227.1" rx="4.6" ry="5.5" fill="#5c5c5c" opacity="0.85"/>
<ellipse cx="383.2" cy="221.3" rx="1.2" ry="1.9" fill="#595959"/>
<ellipse cx="375.3" cy="228.8" rx="1.4" ry="1.6" fill="#535353"/>
<ellipse cx="381.6" cy="228.3" rx="1.3" ry="1.2" fill="#3f3f3f"/>
<ellipse cx="374.8" cy="223.3" rx="0.9" ry="1.1" fill="#535353"/>
<ellipse cx="381.7" cy="220.2" rx="0.8" ry="1.2" fill="#595959"/>
<ellipse cx="383.2" cy="219.2" rx="0.8" ry="1.3" fill="#535353"/>
<ellipse cx="374.5" cy="233.2" rx="1.1" ry="1.7" fill="#535353"/>
<ellipse cx="374.5" cy="227.0" rx="1.4" ry="1.7" fill="#535353"/>
<ellipse cx="372.4" cy="230.2" rx="1.2" ry="0.8" fill="#595959"/>
<ellipse cx="382.5" cy="217.0" rx="0.7" ry="1.6" fill="#3f3f3f"/>
<circle cx="374.3" cy="215.8" r="0.8" fill="#9a9a9a"/>
<ellipse cx="373.0" cy="236.2" rx="0.9" ry="1.2" fill="#b8b8b8"/>
<circle cx="381.0" cy="215.8" r="0.8" fill="#9a9a9a"/>
<ellipse cx="382.3" cy="236.2" rx="0.9" ry="1.2" fill="#b8b8b8"/>
<line x1="377.6" y1="234.5" x2="376.6" y2="241.7" stroke="#e8e8e8" stroke-width="1.4"/>
</g>
<rect x="368.2" y="214.2" width="18.3" height="27.5" filter="url(#noise)" style="mix-blend-mode:overlay"/>
</g></g>
<g><rect x="399.8" y="214.2" width="31.9" height="27.5" fill="#4c4c4c"/>
<clipPath id="cp28"><rect x="399.8" y="214.2" width="31.9" height="27.5"/></clipPath>
<g clip-path="url(#cp28)"><g filter="url(#bl)">
<rect x="399.8" y="214.2" width="31.9" height="1.2" fill="#2a2a2a"/>
<path d="M407.5,215.2 L409.0,215.8 L410.2,217.4 L410.8,219.6 L413.4,222.4 L414.7,225.7 L415.8,229.8 L415.4,233.1 L414.2,235.6 L411.5,236.7 L408.6,237.0 L406.3,237.0 L403.4,236.7 L400.7,235.6 L399.5,233.1 L399.1,229.8 L400.2,225.7 L401.5,222.4 L404.2,219.6 L404.7,217.4 L405.9,215.8 L407.5,215.2 Z" fill="#363636"/>
<path d="M407.5,214.8 L408.9,215.3 L410.0,216.9 L410.5,219.1 L412.9,221.9 L414.0,225.2 L415.1,229.3 L414.7,232.6 L413.6,235.1 L411.2,236.2 L408.5,236.5 L406.4,236.5 L403.7,236.2 L401.3,235.1 L400.2,232.6 L399.9,229.3 L400.9,225.2 L402.0,221.9 L404.5,219.1 L405.0,216.9 L406.1,215.3 L407.5,214.8 Z" fill="#474747"/>
<ellipse cx="408.3" cy="228.0" rx="4.0" ry="5.5" fill="#5c5c5c" opacity="0.85"/>
<ellipse cx="407.8" cy="220.3" rx="0.8" ry="1.7" fill="#393939"/>
<ellipse cx="402.7" cy="227.0" rx="1.3" ry="1.7" fill="#393939"/>
<ellipse cx="405.8" cy="225.3" rx="1.4" ry="1.8" fill="#595959"/>
<ellipse cx="410.2" cy="220.7" rx="1.2" ry="0.8" fill="#393939"/>
<ellipse cx="412.4" cy="229.4" rx="0.9" ry="2.0" fill="#3f3f3f"/>
<ellipse cx="411.7" cy="217.7" rx="1.0" ry="1.4" fill="#3f3f3f"/>
<ellipse cx="411.8" cy="228.7" rx="1.1" ry="1.0" fill="#3f3f3f"/>
<ellipse cx="410.4" cy="225.0" rx="0.8" ry="1.2" fill="#3f3f3f"/>
<ellipse cx="410.5" cy="222.9" rx="0.9" ry="1.6" fill="#393939"/>
<ellipse cx="405.0" cy="229.9" rx="1.3" ry="1.5" fill="#535353"/>
<circle cx="404.5" cy="215.8" r="0.8" fill="#9a9a9a"/>
<ellipse cx="403.4" cy="236.2" rx="0.9" ry="1.2" fill="#b8b8b8"/>
<circle cx="410.4" cy="215.8" r="0.8" fill="#9a9a9a"/>
<ellipse cx="411.5" cy="236.2" rx="0.9" ry="1.2" fill="#b8b8b8"/>
<line x1="407.5" y1="234.5" x2="406.5" y2="241.7" stroke="#e8e8e8" stroke-width="1.4"/>
<path d="M424.2,215.2 L425.9,215.8 L426.9,217.4 L427.6,219.6 L429.9,222.4 L431.9,225.7 L431.8,229.8 L432.3,233.1 L431.0,235.6 L428.3,236.7 L425.4,237.0 L422.9,237.0 L420.0,236.7 L417.4,235.6 L416.0,233.1 L416.5,229.8 L416.4,225.7 L418.5,222.4 L420.7,219.6 L421.5,217.4 L422.5,215.8 L424.2,215.2 Z" fill="#363636"/>
<path d="M424.2,214.8 L425.7,215.3 L426.6,216.9 L427.3,219.1 L429.4,221.9 L431.2,225.2 L431.1,229.3 L431.6,232.6 L430.4,235.1 L427.9,236.2 L425.3,236.5 L423.1,236.5 L420.4,236.2 L418.0,235.1 L416.8,232.6 L417.2,229.3 L417.1,225.2 L419.0,221.9 L421.0,219.1 L421.7,216.9 L422.6,215.3 L424.2,214.8 Z" fill="#474747"/>
<ellipse cx="425.2" cy="227.3" rx="4.0" ry="5.5" fill="#5c5c5c" opacity="0.85"/>
<ellipse cx="422.4" cy="224.8" rx="1.2" ry="1.1" fill="#535353"/>
<ellipse cx="425.8" cy="224.1" rx="1.3" ry="1.0" fill="#393939"/>
<ellipse cx="420.2" cy="219.1" rx="1.2" ry="1.7" fill="#393939"/>
<ellipse cx="427.6" cy="227.6" rx="0.9" ry="1.5" fill="#3f3f3f"/>
<ellipse cx="424.8" cy="227.0" rx="1.5" ry="1.3" fill="#535353"/>
<ellipse cx="422.2" cy="231.6" rx="0.8" ry="1.5" fill="#535353"/>
<ellipse cx="421.1" cy="218.1" rx="1.3" ry="1.6" fill="#3f3f3f"/>
<ellipse cx="424.1" cy="227.3" rx="1.4" ry="1.8" fill="#535353"/>
<ellipse cx="419.8" cy="217.4" rx="0.9" ry="1.2" fill="#3f3f3f"/>
<ellipse cx="426.2" cy="226.4" rx="0.6" ry="1.2" fill="#535353"/>
<circle cx="421.2" cy="215.8" r="0.8" fill="#9a9a9a"/>
<ellipse cx="420.1" cy="236.2" rx="0.9" ry="1.2" fill="#b8b8b8"/>
<circle cx="427.1" cy="215.8" r="0.8" fill="#9a9a9a"/>
<ellipse cx="428.2" cy="236.2" rx="0.9" ry="1.2" fill="#b8b8b8"/>
<line x1="424.2" y1="234.5" x2="425.3" y2="241.7" stroke="#e8e8e8" stroke-width="1.4"/>
</g>
<rect x="399.8" y="214.2" width="31.9" height="27.5" filter="url(#noise)" style="mix-blend-mode:overlay"/>
</g></g>
<rect x="457.5" y="46" width="4" height="107.2" fill="url(#cbar)"/>
<line x1="461.5" y1="46" x2="461.5" y2="153.2" stroke="#111" stroke-width="0.8"/>
<line x1="461.5" y1="46.4" x2="465.5" y2="46.4" stroke="#111" stroke-width="0.8"/>
<line x1="461.5" y1="52.6" x2="463.5" y2="52.6" stroke="#111" stroke-width="0.8"/>
<line x1="461.5" y1="58.8" x2="463.5" y2="58.8" stroke="#111" stroke-width="0.8"/>
<line x1="461.5" y1="65.0" x2="463.5" y2="65.0" stroke="#111" stroke-width="0.8"/>
<line x1="461.5" y1="71.2" x2="463.5" y2="71.2" stroke="#111" stroke-width="0.8"/>
<line x1="461.5" y1="77.4" x2="465.5" y2="77.4" stroke="#111" stroke-width="0.8"/>
<line x1="461.5" y1="83.6" x2="463.5" y2="83.6" stroke="#111" stroke-width="0.8"/>
<line x1="461.5" y1="89.8" x2="463.5" y2="89.8" stroke="#111" stroke-width="0.8"/>
<line x1="461.5" y1="96.0" x2="463.5" y2="96.0" stroke="#111" stroke-width="0.8"/>
<line x1="461.5" y1="102.2" x2="463.5" y2="102.2" stroke="#111" stroke-width="0.8"/>
<line x1="461.5" y1="108.4" x2="465.5" y2="108.4" stroke="#111" stroke-width="0.8"/>
<line x1="461.5" y1="114.6" x2="463.5" y2="114.6" stroke="#111" stroke-width="0.8"/>
<line x1="461.5" y1="120.8" x2="463.5" y2="120.8" stroke="#111" stroke-width="0.8"/>
<line x1="461.5" y1="127.0" x2="463.5" y2="127.0" stroke="#111" stroke-width="0.8"/>
<line x1="461.5" y1="133.2" x2="463.5" y2="133.2" stroke="#111" stroke-width="0.8"/>
<line x1="461.5" y1="139.4" x2="465.5" y2="139.4" stroke="#111" stroke-width="0.8"/>
<line x1="461.5" y1="145.6" x2="463.5" y2="145.6" stroke="#111" stroke-width="0.8"/>
<line x1="461.5" y1="151.8" x2="463.5" y2="151.8" stroke="#111" stroke-width="0.8"/>
<text x="467.80" y="49.70" font-size="8.4" textLength="11.20" lengthAdjust="spacingAndGlyphs" fill="#111" >2.0</text>
<text x="467.80" y="80.80" font-size="8.4" textLength="11.20" lengthAdjust="spacingAndGlyphs" fill="#111" >1.5</text>
<text x="467.80" y="111.70" font-size="8.4" textLength="11.20" lengthAdjust="spacingAndGlyphs" fill="#111" >1.0</text>
<text x="467.80" y="142.60" font-size="8.4" textLength="11.20" lengthAdjust="spacingAndGlyphs" fill="#111" >0.5</text>
<text x="483.00" y="104.50" font-size="8.4" fill="#111" >×10<tspan font-size="5" dy="-3">5</tspan></text>
<text x="457.20" y="164.10" font-size="8.4" textLength="32.00" lengthAdjust="spacingAndGlyphs" fill="#111" >Radiance</text>
<text x="457.20" y="173.20" font-size="8.4" textLength="50.50" lengthAdjust="spacingAndGlyphs" fill="#111" >(p/sec/cm<tspan font-size="5" dy="-3">2</tspan><tspan dy="3">/sr)</tspan></text>
<rect x="457" y="181.5" width="56" height="34.5" fill="none" stroke="#111" stroke-width="0.9"/>
<text x="460.50" y="191.80" font-size="8.4" textLength="40.00" lengthAdjust="spacingAndGlyphs" fill="#111" >Color Scale</text>
<text x="460.50" y="201.70" font-size="8.4" textLength="47.00" lengthAdjust="spacingAndGlyphs" fill="#111" >Min = 2.00e4</text>
<text x="460.50" y="211.80" font-size="8.4" textLength="48.00" lengthAdjust="spacingAndGlyphs" fill="#111" >Max = 2.00e5</text>
<text x="7.60" y="267.80" font-size="12" textLength="7.70" lengthAdjust="spacingAndGlyphs" font-weight="bold" fill="#000" stroke="#000" stroke-width="0.35">B</text>
<g stroke="#111" stroke-width="1.2" fill="none">
<line x1="50.4" y1="272.9" x2="50.4" y2="377.20000000000005"/>
<line x1="47.199999999999996" y1="376.6" x2="184.3" y2="376.6"/>
<line x1="47.199999999999996" y1="376.60" x2="50.4" y2="376.60"/>
<line x1="47.199999999999996" y1="351.43" x2="50.4" y2="351.43"/>
<line x1="47.199999999999996" y1="326.25" x2="50.4" y2="326.25"/>
<line x1="47.199999999999996" y1="301.08" x2="50.4" y2="301.08"/>
<line x1="47.199999999999996" y1="275.90" x2="50.4" y2="275.90"/>
<line x1="50.40" y1="376.6" x2="50.40" y2="379.6"/>
<line x1="83.26" y1="376.6" x2="83.26" y2="379.6"/>
<line x1="116.12" y1="376.6" x2="116.12" y2="379.6"/>
<line x1="148.98" y1="376.6" x2="148.98" y2="379.6"/>
<line x1="181.84" y1="376.6" x2="181.84" y2="379.6"/>
</g>
<text x="44.00" y="379.60" font-size="8.4" text-anchor="end" fill="#111" >0</text>
<text x="44.00" y="354.43" font-size="8.4" text-anchor="end" fill="#111" >25</text>
<text x="44.00" y="329.25" font-size="8.4" text-anchor="end" fill="#111" >50</text>
<text x="44.00" y="304.08" font-size="8.4" text-anchor="end" fill="#111" >75</text>
<text x="44.00" y="278.90" font-size="8.4" text-anchor="end" fill="#111" >100</text>
<text x="50.40" y="389.90" font-size="8.4" text-anchor="middle" fill="#111" >0</text>
<text x="83.26" y="389.90" font-size="8.4" text-anchor="middle" fill="#111" >20</text>
<text x="116.12" y="389.90" font-size="8.4" text-anchor="middle" fill="#111" >40</text>
<text x="148.98" y="389.90" font-size="8.4" text-anchor="middle" fill="#111" >60</text>
<text x="181.84" y="389.90" font-size="8.4" text-anchor="middle" fill="#111" >80</text>
<text transform="translate(23.8,324.4) rotate(-90)" x="-15.65" y="0" font-size="9.8" textLength="31.3" lengthAdjust="spacingAndGlyphs" fill="#1a1a1a" stroke="#1a1a1a" stroke-width="0.3">% survival</text>
<path d="M107.25,275.90 L181.84,275.90 L181.84,275.90" fill="none" stroke="#4f1f72" stroke-width="1.3"/>
<path d="M92.79,275.90 L107.25,275.90 L107.25,285.97 L110.70,285.97 L110.70,296.04 L137.15,296.04 L137.15,306.11 L142.08,306.11 L142.08,316.18 L148.49,316.18 L148.49,326.25 L181.84,326.25 L181.84,326.25" fill="none" stroke="#a8002b" stroke-width="1.3"/>
<path d="M88.19,275.90 L92.79,275.90 L92.79,287.08 L94.76,287.08 L94.76,298.26 L96.73,298.26 L96.73,309.43 L101.17,309.43 L101.17,320.61 L105.93,320.61 L105.93,343.07 L112.51,343.07 L112.51,354.24 L125.81,354.24 L125.81,376.60" fill="none" stroke="#5ba83a" stroke-width="1.3"/>
<path d="M75.37,275.90 L88.19,275.90 L88.19,296.04 L92.30,296.04 L92.30,306.11 L94.43,306.11 L94.43,316.18 L97.23,316.18 L97.23,326.25 L99.03,326.25 L99.03,336.32 L101.00,336.32 L101.00,346.39 L106.26,346.39 L106.26,366.53 L109.55,366.53 L109.55,376.60" fill="none" stroke="#1f3c80" stroke-width="1.3"/>
<path d="M70.12,275.90 L70.12,275.90 L70.12,296.04 L73.40,296.04 L73.40,316.18 L75.05,316.18 L75.05,356.46 L76.03,356.46 L76.03,376.60" fill="none" stroke="#d1007a" stroke-width="1.3"/>
<path d="M50.40,275.90 L75.37,275.90 L75.37,296.04 L76.69,296.04 L76.69,306.11 L81.62,306.11 L81.62,316.18 L83.26,316.18 L83.26,326.25 L93.12,326.25 L93.12,346.39 L94.76,346.39 L94.76,356.46 L115.63,356.46 L115.63,366.53 L181.84,366.53 L181.84,366.53" fill="none" stroke="#e8941f" stroke-width="1.3"/>
<circle cx="181.84" cy="275.90" r="2.90" fill="none" stroke="#4f1f72" stroke-width="0.95"/>
<rect x="104.45" y="283.17" width="5.60" height="5.60" fill="#a8002b"/>
<rect x="107.90" y="293.24" width="5.60" height="5.60" fill="#a8002b"/>
<rect x="134.35" y="303.31" width="5.60" height="5.60" fill="#a8002b"/>
<rect x="139.28" y="313.38" width="5.60" height="5.60" fill="#a8002b"/>
<rect x="145.69" y="323.45" width="5.60" height="5.60" fill="#a8002b"/>
<rect x="179.04" y="323.45" width="5.60" height="5.60" fill="#a8002b"/>
<circle cx="92.79" cy="287.08" r="2.70" fill="#5ba83a"/>
<circle cx="94.76" cy="298.26" r="2.70" fill="#5ba83a"/>
<circle cx="96.73" cy="309.43" r="2.70" fill="#5ba83a"/>
<circle cx="101.17" cy="320.61" r="2.70" fill="#5ba83a"/>
<circle cx="105.93" cy="343.07" r="2.70" fill="#5ba83a"/>
<circle cx="112.51" cy="354.24" r="2.70" fill="#5ba83a"/>
<circle cx="125.81" cy="376.60" r="2.70" fill="#5ba83a"/>
<path d="M88.19,292.80 L90.89,298.20 L85.49,298.20 Z" fill="#1f3c80"/>
<path d="M92.30,302.87 L95.00,308.27 L89.60,308.27 Z" fill="#1f3c80"/>
<path d="M94.43,312.94 L97.13,318.34 L91.73,318.34 Z" fill="#1f3c80"/>
<path d="M97.23,323.01 L99.93,328.41 L94.53,328.41 Z" fill="#1f3c80"/>
<path d="M99.03,333.08 L101.73,338.48 L96.33,338.48 Z" fill="#1f3c80"/>
<path d="M101.00,343.15 L103.70,348.55 L98.30,348.55 Z" fill="#1f3c80"/>
<path d="M106.26,363.29 L108.96,368.69 L103.56,368.69 Z" fill="#1f3c80"/>
<path d="M109.55,373.36 L112.25,378.76 L106.85,378.76 Z" fill="#1f3c80"/>
<rect x="67.32" y="293.24" width="5.60" height="5.60" fill="#f6e0ee" stroke="#d1007a" stroke-width="1.1"/>
<rect x="70.60" y="313.38" width="5.60" height="5.60" fill="#f6e0ee" stroke="#d1007a" stroke-width="1.1"/>
<rect x="72.25" y="353.66" width="5.60" height="5.60" fill="#f6e0ee" stroke="#d1007a" stroke-width="1.1"/>
<rect x="73.23" y="373.80" width="5.60" height="5.60" fill="#f6e0ee" stroke="#d1007a" stroke-width="1.1"/>
<path d="M75.37,292.54 L78.59,296.04 L75.37,299.54 L72.15,296.04 Z" fill="#fdf0dd" stroke="#e8941f" stroke-width="1.1"/>
<path d="M76.69,302.61 L79.91,306.11 L76.69,309.61 L73.47,306.11 Z" fill="#fdf0dd" stroke="#e8941f" stroke-width="1.1"/>
<path d="M81.62,312.68 L84.84,316.18 L81.62,319.68 L78.40,316.18 Z" fill="#fdf0dd" stroke="#e8941f" stroke-width="1.1"/>
<path d="M83.26,322.75 L86.48,326.25 L83.26,329.75 L80.04,326.25 Z" fill="#fdf0dd" stroke="#e8941f" stroke-width="1.1"/>
<path d="M93.12,342.89 L96.34,346.39 L93.12,349.89 L89.90,346.39 Z" fill="#fdf0dd" stroke="#e8941f" stroke-width="1.1"/>
<path d="M94.76,352.96 L97.98,356.46 L94.76,359.96 L91.54,356.46 Z" fill="#fdf0dd" stroke="#e8941f" stroke-width="1.1"/>
<path d="M115.63,363.03 L118.85,366.53 L115.63,370.03 L112.41,366.53 Z" fill="#fdf0dd" stroke="#e8941f" stroke-width="1.1"/>
<path d="M181.84,363.03 L185.06,366.53 L181.84,370.03 L178.62,366.53 Z" fill="#fdf0dd" stroke="#e8941f" stroke-width="1.1"/>
<path d="M187.6,327.6 H193.5 V366.7 H187.6" fill="none" stroke="#333" stroke-width="1"/>
<text x="196.40" y="349.70" font-size="8" textLength="8.40" lengthAdjust="spacingAndGlyphs" font-weight="bold" fill="#111" >***</text>
<text x="221.00" y="267.70" font-size="12" textLength="7.70" lengthAdjust="spacingAndGlyphs" font-weight="bold" fill="#000" stroke="#000" stroke-width="0.35">C</text>
<g stroke="#111" stroke-width="1.2" fill="none">
<line x1="263.6" y1="272.3" x2="263.6" y2="377.0"/>
<line x1="260.40000000000003" y1="376.4" x2="397.5" y2="376.4"/>
<line x1="260.40000000000003" y1="376.40" x2="263.6" y2="376.40"/>
<line x1="260.40000000000003" y1="351.02" x2="263.6" y2="351.02"/>
<line x1="260.40000000000003" y1="325.65" x2="263.6" y2="325.65"/>
<line x1="260.40000000000003" y1="300.27" x2="263.6" y2="300.27"/>
<line x1="260.40000000000003" y1="274.90" x2="263.6" y2="274.90"/>
<line x1="263.60" y1="376.4" x2="263.60" y2="379.4"/>
<line x1="296.65" y1="376.4" x2="296.65" y2="379.4"/>
<line x1="329.70" y1="376.4" x2="329.70" y2="379.4"/>
<line x1="362.75" y1="376.4" x2="362.75" y2="379.4"/>
<line x1="395.80" y1="376.4" x2="395.80" y2="379.4"/>
</g>
<text x="257.20" y="379.40" font-size="8.4" text-anchor="end" fill="#111" >0</text>
<text x="257.20" y="354.02" font-size="8.4" text-anchor="end" fill="#111" >25</text>
<text x="257.20" y="328.65" font-size="8.4" text-anchor="end" fill="#111" >50</text>
<text x="257.20" y="303.27" font-size="8.4" text-anchor="end" fill="#111" >75</text>
<text x="257.20" y="277.90" font-size="8.4" text-anchor="end" fill="#111" >100</text>
<text x="263.60" y="389.90" font-size="8.4" text-anchor="middle" fill="#111" >0</text>
<text x="296.65" y="389.90" font-size="8.4" text-anchor="middle" fill="#111" >20</text>
<text x="329.70" y="389.90" font-size="8.4" text-anchor="middle" fill="#111" >40</text>
<text x="362.75" y="389.90" font-size="8.4" text-anchor="middle" fill="#111" >60</text>
<text x="395.80" y="389.90" font-size="8.4" text-anchor="middle" fill="#111" >80</text>
<text transform="translate(237.4,324.3) rotate(-90)" x="-27.90" y="0" font-size="9.8" textLength="55.8" lengthAdjust="spacingAndGlyphs" fill="#1a1a1a" stroke="#1a1a1a" stroke-width="0.3">% tumor mortality</text>
<path d="M351.18,376.40 L351.18,376.40 L351.18,366.25 L362.75,366.25 L362.75,366.25 L395.80,366.25 L395.80,366.25" fill="none" stroke="#a8002b" stroke-width="1.3"/>
<path d="M263.60,376.40 L395.80,376.40 L395.80,376.40" fill="none" stroke="#4f1f72" stroke-width="1.3"/>
<path d="M283.26,376.40 L283.26,376.40 L283.26,356.10 L286.57,356.10 L286.57,335.80 L288.22,335.80 L288.22,295.20 L289.87,295.20 L289.87,274.90" fill="none" stroke="#d1007a" stroke-width="1.3"/>
<path d="M288.39,356.10 L290.04,356.10 L290.04,345.95 L295.00,345.95 L295.00,335.80 L296.65,335.80 L296.65,325.65 L306.57,325.65 L306.57,305.35 L308.22,305.35 L308.22,295.20 L329.70,295.20 L329.70,285.05 L395.80,285.05 L395.80,285.05" fill="none" stroke="#e8941f" stroke-width="1.3"/>
<line x1="288.39" y1="376.40" x2="288.39" y2="356.10" stroke="#e8941f" stroke-width="1.3"/>
<rect x="348.38" y="363.45" width="5.60" height="5.60" fill="#a8002b"/>
<rect x="359.95" y="363.45" width="5.60" height="5.60" fill="#a8002b"/>
<rect x="393.00" y="363.45" width="5.60" height="5.60" fill="#a8002b"/>
<rect x="280.46" y="353.30" width="5.60" height="5.60" fill="#f6e0ee" stroke="#d1007a" stroke-width="1.1"/>
<rect x="283.77" y="333.00" width="5.60" height="5.60" fill="#f6e0ee" stroke="#d1007a" stroke-width="1.1"/>
<rect x="285.42" y="292.40" width="5.60" height="5.60" fill="#f6e0ee" stroke="#d1007a" stroke-width="1.1"/>
<rect x="287.07" y="272.10" width="5.60" height="5.60" fill="#f6e0ee" stroke="#d1007a" stroke-width="1.1"/>
<path d="M288.39,352.60 L291.61,356.10 L288.39,359.60 L285.17,356.10 Z" fill="#fdf0dd" stroke="#e8941f" stroke-width="1.1"/>
<path d="M290.04,342.45 L293.26,345.95 L290.04,349.45 L286.82,345.95 Z" fill="#fdf0dd" stroke="#e8941f" stroke-width="1.1"/>
<path d="M295.00,332.30 L298.22,335.80 L295.00,339.30 L291.78,335.80 Z" fill="#fdf0dd" stroke="#e8941f" stroke-width="1.1"/>
<path d="M296.65,322.15 L299.87,325.65 L296.65,329.15 L293.43,325.65 Z" fill="#fdf0dd" stroke="#e8941f" stroke-width="1.1"/>
<path d="M306.57,301.85 L309.79,305.35 L306.57,308.85 L303.35,305.35 Z" fill="#fdf0dd" stroke="#e8941f" stroke-width="1.1"/>
<path d="M308.22,291.70 L311.44,295.20 L308.22,298.70 L305.00,295.20 Z" fill="#fdf0dd" stroke="#e8941f" stroke-width="1.1"/>
<path d="M329.70,281.55 L332.92,285.05 L329.70,288.55 L326.48,285.05 Z" fill="#fdf0dd" stroke="#e8941f" stroke-width="1.1"/>
<path d="M395.80,281.55 L399.02,285.05 L395.80,288.55 L392.58,285.05 Z" fill="#fdf0dd" stroke="#e8941f" stroke-width="1.1"/>
<path d="M394.64,373.16 L397.34,378.56 L391.94,378.56 Z" fill="#1f3c80"/>
<circle cx="396.13" cy="376.40" r="2.16" fill="#5ba83a"/>
<circle cx="395.80" cy="376.40" r="2.90" fill="none" stroke="#4f1f72" stroke-width="0.95"/>
<path d="M401,287.3 H406.8 V367.4 H401" fill="none" stroke="#333" stroke-width="1"/>
<text x="410.30" y="329.50" font-size="8" textLength="11.00" lengthAdjust="spacingAndGlyphs" font-weight="bold" fill="#111" >****</text>
<text x="7.60" y="418.20" font-size="12" textLength="7.90" lengthAdjust="spacingAndGlyphs" font-weight="bold" fill="#000" stroke="#000" stroke-width="0.35">D</text>
<g stroke="#111" stroke-width="1.2" fill="none">
<line x1="50.4" y1="424.6" x2="50.4" y2="525.8000000000001"/>
<line x1="47.199999999999996" y1="525.2" x2="186.8" y2="525.2"/>
<line x1="47.199999999999996" y1="525.20" x2="50.4" y2="525.20"/>
<line x1="47.199999999999996" y1="496.65" x2="50.4" y2="496.65"/>
<line x1="47.199999999999996" y1="468.10" x2="50.4" y2="468.10"/>
<line x1="47.199999999999996" y1="439.55" x2="50.4" y2="439.55"/>
<line x1="50.20" y1="525.2" x2="50.20" y2="528.2"/>
<line x1="83.60" y1="525.2" x2="83.60" y2="528.2"/>
<line x1="117.00" y1="525.2" x2="117.00" y2="528.2"/>
<line x1="150.40" y1="525.2" x2="150.40" y2="528.2"/>
<line x1="183.80" y1="525.2" x2="183.80" y2="528.2"/>
</g>
<text x="44.20" y="528.20" font-size="8.4" text-anchor="end" fill="#111" >60</text>
<text x="44.20" y="499.65" font-size="8.4" text-anchor="end" fill="#111" >80</text>
<text x="44.20" y="471.10" font-size="8.4" text-anchor="end" fill="#111" >100</text>
<text x="44.20" y="442.55" font-size="8.4" text-anchor="end" fill="#111" >120</text>
<text x="50.20" y="539.20" font-size="8.4" text-anchor="middle" fill="#111" >0</text>
<text x="83.60" y="539.20" font-size="8.4" text-anchor="middle" fill="#111" >20</text>
<text x="117.00" y="539.20" font-size="8.4" text-anchor="middle" fill="#111" >40</text>
<text x="150.40" y="539.20" font-size="8.4" text-anchor="middle" fill="#111" >60</text>
<text x="183.80" y="539.20" font-size="8.4" text-anchor="middle" fill="#111" >80</text>
<text transform="translate(23.4,474.8) rotate(-90)" x="-23.20" y="0" font-size="9.8" textLength="46.4" lengthAdjust="spacingAndGlyphs" fill="#1a1a1a" stroke="#1a1a1a" stroke-width="0.3">% body weight</text>
<text x="95.60" y="551.90" font-size="9.4" textLength="45.50" lengthAdjust="spacingAndGlyphs" font-weight="bold" fill="#1a1a1a" >Days post BMT</text>
<path d="M57.64,487.94 V479.38 M55.44,479.38 H59.84 M55.44,487.94 H59.84" stroke="#5ba83a" stroke-width="0.8" fill="none"/>
<path d="M63.56,490.94 V482.38 M61.36,482.38 H65.76 M61.36,490.94 H65.76" stroke="#5ba83a" stroke-width="0.8" fill="none"/>
<path d="M66.52,499.36 V486.51 M64.32,486.51 H68.72 M64.32,499.36 H68.72" stroke="#5ba83a" stroke-width="0.8" fill="none"/>
<path d="M71.78,493.80 V485.23 M69.58,485.23 H73.98 M69.58,493.80 H73.98" stroke="#5ba83a" stroke-width="0.8" fill="none"/>
<path d="M76.23,481.38 V469.96 M74.03,469.96 H78.43 M74.03,481.38 H78.43" stroke="#5ba83a" stroke-width="0.8" fill="none"/>
<path d="M83.63,504.79 V479.09 M81.43,479.09 H85.83 M81.43,504.79 H85.83" stroke="#5ba83a" stroke-width="0.8" fill="none"/>
<path d="M90.21,508.36 V488.37 M88.01,488.37 H92.41 M88.01,508.36 H92.41" stroke="#5ba83a" stroke-width="0.8" fill="none"/>
<path d="M95.14,506.93 V489.80 M92.94,489.80 H97.34 M92.94,506.93 H97.34" stroke="#5ba83a" stroke-width="0.8" fill="none"/>
<path d="M101.72,509.50 V492.37 M99.52,492.37 H103.92 M99.52,509.50 H103.92" stroke="#5ba83a" stroke-width="0.8" fill="none"/>
<path d="M107.32,503.50 V489.23 M105.12,489.23 H109.52 M105.12,503.50 H109.52" stroke="#5ba83a" stroke-width="0.8" fill="none"/>
<path d="M111.92,503.07 V491.65 M109.72,491.65 H114.12 M109.72,503.07 H114.12" stroke="#5ba83a" stroke-width="0.8" fill="none"/>
<path d="M117.35,506.64 V495.22 M115.15,495.22 H119.55 M115.15,506.64 H119.55" stroke="#5ba83a" stroke-width="0.8" fill="none"/>
<path d="M123.60,512.35 V503.79 M121.40,503.79 H125.80 M121.40,512.35 H125.80" stroke="#5ba83a" stroke-width="0.8" fill="none"/>
<path d="M57.64,492.37 V483.80 M55.44,483.80 H59.84 M55.44,492.37 H59.84" stroke="#1f3c80" stroke-width="0.8" fill="none"/>
<path d="M63.56,493.80 V485.23 M61.36,485.23 H65.76 M61.36,493.80 H65.76" stroke="#1f3c80" stroke-width="0.8" fill="none"/>
<path d="M66.85,495.22 V486.66 M64.65,486.66 H69.05 M64.65,495.22 H69.05" stroke="#1f3c80" stroke-width="0.8" fill="none"/>
<path d="M71.78,493.80 V485.23 M69.58,485.23 H73.98 M69.58,493.80 H73.98" stroke="#1f3c80" stroke-width="0.8" fill="none"/>
<path d="M77.05,486.66 V478.09 M74.85,478.09 H79.25 M74.85,486.66 H79.25" stroke="#1f3c80" stroke-width="0.8" fill="none"/>
<path d="M83.63,488.09 V479.52 M81.43,479.52 H85.83 M81.43,488.09 H85.83" stroke="#1f3c80" stroke-width="0.8" fill="none"/>
<path d="M90.21,488.66 V480.09 M88.01,480.09 H92.41 M88.01,488.66 H92.41" stroke="#1f3c80" stroke-width="0.8" fill="none"/>
<path d="M95.31,490.23 V481.66 M93.11,481.66 H97.51 M93.11,490.23 H97.51" stroke="#1f3c80" stroke-width="0.8" fill="none"/>
<path d="M102.22,511.64 V503.07 M100.02,503.07 H104.42 M100.02,511.64 H104.42" stroke="#1f3c80" stroke-width="0.8" fill="none"/>
<path d="M107.97,518.21 V506.79 M105.77,506.79 H110.17 M105.77,518.21 H110.17" stroke="#1f3c80" stroke-width="0.8" fill="none"/>
<path d="M111.27,516.78 V508.21 M109.06,508.21 H113.47 M109.06,516.78 H113.47" stroke="#1f3c80" stroke-width="0.8" fill="none"/>
<path d="M57.64,489.51 V480.95 M55.44,480.95 H59.84 M55.44,489.51 H59.84" stroke="#e8941f" stroke-width="0.8" fill="none"/>
<path d="M63.56,490.94 V482.38 M61.36,482.38 H65.76 M61.36,490.94 H65.76" stroke="#e8941f" stroke-width="0.8" fill="none"/>
<path d="M66.85,493.80 V485.23 M64.65,485.23 H69.05 M64.65,493.80 H69.05" stroke="#e8941f" stroke-width="0.8" fill="none"/>
<path d="M71.78,492.37 V483.80 M69.58,483.80 H73.98 M69.58,492.37 H73.98" stroke="#e8941f" stroke-width="0.8" fill="none"/>
<path d="M77.05,488.09 V479.52 M74.85,479.52 H79.25 M74.85,488.09 H79.25" stroke="#e8941f" stroke-width="0.8" fill="none"/>
<path d="M83.63,482.95 V474.38 M81.43,474.38 H85.83 M81.43,482.95 H85.83" stroke="#e8941f" stroke-width="0.8" fill="none"/>
<path d="M90.21,480.95 V472.38 M88.01,472.38 H92.41 M88.01,480.95 H92.41" stroke="#e8941f" stroke-width="0.8" fill="none"/>
<path d="M95.14,485.23 V476.67 M92.94,476.67 H97.34 M92.94,485.23 H97.34" stroke="#e8941f" stroke-width="0.8" fill="none"/>
<path d="M102.22,486.66 V478.09 M100.02,478.09 H104.42 M100.02,486.66 H104.42" stroke="#e8941f" stroke-width="0.8" fill="none"/>
<path d="M106.82,494.65 V486.09 M104.62,486.09 H109.02 M104.62,494.65 H109.02" stroke="#e8941f" stroke-width="0.8" fill="none"/>
<path d="M112.42,498.65 V490.08 M110.22,490.08 H114.62 M110.22,498.65 H114.62" stroke="#e8941f" stroke-width="0.8" fill="none"/>
<path d="M116.36,502.65 V494.08 M114.16,494.08 H118.56 M114.16,502.65 H118.56" stroke="#e8941f" stroke-width="0.8" fill="none"/>
<path d="M57.64,494.51 V488.80 M55.44,488.80 H59.84 M55.44,494.51 H59.84" stroke="#4f1f72" stroke-width="0.7" fill="none"/>
<path d="M63.56,495.22 V489.51 M61.36,489.51 H65.76 M61.36,495.22 H65.76" stroke="#4f1f72" stroke-width="0.7" fill="none"/>
<path d="M66.85,496.65 V490.94 M64.65,490.94 H69.05 M64.65,496.65 H69.05" stroke="#4f1f72" stroke-width="0.7" fill="none"/>
<path d="M71.95,495.79 V490.08 M69.75,490.08 H74.15 M69.75,495.79 H74.15" stroke="#4f1f72" stroke-width="0.7" fill="none"/>
<path d="M77.05,490.94 V485.23 M74.85,485.23 H79.25 M74.85,490.94 H79.25" stroke="#4f1f72" stroke-width="0.7" fill="none"/>
<path d="M84.12,481.09 V475.38 M81.92,475.38 H86.32 M81.92,481.09 H86.32" stroke="#4f1f72" stroke-width="0.7" fill="none"/>
<path d="M90.21,480.52 V471.95 M88.01,471.95 H92.41 M88.01,480.52 H92.41" stroke="#4f1f72" stroke-width="0.7" fill="none"/>
<path d="M94.65,483.52 V474.95 M92.45,474.95 H96.85 M92.45,483.52 H96.85" stroke="#4f1f72" stroke-width="0.7" fill="none"/>
<path d="M101.89,483.09 V474.52 M99.69,474.52 H104.09 M99.69,483.09 H104.09" stroke="#4f1f72" stroke-width="0.7" fill="none"/>
<path d="M106.99,478.09 V469.53 M104.79,469.53 H109.19 M104.79,478.09 H109.19" stroke="#4f1f72" stroke-width="0.7" fill="none"/>
<path d="M112.25,469.53 V460.96 M110.05,460.96 H114.45 M110.05,469.53 H114.45" stroke="#4f1f72" stroke-width="0.7" fill="none"/>
<path d="M116.69,465.53 V456.97 M114.49,456.97 H118.89 M114.49,465.53 H118.89" stroke="#4f1f72" stroke-width="0.7" fill="none"/>
<path d="M123.44,462.82 V454.25 M121.24,454.25 H125.64 M121.24,462.82 H125.64" stroke="#4f1f72" stroke-width="0.7" fill="none"/>
<path d="M128.37,462.39 V453.83 M126.17,453.83 H130.57 M126.17,462.39 H130.57" stroke="#4f1f72" stroke-width="0.7" fill="none"/>
<path d="M133.47,456.54 V450.83 M131.27,450.83 H135.67 M131.27,456.54 H135.67" stroke="#4f1f72" stroke-width="0.7" fill="none"/>
<path d="M138.74,460.39 V454.68 M136.54,454.68 H140.94 M136.54,460.39 H140.94" stroke="#4f1f72" stroke-width="0.7" fill="none"/>
<path d="M159.96,458.39 V452.68 M157.76,452.68 H162.16 M157.76,458.39 H162.16" stroke="#4f1f72" stroke-width="0.7" fill="none"/>
<path d="M165.39,461.68 V455.97 M163.19,455.97 H167.59 M163.19,461.68 H167.59" stroke="#4f1f72" stroke-width="0.7" fill="none"/>
<path d="M182.00,452.54 V449.69 M179.80,449.69 H184.20 M179.80,452.54 H184.20" stroke="#4f1f72" stroke-width="0.7" fill="none"/>
<path d="M58.46,489.08 V469.10 M56.26,469.10 H60.66 M56.26,489.08 H60.66" stroke="#c4405f" stroke-width="1.0" fill="none"/>
<path d="M64.38,488.94 V466.10 M62.18,466.10 H66.58 M62.18,488.94 H66.58" stroke="#c4405f" stroke-width="1.0" fill="none"/>
<path d="M67.67,488.94 V466.10 M65.47,466.10 H69.87 M65.47,488.94 H69.87" stroke="#c4405f" stroke-width="1.0" fill="none"/>
<path d="M72.77,489.80 V469.81 M70.57,469.81 H74.97 M70.57,489.80 H74.97" stroke="#c4405f" stroke-width="1.0" fill="none"/>
<path d="M76.39,479.09 V456.25 M74.19,456.25 H78.59 M74.19,479.09 H78.59" stroke="#c4405f" stroke-width="1.0" fill="none"/>
<path d="M83.63,474.67 V457.54 M81.43,457.54 H85.83 M81.43,474.67 H85.83" stroke="#c4405f" stroke-width="1.0" fill="none"/>
<path d="M90.21,481.52 V455.82 M88.01,455.82 H92.41 M88.01,481.52 H92.41" stroke="#c4405f" stroke-width="1.0" fill="none"/>
<path d="M95.14,484.52 V458.82 M92.94,458.82 H97.34 M92.94,484.52 H97.34" stroke="#c4405f" stroke-width="1.0" fill="none"/>
<path d="M101.23,496.65 V453.83 M99.03,453.83 H103.43 M99.03,496.65 H103.43" stroke="#c4405f" stroke-width="1.0" fill="none"/>
<path d="M106.82,493.08 V443.12 M104.62,443.12 H109.02 M104.62,493.08 H109.02" stroke="#c4405f" stroke-width="1.0" fill="none"/>
<path d="M111.92,499.93 V451.40 M109.72,451.40 H114.12 M109.72,499.93 H114.12" stroke="#c4405f" stroke-width="1.0" fill="none"/>
<path d="M116.86,503.36 V434.84 M114.66,434.84 H119.06 M114.66,503.36 H119.06" stroke="#c4405f" stroke-width="1.0" fill="none"/>
<path d="M123.27,496.94 V465.53 M121.07,465.53 H125.47 M121.07,496.94 H125.47" stroke="#c4405f" stroke-width="1.0" fill="none"/>
<path d="M128.37,493.94 V476.81 M126.17,476.81 H130.57 M126.17,493.94 H130.57" stroke="#c4405f" stroke-width="1.0" fill="none"/>
<path d="M133.47,492.80 V479.95 M131.27,479.95 H135.67 M131.27,492.80 H135.67" stroke="#c4405f" stroke-width="1.0" fill="none"/>
<path d="M138.41,496.51 V486.51 M136.21,486.51 H140.61 M136.21,496.51 H140.61" stroke="#c4405f" stroke-width="1.0" fill="none"/>
<path d="M160.45,494.51 V491.65 M158.25,491.65 H162.65 M158.25,494.51 H162.65" stroke="#c4405f" stroke-width="1.0" fill="none"/>
<path d="M165.39,493.65 V490.80 M163.19,490.80 H167.59 M163.19,493.65 H167.59" stroke="#c4405f" stroke-width="1.0" fill="none"/>
<path d="M182.00,488.23 V475.67 M179.80,475.67 H184.20 M179.80,488.23 H184.20" stroke="#c4405f" stroke-width="1.0" fill="none"/>
<path d="M50.40,468.10 L57.64,485.23 L63.56,486.66 L66.85,489.51 L71.78,488.09 L77.05,483.80 L83.63,478.66 L90.21,476.67 L95.14,480.95 L102.22,482.38 L106.82,490.37 L112.42,494.37 L116.36,498.36" fill="none" stroke="#e8941f" stroke-width="1.3" stroke-linejoin="round"/>
<path d="M50.40,464.95 L53.30,468.10 L50.40,471.25 L47.50,468.10 Z" fill="#fdf0dd" stroke="#e8941f" stroke-width="1.1"/>
<path d="M57.64,482.08 L60.54,485.23 L57.64,488.38 L54.74,485.23 Z" fill="#fdf0dd" stroke="#e8941f" stroke-width="1.1"/>
<path d="M63.56,483.51 L66.46,486.66 L63.56,489.81 L60.66,486.66 Z" fill="#fdf0dd" stroke="#e8941f" stroke-width="1.1"/>
<path d="M66.85,486.36 L69.75,489.51 L66.85,492.66 L63.95,489.51 Z" fill="#fdf0dd" stroke="#e8941f" stroke-width="1.1"/>
<path d="M71.78,484.94 L74.68,488.09 L71.78,491.24 L68.89,488.09 Z" fill="#fdf0dd" stroke="#e8941f" stroke-width="1.1"/>
<path d="M77.05,480.65 L79.95,483.80 L77.05,486.95 L74.15,483.80 Z" fill="#fdf0dd" stroke="#e8941f" stroke-width="1.1"/>
<path d="M83.63,475.51 L86.53,478.66 L83.63,481.81 L80.73,478.66 Z" fill="#fdf0dd" stroke="#e8941f" stroke-width="1.1"/>
<path d="M90.21,473.52 L93.11,476.67 L90.21,479.81 L87.31,476.67 Z" fill="#fdf0dd" stroke="#e8941f" stroke-width="1.1"/>
<path d="M95.14,477.80 L98.04,480.95 L95.14,484.10 L92.25,480.95 Z" fill="#fdf0dd" stroke="#e8941f" stroke-width="1.1"/>
<path d="M102.22,479.23 L105.12,482.38 L102.22,485.52 L99.32,482.38 Z" fill="#fdf0dd" stroke="#e8941f" stroke-width="1.1"/>
<path d="M106.82,487.22 L109.72,490.37 L106.82,493.52 L103.93,490.37 Z" fill="#fdf0dd" stroke="#e8941f" stroke-width="1.1"/>
<path d="M112.42,491.22 L115.31,494.37 L112.42,497.52 L109.52,494.37 Z" fill="#fdf0dd" stroke="#e8941f" stroke-width="1.1"/>
<path d="M116.36,495.21 L119.26,498.36 L116.36,501.51 L113.47,498.36 Z" fill="#fdf0dd" stroke="#e8941f" stroke-width="1.1"/>
<path d="M50.40,468.10 L57.14,487.80 L63.56,493.80 L66.85,496.65 L71.95,499.22 L77.05,500.50" fill="none" stroke="#d1007a" stroke-width="1.3" stroke-linejoin="round"/>
<rect x="47.60" y="465.30" width="5.60" height="5.60" fill="#f6e0ee" stroke="#d1007a" stroke-width="1.1"/>
<rect x="54.34" y="485.00" width="5.60" height="5.60" fill="#f6e0ee" stroke="#d1007a" stroke-width="1.1"/>
<rect x="60.76" y="491.00" width="5.60" height="5.60" fill="#f6e0ee" stroke="#d1007a" stroke-width="1.1"/>
<rect x="64.05" y="493.85" width="5.60" height="5.60" fill="#f6e0ee" stroke="#d1007a" stroke-width="1.1"/>
<rect x="69.15" y="496.42" width="5.60" height="5.60" fill="#f6e0ee" stroke="#d1007a" stroke-width="1.1"/>
<rect x="74.25" y="497.70" width="5.60" height="5.60" fill="#f6e0ee" stroke="#d1007a" stroke-width="1.1"/>
<path d="M50.40,468.10 L57.64,491.65 L63.56,492.37 L66.85,493.80 L71.95,492.94 L77.05,488.09 L84.12,478.24 L90.21,476.24 L94.65,479.23 L101.89,478.81 L106.99,473.81 L112.25,465.25 L116.69,461.25 L123.44,458.54 L128.37,458.11 L133.47,453.68 L138.74,457.54 L159.96,455.54 L165.39,458.82 L182.00,451.11" fill="none" stroke="#4f1f72" stroke-width="1.3" stroke-linejoin="round"/>
<circle cx="50.40" cy="468.10" r="2.90" fill="none" stroke="#4f1f72" stroke-width="0.95"/>
<circle cx="57.64" cy="491.65" r="2.90" fill="none" stroke="#4f1f72" stroke-width="0.95"/>
<circle cx="63.56" cy="492.37" r="2.90" fill="none" stroke="#4f1f72" stroke-width="0.95"/>
<circle cx="66.85" cy="493.80" r="2.90" fill="none" stroke="#4f1f72" stroke-width="0.95"/>
<circle cx="71.95" cy="492.94" r="2.90" fill="none" stroke="#4f1f72" stroke-width="0.95"/>
<circle cx="77.05" cy="488.09" r="2.90" fill="none" stroke="#4f1f72" stroke-width="0.95"/>
<circle cx="84.12" cy="478.24" r="2.90" fill="none" stroke="#4f1f72" stroke-width="0.95"/>
<circle cx="90.21" cy="476.24" r="2.90" fill="none" stroke="#4f1f72" stroke-width="0.95"/>
<circle cx="94.65" cy="479.23" r="2.90" fill="none" stroke="#4f1f72" stroke-width="0.95"/>
<circle cx="101.89" cy="478.81" r="2.90" fill="none" stroke="#4f1f72" stroke-width="0.95"/>
<circle cx="106.99" cy="473.81" r="2.90" fill="none" stroke="#4f1f72" stroke-width="0.95"/>
<circle cx="112.25" cy="465.25" r="2.90" fill="none" stroke="#4f1f72" stroke-width="0.95"/>
<circle cx="116.69" cy="461.25" r="2.90" fill="none" stroke="#4f1f72" stroke-width="0.95"/>
<circle cx="123.44" cy="458.54" r="2.90" fill="none" stroke="#4f1f72" stroke-width="0.95"/>
<circle cx="128.37" cy="458.11" r="2.90" fill="none" stroke="#4f1f72" stroke-width="0.95"/>
<circle cx="133.47" cy="453.68" r="2.90" fill="none" stroke="#4f1f72" stroke-width="0.95"/>
<circle cx="138.74" cy="457.54" r="2.90" fill="none" stroke="#4f1f72" stroke-width="0.95"/>
<circle cx="159.96" cy="455.54" r="2.90" fill="none" stroke="#4f1f72" stroke-width="0.95"/>
<circle cx="165.39" cy="458.82" r="2.90" fill="none" stroke="#4f1f72" stroke-width="0.95"/>
<circle cx="182.00" cy="451.11" r="2.90" fill="none" stroke="#4f1f72" stroke-width="0.95"/>
<path d="M50.40,468.10 L57.64,488.09 L63.56,489.51 L66.85,490.94 L71.78,489.51 L77.05,482.38 L83.63,483.80 L90.21,484.37 L95.31,485.94 L102.22,507.36 L107.97,512.50 L111.27,512.50" fill="none" stroke="#1f3c80" stroke-width="1.3" stroke-linejoin="round"/>
<path d="M50.40,464.86 L53.10,470.26 L47.70,470.26 Z" fill="#1f3c80"/>
<path d="M57.64,484.85 L60.34,490.25 L54.94,490.25 Z" fill="#1f3c80"/>
<path d="M63.56,486.27 L66.26,491.67 L60.86,491.67 Z" fill="#1f3c80"/>
<path d="M66.85,487.70 L69.55,493.10 L64.15,493.10 Z" fill="#1f3c80"/>
<path d="M71.78,486.27 L74.48,491.67 L69.08,491.67 Z" fill="#1f3c80"/>
<path d="M77.05,479.13 L79.75,484.54 L74.35,484.54 Z" fill="#1f3c80"/>
<path d="M83.63,480.56 L86.33,485.96 L80.93,485.96 Z" fill="#1f3c80"/>
<path d="M90.21,481.13 L92.91,486.53 L87.51,486.53 Z" fill="#1f3c80"/>
<path d="M95.31,482.70 L98.01,488.10 L92.61,488.10 Z" fill="#1f3c80"/>
<path d="M102.22,504.12 L104.92,509.52 L99.52,509.52 Z" fill="#1f3c80"/>
<path d="M107.97,509.26 L110.67,514.66 L105.27,514.66 Z" fill="#1f3c80"/>
<path d="M111.27,509.26 L113.97,514.66 L108.56,514.66 Z" fill="#1f3c80"/>
<path d="M50.40,468.10 L57.64,483.66 L63.56,486.66 L66.52,492.94 L71.78,489.51 L76.23,475.67 L83.63,491.94 L90.21,498.36 L95.14,498.36 L101.72,500.93 L107.32,496.36 L111.92,497.36 L117.35,500.93 L123.60,508.07" fill="none" stroke="#5ba83a" stroke-width="1.3" stroke-linejoin="round"/>
<circle cx="50.40" cy="468.10" r="2.70" fill="#5ba83a"/>
<circle cx="57.64" cy="483.66" r="2.70" fill="#5ba83a"/>
<circle cx="63.56" cy="486.66" r="2.70" fill="#5ba83a"/>
<circle cx="66.52" cy="492.94" r="2.70" fill="#5ba83a"/>
<circle cx="71.78" cy="489.51" r="2.70" fill="#5ba83a"/>
<circle cx="76.23" cy="475.67" r="2.70" fill="#5ba83a"/>
<circle cx="83.63" cy="491.94" r="2.70" fill="#5ba83a"/>
<circle cx="90.21" cy="498.36" r="2.70" fill="#5ba83a"/>
<circle cx="95.14" cy="498.36" r="2.70" fill="#5ba83a"/>
<circle cx="101.72" cy="500.93" r="2.70" fill="#5ba83a"/>
<circle cx="107.32" cy="496.36" r="2.70" fill="#5ba83a"/>
<circle cx="111.92" cy="497.36" r="2.70" fill="#5ba83a"/>
<circle cx="117.35" cy="500.93" r="2.70" fill="#5ba83a"/>
<circle cx="123.60" cy="508.07" r="2.70" fill="#5ba83a"/>
<path d="M50.40,468.10 L58.46,479.09 L64.38,477.52 L67.67,477.52 L72.77,479.81 L76.39,467.67 L83.63,466.10 L90.21,468.67 L95.14,471.67 L101.23,475.24 L106.82,468.10 L111.92,475.67 L116.86,469.10 L123.27,481.23 L128.37,485.37 L133.47,486.37 L138.41,491.51 L160.45,493.08 L165.39,492.22 L182.00,481.95" fill="none" stroke="#a8002b" stroke-width="1.6" stroke-linejoin="round"/>
<rect x="47.32" y="465.02" width="6.16" height="6.16" fill="#a8002b"/>
<rect x="55.38" y="476.01" width="6.16" height="6.16" fill="#a8002b"/>
<rect x="61.30" y="474.44" width="6.16" height="6.16" fill="#a8002b"/>
<rect x="64.59" y="474.44" width="6.16" height="6.16" fill="#a8002b"/>
<rect x="69.69" y="476.73" width="6.16" height="6.16" fill="#a8002b"/>
<rect x="73.31" y="464.59" width="6.16" height="6.16" fill="#a8002b"/>
<rect x="80.55" y="463.02" width="6.16" height="6.16" fill="#a8002b"/>
<rect x="87.13" y="465.59" width="6.16" height="6.16" fill="#a8002b"/>
<rect x="92.06" y="468.59" width="6.16" height="6.16" fill="#a8002b"/>
<rect x="98.15" y="472.16" width="6.16" height="6.16" fill="#a8002b"/>
<rect x="103.74" y="465.02" width="6.16" height="6.16" fill="#a8002b"/>
<rect x="108.84" y="472.59" width="6.16" height="6.16" fill="#a8002b"/>
<rect x="113.78" y="466.02" width="6.16" height="6.16" fill="#a8002b"/>
<rect x="120.19" y="478.15" width="6.16" height="6.16" fill="#a8002b"/>
<rect x="125.29" y="482.29" width="6.16" height="6.16" fill="#a8002b"/>
<rect x="130.39" y="483.29" width="6.16" height="6.16" fill="#a8002b"/>
<rect x="135.33" y="488.43" width="6.16" height="6.16" fill="#a8002b"/>
<rect x="157.37" y="490.00" width="6.16" height="6.16" fill="#a8002b"/>
<rect x="162.31" y="489.14" width="6.16" height="6.16" fill="#a8002b"/>
<rect x="178.92" y="478.87" width="6.16" height="6.16" fill="#a8002b"/>
<text x="83.60" y="457.60" font-size="7.5" text-anchor="middle" font-weight="bold" fill="#111" >*</text>
<text x="90.30" y="454.60" font-size="7.5" text-anchor="middle" font-weight="bold" fill="#111" >*</text>
<text x="95.40" y="458.70" font-size="7.5" text-anchor="middle" font-weight="bold" fill="#111" >*</text>
<path d="M186.9,480 H193.1 V505.6 H186.9" fill="none" stroke="#333" stroke-width="1"/>
<text x="220.50" y="417.80" font-size="12" textLength="7.40" lengthAdjust="spacingAndGlyphs" font-weight="bold" fill="#000" stroke="#000" stroke-width="0.35">F</text>
<g stroke="#111" stroke-width="1.2" fill="none">
<line x1="263.7" y1="422.7" x2="263.7" y2="525.5"/>
<line x1="260.5" y1="524.9" x2="389" y2="524.9"/>
<line x1="260.5" y1="524.90" x2="263.7" y2="524.90"/>
<line x1="260.5" y1="475.10" x2="263.7" y2="475.10"/>
<line x1="260.5" y1="425.30" x2="263.7" y2="425.30"/>
<line x1="263.70" y1="524.9" x2="263.70" y2="527.9"/>
<line x1="294.40" y1="524.9" x2="294.40" y2="527.9"/>
<line x1="325.10" y1="524.9" x2="325.10" y2="527.9"/>
<line x1="355.80" y1="524.9" x2="355.80" y2="527.9"/>
<line x1="386.50" y1="524.9" x2="386.50" y2="527.9"/>
</g>
<text x="258.50" y="527.90" font-size="8.4" text-anchor="end" fill="#111" >0</text>
<text x="258.50" y="478.10" font-size="8.4" text-anchor="end" fill="#111" >2</text>
<text x="258.50" y="428.30" font-size="8.4" text-anchor="end" fill="#111" >4</text>
<text x="263.70" y="539.20" font-size="8.4" text-anchor="middle" fill="#111" >0</text>
<text x="294.40" y="539.20" font-size="8.4" text-anchor="middle" fill="#111" >20</text>
<text x="325.10" y="539.20" font-size="8.4" text-anchor="middle" fill="#111" >40</text>
<text x="355.80" y="539.20" font-size="8.4" text-anchor="middle" fill="#111" >60</text>
<text x="386.50" y="539.20" font-size="8.4" text-anchor="middle" fill="#111" >80</text>
<text transform="translate(246.8,473.5) rotate(-90)" x="-20.05" y="0" font-size="9.8" textLength="40.1" lengthAdjust="spacingAndGlyphs" fill="#1a1a1a" stroke="#1a1a1a" stroke-width="0.3">Clinical score</text>
<text x="303.90" y="551.90" font-size="9.4" textLength="45.20" lengthAdjust="spacingAndGlyphs" font-weight="bold" fill="#1a1a1a" >Days post BMT</text>
<path d="M294.40,501.99 V485.56 M292.20,485.56 H296.60 M292.20,501.99 H296.60" stroke="#e8941f" stroke-width="0.9" fill="none"/>
<path d="M309.75,503.73 V496.26 M307.55,496.26 H311.95 M307.55,503.73 H311.95" stroke="#e8941f" stroke-width="0.9" fill="none"/>
<path d="M371.15,478.83 V472.61 M368.95,472.61 H373.35 M368.95,478.83 H373.35" stroke="#e8941f" stroke-width="0.9" fill="none"/>
<path d="M309.75,514.44 V492.53 M307.55,492.53 H311.95 M307.55,514.44 H311.95" stroke="#1f3c80" stroke-width="0.9" fill="none"/>
<path d="M325.10,484.31 V466.38 M322.90,466.38 H327.30 M322.90,484.31 H327.30" stroke="#1f3c80" stroke-width="0.9" fill="none"/>
<path d="M279.05,512.45 V502.49 M276.85,502.49 H281.25 M276.85,512.45 H281.25" stroke="#1f3c80" stroke-width="0.9" fill="none"/>
<path d="M294.40,515.44 V503.73 M292.20,503.73 H296.60 M292.20,515.44 H296.60" stroke="#5ba83a" stroke-width="0.9" fill="none"/>
<path d="M309.75,468.63 V444.22 M307.55,444.22 H311.95 M307.55,468.63 H311.95" stroke="#5ba83a" stroke-width="0.9" fill="none"/>
<path d="M325.10,461.90 V450.95 M322.90,450.95 H327.30 M322.90,461.90 H327.30" stroke="#5ba83a" stroke-width="0.9" fill="none"/>
<path d="M279.05,521.16 V512.45 M276.85,512.45 H281.25 M276.85,521.16 H281.25" stroke="#a8002b" stroke-width="0.9" fill="none"/>
<path d="M309.75,523.41 V507.97 M307.55,507.97 H311.95 M307.55,523.41 H311.95" stroke="#a8002b" stroke-width="0.9" fill="none"/>
<path d="M325.10,520.42 V504.48 M322.90,504.48 H327.30 M322.90,520.42 H327.30" stroke="#a8002b" stroke-width="0.9" fill="none"/>
<path d="M355.80,504.98 V495.02 M353.60,495.02 H358.00 M353.60,504.98 H358.00" stroke="#a8002b" stroke-width="0.9" fill="none"/>
<path d="M371.15,494.52 V472.11 M368.95,472.11 H373.35 M368.95,494.52 H373.35" stroke="#a8002b" stroke-width="0.9" fill="none"/>
<path d="M386.50,487.55 V479.58 M384.30,479.58 H388.70 M384.30,487.55 H388.70" stroke="#a8002b" stroke-width="0.9" fill="none"/>
<path d="M263.70,524.90 L279.05,500.00 L294.40,524.90 L309.75,524.90 L325.10,524.90 L340.45,524.90 L355.80,524.90 L371.15,524.90 L386.50,524.90" fill="none" stroke="#4f1f72" stroke-width="1.3" stroke-linejoin="round"/>
<path d="M263.70,524.90 L279.05,511.20 L294.40,493.77 L309.75,500.00 L325.10,487.55 L340.45,487.55 L355.80,462.65 L371.15,475.10 L386.50,487.55" fill="none" stroke="#e8941f" stroke-width="1.3" stroke-linejoin="round"/>
<path d="M263.70,524.90 L279.05,507.47 L294.40,524.90 L309.75,502.99 L325.10,475.60" fill="none" stroke="#1f3c80" stroke-width="1.3" stroke-linejoin="round"/>
<path d="M263.70,524.90 L279.05,507.97 L294.40,509.96 L309.75,456.42 L325.10,456.42" fill="none" stroke="#5ba83a" stroke-width="1.3" stroke-linejoin="round"/>
<path d="M263.70,524.90 L279.05,517.43 L294.40,524.90 L309.75,517.43 L325.10,512.70 L340.45,506.47 L355.80,500.00 L371.15,483.32 L386.50,483.32" fill="none" stroke="#a8002b" stroke-width="1.5" stroke-linejoin="round"/>
<path d="M263.70,524.90 L279.05,512.70" fill="none" stroke="#d1007a" stroke-width="1.3" stroke-linejoin="round"/>
<circle cx="263.70" cy="524.90" r="2.90" fill="none" stroke="#4f1f72" stroke-width="0.95"/>
<circle cx="279.05" cy="500.00" r="2.90" fill="none" stroke="#4f1f72" stroke-width="0.95"/>
<circle cx="294.40" cy="524.90" r="2.90" fill="none" stroke="#4f1f72" stroke-width="0.95"/>
<circle cx="309.75" cy="524.90" r="2.90" fill="none" stroke="#4f1f72" stroke-width="0.95"/>
<circle cx="325.10" cy="524.90" r="2.90" fill="none" stroke="#4f1f72" stroke-width="0.95"/>
<circle cx="340.45" cy="524.90" r="2.90" fill="none" stroke="#4f1f72" stroke-width="0.95"/>
<circle cx="355.80" cy="524.90" r="2.90" fill="none" stroke="#4f1f72" stroke-width="0.95"/>
<circle cx="371.15" cy="524.90" r="2.90" fill="none" stroke="#4f1f72" stroke-width="0.95"/>
<circle cx="386.50" cy="524.90" r="2.90" fill="none" stroke="#4f1f72" stroke-width="0.95"/>
<path d="M263.70,521.40 L266.92,524.90 L263.70,528.40 L260.48,524.90 Z" fill="#fdf0dd" stroke="#e8941f" stroke-width="1.1"/>
<path d="M279.05,507.70 L282.27,511.20 L279.05,514.70 L275.83,511.20 Z" fill="#fdf0dd" stroke="#e8941f" stroke-width="1.1"/>
<path d="M294.40,490.27 L297.62,493.77 L294.40,497.27 L291.18,493.77 Z" fill="#fdf0dd" stroke="#e8941f" stroke-width="1.1"/>
<path d="M309.75,496.50 L312.97,500.00 L309.75,503.50 L306.53,500.00 Z" fill="#fdf0dd" stroke="#e8941f" stroke-width="1.1"/>
<path d="M325.10,484.05 L328.32,487.55 L325.10,491.05 L321.88,487.55 Z" fill="#fdf0dd" stroke="#e8941f" stroke-width="1.1"/>
<path d="M340.45,484.05 L343.67,487.55 L340.45,491.05 L337.23,487.55 Z" fill="#fdf0dd" stroke="#e8941f" stroke-width="1.1"/>
<path d="M355.80,459.15 L359.02,462.65 L355.80,466.15 L352.58,462.65 Z" fill="#fdf0dd" stroke="#e8941f" stroke-width="1.1"/>
<path d="M371.15,471.60 L374.37,475.10 L371.15,478.60 L367.93,475.10 Z" fill="#fdf0dd" stroke="#e8941f" stroke-width="1.1"/>
<path d="M386.50,484.05 L389.72,487.55 L386.50,491.05 L383.28,487.55 Z" fill="#fdf0dd" stroke="#e8941f" stroke-width="1.1"/>
<path d="M279.05,504.23 L281.75,509.63 L276.35,509.63 Z" fill="#1f3c80"/>
<path d="M294.40,521.66 L297.10,527.06 L291.70,527.06 Z" fill="#1f3c80"/>
<path d="M309.75,499.75 L312.45,505.15 L307.05,505.15 Z" fill="#1f3c80"/>
<path d="M325.10,472.36 L327.80,477.76 L322.40,477.76 Z" fill="#1f3c80"/>
<circle cx="279.05" cy="507.97" r="2.70" fill="#5ba83a"/>
<circle cx="294.40" cy="509.96" r="2.70" fill="#5ba83a"/>
<circle cx="309.75" cy="456.42" r="2.70" fill="#5ba83a"/>
<circle cx="325.10" cy="456.42" r="2.70" fill="#5ba83a"/>
<rect x="276.25" y="514.63" width="5.60" height="5.60" fill="#a8002b"/>
<rect x="291.60" y="522.10" width="5.60" height="5.60" fill="#a8002b"/>
<rect x="306.95" y="514.63" width="5.60" height="5.60" fill="#a8002b"/>
<rect x="322.30" y="509.90" width="5.60" height="5.60" fill="#a8002b"/>
<rect x="337.65" y="503.67" width="5.60" height="5.60" fill="#a8002b"/>
<rect x="353.00" y="497.20" width="5.60" height="5.60" fill="#a8002b"/>
<rect x="368.35" y="480.52" width="5.60" height="5.60" fill="#a8002b"/>
<rect x="383.70" y="480.52" width="5.60" height="5.60" fill="#a8002b"/>
<rect x="260.90" y="522.10" width="5.60" height="5.60" fill="#f6e0ee" stroke="#d1007a" stroke-width="1.1"/>
<rect x="276.25" y="509.90" width="5.60" height="5.60" fill="#f6e0ee" stroke="#d1007a" stroke-width="1.1"/>
<text x="309.75" y="444.20" font-size="7.5" text-anchor="middle" font-weight="bold" fill="#111" >*</text>
<text x="325.10" y="449.80" font-size="7.5" text-anchor="middle" font-weight="bold" fill="#111" >**</text>
<path d="M393,457.3 H398.8 V484.2 H393" fill="none" stroke="#333" stroke-width="1"/>
<line x1="91" y1="570.2" x2="104.8" y2="570.2" stroke="#4f1f72" stroke-width="1.2"/>
<circle cx="97.90" cy="570.20" r="2.90" fill="none" stroke="#4f1f72" stroke-width="0.95"/>
<text x="108.50" y="573.20" font-size="8.4" textLength="11.70" lengthAdjust="spacingAndGlyphs" fill="#111" >BM</text>
<line x1="91" y1="582.3" x2="104.8" y2="582.3" stroke="#d1007a" stroke-width="1.2"/>
<rect x="95.10" y="579.50" width="5.60" height="5.60" fill="#f6e0ee" stroke="#d1007a" stroke-width="1.1"/>
<text x="108.50" y="585.30" font-size="8.4" textLength="34.70" lengthAdjust="spacingAndGlyphs" fill="#111" >BM+P815</text>
<line x1="152.9" y1="570.2" x2="166.70000000000002" y2="570.2" stroke="#1f3c80" stroke-width="1.2"/>
<path d="M159.80,566.96 L162.50,572.36 L157.10,572.36 Z" fill="#1f3c80"/>
<text x="170.40" y="573.20" font-size="8.4" textLength="54.80" lengthAdjust="spacingAndGlyphs" fill="#111" >BM+P815+Teffs</text>
<line x1="152.9" y1="582.3" x2="166.70000000000002" y2="582.3" stroke="#e8941f" stroke-width="1.2"/>
<path d="M159.80,578.80 L163.02,582.30 L159.80,585.80 L156.58,582.30 Z" fill="#fdf0dd" stroke="#e8941f" stroke-width="1.1"/>
<text x="170.40" y="585.30" font-size="8.4" textLength="72.20" lengthAdjust="spacingAndGlyphs" fill="#111" >+Control CD4<tspan font-size="5" dy="-3">+</tspan><tspan dy="3"> iTregs</tspan></text>
<line x1="251.2" y1="570.2" x2="265.0" y2="570.2" stroke="#5ba83a" stroke-width="1.2"/>
<circle cx="258.10" cy="570.20" r="2.70" fill="#5ba83a"/>
<text x="268.70" y="573.20" font-size="8.4" textLength="72.20" lengthAdjust="spacingAndGlyphs" fill="#111" >+Control CD8<tspan font-size="5" dy="-3">+</tspan><tspan dy="3"> iTregs</tspan></text>
<line x1="251.2" y1="582.3" x2="265.0" y2="582.3" stroke="#a8002b" stroke-width="1.2"/>
<rect x="255.30" y="579.50" width="5.60" height="5.60" fill="#a8002b"/>
<text x="268.70" y="585.30" font-size="8.4" textLength="89.20" lengthAdjust="spacingAndGlyphs" fill="#111" >+Vit C-treated CD8<tspan font-size="5" dy="-3">+</tspan><tspan dy="3"> iTregs</tspan></text>
</svg><div id="bd"></div></div></body></html>
